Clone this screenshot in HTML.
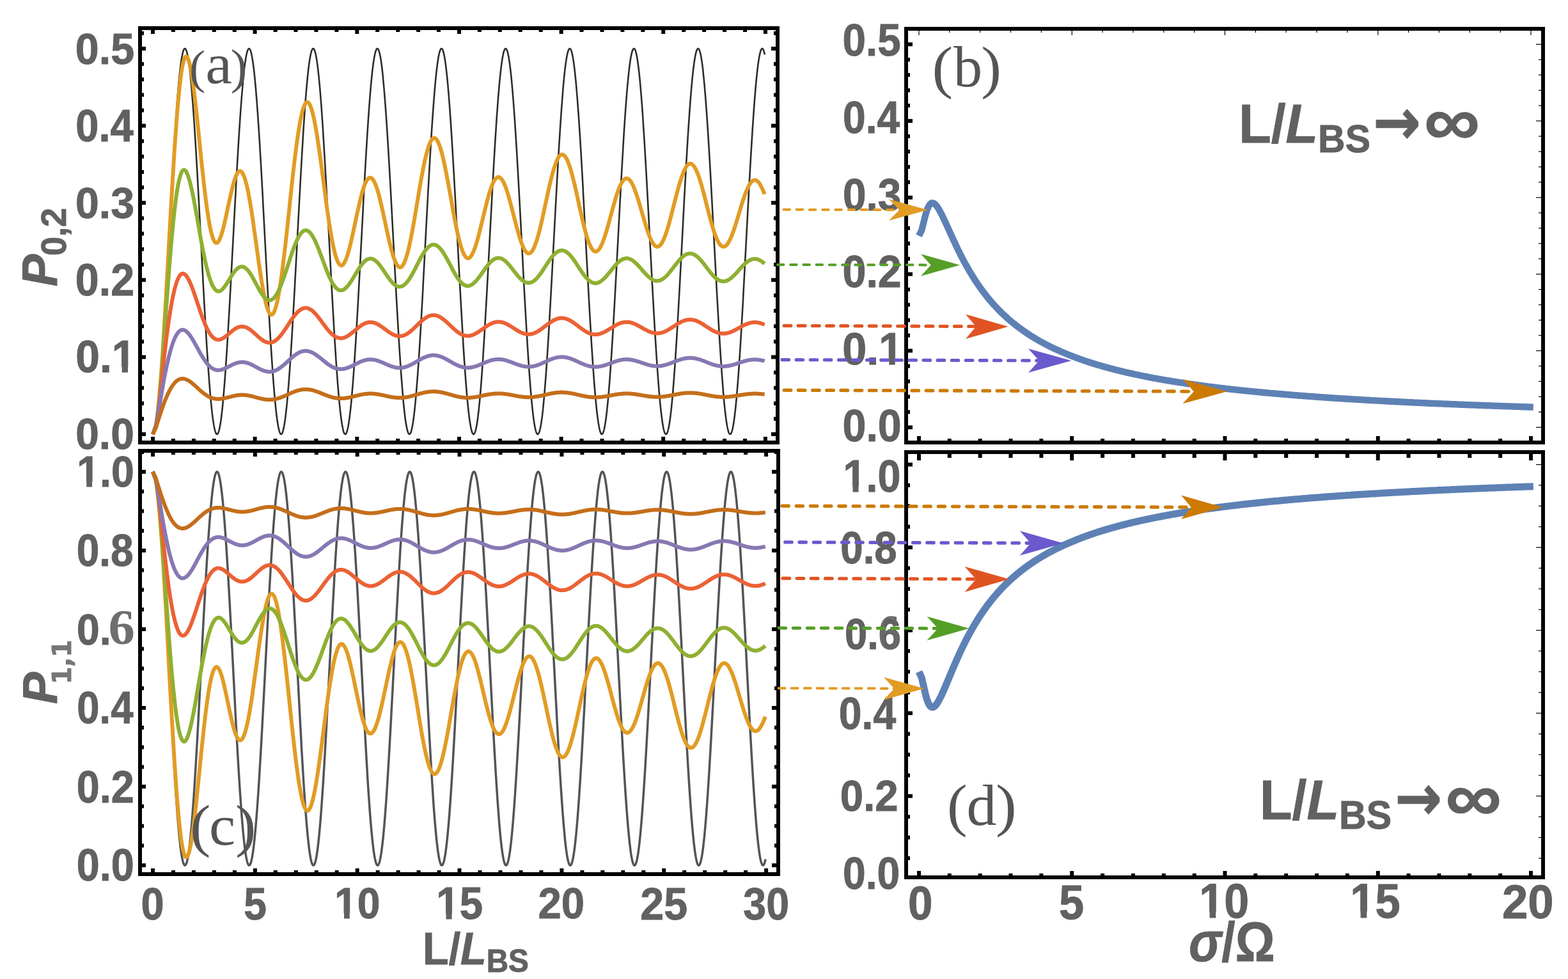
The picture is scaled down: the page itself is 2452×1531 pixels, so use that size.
<!DOCTYPE html>
<html lang="en"><head><meta charset="utf-8"><title>Figure</title>
<style>html,body{margin:0;padding:0;background:#fff;overflow:hidden}svg{display:block}</style>
</head><body>
<svg width="2452" height="1531" viewBox="0 0 2452 1531" role="img" aria-label="Two-photon probabilities versus coupler length and disorder">
<rect width="2452" height="1531" fill="#fff"/>
<g fill="none" stroke-linejoin="round">
<path d="M239.0 679.0L239.4 678.9L239.8 678.6L240.2 678.2L240.6 677.5L241.0 676.7L241.4 675.6L241.8 674.4L242.2 673.0L242.6 671.4L243.0 669.6L243.4 667.7L243.8 665.6L244.2 663.2L244.6 660.8L245.0 658.1L245.4 655.2L245.8 652.2L246.2 649.0L246.6 645.7L247.0 642.2L247.4 638.5L247.8 634.6L248.2 630.6L248.6 626.4L249.0 622.1L249.4 617.6L249.8 613.0L250.2 608.2L250.6 603.3L251.0 598.3L251.4 593.1L251.8 587.7L252.2 582.3L252.6 576.7L253.0 571.0L253.4 565.1L253.8 559.2L254.2 553.1L254.6 546.9L254.9 540.7L255.3 534.3L255.7 527.8L256.1 521.2L256.5 514.6L256.9 507.8L257.3 501.0L257.7 494.1L258.1 487.1L258.5 480.0L258.9 472.9L259.3 465.8L259.7 458.5L260.1 451.3L260.5 443.9L260.9 436.6L261.3 429.2L261.7 421.7L262.1 414.3L262.5 406.8L262.9 399.3L263.3 391.8L263.7 384.2L264.1 376.7L264.5 369.2L264.9 361.7L265.3 354.1L265.7 346.6L266.1 339.2L266.5 331.7L266.9 324.3L267.3 316.9L267.7 309.5L268.1 302.2L268.5 294.9L268.9 287.7L269.3 280.6L269.7 273.5L270.1 266.4L270.5 259.5L270.9 252.6L271.3 245.8L271.7 239.0L272.1 232.4L272.5 225.8L272.9 219.4L273.3 213.0L273.7 206.8L274.1 200.6L274.5 194.6L274.9 188.6L275.3 182.8L275.7 177.1L276.1 171.6L276.5 166.1L276.9 160.8L277.3 155.7L277.7 150.6L278.1 145.7L278.5 141.0L278.9 136.4L279.3 132.0L279.7 127.7L280.1 123.5L280.5 119.6L280.9 115.7L281.3 112.1L281.7 108.6L282.1 105.3L282.5 102.1L282.9 99.1L283.3 96.3L283.7 93.7L284.1 91.3L284.5 89.0L284.9 86.9L285.3 85.0L285.7 83.2L286.0 81.7L286.4 80.3L286.8 79.1L287.2 78.2L287.6 77.3L288.0 76.7L288.4 76.3L288.8 76.1L289.2 76.0L289.6 76.1L290.0 76.5L290.4 77.0L290.8 77.7L291.2 78.5L291.6 79.6L292.0 80.9L292.4 82.3L292.8 83.9L293.2 85.8L293.6 87.7L294.0 89.9L294.4 92.3L294.8 94.8L295.2 97.5L295.6 100.4L296.0 103.4L296.4 106.6L296.8 110.0L297.2 113.6L297.6 117.3L298.0 121.2L298.4 125.3L298.8 129.5L299.2 133.8L299.6 138.3L300.0 143.0L300.4 147.8L300.8 152.7L301.2 157.8L301.6 163.0L302.0 168.4L302.4 173.9L302.8 179.5L303.2 185.3L303.6 191.1L304.0 197.1L304.4 203.2L304.8 209.4L305.2 215.7L305.6 222.1L306.0 228.6L306.4 235.2L306.8 241.9L307.2 248.6L307.6 255.5L308.0 262.4L308.4 269.4L308.8 276.5L309.2 283.6L309.6 290.8L310.0 298.0L310.4 305.3L310.8 312.6L311.2 320.0L311.6 327.4L312.0 334.8L312.4 342.3L312.8 349.8L313.2 357.3L313.6 364.8L314.0 372.3L314.4 379.9L314.8 387.4L315.2 394.9L315.6 402.4L316.0 409.9L316.4 417.4L316.8 424.9L317.2 432.3L317.5 439.7L317.9 447.0L318.3 454.3L318.7 461.6L319.1 468.8L319.5 475.9L319.9 483.0L320.3 490.0L320.7 497.0L321.1 503.9L321.5 510.7L321.9 517.4L322.3 524.0L322.7 530.5L323.1 537.0L323.5 543.3L323.9 549.5L324.3 555.7L324.7 561.7L325.1 567.6L325.5 573.4L325.9 579.0L326.3 584.6L326.7 590.0L327.1 595.3L327.5 600.4L327.9 605.4L328.3 610.3L328.7 615.0L329.1 619.5L329.5 624.0L329.9 628.2L330.3 632.3L330.7 636.3L331.1 640.0L331.5 643.7L331.9 647.1L332.3 650.4L332.7 653.5L333.1 656.5L333.5 659.2L333.9 661.8L334.3 664.2L334.7 666.5L335.1 668.5L335.5 670.4L335.9 672.1L336.3 673.6L336.7 674.9L337.1 676.1L337.5 677.0L337.9 677.8L338.3 678.4L338.7 678.8L339.1 679.0L339.5 679.0L339.9 678.8L340.3 678.4L340.7 677.9L341.1 677.2L341.5 676.2L341.9 675.1L342.3 673.8L342.7 672.4L343.1 670.7L343.5 668.8L343.9 666.8L344.3 664.6L344.7 662.2L345.1 659.7L345.5 656.9L345.9 654.0L346.3 650.9L346.7 647.7L347.1 644.2L347.5 640.6L347.9 636.9L348.3 633.0L348.6 628.9L349.0 624.6L349.4 620.2L349.8 615.7L350.2 611.0L350.6 606.2L351.0 601.2L351.4 596.1L351.8 590.8L352.2 585.4L352.6 579.9L353.0 574.3L353.4 568.5L353.8 562.6L354.2 556.6L354.6 550.5L355.0 544.3L355.4 538.0L355.8 531.6L356.2 525.0L356.6 518.4L357.0 511.7L357.4 504.9L357.8 498.1L358.2 491.1L358.6 484.1L359.0 477.1L359.4 469.9L359.8 462.7L360.2 455.5L360.6 448.2L361.0 440.8L361.4 433.5L361.8 426.0L362.2 418.6L362.6 411.1L363.0 403.6L363.4 396.1L363.8 388.6L364.2 381.1L364.6 373.5L365.0 366.0L365.4 358.5L365.8 351.0L366.2 343.5L366.6 336.0L367.0 328.6L367.4 321.2L367.8 313.8L368.2 306.4L368.6 299.1L369.0 291.9L369.4 284.7L369.8 277.6L370.2 270.5L370.6 263.5L371.0 256.6L371.4 249.7L371.8 242.9L372.2 236.2L372.6 229.6L373.0 223.1L373.4 216.7L373.8 210.4L374.2 204.2L374.6 198.0L375.0 192.1L375.4 186.2L375.8 180.4L376.2 174.8L376.6 169.3L377.0 163.9L377.4 158.6L377.8 153.5L378.2 148.6L378.6 143.7L379.0 139.1L379.4 134.5L379.8 130.1L380.1 125.9L380.5 121.8L380.9 117.9L381.3 114.2L381.7 110.6L382.1 107.2L382.5 103.9L382.9 100.8L383.3 97.9L383.7 95.2L384.1 92.6L384.5 90.3L384.9 88.1L385.3 86.1L385.7 84.2L386.1 82.6L386.5 81.1L386.9 79.8L387.3 78.7L387.7 77.8L388.1 77.1L388.5 76.5L388.9 76.2L389.3 76.0L389.7 76.0L390.1 76.3L390.5 76.7L390.9 77.2L391.3 78.0L391.7 79.0L392.1 80.1L392.5 81.5L392.9 83.0L393.3 84.7L393.7 86.6L394.1 88.6L394.5 90.9L394.9 93.3L395.3 95.9L395.7 98.7L396.1 101.6L396.5 104.8L396.9 108.1L397.3 111.5L397.7 115.1L398.1 118.9L398.5 122.9L398.9 127.0L399.3 131.3L399.7 135.7L400.1 140.3L400.5 145.0L400.9 149.9L401.3 154.9L401.7 160.0L402.1 165.3L402.5 170.7L402.9 176.2L403.3 181.9L403.7 187.7L404.1 193.6L404.5 199.6L404.9 205.8L405.3 212.0L405.7 218.4L406.1 224.8L406.5 231.3L406.9 238.0L407.3 244.7L407.7 251.5L408.1 258.4L408.5 265.3L408.9 272.4L409.3 279.4L409.7 286.6L410.1 293.8L410.5 301.1L410.9 308.4L411.2 315.7L411.6 323.1L412.0 330.5L412.4 338.0L412.8 345.5L413.2 353.0L413.6 360.5L414.0 368.0L414.4 375.5L414.8 383.0L415.2 390.6L415.6 398.1L416.0 405.6L416.4 413.1L416.8 420.5L417.2 428.0L417.6 435.4L418.0 442.8L418.4 450.1L418.8 457.4L419.2 464.6L419.6 471.8L420.0 478.9L420.4 486.0L420.8 493.0L421.2 499.9L421.6 506.7L422.0 513.5L422.4 520.2L422.8 526.8L423.2 533.3L423.6 539.7L424.0 546.0L424.4 552.1L424.8 558.2L425.2 564.2L425.6 570.0L426.0 575.8L426.4 581.4L426.8 586.9L427.2 592.2L427.6 597.4L428.0 602.5L428.4 607.5L428.8 612.3L429.2 616.9L429.6 621.4L430.0 625.8L430.4 630.0L430.8 634.0L431.2 637.9L431.6 641.6L432.0 645.1L432.4 648.5L432.8 651.7L433.2 654.8L433.6 657.7L434.0 660.3L434.4 662.9L434.8 665.2L435.2 667.4L435.6 669.3L436.0 671.1L436.4 672.8L436.8 674.2L437.2 675.4L437.6 676.5L438.0 677.4L438.4 678.1L438.8 678.6L439.2 678.9L439.6 679.0L440.0 678.9L440.4 678.7L440.8 678.2L441.2 677.6L441.6 676.8L442.0 675.8L442.4 674.6L442.7 673.2L443.1 671.7L443.5 669.9L443.9 668.0L444.3 665.9L444.7 663.6L445.1 661.2L445.5 658.5L445.9 655.7L446.3 652.7L446.7 649.6L447.1 646.2L447.5 642.7L447.9 639.1L448.3 635.2L448.7 631.3L449.1 627.1L449.5 622.8L449.9 618.4L450.3 613.8L450.7 609.0L451.1 604.1L451.5 599.1L451.9 593.9L452.3 588.6L452.7 583.1L453.1 577.6L453.5 571.9L453.9 566.1L454.3 560.1L454.7 554.1L455.1 547.9L455.5 541.7L455.9 535.3L456.3 528.8L456.7 522.3L457.1 515.6L457.5 508.9L457.9 502.1L458.3 495.2L458.7 488.2L459.1 481.2L459.5 474.1L459.9 466.9L460.3 459.7L460.7 452.4L461.1 445.1L461.5 437.7L461.9 430.3L462.3 422.9L462.7 415.4L463.1 408.0L463.5 400.5L463.9 393.0L464.3 385.4L464.7 377.9L465.1 370.4L465.5 362.8L465.9 355.3L466.3 347.8L466.7 340.3L467.1 332.9L467.5 325.4L467.9 318.0L468.3 310.7L468.7 303.4L469.1 296.1L469.5 288.9L469.9 281.7L470.3 274.6L470.7 267.5L471.1 260.6L471.5 253.7L471.9 246.8L472.3 240.1L472.7 233.4L473.1 226.9L473.5 220.4L473.8 214.0L474.2 207.7L474.6 201.6L475.0 195.5L475.4 189.6L475.8 183.7L476.2 178.0L476.6 172.4L477.0 167.0L477.4 161.7L477.8 156.5L478.2 151.4L478.6 146.5L479.0 141.7L479.4 137.1L479.8 132.7L480.2 128.3L480.6 124.2L481.0 120.2L481.4 116.3L481.8 112.6L482.2 109.1L482.6 105.8L483.0 102.6L483.4 99.6L483.8 96.8L484.2 94.1L484.6 91.6L485.0 89.3L485.4 87.2L485.8 85.3L486.2 83.5L486.6 81.9L487.0 80.5L487.4 79.3L487.8 78.3L488.2 77.5L488.6 76.8L489.0 76.4L489.4 76.1L489.8 76.0L490.2 76.1L490.6 76.4L491.0 76.9L491.4 77.5L491.8 78.4L492.2 79.4L492.6 80.7L493.0 82.1L493.4 83.7L493.8 85.5L494.2 87.4L494.6 89.6L495.0 91.9L495.4 94.4L495.8 97.1L496.2 99.9L496.6 102.9L497.0 106.1L497.4 109.5L497.8 113.0L498.2 116.7L498.6 120.6L499.0 124.6L499.4 128.8L499.8 133.1L500.2 137.6L500.6 142.2L501.0 147.0L501.4 151.9L501.8 157.0L502.2 162.2L502.6 167.6L503.0 173.0L503.4 178.6L503.8 184.3L504.2 190.2L504.6 196.1L505.0 202.2L505.3 208.4L505.7 214.7L506.1 221.1L506.5 227.6L506.9 234.1L507.3 240.8L507.7 247.6L508.1 254.4L508.5 261.3L508.9 268.3L509.3 275.3L509.7 282.4L510.1 289.6L510.5 296.9L510.9 304.1L511.3 311.5L511.7 318.8L512.1 326.2L512.5 333.7L512.9 341.1L513.3 348.6L513.7 356.1L514.1 363.6L514.5 371.2L514.9 378.7L515.3 386.2L515.7 393.7L516.1 401.3L516.5 408.8L516.9 416.2L517.3 423.7L517.7 431.1L518.1 438.5L518.5 445.9L518.9 453.2L519.3 460.4L519.7 467.6L520.1 474.8L520.5 481.9L520.9 488.9L521.3 495.9L521.7 502.8L522.1 509.6L522.5 516.3L522.9 523.0L523.3 529.5L523.7 536.0L524.1 542.3L524.5 548.6L524.9 554.7L525.3 560.8L525.7 566.7L526.1 572.5L526.5 578.2L526.9 583.7L527.3 589.1L527.7 594.4L528.1 599.6L528.5 604.6L528.9 609.5L529.3 614.2L529.7 618.8L530.1 623.3L530.5 627.6L530.9 631.7L531.3 635.7L531.7 639.5L532.1 643.1L532.5 646.6L532.9 649.9L533.3 653.0L533.7 656.0L534.1 658.8L534.5 661.4L534.9 663.9L535.3 666.1L535.7 668.2L536.1 670.1L536.4 671.9L536.8 673.4L537.2 674.7L537.6 675.9L538.0 676.9L538.4 677.7L538.8 678.3L539.2 678.7L539.6 678.9L540.0 679.0L540.4 678.9L540.8 678.5L541.2 678.0L541.6 677.3L542.0 676.4L542.4 675.3L542.8 674.1L543.2 672.6L543.6 671.0L544.0 669.1L544.4 667.2L544.8 665.0L545.2 662.6L545.6 660.1L546.0 657.4L546.4 654.5L546.8 651.4L547.2 648.2L547.6 644.8L548.0 641.2L548.4 637.5L548.8 633.6L549.2 629.5L549.6 625.3L550.0 621.0L550.4 616.4L550.8 611.8L551.2 607.0L551.6 602.0L552.0 596.9L552.4 591.7L552.8 586.3L553.2 580.8L553.6 575.2L554.0 569.4L554.4 563.6L554.8 557.6L555.2 551.5L555.6 545.3L556.0 539.0L556.4 532.6L556.8 526.1L557.2 519.5L557.6 512.8L558.0 506.0L558.4 499.2L558.8 492.2L559.2 485.2L559.6 478.2L560.0 471.0L560.4 463.9L560.8 456.6L561.2 449.3L561.6 442.0L562.0 434.6L562.4 427.2L562.8 419.8L563.2 412.3L563.6 404.8L564.0 397.3L564.4 389.8L564.8 382.3L565.2 374.7L565.6 367.2L566.0 359.7L566.4 352.2L566.8 344.7L567.2 337.2L567.6 329.7L567.9 322.3L568.3 314.9L568.7 307.6L569.1 300.3L569.5 293.0L569.9 285.8L570.3 278.7L570.7 271.6L571.1 264.6L571.5 257.7L571.9 250.8L572.3 244.0L572.7 237.3L573.1 230.7L573.5 224.1L573.9 217.7L574.3 211.4L574.7 205.1L575.1 199.0L575.5 193.0L575.9 187.1L576.3 181.3L576.7 175.7L577.1 170.1L577.5 164.7L577.9 159.5L578.3 154.3L578.7 149.3L579.1 144.5L579.5 139.8L579.9 135.2L580.3 130.8L580.7 126.6L581.1 122.5L581.5 118.5L581.9 114.8L582.3 111.1L582.7 107.7L583.1 104.4L583.5 101.3L583.9 98.4L584.3 95.6L584.7 93.0L585.1 90.6L585.5 88.4L585.9 86.4L586.3 84.5L586.7 82.8L587.1 81.3L587.5 80.0L587.9 78.9L588.3 77.9L588.7 77.2L589.1 76.6L589.5 76.2L589.9 76.0L590.3 76.0L590.7 76.2L591.1 76.6L591.5 77.1L591.9 77.9L592.3 78.8L592.7 79.9L593.1 81.2L593.5 82.7L593.9 84.4L594.3 86.3L594.7 88.3L595.1 90.5L595.5 92.9L595.9 95.5L596.3 98.2L596.7 101.2L597.1 104.3L597.5 107.5L597.9 111.0L598.3 114.6L598.7 118.3L599.0 122.3L599.4 126.3L599.8 130.6L600.2 135.0L600.6 139.5L601.0 144.2L601.4 149.1L601.8 154.1L602.2 159.2L602.6 164.4L603.0 169.8L603.4 175.4L603.8 181.0L604.2 186.8L604.6 192.7L605.0 198.7L605.4 204.8L605.8 211.0L606.2 217.4L606.6 223.8L607.0 230.3L607.4 236.9L607.8 243.6L608.2 250.4L608.6 257.3L609.0 264.2L609.4 271.2L609.8 278.3L610.2 285.5L610.6 292.7L611.0 299.9L611.4 307.2L611.8 314.6L612.2 321.9L612.6 329.4L613.0 336.8L613.4 344.3L613.8 351.8L614.2 359.3L614.6 366.8L615.0 374.3L615.4 381.9L615.8 389.4L616.2 396.9L616.6 404.4L617.0 411.9L617.4 419.4L617.8 426.8L618.2 434.2L618.6 441.6L619.0 448.9L619.4 456.2L619.8 463.5L620.2 470.7L620.6 477.8L621.0 484.9L621.4 491.9L621.8 498.8L622.2 505.7L622.6 512.4L623.0 519.1L623.4 525.7L623.8 532.2L624.2 538.6L624.6 545.0L625.0 551.2L625.4 557.3L625.8 563.3L626.2 569.1L626.6 574.9L627.0 580.5L627.4 586.0L627.8 591.4L628.2 596.6L628.6 601.7L629.0 606.7L629.4 611.5L629.8 616.2L630.2 620.7L630.5 625.1L630.9 629.3L631.3 633.4L631.7 637.3L632.1 641.0L632.5 644.6L632.9 648.0L633.3 651.2L633.7 654.3L634.1 657.2L634.5 659.9L634.9 662.5L635.3 664.8L635.7 667.0L636.1 669.0L636.5 670.9L636.9 672.5L637.3 674.0L637.7 675.3L638.1 676.3L638.5 677.3L638.9 678.0L639.3 678.5L639.7 678.8L640.1 679.0L640.5 679.0L640.9 678.7L641.3 678.3L641.7 677.7L642.1 676.9L642.5 676.0L642.9 674.8L643.3 673.5L643.7 671.9L644.1 670.2L644.5 668.3L644.9 666.3L645.3 664.0L645.7 661.6L646.1 659.0L646.5 656.2L646.9 653.2L647.3 650.1L647.7 646.8L648.1 643.3L648.5 639.7L648.9 635.9L649.3 631.9L649.7 627.8L650.1 623.5L650.5 619.1L650.9 614.5L651.3 609.8L651.7 604.9L652.1 599.9L652.5 594.7L652.9 589.4L653.3 584.0L653.7 578.5L654.1 572.8L654.5 567.0L654.9 561.1L655.3 555.0L655.7 548.9L656.1 542.7L656.5 536.3L656.9 529.9L657.3 523.3L657.7 516.7L658.1 509.9L658.5 503.1L658.9 496.3L659.3 489.3L659.7 482.3L660.1 475.2L660.5 468.0L660.9 460.8L661.3 453.6L661.6 446.2L662.0 438.9L662.4 431.5L662.8 424.1L663.2 416.6L663.6 409.1L664.0 401.7L664.4 394.1L664.8 386.6L665.2 379.1L665.6 371.6L666.0 364.0L666.4 356.5L666.8 349.0L667.2 341.5L667.6 334.1L668.0 326.6L668.4 319.2L668.8 311.8L669.2 304.5L669.6 297.2L670.0 290.0L670.4 282.8L670.8 275.7L671.2 268.7L671.6 261.7L672.0 254.7L672.4 247.9L672.8 241.2L673.2 234.5L673.6 227.9L674.0 221.4L674.4 215.0L674.8 208.7L675.2 202.5L675.6 196.5L676.0 190.5L676.4 184.6L676.8 178.9L677.2 173.3L677.6 167.8L678.0 162.5L678.4 157.3L678.8 152.2L679.2 147.3L679.6 142.5L680.0 137.8L680.4 133.3L680.8 129.0L681.2 124.8L681.6 120.8L682.0 116.9L682.4 113.2L682.8 109.7L683.2 106.3L683.6 103.1L684.0 100.1L684.4 97.2L684.8 94.5L685.2 92.0L685.6 89.7L686.0 87.5L686.4 85.6L686.8 83.8L687.2 82.2L687.6 80.7L688.0 79.5L688.4 78.4L688.8 77.6L689.2 76.9L689.6 76.4L690.0 76.1L690.4 76.0L690.8 76.1L691.2 76.3L691.6 76.8L692.0 77.4L692.4 78.2L692.8 79.3L693.1 80.5L693.5 81.8L693.9 83.4L694.3 85.2L694.7 87.1L695.1 89.2L695.5 91.5L695.9 94.0L696.3 96.6L696.7 99.4L697.1 102.4L697.5 105.6L697.9 109.0L698.3 112.5L698.7 116.1L699.1 120.0L699.5 124.0L699.9 128.1L700.3 132.4L700.7 136.9L701.1 141.5L701.5 146.3L701.9 151.2L702.3 156.2L702.7 161.4L703.1 166.7L703.5 172.2L703.9 177.7L704.3 183.4L704.7 189.3L705.1 195.2L705.5 201.2L705.9 207.4L706.3 213.7L706.7 220.0L707.1 226.5L707.5 233.1L707.9 239.7L708.3 246.5L708.7 253.3L709.1 260.2L709.5 267.2L709.9 274.2L710.3 281.3L710.7 288.5L711.1 295.7L711.5 303.0L711.9 310.3L712.3 317.7L712.7 325.1L713.1 332.5L713.5 339.9L713.9 347.4L714.3 354.9L714.7 362.4L715.1 370.0L715.5 377.5L715.9 385.0L716.3 392.6L716.7 400.1L717.1 407.6L717.5 415.1L717.9 422.5L718.3 429.9L718.7 437.3L719.1 444.7L719.5 452.0L719.9 459.3L720.3 466.5L720.7 473.7L721.1 480.8L721.5 487.8L721.9 494.8L722.3 501.7L722.7 508.5L723.1 515.3L723.5 521.9L723.9 528.5L724.2 534.9L724.6 541.3L725.0 547.6L725.4 553.8L725.8 559.8L726.2 565.7L726.6 571.6L727.0 577.3L727.4 582.8L727.8 588.3L728.2 593.6L728.6 598.8L729.0 603.8L729.4 608.7L729.8 613.5L730.2 618.1L730.6 622.6L731.0 626.9L731.4 631.0L731.8 635.0L732.2 638.9L732.6 642.5L733.0 646.0L733.4 649.4L733.8 652.6L734.2 655.6L734.6 658.4L735.0 661.0L735.4 663.5L735.8 665.8L736.2 667.9L736.6 669.8L737.0 671.6L737.4 673.2L737.8 674.5L738.2 675.7L738.6 676.7L739.0 677.6L739.4 678.2L739.8 678.7L740.2 678.9L740.6 679.0L741.0 678.9L741.4 678.6L741.8 678.1L742.2 677.4L742.6 676.6L743.0 675.5L743.4 674.3L743.8 672.8L744.2 671.2L744.6 669.4L745.0 667.5L745.4 665.3L745.8 663.0L746.2 660.5L746.6 657.8L747.0 654.9L747.4 651.9L747.8 648.7L748.2 645.3L748.6 641.8L749.0 638.1L749.4 634.2L749.8 630.2L750.2 626.0L750.6 621.7L751.0 617.2L751.4 612.5L751.8 607.7L752.2 602.8L752.6 597.7L753.0 592.5L753.4 587.2L753.8 581.7L754.2 576.1L754.6 570.4L755.0 564.5L755.4 558.5L755.7 552.5L756.1 546.3L756.5 540.0L756.9 533.6L757.3 527.1L757.7 520.5L758.1 513.8L758.5 507.1L758.9 500.3L759.3 493.3L759.7 486.4L760.1 479.3L760.5 472.2L760.9 465.0L761.3 457.8L761.7 450.5L762.1 443.2L762.5 435.8L762.9 428.4L763.3 420.9L763.7 413.5L764.1 406.0L764.5 398.5L764.9 391.0L765.3 383.4L765.7 375.9L766.1 368.4L766.5 360.9L766.9 353.4L767.3 345.9L767.7 338.4L768.1 330.9L768.5 323.5L768.9 316.1L769.3 308.8L769.7 301.4L770.1 294.2L770.5 287.0L770.9 279.8L771.3 272.7L771.7 265.7L772.1 258.7L772.5 251.9L772.9 245.1L773.3 238.3L773.7 231.7L774.1 225.2L774.5 218.7L774.9 212.4L775.3 206.1L775.7 200.0L776.1 193.9L776.5 188.0L776.9 182.2L777.3 176.5L777.7 171.0L778.1 165.6L778.5 160.3L778.9 155.1L779.3 150.1L779.7 145.2L780.1 140.5L780.5 135.9L780.9 131.5L781.3 127.2L781.7 123.1L782.1 119.1L782.5 115.3L782.9 111.7L783.3 108.2L783.7 104.9L784.1 101.8L784.5 98.8L784.9 96.0L785.3 93.4L785.7 91.0L786.1 88.7L786.5 86.7L786.8 84.8L787.2 83.1L787.6 81.5L788.0 80.2L788.4 79.0L788.8 78.1L789.2 77.3L789.6 76.7L790.0 76.3L790.4 76.0L790.8 76.0L791.2 76.2L791.6 76.5L792.0 77.0L792.4 77.7L792.8 78.7L793.2 79.7L793.6 81.0L794.0 82.5L794.4 84.1L794.8 86.0L795.2 88.0L795.6 90.1L796.0 92.5L796.4 95.1L796.8 97.8L797.2 100.7L797.6 103.8L798.0 107.0L798.4 110.4L798.8 114.0L799.2 117.7L799.6 121.6L800.0 125.7L800.4 129.9L800.8 134.3L801.2 138.8L801.6 143.5L802.0 148.3L802.4 153.3L802.8 158.4L803.2 163.6L803.6 169.0L804.0 174.5L804.4 180.1L804.8 185.9L805.2 191.7L805.6 197.7L806.0 203.8L806.4 210.0L806.8 216.3L807.2 222.8L807.6 229.3L808.0 235.9L808.4 242.6L808.8 249.3L809.2 256.2L809.6 263.1L810.0 270.1L810.4 277.2L810.8 284.3L811.2 291.5L811.6 298.8L812.0 306.1L812.4 313.4L812.8 320.8L813.2 328.2L813.6 335.6L814.0 343.1L814.4 350.6L814.8 358.1L815.2 365.6L815.6 373.1L816.0 380.7L816.4 388.2L816.8 395.7L817.2 403.2L817.6 410.7L817.9 418.2L818.3 425.6L818.7 433.1L819.1 440.4L819.5 447.8L819.9 455.1L820.3 462.3L820.7 469.5L821.1 476.7L821.5 483.8L821.9 490.8L822.3 497.7L822.7 504.6L823.1 511.4L823.5 518.1L823.9 524.7L824.3 531.2L824.7 537.6L825.1 544.0L825.5 550.2L825.9 556.3L826.3 562.3L826.7 568.2L827.1 574.0L827.5 579.6L827.9 585.2L828.3 590.6L828.7 595.8L829.1 600.9L829.5 605.9L829.9 610.8L830.3 615.5L830.7 620.0L831.1 624.4L831.5 628.7L831.9 632.7L832.3 636.7L832.7 640.4L833.1 644.0L833.5 647.5L833.9 650.7L834.3 653.8L834.7 656.8L835.1 659.5L835.5 662.1L835.9 664.5L836.3 666.7L836.7 668.7L837.1 670.6L837.5 672.3L837.9 673.8L838.3 675.1L838.7 676.2L839.1 677.1L839.5 677.9L839.9 678.4L840.3 678.8L840.7 679.0L841.1 679.0L841.5 678.8L841.9 678.4L842.3 677.8L842.7 677.1L843.1 676.1L843.5 675.0L843.9 673.7L844.3 672.2L844.7 670.5L845.1 668.6L845.5 666.6L845.9 664.4L846.3 662.0L846.7 659.4L847.1 656.6L847.5 653.7L847.9 650.6L848.3 647.3L848.7 643.9L849.1 640.2L849.4 636.5L849.8 632.5L850.2 628.4L850.6 624.2L851.0 619.8L851.4 615.2L851.8 610.5L852.2 605.7L852.6 600.7L853.0 595.5L853.4 590.3L853.8 584.9L854.2 579.3L854.6 573.7L855.0 567.9L855.4 562.0L855.8 556.0L856.2 549.9L856.6 543.6L857.0 537.3L857.4 530.9L857.8 524.3L858.2 517.7L858.6 511.0L859.0 504.2L859.4 497.4L859.8 490.4L860.2 483.4L860.6 476.3L861.0 469.2L861.4 462.0L861.8 454.7L862.2 447.4L862.6 440.1L863.0 432.7L863.4 425.3L863.8 417.8L864.2 410.3L864.6 402.8L865.0 395.3L865.4 387.8L865.8 380.3L866.2 372.7L866.6 365.2L867.0 357.7L867.4 350.2L867.8 342.7L868.2 335.2L868.6 327.8L869.0 320.4L869.4 313.0L869.8 305.7L870.2 298.4L870.6 291.1L871.0 284.0L871.4 276.8L871.8 269.8L872.2 262.8L872.6 255.8L873.0 249.0L873.4 242.2L873.8 235.5L874.2 228.9L874.6 222.4L875.0 216.0L875.4 209.7L875.8 203.5L876.2 197.4L876.6 191.4L877.0 185.6L877.4 179.8L877.8 174.2L878.2 168.7L878.6 163.3L879.0 158.1L879.4 153.0L879.8 148.0L880.2 143.2L880.5 138.6L880.9 134.0L881.3 129.7L881.7 125.5L882.1 121.4L882.5 117.5L882.9 113.8L883.3 110.2L883.7 106.8L884.1 103.6L884.5 100.5L884.9 97.6L885.3 94.9L885.7 92.4L886.1 90.0L886.5 87.9L886.9 85.9L887.3 84.0L887.7 82.4L888.1 80.9L888.5 79.7L888.9 78.6L889.3 77.7L889.7 77.0L890.1 76.5L890.5 76.2L890.9 76.0L891.3 76.1L891.7 76.3L892.1 76.7L892.5 77.3L892.9 78.1L893.3 79.1L893.7 80.3L894.1 81.6L894.5 83.1L894.9 84.9L895.3 86.8L895.7 88.9L896.1 91.1L896.5 93.6L896.9 96.2L897.3 99.0L897.7 102.0L898.1 105.1L898.5 108.4L898.9 111.9L899.3 115.5L899.7 119.3L900.1 123.3L900.5 127.4L900.9 131.7L901.3 136.2L901.7 140.8L902.1 145.5L902.5 150.4L902.9 155.4L903.3 160.6L903.7 165.9L904.1 171.3L904.5 176.8L904.9 182.5L905.3 188.3L905.7 194.2L906.1 200.3L906.5 206.4L906.9 212.7L907.3 219.0L907.7 225.5L908.1 232.0L908.5 238.7L908.9 245.4L909.3 252.2L909.7 259.1L910.1 266.1L910.5 273.1L910.9 280.2L911.3 287.3L911.7 294.6L912.0 301.8L912.4 309.1L912.8 316.5L913.2 323.9L913.6 331.3L914.0 338.8L914.4 346.2L914.8 353.7L915.2 361.3L915.6 368.8L916.0 376.3L916.4 383.8L916.8 391.4L917.2 398.9L917.6 406.4L918.0 413.9L918.4 421.3L918.8 428.8L919.2 436.2L919.6 443.5L920.0 450.9L920.4 458.1L920.8 465.4L921.2 472.5L921.6 479.7L922.0 486.7L922.4 493.7L922.8 500.6L923.2 507.4L923.6 514.2L924.0 520.9L924.4 527.4L924.8 533.9L925.2 540.3L925.6 546.6L926.0 552.8L926.4 558.9L926.8 564.8L927.2 570.7L927.6 576.4L928.0 582.0L928.4 587.4L928.8 592.8L929.2 598.0L929.6 603.1L930.0 608.0L930.4 612.8L930.8 617.4L931.2 621.9L931.6 626.2L932.0 630.4L932.4 634.4L932.8 638.3L933.2 642.0L933.6 645.5L934.0 648.9L934.4 652.1L934.8 655.1L935.2 657.9L935.6 660.6L936.0 663.1L936.4 665.4L936.8 667.6L937.2 669.5L937.6 671.3L938.0 672.9L938.4 674.3L938.8 675.6L939.2 676.6L939.6 677.5L940.0 678.1L940.4 678.6L940.8 678.9L941.2 679.0L941.6 678.9L942.0 678.6L942.4 678.2L942.8 677.5L943.1 676.7L943.5 675.7L943.9 674.5L944.3 673.1L944.7 671.5L945.1 669.7L945.5 667.8L945.9 665.7L946.3 663.4L946.7 660.9L947.1 658.2L947.5 655.4L947.9 652.4L948.3 649.2L948.7 645.9L949.1 642.4L949.5 638.7L949.9 634.8L950.3 630.8L950.7 626.7L951.1 622.3L951.5 617.9L951.9 613.3L952.3 608.5L952.7 603.6L953.1 598.5L953.5 593.3L953.9 588.0L954.3 582.6L954.7 577.0L955.1 571.3L955.5 565.4L955.9 559.5L956.3 553.4L956.7 547.3L957.1 541.0L957.5 534.6L957.9 528.1L958.3 521.6L958.7 514.9L959.1 508.2L959.5 501.3L959.9 494.4L960.3 487.5L960.7 480.4L961.1 473.3L961.5 466.1L961.9 458.9L962.3 451.6L962.7 444.3L963.1 437.0L963.5 429.6L963.9 422.1L964.3 414.7L964.7 407.2L965.1 399.7L965.5 392.2L965.9 384.6L966.3 377.1L966.7 369.6L967.1 362.1L967.5 354.5L967.9 347.0L968.3 339.6L968.7 332.1L969.1 324.7L969.5 317.3L969.9 309.9L970.3 302.6L970.7 295.3L971.1 288.1L971.5 280.9L971.9 273.8L972.3 266.8L972.7 259.8L973.1 252.9L973.5 246.1L973.9 239.4L974.3 232.7L974.6 226.2L975.0 219.7L975.4 213.3L975.8 207.1L976.2 200.9L976.6 194.9L977.0 188.9L977.4 183.1L977.8 177.4L978.2 171.9L978.6 166.4L979.0 161.1L979.4 155.9L979.8 150.9L980.2 146.0L980.6 141.3L981.0 136.6L981.4 132.2L981.8 127.9L982.2 123.7L982.6 119.8L983.0 115.9L983.4 112.3L983.8 108.8L984.2 105.4L984.6 102.3L985.0 99.3L985.4 96.5L985.8 93.8L986.2 91.4L986.6 89.1L987.0 87.0L987.4 85.1L987.8 83.3L988.2 81.8L988.6 80.4L989.0 79.2L989.4 78.2L989.8 77.4L990.2 76.8L990.6 76.3L991.0 76.1L991.4 76.0L991.8 76.1L992.2 76.4L992.6 76.9L993.0 77.6L993.4 78.5L993.8 79.6L994.2 80.8L994.6 82.2L995.0 83.9L995.4 85.6L995.8 87.6L996.2 89.8L996.6 92.1L997.0 94.7L997.4 97.3L997.8 100.2L998.2 103.3L998.6 106.5L999.0 109.9L999.4 113.4L999.8 117.1L1000.2 121.0L1000.6 125.0L1001.0 129.2L1001.4 133.6L1001.8 138.1L1002.2 142.7L1002.6 147.5L1003.0 152.5L1003.4 157.6L1003.8 162.8L1004.2 168.1L1004.6 173.6L1005.0 179.2L1005.4 184.9L1005.7 190.8L1006.1 196.8L1006.5 202.9L1006.9 209.0L1007.3 215.3L1007.7 221.7L1008.1 228.2L1008.5 234.8L1008.9 241.5L1009.3 248.3L1009.7 255.1L1010.1 262.0L1010.5 269.0L1010.9 276.1L1011.3 283.2L1011.7 290.4L1012.1 297.6L1012.5 304.9L1012.9 312.2L1013.3 319.6L1013.7 327.0L1014.1 334.4L1014.5 341.9L1014.9 349.4L1015.3 356.9L1015.7 364.4L1016.1 371.9L1016.5 379.5L1016.9 387.0L1017.3 394.5L1017.7 402.0L1018.1 409.5L1018.5 417.0L1018.9 424.5L1019.3 431.9L1019.7 439.3L1020.1 446.6L1020.5 453.9L1020.9 461.2L1021.3 468.4L1021.7 475.6L1022.1 482.6L1022.5 489.7L1022.9 496.6L1023.3 503.5L1023.7 510.3L1024.1 517.0L1024.5 523.6L1024.9 530.2L1025.3 536.6L1025.7 543.0L1026.1 549.2L1026.5 555.4L1026.9 561.4L1027.3 567.3L1027.7 573.1L1028.1 578.7L1028.5 584.3L1028.9 589.7L1029.3 595.0L1029.7 600.1L1030.1 605.1L1030.5 610.0L1030.9 614.7L1031.3 619.3L1031.7 623.7L1032.1 628.0L1032.5 632.1L1032.9 636.1L1033.3 639.9L1033.7 643.5L1034.1 646.9L1034.5 650.2L1034.9 653.4L1035.3 656.3L1035.7 659.1L1036.1 661.7L1036.5 664.1L1036.9 666.4L1037.2 668.4L1037.6 670.3L1038.0 672.0L1038.4 673.5L1038.8 674.9L1039.2 676.0L1039.6 677.0L1040.0 677.8L1040.4 678.3L1040.8 678.7L1041.2 679.0L1041.6 679.0L1042.0 678.8L1042.4 678.5L1042.8 677.9L1043.2 677.2L1043.6 676.3L1044.0 675.2L1044.4 673.9L1044.8 672.4L1045.2 670.8L1045.6 668.9L1046.0 666.9L1046.4 664.7L1046.8 662.4L1047.2 659.8L1047.6 657.1L1048.0 654.2L1048.4 651.1L1048.8 647.8L1049.2 644.4L1049.6 640.8L1050.0 637.1L1050.4 633.2L1050.8 629.1L1051.2 624.9L1051.6 620.5L1052.0 616.0L1052.4 611.3L1052.8 606.4L1053.2 601.5L1053.6 596.4L1054.0 591.1L1054.4 585.7L1054.8 580.2L1055.2 574.6L1055.6 568.8L1056.0 563.0L1056.4 557.0L1056.8 550.9L1057.2 544.6L1057.6 538.3L1058.0 531.9L1058.4 525.4L1058.8 518.8L1059.2 512.1L1059.6 505.3L1060.0 498.4L1060.4 491.5L1060.8 484.5L1061.2 477.4L1061.6 470.3L1062.0 463.1L1062.4 455.9L1062.8 448.6L1063.2 441.2L1063.6 433.8L1064.0 426.4L1064.4 419.0L1064.8 411.5L1065.2 404.0L1065.6 396.5L1066.0 389.0L1066.4 381.5L1066.8 373.9L1067.2 366.4L1067.6 358.9L1068.0 351.4L1068.3 343.9L1068.7 336.4L1069.1 329.0L1069.5 321.6L1069.9 314.2L1070.3 306.8L1070.7 299.5L1071.1 292.3L1071.5 285.1L1071.9 278.0L1072.3 270.9L1072.7 263.9L1073.1 256.9L1073.5 250.1L1073.9 243.3L1074.3 236.6L1074.7 230.0L1075.1 223.4L1075.5 217.0L1075.9 210.7L1076.3 204.5L1076.7 198.4L1077.1 192.4L1077.5 186.5L1077.9 180.7L1078.3 175.1L1078.7 169.6L1079.1 164.2L1079.5 158.9L1079.9 153.8L1080.3 148.8L1080.7 144.0L1081.1 139.3L1081.5 134.8L1081.9 130.4L1082.3 126.1L1082.7 122.0L1083.1 118.1L1083.5 114.4L1083.9 110.8L1084.3 107.4L1084.7 104.1L1085.1 101.0L1085.5 98.1L1085.9 95.3L1086.3 92.8L1086.7 90.4L1087.1 88.2L1087.5 86.2L1087.9 84.3L1088.3 82.6L1088.7 81.2L1089.1 79.9L1089.5 78.8L1089.9 77.8L1090.3 77.1L1090.7 76.6L1091.1 76.2L1091.5 76.0L1091.9 76.0L1092.3 76.2L1092.7 76.6L1093.1 77.2L1093.5 78.0L1093.9 78.9L1094.3 80.1L1094.7 81.4L1095.1 82.9L1095.5 84.6L1095.9 86.5L1096.3 88.5L1096.7 90.8L1097.1 93.2L1097.5 95.8L1097.9 98.5L1098.3 101.5L1098.7 104.6L1099.1 107.9L1099.5 111.3L1099.8 115.0L1100.2 118.7L1100.6 122.7L1101.0 126.8L1101.4 131.0L1101.8 135.5L1102.2 140.0L1102.6 144.7L1103.0 149.6L1103.4 154.6L1103.8 159.7L1104.2 165.0L1104.6 170.4L1105.0 176.0L1105.4 181.6L1105.8 187.4L1106.2 193.3L1106.6 199.3L1107.0 205.4L1107.4 211.7L1107.8 218.0L1108.2 224.5L1108.6 231.0L1109.0 237.6L1109.4 244.3L1109.8 251.1L1110.2 258.0L1110.6 265.0L1111.0 272.0L1111.4 279.1L1111.8 286.2L1112.2 293.4L1112.6 300.7L1113.0 308.0L1113.4 315.3L1113.8 322.7L1114.2 330.1L1114.6 337.6L1115.0 345.1L1115.4 352.6L1115.8 360.1L1116.2 367.6L1116.6 375.1L1117.0 382.6L1117.4 390.2L1117.8 397.7L1118.2 405.2L1118.6 412.7L1119.0 420.2L1119.4 427.6L1119.8 435.0L1120.2 442.4L1120.6 449.7L1121.0 457.0L1121.4 464.2L1121.8 471.4L1122.2 478.5L1122.6 485.6L1123.0 492.6L1123.4 499.5L1123.8 506.4L1124.2 513.1L1124.6 519.8L1125.0 526.4L1125.4 532.9L1125.8 539.3L1126.2 545.6L1126.6 551.8L1127.0 557.9L1127.4 563.9L1127.8 569.7L1128.2 575.5L1128.6 581.1L1129.0 586.6L1129.4 591.9L1129.8 597.2L1130.2 602.3L1130.6 607.2L1130.9 612.0L1131.3 616.7L1131.7 621.2L1132.1 625.5L1132.5 629.7L1132.9 633.8L1133.3 637.7L1133.7 641.4L1134.1 645.0L1134.5 648.3L1134.9 651.6L1135.3 654.6L1135.7 657.5L1136.1 660.2L1136.5 662.7L1136.9 665.1L1137.3 667.3L1137.7 669.2L1138.1 671.1L1138.5 672.7L1138.9 674.1L1139.3 675.4L1139.7 676.5L1140.1 677.3L1140.5 678.0L1140.9 678.5L1141.3 678.9L1141.7 679.0L1142.1 678.9L1142.5 678.7L1142.9 678.3L1143.3 677.7L1143.7 676.8L1144.1 675.9L1144.5 674.7L1144.9 673.3L1145.3 671.8L1145.7 670.0L1146.1 668.1L1146.5 666.0L1146.9 663.8L1147.3 661.3L1147.7 658.7L1148.1 655.9L1148.5 652.9L1148.9 649.7L1149.3 646.4L1149.7 642.9L1150.1 639.3L1150.5 635.4L1150.9 631.5L1151.3 627.3L1151.7 623.0L1152.1 618.6L1152.5 614.0L1152.9 609.3L1153.3 604.4L1153.7 599.3L1154.1 594.2L1154.5 588.9L1154.9 583.4L1155.3 577.9L1155.7 572.2L1156.1 566.4L1156.5 560.4L1156.9 554.4L1157.3 548.2L1157.7 542.0L1158.1 535.6L1158.5 529.2L1158.9 522.6L1159.3 516.0L1159.7 509.2L1160.1 502.4L1160.5 495.5L1160.9 488.6L1161.3 481.5L1161.7 474.4L1162.1 467.3L1162.4 460.1L1162.8 452.8L1163.2 445.5L1163.6 438.1L1164.0 430.7L1164.4 423.3L1164.8 415.8L1165.2 408.4L1165.6 400.9L1166.0 393.3L1166.4 385.8L1166.8 378.3L1167.2 370.8L1167.6 363.2L1168.0 355.7L1168.4 348.2L1168.8 340.7L1169.2 333.3L1169.6 325.8L1170.0 318.4L1170.4 311.1L1170.8 303.8L1171.2 296.5L1171.6 289.2L1172.0 282.1L1172.4 275.0L1172.8 267.9L1173.2 260.9L1173.6 254.0L1174.0 247.2L1174.4 240.4L1174.8 233.8L1175.2 227.2L1175.6 220.7L1176.0 214.3L1176.4 208.1L1176.8 201.9L1177.2 195.8L1177.6 189.9L1178.0 184.0L1178.4 178.3L1178.8 172.7L1179.2 167.3L1179.6 161.9L1180.0 156.7L1180.4 151.7L1180.8 146.8L1181.2 142.0L1181.6 137.4L1182.0 132.9L1182.4 128.6L1182.8 124.4L1183.2 120.4L1183.6 116.5L1184.0 112.8L1184.4 109.3L1184.8 106.0L1185.2 102.8L1185.6 99.8L1186.0 96.9L1186.4 94.2L1186.8 91.8L1187.2 89.4L1187.6 87.3L1188.0 85.4L1188.4 83.6L1188.8 82.0L1189.2 80.6L1189.6 79.4L1190.0 78.3L1190.4 77.5L1190.8 76.8L1191.2 76.4L1191.6 76.1L1192.0 76.0L1192.4 76.1L1192.8 76.4L1193.2 76.8L1193.5 77.5L1193.9 78.3L1194.3 79.4L1194.7 80.6L1195.1 82.0L1195.5 83.6L1195.9 85.4" stroke="#2C2D27" stroke-width="2.6"/>
<path d="M239.0 679.0L243.8 665.5L244.6 660.8L245.4 655.3L246.2 649.1L247.0 642.2L247.8 634.7L248.6 626.6L249.4 617.9L250.2 608.6L251.0 598.7L251.8 588.3L252.6 577.4L253.4 566.0L254.2 554.2L255.0 542.0L255.7 529.4L256.5 516.4L257.3 503.2L258.1 489.7L258.9 475.9L259.7 461.9L260.5 447.8L261.3 433.6L262.1 419.2L262.9 404.8L263.7 390.4L264.5 376.0L265.3 361.6L266.1 347.3L266.9 333.2L267.7 319.1L268.5 305.3L269.3 291.7L270.1 278.4L270.9 265.3L271.7 252.5L272.5 240.1L273.3 228.0L274.1 216.3L274.9 205.0L275.7 194.2L276.5 183.8L277.3 173.9L278.1 164.5L278.9 155.5L279.7 147.1L280.5 139.3L281.3 131.9L282.1 125.2L282.9 119.0L283.6 113.3L284.4 108.3L285.2 103.8L286.0 99.9L286.8 96.5L287.6 93.8L288.4 91.6L289.2 90.0L290.0 88.9L290.8 88.4L291.6 88.5L292.4 89.1L293.2 90.2L294.0 91.8L294.8 93.9L295.6 96.4L296.4 99.5L297.2 103.0L298.0 106.9L298.8 111.2L299.6 115.9L300.4 121.0L301.2 126.4L302.0 132.1L302.8 138.2L303.6 144.5L304.4 151.1L305.2 157.9L306.0 164.9L306.8 172.1L307.6 179.4L308.4 186.9L309.2 194.5L310.0 202.2L310.8 210.0L311.5 217.7L312.3 225.5L313.1 233.3L313.9 241.1L314.7 248.8L315.5 256.5L316.3 264.0L317.1 271.4L317.9 278.7L318.7 285.9L319.5 292.9L320.3 299.7L321.1 306.3L321.9 312.6L322.7 318.8L323.5 324.7L324.3 330.3L325.1 335.7L325.9 340.8L326.7 345.6L327.5 350.1L328.3 354.3L329.1 358.2L329.9 361.8L330.7 365.1L331.5 368.0L332.3 370.6L333.1 372.9L333.9 374.8L334.7 376.5L335.5 377.8L336.3 378.8L337.1 379.5L337.9 379.8L338.7 379.9L339.5 379.7L340.2 379.1L341.0 378.3L341.8 377.3L342.6 375.9L343.4 374.3L344.2 372.5L345.0 370.4L345.8 368.2L346.6 365.7L347.4 363.0L348.2 360.2L349.0 357.2L349.8 354.0L350.6 350.7L351.4 347.3L352.2 343.9L353.0 340.3L353.8 336.6L354.6 333.0L355.4 329.2L356.2 325.5L357.0 321.7L357.8 318.0L358.6 314.3L359.4 310.7L360.2 307.1L361.0 303.5L361.8 300.1L362.6 296.8L363.4 293.6L364.2 290.5L365.0 287.6L365.8 284.8L366.6 282.2L367.4 279.8L368.1 277.6L368.9 275.5L369.7 273.7L370.5 272.1L371.3 270.8L372.1 269.6L372.9 268.7L373.7 268.1L374.5 267.7L375.3 267.6L376.1 267.7L376.9 268.1L377.7 268.7L378.5 269.6L379.3 270.8L380.1 272.3L380.9 274.0L381.7 276.0L382.5 278.2L383.3 280.7L384.1 283.4L384.9 286.4L385.7 289.6L386.5 293.0L387.3 296.7L388.1 300.6L388.9 304.7L389.7 309.0L390.5 313.4L391.3 318.1L392.1 322.9L392.9 327.8L393.7 332.9L394.5 338.2L395.3 343.5L396.1 348.9L396.8 354.5L397.6 360.1L398.4 365.7L399.2 371.4L400.0 377.2L400.8 382.9L401.6 388.6L402.4 394.4L403.2 400.1L404.0 405.7L404.8 411.3L405.6 416.8L406.4 422.2L407.2 427.5L408.0 432.7L408.8 437.8L409.6 442.7L410.4 447.4L411.2 452.0L412.0 456.3L412.8 460.5L413.6 464.5L414.4 468.2L415.2 471.7L416.0 475.0L416.8 478.0L417.6 480.7L418.4 483.2L419.2 485.3L420.0 487.2L420.8 488.8L421.6 490.1L422.4 491.1L423.2 491.8L424.0 492.1L424.7 492.2L425.5 491.9L426.3 491.3L427.1 490.4L427.9 489.1L428.7 487.5L429.5 485.7L430.3 483.4L431.1 480.9L431.9 478.1L432.7 475.0L433.5 471.5L434.3 467.8L435.1 463.8L435.9 459.5L436.7 454.9L437.5 450.1L438.3 445.0L439.1 439.7L439.9 434.1L440.7 428.3L441.5 422.3L442.3 416.1L443.1 409.7L443.9 403.2L444.7 396.5L445.5 389.6L446.3 382.6L447.1 375.5L447.9 368.3L448.7 361.0L449.5 353.6L450.3 346.2L451.1 338.7L451.9 331.2L452.7 323.7L453.4 316.2L454.2 308.8L455.0 301.3L455.8 293.9L456.6 286.6L457.4 279.4L458.2 272.2L459.0 265.2L459.8 258.3L460.6 251.5L461.4 244.9L462.2 238.5L463.0 232.2L463.8 226.2L464.6 220.3L465.4 214.7L466.2 209.2L467.0 204.1L467.8 199.1L468.6 194.5L469.4 190.0L470.2 185.9L471.0 182.1L471.8 178.5L472.6 175.2L473.4 172.3L474.2 169.6L475.0 167.3L475.8 165.2L476.6 163.5L477.4 162.1L478.2 161.0L479.0 160.3L479.8 159.8L480.6 159.7L481.3 159.9L482.1 160.4L482.9 161.2L483.7 162.3L484.5 163.8L485.3 165.5L486.1 167.5L486.9 169.8L487.7 172.4L488.5 175.3L489.3 178.4L490.1 181.8L490.9 185.4L491.7 189.3L492.5 193.4L493.3 197.7L494.1 202.2L494.9 206.9L495.7 211.8L496.5 216.8L497.3 222.0L498.1 227.4L498.9 232.9L499.7 238.5L500.5 244.2L501.3 250.0L502.1 255.9L502.9 261.8L503.7 267.8L504.5 273.8L505.3 279.8L506.1 285.9L506.9 291.9L507.7 298.0L508.5 303.9L509.3 309.9L510.0 315.8L510.8 321.6L511.6 327.3L512.4 332.9L513.2 338.4L514.0 343.8L514.8 349.1L515.6 354.2L516.4 359.2L517.2 364.0L518.0 368.6L518.8 373.1L519.6 377.3L520.4 381.4L521.2 385.2L522.0 388.9L522.8 392.3L523.6 395.5L524.4 398.4L525.2 401.2L526.0 403.7L526.8 405.9L527.6 407.9L528.4 409.7L529.2 411.2L530.0 412.5L530.8 413.5L531.6 414.3L532.4 414.8L533.2 415.1L534.0 415.2L534.8 415.0L535.6 414.5L536.4 413.9L537.2 413.0L537.9 411.9L538.7 410.6L539.5 409.0L540.3 407.3L541.1 405.4L541.9 403.3L542.7 401.0L543.5 398.5L544.3 395.9L545.1 393.1L545.9 390.2L546.7 387.2L547.5 384.0L548.3 380.7L549.1 377.4L549.9 373.9L550.7 370.3L551.5 366.7L552.3 363.1L553.1 359.3L553.9 355.6L554.7 351.8L555.5 348.0L556.3 344.2L557.1 340.5L557.9 336.7L558.7 333.0L559.5 329.3L560.3 325.7L561.1 322.2L561.9 318.7L562.7 315.3L563.5 312.0L564.3 308.9L565.1 305.8L565.9 302.8L566.6 300.0L567.4 297.4L568.2 294.8L569.0 292.5L569.8 290.3L570.6 288.2L571.4 286.3L572.2 284.6L573.0 283.1L573.8 281.8L574.6 280.7L575.4 279.7L576.2 279.0L577.0 278.4L577.8 278.1L578.6 277.9L579.4 277.9L580.2 278.2L581.0 278.6L581.8 279.3L582.6 280.1L583.4 281.1L584.2 282.4L585.0 283.8L585.8 285.3L586.6 287.1L587.4 289.0L588.2 291.1L589.0 293.4L589.8 295.8L590.6 298.4L591.4 301.1L592.2 303.9L593.0 306.9L593.8 310.0L594.5 313.2L595.3 316.4L596.1 319.8L596.9 323.3L597.7 326.8L598.5 330.4L599.3 334.0L600.1 337.7L600.9 341.4L601.7 345.1L602.5 348.9L603.3 352.6L604.1 356.3L604.9 360.0L605.7 363.7L606.5 367.3L607.3 370.9L608.1 374.4L608.9 377.9L609.7 381.2L610.5 384.5L611.3 387.6L612.1 390.7L612.9 393.6L613.7 396.4L614.5 399.0L615.3 401.6L616.1 403.9L616.9 406.1L617.7 408.1L618.5 410.0L619.3 411.7L620.1 413.2L620.9 414.5L621.7 415.6L622.5 416.5L623.2 417.2L624.0 417.7L624.8 418.0L625.6 418.1L626.4 418.0L627.2 417.6L628.0 417.1L628.8 416.3L629.6 415.3L630.4 414.1L631.2 412.8L632.0 411.1L632.8 409.3L633.6 407.3L634.4 405.1L635.2 402.7L636.0 400.1L636.8 397.4L637.6 394.4L638.4 391.3L639.2 388.0L640.0 384.6L640.8 381.0L641.6 377.2L642.4 373.4L643.2 369.4L644.0 365.3L644.8 361.0L645.6 356.7L646.4 352.3L647.2 347.8L648.0 343.2L648.8 338.6L649.6 333.9L650.4 329.2L651.1 324.5L651.9 319.7L652.7 314.9L653.5 310.2L654.3 305.4L655.1 300.7L655.9 296.0L656.7 291.4L657.5 286.8L658.3 282.3L659.1 277.8L659.9 273.5L660.7 269.2L661.5 265.1L662.3 261.0L663.1 257.1L663.9 253.3L664.7 249.7L665.5 246.2L666.3 242.9L667.1 239.7L667.9 236.7L668.7 233.9L669.5 231.3L670.3 228.8L671.1 226.6L671.9 224.6L672.7 222.7L673.5 221.1L674.3 219.7L675.1 218.5L675.9 217.5L676.7 216.8L677.5 216.2L678.3 215.9L679.0 215.8L679.8 215.9L680.6 216.3L681.4 216.9L682.2 217.6L683.0 218.7L683.8 219.9L684.6 221.3L685.4 222.9L686.2 224.8L687.0 226.8L687.8 229.0L688.6 231.4L689.4 234.0L690.2 236.8L691.0 239.7L691.8 242.8L692.6 246.1L693.4 249.5L694.2 253.0L695.0 256.7L695.8 260.5L696.6 264.4L697.4 268.3L698.2 272.4L699.0 276.6L699.8 280.8L700.6 285.1L701.4 289.5L702.2 293.9L703.0 298.3L703.8 302.8L704.6 307.3L705.4 311.7L706.2 316.2L707.0 320.6L707.7 325.1L708.5 329.4L709.3 333.8L710.1 338.0L710.9 342.2L711.7 346.4L712.5 350.4L713.3 354.3L714.1 358.2L714.9 361.9L715.7 365.5L716.5 369.0L717.3 372.4L718.1 375.6L718.9 378.6L719.7 381.5L720.5 384.3L721.3 386.9L722.1 389.3L722.9 391.5L723.7 393.6L724.5 395.5L725.3 397.2L726.1 398.7L726.9 400.0L727.7 401.1L728.5 402.0L729.3 402.8L730.1 403.3L730.9 403.7L731.7 403.8L732.5 403.8L733.3 403.6L734.1 403.1L734.9 402.5L735.6 401.8L736.4 400.8L737.2 399.7L738.0 398.3L738.8 396.9L739.6 395.2L740.4 393.4L741.2 391.5L742.0 389.4L742.8 387.2L743.6 384.8L744.4 382.4L745.2 379.8L746.0 377.1L746.8 374.3L747.6 371.4L748.4 368.4L749.2 365.3L750.0 362.2L750.8 359.1L751.6 355.8L752.4 352.6L753.2 349.3L754.0 346.0L754.8 342.6L755.6 339.3L756.4 336.0L757.2 332.7L758.0 329.4L758.8 326.1L759.6 322.9L760.4 319.8L761.2 316.7L762.0 313.6L762.8 310.7L763.6 307.8L764.3 305.0L765.1 302.3L765.9 299.8L766.7 297.3L767.5 294.9L768.3 292.7L769.1 290.6L769.9 288.6L770.7 286.8L771.5 285.1L772.3 283.6L773.1 282.2L773.9 281.0L774.7 279.9L775.5 279.0L776.3 278.3L777.1 277.7L777.9 277.3L778.7 277.1L779.5 277.0L780.3 277.1L781.1 277.4L781.9 277.8L782.7 278.4L783.5 279.1L784.3 280.0L785.1 281.1L785.9 282.3L786.7 283.7L787.5 285.2L788.3 286.9L789.1 288.7L789.9 290.6L790.7 292.7L791.5 294.9L792.2 297.2L793.0 299.6L793.8 302.1L794.6 304.7L795.4 307.4L796.2 310.2L797.0 313.0L797.8 315.9L798.6 318.9L799.4 321.9L800.2 325.0L801.0 328.1L801.8 331.2L802.6 334.3L803.4 337.5L804.2 340.6L805.0 343.7L805.8 346.8L806.6 349.9L807.4 353.0L808.2 356.0L809.0 358.9L809.8 361.8L810.6 364.6L811.4 367.4L812.2 370.0L813.0 372.6L813.8 375.0L814.6 377.4L815.4 379.6L816.2 381.8L817.0 383.8L817.8 385.6L818.6 387.4L819.4 389.0L820.2 390.4L820.9 391.7L821.7 392.9L822.5 393.9L823.3 394.7L824.1 395.3L824.9 395.8L825.7 396.2L826.5 396.3L827.3 396.3L828.1 396.1L828.9 395.7L829.7 395.2L830.5 394.5L831.3 393.6L832.1 392.6L832.9 391.4L833.7 390.0L834.5 388.5L835.3 386.8L836.1 384.9L836.9 382.9L837.7 380.7L838.5 378.5L839.3 376.0L840.1 373.5L840.9 370.8L841.7 368.0L842.5 365.0L843.3 362.0L844.1 358.9L844.9 355.6L845.7 352.3L846.5 348.9L847.3 345.5L848.1 342.0L848.8 338.4L849.6 334.8L850.4 331.1L851.2 327.4L852.0 323.7L852.8 320.0L853.6 316.3L854.4 312.5L855.2 308.8L856.0 305.1L856.8 301.5L857.6 297.9L858.4 294.3L859.2 290.8L860.0 287.4L860.8 284.0L861.6 280.7L862.4 277.5L863.2 274.4L864.0 271.4L864.8 268.5L865.6 265.8L866.4 263.1L867.2 260.6L868.0 258.2L868.8 256.0L869.6 253.9L870.4 251.9L871.2 250.2L872.0 248.5L872.8 247.1L873.6 245.8L874.4 244.7L875.2 243.7L876.0 242.9L876.8 242.3L877.5 241.9L878.3 241.7L879.1 241.6L879.9 241.7L880.7 242.0L881.5 242.5L882.3 243.1L883.1 243.9L883.9 244.9L884.7 246.1L885.5 247.4L886.3 248.9L887.1 250.6L887.9 252.4L888.7 254.4L889.5 256.5L890.3 258.7L891.1 261.1L891.9 263.6L892.7 266.3L893.5 269.1L894.3 271.9L895.1 274.9L895.9 278.0L896.7 281.2L897.5 284.4L898.3 287.8L899.1 291.2L899.9 294.6L900.7 298.1L901.5 301.7L902.3 305.3L903.1 308.9L903.9 312.5L904.7 316.2L905.4 319.8L906.2 323.4L907.0 327.1L907.8 330.6L908.6 334.2L909.4 337.7L910.2 341.2L911.0 344.6L911.8 348.0L912.6 351.2L913.4 354.5L914.2 357.6L915.0 360.6L915.8 363.5L916.6 366.3L917.4 369.0L918.2 371.6L919.0 374.1L919.8 376.4L920.6 378.6L921.4 380.7L922.2 382.6L923.0 384.3L923.8 386.0L924.6 387.4L925.4 388.7L926.2 389.9L927.0 390.9L927.8 391.7L928.6 392.4L929.4 392.9L930.2 393.2L931.0 393.4L931.8 393.4L932.6 393.2L933.4 392.9L934.1 392.5L934.9 391.8L935.7 391.0L936.5 390.1L937.3 389.0L938.1 387.8L938.9 386.4L939.7 384.9L940.5 383.3L941.3 381.5L942.1 379.6L942.9 377.6L943.7 375.5L944.5 373.3L945.3 371.0L946.1 368.6L946.9 366.1L947.7 363.5L948.5 360.9L949.3 358.2L950.1 355.4L950.9 352.6L951.7 349.7L952.5 346.8L953.3 343.9L954.1 341.0L954.9 338.0L955.7 335.1L956.5 332.1L957.3 329.2L958.1 326.3L958.9 323.4L959.7 320.6L960.5 317.8L961.3 315.0L962.0 312.3L962.8 309.7L963.6 307.1L964.4 304.7L965.2 302.3L966.0 299.9L966.8 297.7L967.6 295.6L968.4 293.6L969.2 291.7L970.0 290.0L970.8 288.3L971.6 286.8L972.4 285.4L973.2 284.1L974.0 283.0L974.8 282.0L975.6 281.1L976.4 280.4L977.2 279.9L978.0 279.4L978.8 279.2L979.6 279.0L980.4 279.1L981.2 279.2L982.0 279.5L982.8 280.0L983.6 280.6L984.4 281.3L985.2 282.2L986.0 283.2L986.8 284.4L987.6 285.7L988.4 287.1L989.2 288.6L990.0 290.2L990.7 292.0L991.5 293.9L992.3 295.9L993.1 297.9L993.9 300.1L994.7 302.4L995.5 304.7L996.3 307.1L997.1 309.6L997.9 312.1L998.7 314.7L999.5 317.4L1000.3 320.0L1001.1 322.8L1001.9 325.5L1002.7 328.3L1003.5 331.0L1004.3 333.8L1005.1 336.6L1005.9 339.4L1006.7 342.1L1007.5 344.8L1008.3 347.5L1009.1 350.1L1009.9 352.7L1010.7 355.3L1011.5 357.8L1012.3 360.2L1013.1 362.5L1013.9 364.8L1014.7 366.9L1015.5 369.0L1016.3 371.0L1017.1 372.9L1017.9 374.6L1018.6 376.3L1019.4 377.8L1020.2 379.2L1021.0 380.5L1021.8 381.6L1022.6 382.7L1023.4 383.5L1024.2 384.3L1025.0 384.9L1025.8 385.3L1026.6 385.6L1027.4 385.8L1028.2 385.8L1029.0 385.6L1029.8 385.3L1030.6 384.9L1031.4 384.3L1032.2 383.6L1033.0 382.7L1033.8 381.7L1034.6 380.5L1035.4 379.2L1036.2 377.7L1037.0 376.2L1037.8 374.4L1038.6 372.6L1039.4 370.7L1040.2 368.6L1041.0 366.4L1041.8 364.1L1042.6 361.7L1043.4 359.2L1044.2 356.6L1045.0 354.0L1045.8 351.2L1046.6 348.4L1047.3 345.5L1048.1 342.6L1048.9 339.6L1049.7 336.5L1050.5 333.4L1051.3 330.3L1052.1 327.2L1052.9 324.1L1053.7 320.9L1054.5 317.7L1055.3 314.6L1056.1 311.4L1056.9 308.3L1057.7 305.2L1058.5 302.2L1059.3 299.2L1060.1 296.2L1060.9 293.3L1061.7 290.5L1062.5 287.8L1063.3 285.1L1064.1 282.5L1064.9 280.0L1065.7 277.6L1066.5 275.3L1067.3 273.1L1068.1 271.0L1068.9 269.0L1069.7 267.2L1070.5 265.5L1071.3 263.9L1072.1 262.4L1072.9 261.1L1073.7 260.0L1074.5 259.0L1075.2 258.1L1076.0 257.4L1076.8 256.8L1077.6 256.4L1078.4 256.1L1079.2 256.0L1080.0 256.0L1080.8 256.2L1081.6 256.6L1082.4 257.1L1083.2 257.7L1084.0 258.5L1084.8 259.5L1085.6 260.6L1086.4 261.8L1087.2 263.2L1088.0 264.7L1088.8 266.3L1089.6 268.1L1090.4 270.0L1091.2 272.0L1092.0 274.1L1092.8 276.4L1093.6 278.7L1094.4 281.2L1095.2 283.7L1096.0 286.3L1096.8 289.0L1097.6 291.8L1098.4 294.7L1099.2 297.6L1100.0 300.5L1100.8 303.5L1101.6 306.6L1102.4 309.7L1103.1 312.8L1103.9 315.9L1104.7 319.0L1105.5 322.2L1106.3 325.3L1107.1 328.4L1107.9 331.5L1108.7 334.6L1109.5 337.6L1110.3 340.6L1111.1 343.6L1111.9 346.5L1112.7 349.3L1113.5 352.1L1114.3 354.8L1115.1 357.4L1115.9 359.9L1116.7 362.4L1117.5 364.7L1118.3 367.0L1119.1 369.1L1119.9 371.1L1120.7 373.0L1121.5 374.8L1122.3 376.5L1123.1 378.0L1123.9 379.4L1124.7 380.7L1125.5 381.8L1126.3 382.8L1127.1 383.6L1127.9 384.3L1128.7 384.9L1129.5 385.3L1130.3 385.6L1131.1 385.8L1131.8 385.8L1132.6 385.6L1133.4 385.3L1134.2 384.9L1135.0 384.3L1135.8 383.6L1136.6 382.8L1137.4 381.8L1138.2 380.7L1139.0 379.4L1139.8 378.1L1140.6 376.6L1141.4 375.0L1142.2 373.4L1143.0 371.6L1143.8 369.7L1144.6 367.7L1145.4 365.6L1146.2 363.4L1147.0 361.2L1147.8 358.9L1148.6 356.5L1149.4 354.1L1150.2 351.6L1151.0 349.1L1151.8 346.5L1152.6 343.9L1153.4 341.3L1154.2 338.6L1155.0 336.0L1155.8 333.3L1156.6 330.6L1157.4 328.0L1158.2 325.4L1159.0 322.7L1159.7 320.2L1160.5 317.6L1161.3 315.1L1162.1 312.7L1162.9 310.3L1163.7 307.9L1164.5 305.7L1165.3 303.5L1166.1 301.4L1166.9 299.3L1167.7 297.4L1168.5 295.6L1169.3 293.8L1170.1 292.2L1170.9 290.6L1171.7 289.2L1172.5 287.9L1173.3 286.7L1174.1 285.6L1174.9 284.7L1175.7 283.8L1176.5 283.1L1177.3 282.6L1178.1 282.1L1178.9 281.8L1179.7 281.7L1180.5 281.6L1181.3 281.7L1182.1 281.9L1182.9 282.3L1183.7 282.8L1184.5 283.4L1185.3 284.1L1186.1 285.0L1186.9 285.9L1187.7 287.0L1188.4 288.3L1189.2 289.6L1190.0 291.0L1190.8 292.6L1191.6 294.2L1192.4 295.9L1193.2 297.8L1194.0 299.7L1194.8 301.7L1195.6 303.8" stroke="#E19C24" stroke-width="6.0"/>
<path d="M239.0 679.0L243.8 665.6L244.6 660.9L245.4 655.6L246.2 649.6L247.0 643.0L247.8 635.8L248.6 628.1L249.4 619.9L250.2 611.2L251.0 602.1L251.8 592.6L252.6 582.8L253.4 572.7L254.2 562.3L255.0 551.7L255.7 540.9L256.5 530.0L257.3 519.0L258.1 507.9L258.9 496.8L259.7 485.7L260.5 474.6L261.3 463.7L262.1 452.8L262.9 442.0L263.7 431.5L264.5 421.1L265.3 410.9L266.1 401.0L266.9 391.4L267.7 382.0L268.5 372.9L269.3 364.1L270.1 355.7L270.9 347.6L271.7 339.9L272.5 332.5L273.3 325.5L274.1 318.9L274.9 312.7L275.7 306.8L276.5 301.4L277.3 296.3L278.1 291.7L278.9 287.4L279.7 283.5L280.5 280.1L281.3 277.0L282.1 274.3L282.9 271.9L283.6 270.0L284.4 268.4L285.2 267.2L286.0 266.3L286.8 265.8L287.6 265.6L288.4 265.7L289.2 266.1L290.0 266.9L290.8 267.9L291.6 269.2L292.4 270.8L293.2 272.7L294.0 274.8L294.8 277.2L295.6 279.7L296.4 282.5L297.2 285.5L298.0 288.7L298.8 292.1L299.6 295.6L300.4 299.2L301.2 303.1L302.0 307.0L302.8 311.0L303.6 315.2L304.4 319.4L305.2 323.7L306.0 328.1L306.8 332.6L307.6 337.0L308.4 341.5L309.2 346.0L310.0 350.6L310.8 355.1L311.5 359.6L312.3 364.1L313.1 368.5L313.9 373.0L314.7 377.3L315.5 381.6L316.3 385.8L317.1 390.0L317.9 394.0L318.7 398.0L319.5 401.9L320.3 405.7L321.1 409.3L321.9 412.8L322.7 416.3L323.5 419.6L324.3 422.7L325.1 425.7L325.9 428.6L326.7 431.4L327.5 433.9L328.3 436.4L329.1 438.7L329.9 440.8L330.7 442.9L331.5 444.7L332.3 446.4L333.1 448.0L333.9 449.4L334.7 450.6L335.5 451.7L336.3 452.7L337.1 453.5L337.9 454.2L338.7 454.7L339.5 455.1L340.2 455.4L341.0 455.5L341.8 455.6L342.6 455.5L343.4 455.3L344.2 455.0L345.0 454.5L345.8 454.0L346.6 453.4L347.4 452.7L348.2 451.9L349.0 451.1L349.8 450.1L350.6 449.2L351.4 448.1L352.2 447.0L353.0 445.8L353.8 444.7L354.6 443.4L355.4 442.2L356.2 440.9L357.0 439.6L357.8 438.3L358.6 437.0L359.4 435.7L360.2 434.4L361.0 433.1L361.8 431.8L362.6 430.6L363.4 429.4L364.2 428.2L365.0 427.1L365.8 426.0L366.6 424.9L367.4 423.9L368.1 423.0L368.9 422.1L369.7 421.3L370.5 420.5L371.3 419.8L372.1 419.2L372.9 418.7L373.7 418.2L374.5 417.8L375.3 417.5L376.1 417.3L376.9 417.1L377.7 417.0L378.5 417.0L379.3 417.1L380.1 417.3L380.9 417.6L381.7 417.9L382.5 418.4L383.3 418.9L384.1 419.4L384.9 420.1L385.7 420.8L386.5 421.6L387.3 422.5L388.1 423.4L388.9 424.4L389.7 425.5L390.5 426.6L391.3 427.8L392.1 429.0L392.9 430.3L393.7 431.6L394.5 432.9L395.3 434.3L396.1 435.7L396.8 437.2L397.6 438.6L398.4 440.1L399.2 441.6L400.0 443.1L400.8 444.6L401.6 446.1L402.4 447.6L403.2 449.1L404.0 450.5L404.8 451.9L405.6 453.4L406.4 454.7L407.2 456.1L408.0 457.4L408.8 458.6L409.6 459.8L410.4 461.0L411.2 462.1L412.0 463.1L412.8 464.1L413.6 465.0L414.4 465.8L415.2 466.6L416.0 467.2L416.8 467.8L417.6 468.3L418.4 468.8L419.2 469.1L420.0 469.3L420.8 469.5L421.6 469.5L422.4 469.5L423.2 469.4L424.0 469.1L424.7 468.8L425.5 468.3L426.3 467.8L427.1 467.2L427.9 466.5L428.7 465.6L429.5 464.7L430.3 463.7L431.1 462.6L431.9 461.4L432.7 460.1L433.5 458.7L434.3 457.2L435.1 455.6L435.9 454.0L436.7 452.3L437.5 450.5L438.3 448.6L439.1 446.7L439.9 444.7L440.7 442.6L441.5 440.5L442.3 438.3L443.1 436.1L443.9 433.8L444.7 431.5L445.5 429.2L446.3 426.8L447.1 424.4L447.9 422.0L448.7 419.6L449.5 417.1L450.3 414.7L451.1 412.2L451.9 409.8L452.7 407.3L453.4 404.9L454.2 402.5L455.0 400.1L455.8 397.8L456.6 395.5L457.4 393.2L458.2 391.0L459.0 388.8L459.8 386.6L460.6 384.6L461.4 382.5L462.2 380.6L463.0 378.7L463.8 376.9L464.6 375.2L465.4 373.5L466.2 372.0L467.0 370.5L467.8 369.1L468.6 367.8L469.4 366.6L470.2 365.5L471.0 364.5L471.8 363.6L472.6 362.8L473.4 362.1L474.2 361.5L475.0 361.0L475.8 360.6L476.6 360.4L477.4 360.2L478.2 360.2L479.0 360.2L479.8 360.4L480.6 360.6L481.3 361.0L482.1 361.5L482.9 362.1L483.7 362.8L484.5 363.5L485.3 364.4L486.1 365.4L486.9 366.4L487.7 367.6L488.5 368.8L489.3 370.2L490.1 371.6L490.9 373.1L491.7 374.6L492.5 376.2L493.3 377.9L494.1 379.7L494.9 381.5L495.7 383.4L496.5 385.3L497.3 387.2L498.1 389.2L498.9 391.3L499.7 393.4L500.5 395.5L501.3 397.6L502.1 399.7L502.9 401.9L503.7 404.0L504.5 406.2L505.3 408.3L506.1 410.5L506.9 412.6L507.7 414.8L508.5 416.9L509.3 419.0L510.0 421.0L510.8 423.1L511.6 425.1L512.4 427.0L513.2 428.9L514.0 430.8L514.8 432.6L515.6 434.3L516.4 436.0L517.2 437.7L518.0 439.2L518.8 440.7L519.6 442.1L520.4 443.5L521.2 444.8L522.0 446.0L522.8 447.1L523.6 448.2L524.4 449.1L525.2 450.0L526.0 450.8L526.8 451.5L527.6 452.1L528.4 452.7L529.2 453.1L530.0 453.5L530.8 453.8L531.6 454.0L532.4 454.1L533.2 454.1L534.0 454.0L534.8 453.9L535.6 453.7L536.4 453.4L537.2 453.0L537.9 452.5L538.7 452.0L539.5 451.4L540.3 450.7L541.1 450.0L541.9 449.2L542.7 448.4L543.5 447.5L544.3 446.5L545.1 445.5L545.9 444.4L546.7 443.3L547.5 442.2L548.3 441.0L549.1 439.8L549.9 438.5L550.7 437.3L551.5 436.0L552.3 434.7L553.1 433.4L553.9 432.0L554.7 430.7L555.5 429.4L556.3 428.0L557.1 426.7L557.9 425.4L558.7 424.1L559.5 422.8L560.3 421.5L561.1 420.3L561.9 419.0L562.7 417.9L563.5 416.7L564.3 415.6L565.1 414.5L565.9 413.5L566.6 412.5L567.4 411.6L568.2 410.7L569.0 409.8L569.8 409.0L570.6 408.3L571.4 407.7L572.2 407.1L573.0 406.5L573.8 406.0L574.6 405.6L575.4 405.3L576.2 405.0L577.0 404.8L577.8 404.6L578.6 404.5L579.4 404.5L580.2 404.6L581.0 404.7L581.8 404.9L582.6 405.1L583.4 405.4L584.2 405.8L585.0 406.2L585.8 406.7L586.6 407.3L587.4 407.9L588.2 408.6L589.0 409.3L589.8 410.1L590.6 410.9L591.4 411.7L592.2 412.7L593.0 413.6L593.8 414.6L594.5 415.6L595.3 416.7L596.1 417.8L596.9 418.9L597.7 420.0L598.5 421.1L599.3 422.3L600.1 423.5L600.9 424.7L601.7 425.9L602.5 427.1L603.3 428.3L604.1 429.4L604.9 430.6L605.7 431.8L606.5 432.9L607.3 434.1L608.1 435.2L608.9 436.3L609.7 437.3L610.5 438.4L611.3 439.3L612.1 440.3L612.9 441.2L613.7 442.1L614.5 442.9L615.3 443.7L616.1 444.4L616.9 445.0L617.7 445.7L618.5 446.2L619.3 446.7L620.1 447.1L620.9 447.5L621.7 447.8L622.5 448.1L623.2 448.2L624.0 448.3L624.8 448.4L625.6 448.3L626.4 448.2L627.2 448.1L628.0 447.8L628.8 447.5L629.6 447.1L630.4 446.7L631.2 446.2L632.0 445.6L632.8 444.9L633.6 444.2L634.4 443.5L635.2 442.6L636.0 441.7L636.8 440.8L637.6 439.8L638.4 438.7L639.2 437.6L640.0 436.4L640.8 435.2L641.6 433.9L642.4 432.6L643.2 431.3L644.0 429.9L644.8 428.5L645.6 427.0L646.4 425.6L647.2 424.1L648.0 422.6L648.8 421.0L649.6 419.5L650.4 418.0L651.1 416.4L651.9 414.8L652.7 413.3L653.5 411.7L654.3 410.2L655.1 408.6L655.9 407.1L656.7 405.6L657.5 404.1L658.3 402.7L659.1 401.3L659.9 399.9L660.7 398.5L661.5 397.2L662.3 395.9L663.1 394.7L663.9 393.5L664.7 392.3L665.5 391.3L666.3 390.2L667.1 389.3L667.9 388.3L668.7 387.5L669.5 386.7L670.3 386.0L671.1 385.3L671.9 384.7L672.7 384.2L673.5 383.8L674.3 383.4L675.1 383.1L675.9 382.8L676.7 382.7L677.5 382.6L678.3 382.6L679.0 382.6L679.8 382.8L680.6 383.0L681.4 383.3L682.2 383.6L683.0 384.1L683.8 384.6L684.6 385.1L685.4 385.8L686.2 386.5L687.0 387.2L687.8 388.0L688.6 388.9L689.4 389.9L690.2 390.9L691.0 391.9L691.8 393.0L692.6 394.2L693.4 395.4L694.2 396.6L695.0 397.9L695.8 399.3L696.6 400.6L697.4 402.0L698.2 403.4L699.0 404.9L699.8 406.3L700.6 407.8L701.4 409.3L702.2 410.8L703.0 412.3L703.8 413.9L704.6 415.4L705.4 416.9L706.2 418.4L707.0 419.9L707.7 421.4L708.5 422.9L709.3 424.4L710.1 425.8L710.9 427.2L711.7 428.6L712.5 429.9L713.3 431.2L714.1 432.5L714.9 433.8L715.7 435.0L716.5 436.1L717.3 437.2L718.1 438.3L718.9 439.3L719.7 440.2L720.5 441.1L721.3 442.0L722.1 442.7L722.9 443.5L723.7 444.1L724.5 444.7L725.3 445.3L726.1 445.7L726.9 446.1L727.7 446.5L728.5 446.7L729.3 446.9L730.1 447.1L730.9 447.2L731.7 447.2L732.5 447.1L733.3 447.0L734.1 446.8L734.9 446.6L735.6 446.3L736.4 445.9L737.2 445.5L738.0 445.0L738.8 444.5L739.6 443.9L740.4 443.2L741.2 442.5L742.0 441.8L742.8 441.0L743.6 440.2L744.4 439.3L745.2 438.4L746.0 437.5L746.8 436.5L747.6 435.5L748.4 434.5L749.2 433.4L750.0 432.4L750.8 431.3L751.6 430.2L752.4 429.0L753.2 427.9L754.0 426.8L754.8 425.6L755.6 424.5L756.4 423.4L757.2 422.2L758.0 421.1L758.8 420.0L759.6 418.9L760.4 417.9L761.2 416.8L762.0 415.8L762.8 414.8L763.6 413.8L764.3 412.9L765.1 412.0L765.9 411.1L766.7 410.2L767.5 409.5L768.3 408.7L769.1 408.0L769.9 407.3L770.7 406.7L771.5 406.2L772.3 405.6L773.1 405.2L773.9 404.8L774.7 404.4L775.5 404.1L776.3 403.9L777.1 403.7L777.9 403.5L778.7 403.5L779.5 403.4L780.3 403.5L781.1 403.6L781.9 403.7L782.7 403.9L783.5 404.1L784.3 404.5L785.1 404.8L785.9 405.2L786.7 405.7L787.5 406.2L788.3 406.7L789.1 407.3L789.9 408.0L790.7 408.7L791.5 409.4L792.2 410.2L793.0 411.0L793.8 411.8L794.6 412.7L795.4 413.5L796.2 414.5L797.0 415.4L797.8 416.4L798.6 417.4L799.4 418.3L800.2 419.4L801.0 420.4L801.8 421.4L802.6 422.4L803.4 423.5L804.2 424.5L805.0 425.5L805.8 426.5L806.6 427.5L807.4 428.5L808.2 429.5L809.0 430.5L809.8 431.4L810.6 432.3L811.4 433.2L812.2 434.1L813.0 434.9L813.8 435.7L814.6 436.5L815.4 437.2L816.2 437.9L817.0 438.5L817.8 439.1L818.6 439.7L819.4 440.2L820.2 440.6L820.9 441.0L821.7 441.4L822.5 441.7L823.3 441.9L824.1 442.1L824.9 442.3L825.7 442.3L826.5 442.4L827.3 442.3L828.1 442.3L828.9 442.1L829.7 441.9L830.5 441.6L831.3 441.3L832.1 441.0L832.9 440.5L833.7 440.1L834.5 439.5L835.3 438.9L836.1 438.3L836.9 437.6L837.7 436.9L838.5 436.1L839.3 435.3L840.1 434.4L840.9 433.5L841.7 432.6L842.5 431.6L843.3 430.6L844.1 429.5L844.9 428.4L845.7 427.3L846.5 426.2L847.3 425.0L848.1 423.9L848.8 422.7L849.6 421.5L850.4 420.3L851.2 419.0L852.0 417.8L852.8 416.6L853.6 415.4L854.4 414.1L855.2 412.9L856.0 411.7L856.8 410.5L857.6 409.3L858.4 408.2L859.2 407.0L860.0 405.9L860.8 404.8L861.6 403.7L862.4 402.7L863.2 401.7L864.0 400.7L864.8 399.8L865.6 398.9L866.4 398.1L867.2 397.3L868.0 396.5L868.8 395.8L869.6 395.2L870.4 394.6L871.2 394.0L872.0 393.5L872.8 393.1L873.6 392.7L874.4 392.3L875.2 392.1L876.0 391.9L876.8 391.7L877.5 391.6L878.3 391.6L879.1 391.6L879.9 391.7L880.7 391.8L881.5 392.0L882.3 392.3L883.1 392.6L883.9 393.0L884.7 393.4L885.5 393.9L886.3 394.4L887.1 395.0L887.9 395.7L888.7 396.4L889.5 397.1L890.3 397.9L891.1 398.7L891.9 399.6L892.7 400.5L893.5 401.5L894.3 402.5L895.1 403.5L895.9 404.5L896.7 405.6L897.5 406.7L898.3 407.9L899.1 409.0L899.9 410.2L900.7 411.4L901.5 412.6L902.3 413.8L903.1 415.0L903.9 416.3L904.7 417.5L905.4 418.7L906.2 419.9L907.0 421.1L907.8 422.3L908.6 423.5L909.4 424.7L910.2 425.9L911.0 427.0L911.8 428.1L912.6 429.2L913.4 430.3L914.2 431.3L915.0 432.3L915.8 433.3L916.6 434.2L917.4 435.1L918.2 436.0L919.0 436.8L919.8 437.5L920.6 438.2L921.4 438.9L922.2 439.5L923.0 440.1L923.8 440.6L924.6 441.1L925.4 441.5L926.2 441.9L927.0 442.2L927.8 442.4L928.6 442.6L929.4 442.8L930.2 442.9L931.0 442.9L931.8 442.9L932.6 442.8L933.4 442.7L934.1 442.5L934.9 442.2L935.7 442.0L936.5 441.6L937.3 441.2L938.1 440.8L938.9 440.3L939.7 439.8L940.5 439.2L941.3 438.6L942.1 437.9L942.9 437.3L943.7 436.5L944.5 435.8L945.3 435.0L946.1 434.1L946.9 433.3L947.7 432.4L948.5 431.5L949.3 430.6L950.1 429.6L950.9 428.7L951.7 427.7L952.5 426.7L953.3 425.8L954.1 424.8L954.9 423.8L955.7 422.8L956.5 421.8L957.3 420.8L958.1 419.8L958.9 418.8L959.7 417.9L960.5 416.9L961.3 416.0L962.0 415.1L962.8 414.2L963.6 413.4L964.4 412.5L965.2 411.7L966.0 411.0L966.8 410.2L967.6 409.5L968.4 408.9L969.2 408.2L970.0 407.6L970.8 407.1L971.6 406.6L972.4 406.1L973.2 405.7L974.0 405.3L974.8 405.0L975.6 404.7L976.4 404.5L977.2 404.3L978.0 404.2L978.8 404.1L979.6 404.1L980.4 404.1L981.2 404.1L982.0 404.2L982.8 404.4L983.6 404.6L984.4 404.9L985.2 405.1L986.0 405.5L986.8 405.9L987.6 406.3L988.4 406.8L989.2 407.3L990.0 407.9L990.7 408.4L991.5 409.1L992.3 409.7L993.1 410.4L993.9 411.2L994.7 411.9L995.5 412.7L996.3 413.5L997.1 414.3L997.9 415.2L998.7 416.0L999.5 416.9L1000.3 417.8L1001.1 418.7L1001.9 419.6L1002.7 420.5L1003.5 421.4L1004.3 422.4L1005.1 423.3L1005.9 424.2L1006.7 425.1L1007.5 426.0L1008.3 426.9L1009.1 427.8L1009.9 428.6L1010.7 429.4L1011.5 430.3L1012.3 431.1L1013.1 431.8L1013.9 432.6L1014.7 433.3L1015.5 433.9L1016.3 434.6L1017.1 435.2L1017.9 435.8L1018.6 436.3L1019.4 436.8L1020.2 437.3L1021.0 437.7L1021.8 438.0L1022.6 438.3L1023.4 438.6L1024.2 438.8L1025.0 439.0L1025.8 439.2L1026.6 439.2L1027.4 439.3L1028.2 439.3L1029.0 439.2L1029.8 439.1L1030.6 438.9L1031.4 438.7L1032.2 438.5L1033.0 438.1L1033.8 437.8L1034.6 437.4L1035.4 436.9L1036.2 436.4L1037.0 435.9L1037.8 435.3L1038.6 434.7L1039.4 434.0L1040.2 433.3L1041.0 432.6L1041.8 431.8L1042.6 431.0L1043.4 430.2L1044.2 429.3L1045.0 428.4L1045.8 427.5L1046.6 426.6L1047.3 425.6L1048.1 424.6L1048.9 423.6L1049.7 422.6L1050.5 421.6L1051.3 420.6L1052.1 419.5L1052.9 418.5L1053.7 417.4L1054.5 416.4L1055.3 415.3L1056.1 414.3L1056.9 413.3L1057.7 412.3L1058.5 411.3L1059.3 410.3L1060.1 409.3L1060.9 408.4L1061.7 407.4L1062.5 406.5L1063.3 405.6L1064.1 404.8L1064.9 404.0L1065.7 403.2L1066.5 402.5L1067.3 401.7L1068.1 401.1L1068.9 400.4L1069.7 399.9L1070.5 399.3L1071.3 398.8L1072.1 398.3L1072.9 397.9L1073.7 397.6L1074.5 397.3L1075.2 397.0L1076.0 396.8L1076.8 396.6L1077.6 396.5L1078.4 396.4L1079.2 396.4L1080.0 396.5L1080.8 396.6L1081.6 396.7L1082.4 396.9L1083.2 397.1L1084.0 397.4L1084.8 397.8L1085.6 398.2L1086.4 398.6L1087.2 399.1L1088.0 399.6L1088.8 400.2L1089.6 400.8L1090.4 401.4L1091.2 402.1L1092.0 402.9L1092.8 403.6L1093.6 404.4L1094.4 405.3L1095.2 406.1L1096.0 407.0L1096.8 407.9L1097.6 408.9L1098.4 409.9L1099.2 410.8L1100.0 411.8L1100.8 412.9L1101.6 413.9L1102.4 414.9L1103.1 416.0L1103.9 417.0L1104.7 418.1L1105.5 419.1L1106.3 420.2L1107.1 421.2L1107.9 422.2L1108.7 423.3L1109.5 424.3L1110.3 425.3L1111.1 426.3L1111.9 427.2L1112.7 428.2L1113.5 429.1L1114.3 430.0L1115.1 430.8L1115.9 431.7L1116.7 432.5L1117.5 433.3L1118.3 434.0L1119.1 434.7L1119.9 435.4L1120.7 436.0L1121.5 436.6L1122.3 437.1L1123.1 437.6L1123.9 438.1L1124.7 438.5L1125.5 438.8L1126.3 439.1L1127.1 439.4L1127.9 439.6L1128.7 439.8L1129.5 439.9L1130.3 440.0L1131.1 440.0L1131.8 440.0L1132.6 440.0L1133.4 439.8L1134.2 439.7L1135.0 439.5L1135.8 439.2L1136.6 438.9L1137.4 438.6L1138.2 438.2L1139.0 437.8L1139.8 437.3L1140.6 436.8L1141.4 436.2L1142.2 435.7L1143.0 435.0L1143.8 434.4L1144.6 433.7L1145.4 433.0L1146.2 432.3L1147.0 431.5L1147.8 430.7L1148.6 429.9L1149.4 429.1L1150.2 428.3L1151.0 427.4L1151.8 426.6L1152.6 425.7L1153.4 424.8L1154.2 423.9L1155.0 423.0L1155.8 422.1L1156.6 421.2L1157.4 420.3L1158.2 419.4L1159.0 418.6L1159.7 417.7L1160.5 416.9L1161.3 416.0L1162.1 415.2L1162.9 414.4L1163.7 413.6L1164.5 412.9L1165.3 412.1L1166.1 411.4L1166.9 410.8L1167.7 410.1L1168.5 409.5L1169.3 408.9L1170.1 408.4L1170.9 407.9L1171.7 407.4L1172.5 407.0L1173.3 406.6L1174.1 406.2L1174.9 405.9L1175.7 405.6L1176.5 405.4L1177.3 405.2L1178.1 405.1L1178.9 405.0L1179.7 404.9L1180.5 404.9L1181.3 405.0L1182.1 405.0L1182.9 405.2L1183.7 405.3L1184.5 405.5L1185.3 405.8L1186.1 406.1L1186.9 406.4L1187.7 406.8L1188.4 407.2L1189.2 407.6L1190.0 408.1L1190.8 408.6L1191.6 409.2L1192.4 409.8L1193.2 410.4L1194.0 411.0L1194.8 411.7L1195.6 412.4" stroke="#8FB032" stroke-width="6.0"/>
<path d="M239.0 679.0L243.8 666.0L244.6 661.5L245.4 656.5L246.2 651.1L247.0 645.2L247.8 639.0L248.6 632.4L249.4 625.6L250.2 618.6L251.0 611.5L251.8 604.2L252.6 596.9L253.4 589.6L254.2 582.3L255.0 575.0L255.7 567.8L256.5 560.7L257.3 553.7L258.1 546.9L258.9 540.1L259.7 533.6L260.5 527.2L261.3 520.9L262.1 514.9L262.9 509.0L263.7 503.3L264.5 497.8L265.3 492.6L266.1 487.5L266.9 482.6L267.7 477.9L268.5 473.5L269.3 469.2L270.1 465.2L270.9 461.4L271.7 457.8L272.5 454.4L273.3 451.2L274.1 448.2L274.9 445.5L275.7 442.9L276.5 440.6L277.3 438.5L278.1 436.5L278.9 434.8L279.7 433.3L280.5 432.0L281.3 430.8L282.1 429.9L282.9 429.1L283.6 428.5L284.4 428.1L285.2 427.9L286.0 427.8L286.8 428.0L287.6 428.2L288.4 428.6L289.2 429.2L290.0 429.9L290.8 430.8L291.6 431.8L292.4 432.9L293.2 434.1L294.0 435.5L294.8 436.9L295.6 438.5L296.4 440.2L297.2 441.9L298.0 443.8L298.8 445.7L299.6 447.7L300.4 449.8L301.2 451.9L302.0 454.0L302.8 456.3L303.6 458.5L304.4 460.8L305.2 463.2L306.0 465.5L306.8 467.9L307.6 470.3L308.4 472.7L309.2 475.1L310.0 477.5L310.8 479.9L311.5 482.2L312.3 484.6L313.1 486.9L313.9 489.2L314.7 491.5L315.5 493.7L316.3 495.9L317.1 498.1L317.9 500.2L318.7 502.2L319.5 504.2L320.3 506.2L321.1 508.0L321.9 509.9L322.7 511.6L323.5 513.3L324.3 514.9L325.1 516.4L325.9 517.9L326.7 519.3L327.5 520.6L328.3 521.8L329.1 523.0L329.9 524.1L330.7 525.1L331.5 526.0L332.3 526.9L333.1 527.6L333.9 528.3L334.7 528.9L335.5 529.5L336.3 530.0L337.1 530.3L337.9 530.7L338.7 530.9L339.5 531.1L340.2 531.2L341.0 531.3L341.8 531.3L342.6 531.2L343.4 531.1L344.2 530.9L345.0 530.6L345.8 530.4L346.6 530.0L347.4 529.6L348.2 529.2L349.0 528.8L349.8 528.3L350.6 527.7L351.4 527.2L352.2 526.6L353.0 526.0L353.8 525.4L354.6 524.7L355.4 524.1L356.2 523.4L357.0 522.7L357.8 522.0L358.6 521.3L359.4 520.7L360.2 520.0L361.0 519.3L361.8 518.6L362.6 518.0L363.4 517.4L364.2 516.7L365.0 516.1L365.8 515.6L366.6 515.0L367.4 514.5L368.1 514.0L368.9 513.5L369.7 513.1L370.5 512.6L371.3 512.3L372.1 511.9L372.9 511.6L373.7 511.4L374.5 511.2L375.3 511.0L376.1 510.8L376.9 510.7L377.7 510.7L378.5 510.7L379.3 510.7L380.1 510.7L380.9 510.9L381.7 511.0L382.5 511.2L383.3 511.4L384.1 511.7L384.9 512.0L385.7 512.3L386.5 512.7L387.3 513.1L388.1 513.6L388.9 514.1L389.7 514.6L390.5 515.1L391.3 515.7L392.1 516.3L392.9 516.9L393.7 517.5L394.5 518.2L395.3 518.9L396.1 519.5L396.8 520.2L397.6 521.0L398.4 521.7L399.2 522.4L400.0 523.1L400.8 523.9L401.6 524.6L402.4 525.3L403.2 526.0L404.0 526.7L404.8 527.4L405.6 528.1L406.4 528.8L407.2 529.5L408.0 530.1L408.8 530.7L409.6 531.3L410.4 531.9L411.2 532.4L412.0 532.9L412.8 533.4L413.6 533.8L414.4 534.2L415.2 534.6L416.0 534.9L416.8 535.2L417.6 535.4L418.4 535.6L419.2 535.7L420.0 535.9L420.8 535.9L421.6 535.9L422.4 535.9L423.2 535.8L424.0 535.7L424.7 535.5L425.5 535.3L426.3 535.0L427.1 534.7L427.9 534.3L428.7 533.9L429.5 533.4L430.3 532.9L431.1 532.3L431.9 531.7L432.7 531.1L433.5 530.4L434.3 529.6L435.1 528.9L435.9 528.0L436.7 527.2L437.5 526.3L438.3 525.3L439.1 524.4L439.9 523.4L440.7 522.3L441.5 521.3L442.3 520.2L443.1 519.1L443.9 517.9L444.7 516.8L445.5 515.6L446.3 514.4L447.1 513.3L447.9 512.1L448.7 510.8L449.5 509.6L450.3 508.4L451.1 507.2L451.9 506.0L452.7 504.8L453.4 503.6L454.2 502.4L455.0 501.2L455.8 500.0L456.6 498.9L457.4 497.7L458.2 496.6L459.0 495.6L459.8 494.5L460.6 493.5L461.4 492.5L462.2 491.5L463.0 490.6L463.8 489.7L464.6 488.9L465.4 488.0L466.2 487.3L467.0 486.5L467.8 485.9L468.6 485.2L469.4 484.7L470.2 484.1L471.0 483.6L471.8 483.2L472.6 482.8L473.4 482.5L474.2 482.2L475.0 482.0L475.8 481.8L476.6 481.7L477.4 481.6L478.2 481.6L479.0 481.6L479.8 481.7L480.6 481.9L481.3 482.1L482.1 482.3L482.9 482.6L483.7 483.0L484.5 483.4L485.3 483.9L486.1 484.4L486.9 484.9L487.7 485.5L488.5 486.1L489.3 486.8L490.1 487.5L490.9 488.3L491.7 489.1L492.5 489.9L493.3 490.7L494.1 491.6L494.9 492.5L495.7 493.5L496.5 494.5L497.3 495.4L498.1 496.5L498.9 497.5L499.7 498.5L500.5 499.6L501.3 500.6L502.1 501.7L502.9 502.8L503.7 503.9L504.5 505.0L505.3 506.1L506.1 507.1L506.9 508.2L507.7 509.3L508.5 510.4L509.3 511.4L510.0 512.4L510.8 513.4L511.6 514.4L512.4 515.4L513.2 516.4L514.0 517.3L514.8 518.2L515.6 519.1L516.4 519.9L517.2 520.7L518.0 521.5L518.8 522.3L519.6 523.0L520.4 523.7L521.2 524.3L522.0 524.9L522.8 525.5L523.6 526.0L524.4 526.5L525.2 526.9L526.0 527.3L526.8 527.6L527.6 527.9L528.4 528.2L529.2 528.4L530.0 528.6L530.8 528.7L531.6 528.8L532.4 528.9L533.2 528.9L534.0 528.9L534.8 528.8L535.6 528.7L536.4 528.5L537.2 528.3L537.9 528.1L538.7 527.8L539.5 527.5L540.3 527.2L541.1 526.8L541.9 526.4L542.7 526.0L543.5 525.5L544.3 525.0L545.1 524.5L545.9 524.0L546.7 523.4L547.5 522.8L548.3 522.3L549.1 521.6L549.9 521.0L550.7 520.4L551.5 519.7L552.3 519.1L553.1 518.4L553.9 517.7L554.7 517.1L555.5 516.4L556.3 515.7L557.1 515.0L557.9 514.4L558.7 513.7L559.5 513.1L560.3 512.4L561.1 511.8L561.9 511.2L562.7 510.6L563.5 510.0L564.3 509.5L565.1 508.9L565.9 508.4L566.6 507.9L567.4 507.4L568.2 507.0L569.0 506.6L569.8 506.2L570.6 505.8L571.4 505.5L572.2 505.2L573.0 504.9L573.8 504.7L574.6 504.5L575.4 504.3L576.2 504.1L577.0 504.0L577.8 503.9L578.6 503.9L579.4 503.9L580.2 503.9L581.0 504.0L581.8 504.1L582.6 504.2L583.4 504.3L584.2 504.5L585.0 504.7L585.8 505.0L586.6 505.3L587.4 505.6L588.2 505.9L589.0 506.3L589.8 506.6L590.6 507.1L591.4 507.5L592.2 507.9L593.0 508.4L593.8 508.9L594.5 509.4L595.3 509.9L596.1 510.5L596.9 511.0L597.7 511.6L598.5 512.2L599.3 512.8L600.1 513.3L600.9 513.9L601.7 514.5L602.5 515.1L603.3 515.7L604.1 516.3L604.9 516.9L605.7 517.5L606.5 518.0L607.3 518.6L608.1 519.2L608.9 519.7L609.7 520.2L610.5 520.7L611.3 521.2L612.1 521.7L612.9 522.2L613.7 522.6L614.5 523.0L615.3 523.4L616.1 523.7L616.9 524.1L617.7 524.4L618.5 524.6L619.3 524.9L620.1 525.1L620.9 525.3L621.7 525.4L622.5 525.6L623.2 525.6L624.0 525.7L624.8 525.7L625.6 525.7L626.4 525.6L627.2 525.5L628.0 525.4L628.8 525.3L629.6 525.1L630.4 524.9L631.2 524.6L632.0 524.3L632.8 524.0L633.6 523.6L634.4 523.2L635.2 522.8L636.0 522.4L636.8 521.9L637.6 521.4L638.4 520.8L639.2 520.3L640.0 519.7L640.8 519.1L641.6 518.5L642.4 517.8L643.2 517.1L644.0 516.4L644.8 515.7L645.6 515.0L646.4 514.3L647.2 513.5L648.0 512.8L648.8 512.0L649.6 511.2L650.4 510.5L651.1 509.7L651.9 508.9L652.7 508.1L653.5 507.4L654.3 506.6L655.1 505.8L655.9 505.1L656.7 504.3L657.5 503.6L658.3 502.9L659.1 502.2L659.9 501.5L660.7 500.8L661.5 500.1L662.3 499.5L663.1 498.9L663.9 498.3L664.7 497.7L665.5 497.2L666.3 496.7L667.1 496.2L667.9 495.7L668.7 495.3L669.5 494.9L670.3 494.6L671.1 494.2L671.9 493.9L672.7 493.7L673.5 493.5L674.3 493.3L675.1 493.1L675.9 493.0L676.7 493.0L677.5 492.9L678.3 492.9L679.0 492.9L679.8 493.0L680.6 493.1L681.4 493.3L682.2 493.5L683.0 493.7L683.8 493.9L684.6 494.2L685.4 494.5L686.2 494.9L687.0 495.3L687.8 495.7L688.6 496.1L689.4 496.6L690.2 497.1L691.0 497.7L691.8 498.2L692.6 498.8L693.4 499.4L694.2 500.0L695.0 500.7L695.8 501.3L696.6 502.0L697.4 502.7L698.2 503.4L699.0 504.1L699.8 504.9L700.6 505.6L701.4 506.4L702.2 507.1L703.0 507.9L703.8 508.7L704.6 509.4L705.4 510.2L706.2 510.9L707.0 511.7L707.7 512.4L708.5 513.2L709.3 513.9L710.1 514.6L710.9 515.3L711.7 516.0L712.5 516.7L713.3 517.4L714.1 518.0L714.9 518.6L715.7 519.2L716.5 519.8L717.3 520.3L718.1 520.9L718.9 521.4L719.7 521.8L720.5 522.3L721.3 522.7L722.1 523.1L722.9 523.5L723.7 523.8L724.5 524.1L725.3 524.3L726.1 524.6L726.9 524.8L727.7 524.9L728.5 525.1L729.3 525.2L730.1 525.2L730.9 525.3L731.7 525.3L732.5 525.3L733.3 525.2L734.1 525.1L734.9 525.0L735.6 524.8L736.4 524.6L737.2 524.4L738.0 524.2L738.8 523.9L739.6 523.6L740.4 523.3L741.2 522.9L742.0 522.6L742.8 522.2L743.6 521.8L744.4 521.3L745.2 520.9L746.0 520.4L746.8 519.9L747.6 519.4L748.4 518.9L749.2 518.4L750.0 517.8L750.8 517.3L751.6 516.7L752.4 516.2L753.2 515.6L754.0 515.0L754.8 514.5L755.6 513.9L756.4 513.3L757.2 512.8L758.0 512.2L758.8 511.6L759.6 511.1L760.4 510.6L761.2 510.0L762.0 509.5L762.8 509.0L763.6 508.5L764.3 508.1L765.1 507.6L765.9 507.2L766.7 506.7L767.5 506.3L768.3 506.0L769.1 505.6L769.9 505.3L770.7 505.0L771.5 504.7L772.3 504.4L773.1 504.2L773.9 504.0L774.7 503.8L775.5 503.7L776.3 503.6L777.1 503.5L777.9 503.4L778.7 503.3L779.5 503.3L780.3 503.4L781.1 503.4L781.9 503.5L782.7 503.6L783.5 503.7L784.3 503.8L785.1 504.0L785.9 504.2L786.7 504.5L787.5 504.7L788.3 505.0L789.1 505.3L789.9 505.6L790.7 506.0L791.5 506.3L792.2 506.7L793.0 507.1L793.8 507.5L794.6 507.9L795.4 508.4L796.2 508.9L797.0 509.3L797.8 509.8L798.6 510.3L799.4 510.8L800.2 511.3L801.0 511.8L801.8 512.3L802.6 512.8L803.4 513.3L804.2 513.9L805.0 514.4L805.8 514.9L806.6 515.4L807.4 515.9L808.2 516.4L809.0 516.9L809.8 517.3L810.6 517.8L811.4 518.2L812.2 518.7L813.0 519.1L813.8 519.5L814.6 519.8L815.4 520.2L816.2 520.5L817.0 520.9L817.8 521.2L818.6 521.4L819.4 521.7L820.2 521.9L820.9 522.1L821.7 522.3L822.5 522.4L823.3 522.6L824.1 522.7L824.9 522.7L825.7 522.8L826.5 522.8L827.3 522.8L828.1 522.7L828.9 522.6L829.7 522.5L830.5 522.4L831.3 522.2L832.1 522.1L832.9 521.8L833.7 521.6L834.5 521.3L835.3 521.0L836.1 520.7L836.9 520.4L837.7 520.0L838.5 519.6L839.3 519.2L840.1 518.8L840.9 518.3L841.7 517.9L842.5 517.4L843.3 516.8L844.1 516.3L844.9 515.8L845.7 515.2L846.5 514.7L847.3 514.1L848.1 513.5L848.8 512.9L849.6 512.3L850.4 511.7L851.2 511.1L852.0 510.5L852.8 509.9L853.6 509.3L854.4 508.6L855.2 508.0L856.0 507.4L856.8 506.8L857.6 506.2L858.4 505.7L859.2 505.1L860.0 504.5L860.8 504.0L861.6 503.5L862.4 502.9L863.2 502.4L864.0 502.0L864.8 501.5L865.6 501.1L866.4 500.6L867.2 500.2L868.0 499.9L868.8 499.5L869.6 499.2L870.4 498.9L871.2 498.6L872.0 498.4L872.8 498.1L873.6 498.0L874.4 497.8L875.2 497.7L876.0 497.5L876.8 497.5L877.5 497.4L878.3 497.4L879.1 497.4L879.9 497.5L880.7 497.5L881.5 497.6L882.3 497.8L883.1 497.9L883.9 498.1L884.7 498.3L885.5 498.6L886.3 498.9L887.1 499.2L887.9 499.5L888.7 499.8L889.5 500.2L890.3 500.6L891.1 501.0L891.9 501.5L892.7 501.9L893.5 502.4L894.3 502.9L895.1 503.4L895.9 503.9L896.7 504.5L897.5 505.0L898.3 505.6L899.1 506.2L899.9 506.8L900.7 507.4L901.5 508.0L902.3 508.6L903.1 509.2L903.9 509.8L904.7 510.4L905.4 511.0L906.2 511.6L907.0 512.3L907.8 512.9L908.6 513.4L909.4 514.0L910.2 514.6L911.0 515.2L911.8 515.7L912.6 516.3L913.4 516.8L914.2 517.3L915.0 517.8L915.8 518.3L916.6 518.8L917.4 519.2L918.2 519.6L919.0 520.1L919.8 520.4L920.6 520.8L921.4 521.1L922.2 521.4L923.0 521.7L923.8 522.0L924.6 522.2L925.4 522.4L926.2 522.6L927.0 522.7L927.8 522.9L928.6 523.0L929.4 523.0L930.2 523.1L931.0 523.1L931.8 523.1L932.6 523.0L933.4 523.0L934.1 522.9L934.9 522.8L935.7 522.6L936.5 522.5L937.3 522.3L938.1 522.0L938.9 521.8L939.7 521.5L940.5 521.2L941.3 520.9L942.1 520.6L942.9 520.3L943.7 519.9L944.5 519.5L945.3 519.1L946.1 518.7L946.9 518.3L947.7 517.8L948.5 517.4L949.3 516.9L950.1 516.5L950.9 516.0L951.7 515.5L952.5 515.0L953.3 514.5L954.1 514.0L954.9 513.5L955.7 513.0L956.5 512.5L957.3 512.0L958.1 511.5L958.9 511.0L959.7 510.6L960.5 510.1L961.3 509.6L962.0 509.2L962.8 508.7L963.6 508.3L964.4 507.9L965.2 507.5L966.0 507.1L966.8 506.7L967.6 506.4L968.4 506.0L969.2 505.7L970.0 505.4L970.8 505.2L971.6 504.9L972.4 504.7L973.2 504.5L974.0 504.3L974.8 504.1L975.6 504.0L976.4 503.9L977.2 503.8L978.0 503.7L978.8 503.7L979.6 503.6L980.4 503.7L981.2 503.7L982.0 503.7L982.8 503.8L983.6 503.9L984.4 504.0L985.2 504.2L986.0 504.4L986.8 504.6L987.6 504.8L988.4 505.0L989.2 505.3L990.0 505.6L990.7 505.8L991.5 506.2L992.3 506.5L993.1 506.8L993.9 507.2L994.7 507.6L995.5 508.0L996.3 508.4L997.1 508.8L997.9 509.2L998.7 509.6L999.5 510.1L1000.3 510.5L1001.1 511.0L1001.9 511.4L1002.7 511.9L1003.5 512.3L1004.3 512.8L1005.1 513.3L1005.9 513.7L1006.7 514.2L1007.5 514.6L1008.3 515.1L1009.1 515.5L1009.9 515.9L1010.7 516.3L1011.5 516.8L1012.3 517.1L1013.1 517.5L1013.9 517.9L1014.7 518.3L1015.5 518.6L1016.3 518.9L1017.1 519.2L1017.9 519.5L1018.6 519.8L1019.4 520.0L1020.2 520.2L1021.0 520.4L1021.8 520.6L1022.6 520.8L1023.4 520.9L1024.2 521.0L1025.0 521.1L1025.8 521.2L1026.6 521.2L1027.4 521.2L1028.2 521.2L1029.0 521.2L1029.8 521.2L1030.6 521.1L1031.4 521.0L1032.2 520.8L1033.0 520.7L1033.8 520.5L1034.6 520.3L1035.4 520.1L1036.2 519.8L1037.0 519.6L1037.8 519.3L1038.6 519.0L1039.4 518.6L1040.2 518.3L1041.0 517.9L1041.8 517.5L1042.6 517.1L1043.4 516.7L1044.2 516.3L1045.0 515.8L1045.8 515.4L1046.6 514.9L1047.3 514.4L1048.1 513.9L1048.9 513.4L1049.7 512.9L1050.5 512.4L1051.3 511.9L1052.1 511.4L1052.9 510.8L1053.7 510.3L1054.5 509.8L1055.3 509.3L1056.1 508.8L1056.9 508.2L1057.7 507.7L1058.5 507.2L1059.3 506.7L1060.1 506.3L1060.9 505.8L1061.7 505.3L1062.5 504.9L1063.3 504.4L1064.1 504.0L1064.9 503.6L1065.7 503.2L1066.5 502.8L1067.3 502.5L1068.1 502.2L1068.9 501.8L1069.7 501.5L1070.5 501.3L1071.3 501.0L1072.1 500.8L1072.9 500.6L1073.7 500.4L1074.5 500.3L1075.2 500.1L1076.0 500.0L1076.8 499.9L1077.6 499.9L1078.4 499.8L1079.2 499.8L1080.0 499.9L1080.8 499.9L1081.6 500.0L1082.4 500.1L1083.2 500.2L1084.0 500.4L1084.8 500.5L1085.6 500.7L1086.4 500.9L1087.2 501.2L1088.0 501.4L1088.8 501.7L1089.6 502.0L1090.4 502.4L1091.2 502.7L1092.0 503.1L1092.8 503.5L1093.6 503.9L1094.4 504.3L1095.2 504.7L1096.0 505.2L1096.8 505.6L1097.6 506.1L1098.4 506.6L1099.2 507.1L1100.0 507.6L1100.8 508.1L1101.6 508.6L1102.4 509.1L1103.1 509.6L1103.9 510.2L1104.7 510.7L1105.5 511.2L1106.3 511.7L1107.1 512.3L1107.9 512.8L1108.7 513.3L1109.5 513.8L1110.3 514.3L1111.1 514.8L1111.9 515.3L1112.7 515.7L1113.5 516.2L1114.3 516.6L1115.1 517.1L1115.9 517.5L1116.7 517.9L1117.5 518.3L1118.3 518.7L1119.1 519.0L1119.9 519.3L1120.7 519.6L1121.5 519.9L1122.3 520.2L1123.1 520.5L1123.9 520.7L1124.7 520.9L1125.5 521.1L1126.3 521.2L1127.1 521.4L1127.9 521.5L1128.7 521.6L1129.5 521.6L1130.3 521.6L1131.1 521.7L1131.8 521.7L1132.6 521.6L1133.4 521.6L1134.2 521.5L1135.0 521.4L1135.8 521.2L1136.6 521.1L1137.4 520.9L1138.2 520.7L1139.0 520.5L1139.8 520.3L1140.6 520.0L1141.4 519.8L1142.2 519.5L1143.0 519.2L1143.8 518.8L1144.6 518.5L1145.4 518.1L1146.2 517.8L1147.0 517.4L1147.8 517.0L1148.6 516.6L1149.4 516.2L1150.2 515.8L1151.0 515.3L1151.8 514.9L1152.6 514.5L1153.4 514.0L1154.2 513.6L1155.0 513.1L1155.8 512.7L1156.6 512.2L1157.4 511.8L1158.2 511.3L1159.0 510.9L1159.7 510.5L1160.5 510.0L1161.3 509.6L1162.1 509.2L1162.9 508.8L1163.7 508.4L1164.5 508.1L1165.3 507.7L1166.1 507.3L1166.9 507.0L1167.7 506.7L1168.5 506.4L1169.3 506.1L1170.1 505.8L1170.9 505.6L1171.7 505.3L1172.5 505.1L1173.3 504.9L1174.1 504.7L1174.9 504.6L1175.7 504.4L1176.5 504.3L1177.3 504.2L1178.1 504.2L1178.9 504.1L1179.7 504.1L1180.5 504.1L1181.3 504.1L1182.1 504.1L1182.9 504.2L1183.7 504.3L1184.5 504.4L1185.3 504.5L1186.1 504.7L1186.9 504.8L1187.7 505.0L1188.4 505.2L1189.2 505.4L1190.0 505.7L1190.8 505.9L1191.6 506.2L1192.4 506.5L1193.2 506.8L1194.0 507.1L1194.8 507.5L1195.6 507.8" stroke="#EB6235" stroke-width="6.0"/>
<path d="M239.0 679.0L243.8 666.7L244.6 662.7L245.4 658.5L246.2 654.0L247.0 649.3L247.8 644.6L248.6 639.7L249.4 634.9L250.2 630.0L251.0 625.2L251.8 620.4L252.6 615.7L253.4 611.1L254.2 606.5L255.0 602.0L255.7 597.6L256.5 593.3L257.3 589.1L258.1 585.0L258.9 581.0L259.7 577.1L260.5 573.3L261.3 569.7L262.1 566.1L262.9 562.6L263.7 559.3L264.5 556.1L265.3 553.0L266.1 550.0L266.9 547.2L267.7 544.5L268.5 541.9L269.3 539.4L270.1 537.0L270.9 534.8L271.7 532.7L272.5 530.8L273.3 528.9L274.1 527.2L274.9 525.6L275.7 524.2L276.5 522.8L277.3 521.6L278.1 520.5L278.9 519.5L279.7 518.7L280.5 517.9L281.3 517.3L282.1 516.8L282.9 516.4L283.6 516.1L284.4 515.9L285.2 515.8L286.0 515.8L286.8 515.9L287.6 516.1L288.4 516.4L289.2 516.8L290.0 517.3L290.8 517.8L291.6 518.5L292.4 519.2L293.2 519.9L294.0 520.8L294.8 521.7L295.6 522.7L296.4 523.7L297.2 524.8L298.0 525.9L298.8 527.1L299.6 528.3L300.4 529.6L301.2 530.9L302.0 532.2L302.8 533.6L303.6 535.0L304.4 536.4L305.2 537.8L306.0 539.2L306.8 540.7L307.6 542.1L308.4 543.6L309.2 545.0L310.0 546.5L310.8 547.9L311.5 549.4L312.3 550.8L313.1 552.2L313.9 553.6L314.7 555.0L315.5 556.3L316.3 557.6L317.1 558.9L317.9 560.2L318.7 561.4L319.5 562.6L320.3 563.8L321.1 564.9L321.9 566.0L322.7 567.1L323.5 568.1L324.3 569.1L325.1 570.0L325.9 570.9L326.7 571.7L327.5 572.5L328.3 573.2L329.1 573.9L329.9 574.6L330.7 575.2L331.5 575.7L332.3 576.2L333.1 576.7L333.9 577.1L334.7 577.5L335.5 577.8L336.3 578.1L337.1 578.3L337.9 578.5L338.7 578.7L339.5 578.8L340.2 578.8L341.0 578.9L341.8 578.9L342.6 578.8L343.4 578.7L344.2 578.6L345.0 578.5L345.8 578.3L346.6 578.1L347.4 577.9L348.2 577.6L349.0 577.3L349.8 577.0L350.6 576.7L351.4 576.4L352.2 576.0L353.0 575.6L353.8 575.3L354.6 574.9L355.4 574.5L356.2 574.1L357.0 573.6L357.8 573.2L358.6 572.8L359.4 572.4L360.2 572.0L361.0 571.6L361.8 571.2L362.6 570.8L363.4 570.4L364.2 570.0L365.0 569.7L365.8 569.3L366.6 569.0L367.4 568.6L368.1 568.3L368.9 568.1L369.7 567.8L370.5 567.5L371.3 567.3L372.1 567.1L372.9 566.9L373.7 566.8L374.5 566.6L375.3 566.5L376.1 566.4L376.9 566.4L377.7 566.3L378.5 566.3L379.3 566.3L380.1 566.4L380.9 566.4L381.7 566.5L382.5 566.6L383.3 566.8L384.1 566.9L384.9 567.1L385.7 567.3L386.5 567.5L387.3 567.8L388.1 568.0L388.9 568.3L389.7 568.6L390.5 568.9L391.3 569.3L392.1 569.6L392.9 570.0L393.7 570.4L394.5 570.8L395.3 571.2L396.1 571.6L396.8 572.0L397.6 572.4L398.4 572.9L399.2 573.3L400.0 573.7L400.8 574.2L401.6 574.6L402.4 575.0L403.2 575.5L404.0 575.9L404.8 576.3L405.6 576.7L406.4 577.1L407.2 577.5L408.0 577.9L408.8 578.2L409.6 578.6L410.4 578.9L411.2 579.2L412.0 579.5L412.8 579.8L413.6 580.1L414.4 580.3L415.2 580.5L416.0 580.7L416.8 580.9L417.6 581.0L418.4 581.2L419.2 581.3L420.0 581.3L420.8 581.4L421.6 581.4L422.4 581.3L423.2 581.3L424.0 581.2L424.7 581.1L425.5 581.0L426.3 580.8L427.1 580.6L427.9 580.4L428.7 580.1L429.5 579.8L430.3 579.5L431.1 579.2L431.9 578.8L432.7 578.4L433.5 578.0L434.3 577.6L435.1 577.1L435.9 576.6L436.7 576.1L437.5 575.5L438.3 575.0L439.1 574.4L439.9 573.8L440.7 573.2L441.5 572.5L442.3 571.9L443.1 571.2L443.9 570.6L444.7 569.9L445.5 569.2L446.3 568.5L447.1 567.7L447.9 567.0L448.7 566.3L449.5 565.6L450.3 564.8L451.1 564.1L451.9 563.4L452.7 562.6L453.4 561.9L454.2 561.2L455.0 560.5L455.8 559.8L456.6 559.1L457.4 558.4L458.2 557.8L459.0 557.1L459.8 556.5L460.6 555.9L461.4 555.3L462.2 554.7L463.0 554.2L463.8 553.6L464.6 553.1L465.4 552.6L466.2 552.2L467.0 551.7L467.8 551.3L468.6 551.0L469.4 550.6L470.2 550.3L471.0 550.0L471.8 549.7L472.6 549.5L473.4 549.3L474.2 549.2L475.0 549.0L475.8 548.9L476.6 548.8L477.4 548.8L478.2 548.8L479.0 548.8L479.8 548.9L480.6 549.0L481.3 549.1L482.1 549.3L482.9 549.4L483.7 549.7L484.5 549.9L485.3 550.2L486.1 550.5L486.9 550.8L487.7 551.2L488.5 551.5L489.3 551.9L490.1 552.4L490.9 552.8L491.7 553.3L492.5 553.8L493.3 554.3L494.1 554.9L494.9 555.4L495.7 556.0L496.5 556.6L497.3 557.2L498.1 557.8L498.9 558.4L499.7 559.0L500.5 559.6L501.3 560.3L502.1 560.9L502.9 561.6L503.7 562.2L504.5 562.9L505.3 563.5L506.1 564.2L506.9 564.8L507.7 565.5L508.5 566.1L509.3 566.7L510.0 567.4L510.8 568.0L511.6 568.6L512.4 569.2L513.2 569.7L514.0 570.3L514.8 570.8L515.6 571.3L516.4 571.9L517.2 572.3L518.0 572.8L518.8 573.3L519.6 573.7L520.4 574.1L521.2 574.5L522.0 574.8L522.8 575.2L523.6 575.5L524.4 575.8L525.2 576.0L526.0 576.3L526.8 576.5L527.6 576.7L528.4 576.8L529.2 577.0L530.0 577.1L530.8 577.1L531.6 577.2L532.4 577.2L533.2 577.2L534.0 577.2L534.8 577.2L535.6 577.1L536.4 577.0L537.2 576.9L537.9 576.7L538.7 576.6L539.5 576.4L540.3 576.2L541.1 576.0L541.9 575.7L542.7 575.5L543.5 575.2L544.3 574.9L545.1 574.6L545.9 574.3L546.7 573.9L547.5 573.6L548.3 573.2L549.1 572.9L549.9 572.5L550.7 572.1L551.5 571.7L552.3 571.3L553.1 570.9L553.9 570.5L554.7 570.1L555.5 569.7L556.3 569.3L557.1 568.9L557.9 568.5L558.7 568.1L559.5 567.7L560.3 567.3L561.1 567.0L561.9 566.6L562.7 566.2L563.5 565.9L564.3 565.5L565.1 565.2L565.9 564.9L566.6 564.6L567.4 564.3L568.2 564.1L569.0 563.8L569.8 563.6L570.6 563.3L571.4 563.1L572.2 563.0L573.0 562.8L573.8 562.7L574.6 562.5L575.4 562.4L576.2 562.3L577.0 562.3L577.8 562.2L578.6 562.2L579.4 562.2L580.2 562.2L581.0 562.2L581.8 562.3L582.6 562.4L583.4 562.5L584.2 562.6L585.0 562.7L585.8 562.8L586.6 563.0L587.4 563.2L588.2 563.4L589.0 563.6L589.8 563.8L590.6 564.1L591.4 564.3L592.2 564.6L593.0 564.9L593.8 565.2L594.5 565.5L595.3 565.8L596.1 566.1L596.9 566.5L597.7 566.8L598.5 567.2L599.3 567.5L600.1 567.9L600.9 568.2L601.7 568.6L602.5 568.9L603.3 569.3L604.1 569.6L604.9 570.0L605.7 570.3L606.5 570.7L607.3 571.0L608.1 571.3L608.9 571.7L609.7 572.0L610.5 572.3L611.3 572.6L612.1 572.9L612.9 573.1L613.7 573.4L614.5 573.6L615.3 573.9L616.1 574.1L616.9 574.3L617.7 574.5L618.5 574.6L619.3 574.8L620.1 574.9L620.9 575.0L621.7 575.1L622.5 575.2L623.2 575.2L624.0 575.3L624.8 575.3L625.6 575.3L626.4 575.2L627.2 575.2L628.0 575.1L628.8 575.0L629.6 574.9L630.4 574.8L631.2 574.6L632.0 574.4L632.8 574.2L633.6 574.0L634.4 573.8L635.2 573.5L636.0 573.3L636.8 573.0L637.6 572.7L638.4 572.3L639.2 572.0L640.0 571.7L640.8 571.3L641.6 570.9L642.4 570.5L643.2 570.1L644.0 569.7L644.8 569.3L645.6 568.9L646.4 568.4L647.2 568.0L648.0 567.5L648.8 567.1L649.6 566.6L650.4 566.1L651.1 565.7L651.9 565.2L652.7 564.7L653.5 564.3L654.3 563.8L655.1 563.3L655.9 562.9L656.7 562.4L657.5 562.0L658.3 561.6L659.1 561.1L659.9 560.7L660.7 560.3L661.5 559.9L662.3 559.5L663.1 559.2L663.9 558.8L664.7 558.5L665.5 558.2L666.3 557.9L667.1 557.6L667.9 557.3L668.7 557.0L669.5 556.8L670.3 556.6L671.1 556.4L671.9 556.2L672.7 556.1L673.5 555.9L674.3 555.8L675.1 555.7L675.9 555.7L676.7 555.6L677.5 555.6L678.3 555.6L679.0 555.6L679.8 555.7L680.6 555.7L681.4 555.8L682.2 555.9L683.0 556.1L683.8 556.2L684.6 556.4L685.4 556.6L686.2 556.8L687.0 557.0L687.8 557.3L688.6 557.6L689.4 557.8L690.2 558.1L691.0 558.5L691.8 558.8L692.6 559.1L693.4 559.5L694.2 559.9L695.0 560.3L695.8 560.7L696.6 561.1L697.4 561.5L698.2 561.9L699.0 562.4L699.8 562.8L700.6 563.2L701.4 563.7L702.2 564.2L703.0 564.6L703.8 565.1L704.6 565.5L705.4 566.0L706.2 566.4L707.0 566.9L707.7 567.3L708.5 567.8L709.3 568.2L710.1 568.6L710.9 569.1L711.7 569.5L712.5 569.9L713.3 570.3L714.1 570.7L714.9 571.0L715.7 571.4L716.5 571.7L717.3 572.1L718.1 572.4L718.9 572.7L719.7 573.0L720.5 573.2L721.3 573.5L722.1 573.7L722.9 573.9L723.7 574.1L724.5 574.3L725.3 574.5L726.1 574.6L726.9 574.7L727.7 574.8L728.5 574.9L729.3 575.0L730.1 575.0L730.9 575.0L731.7 575.0L732.5 575.0L733.3 575.0L734.1 574.9L734.9 574.9L735.6 574.8L736.4 574.6L737.2 574.5L738.0 574.4L738.8 574.2L739.6 574.0L740.4 573.8L741.2 573.6L742.0 573.4L742.8 573.2L743.6 572.9L744.4 572.7L745.2 572.4L746.0 572.1L746.8 571.8L747.6 571.5L748.4 571.2L749.2 570.9L750.0 570.6L750.8 570.2L751.6 569.9L752.4 569.6L753.2 569.2L754.0 568.9L754.8 568.5L755.6 568.2L756.4 567.8L757.2 567.5L758.0 567.2L758.8 566.8L759.6 566.5L760.4 566.2L761.2 565.9L762.0 565.6L762.8 565.3L763.6 565.0L764.3 564.7L765.1 564.4L765.9 564.2L766.7 563.9L767.5 563.7L768.3 563.4L769.1 563.2L769.9 563.0L770.7 562.8L771.5 562.7L772.3 562.5L773.1 562.4L773.9 562.3L774.7 562.2L775.5 562.1L776.3 562.0L777.1 561.9L777.9 561.9L778.7 561.9L779.5 561.9L780.3 561.9L781.1 561.9L781.9 561.9L782.7 562.0L783.5 562.1L784.3 562.2L785.1 562.3L785.9 562.4L786.7 562.5L787.5 562.7L788.3 562.9L789.1 563.0L789.9 563.2L790.7 563.4L791.5 563.7L792.2 563.9L793.0 564.1L793.8 564.4L794.6 564.6L795.4 564.9L796.2 565.2L797.0 565.5L797.8 565.7L798.6 566.0L799.4 566.3L800.2 566.6L801.0 566.9L801.8 567.2L802.6 567.6L803.4 567.9L804.2 568.2L805.0 568.5L805.8 568.8L806.6 569.1L807.4 569.4L808.2 569.7L809.0 570.0L809.8 570.2L810.6 570.5L811.4 570.8L812.2 571.0L813.0 571.3L813.8 571.5L814.6 571.8L815.4 572.0L816.2 572.2L817.0 572.4L817.8 572.6L818.6 572.7L819.4 572.9L820.2 573.0L820.9 573.1L821.7 573.2L822.5 573.3L823.3 573.4L824.1 573.4L824.9 573.5L825.7 573.5L826.5 573.5L827.3 573.5L828.1 573.5L828.9 573.4L829.7 573.4L830.5 573.3L831.3 573.2L832.1 573.1L832.9 573.0L833.7 572.8L834.5 572.7L835.3 572.5L836.1 572.3L836.9 572.1L837.7 571.9L838.5 571.6L839.3 571.4L840.1 571.1L840.9 570.8L841.7 570.6L842.5 570.3L843.3 570.0L844.1 569.6L844.9 569.3L845.7 569.0L846.5 568.7L847.3 568.3L848.1 568.0L848.8 567.6L849.6 567.2L850.4 566.9L851.2 566.5L852.0 566.1L852.8 565.8L853.6 565.4L854.4 565.0L855.2 564.7L856.0 564.3L856.8 564.0L857.6 563.6L858.4 563.3L859.2 562.9L860.0 562.6L860.8 562.2L861.6 561.9L862.4 561.6L863.2 561.3L864.0 561.0L864.8 560.8L865.6 560.5L866.4 560.2L867.2 560.0L868.0 559.8L868.8 559.6L869.6 559.4L870.4 559.2L871.2 559.0L872.0 558.9L872.8 558.7L873.6 558.6L874.4 558.5L875.2 558.5L876.0 558.4L876.8 558.3L877.5 558.3L878.3 558.3L879.1 558.3L879.9 558.3L880.7 558.4L881.5 558.4L882.3 558.5L883.1 558.6L883.9 558.7L884.7 558.9L885.5 559.0L886.3 559.2L887.1 559.4L887.9 559.6L888.7 559.8L889.5 560.0L890.3 560.2L891.1 560.5L891.9 560.7L892.7 561.0L893.5 561.3L894.3 561.6L895.1 561.9L895.9 562.2L896.7 562.6L897.5 562.9L898.3 563.2L899.1 563.6L899.9 563.9L900.7 564.3L901.5 564.7L902.3 565.0L903.1 565.4L903.9 565.7L904.7 566.1L905.4 566.5L906.2 566.9L907.0 567.2L907.8 567.6L908.6 567.9L909.4 568.3L910.2 568.6L911.0 569.0L911.8 569.3L912.6 569.6L913.4 570.0L914.2 570.3L915.0 570.6L915.8 570.9L916.6 571.1L917.4 571.4L918.2 571.7L919.0 571.9L919.8 572.1L920.6 572.3L921.4 572.5L922.2 572.7L923.0 572.9L923.8 573.1L924.6 573.2L925.4 573.3L926.2 573.4L927.0 573.5L927.8 573.6L928.6 573.6L929.4 573.7L930.2 573.7L931.0 573.7L931.8 573.7L932.6 573.7L933.4 573.7L934.1 573.6L934.9 573.5L935.7 573.4L936.5 573.3L937.3 573.2L938.1 573.1L938.9 572.9L939.7 572.8L940.5 572.6L941.3 572.4L942.1 572.2L942.9 572.0L943.7 571.8L944.5 571.6L945.3 571.3L946.1 571.1L946.9 570.8L947.7 570.6L948.5 570.3L949.3 570.0L950.1 569.7L950.9 569.4L951.7 569.2L952.5 568.9L953.3 568.6L954.1 568.3L954.9 568.0L955.7 567.7L956.5 567.4L957.3 567.1L958.1 566.8L958.9 566.5L959.7 566.2L960.5 565.9L961.3 565.6L962.0 565.4L962.8 565.1L963.6 564.8L964.4 564.6L965.2 564.4L966.0 564.1L966.8 563.9L967.6 563.7L968.4 563.5L969.2 563.3L970.0 563.1L970.8 563.0L971.6 562.8L972.4 562.7L973.2 562.5L974.0 562.4L974.8 562.3L975.6 562.2L976.4 562.2L977.2 562.1L978.0 562.1L978.8 562.1L979.6 562.0L980.4 562.1L981.2 562.1L982.0 562.1L982.8 562.2L983.6 562.2L984.4 562.3L985.2 562.4L986.0 562.5L986.8 562.6L987.6 562.7L988.4 562.9L989.2 563.0L990.0 563.2L990.7 563.4L991.5 563.6L992.3 563.8L993.1 564.0L993.9 564.2L994.7 564.4L995.5 564.6L996.3 564.9L997.1 565.1L997.9 565.4L998.7 565.6L999.5 565.9L1000.3 566.2L1001.1 566.4L1001.9 566.7L1002.7 567.0L1003.5 567.3L1004.3 567.5L1005.1 567.8L1005.9 568.1L1006.7 568.4L1007.5 568.6L1008.3 568.9L1009.1 569.2L1009.9 569.4L1010.7 569.7L1011.5 569.9L1012.3 570.1L1013.1 570.4L1013.9 570.6L1014.7 570.8L1015.5 571.0L1016.3 571.2L1017.1 571.4L1017.9 571.6L1018.6 571.7L1019.4 571.9L1020.2 572.0L1021.0 572.1L1021.8 572.2L1022.6 572.3L1023.4 572.4L1024.2 572.5L1025.0 572.5L1025.8 572.6L1026.6 572.6L1027.4 572.6L1028.2 572.6L1029.0 572.6L1029.8 572.5L1030.6 572.5L1031.4 572.4L1032.2 572.4L1033.0 572.3L1033.8 572.2L1034.6 572.0L1035.4 571.9L1036.2 571.7L1037.0 571.6L1037.8 571.4L1038.6 571.2L1039.4 571.0L1040.2 570.8L1041.0 570.6L1041.8 570.4L1042.6 570.1L1043.4 569.9L1044.2 569.6L1045.0 569.3L1045.8 569.1L1046.6 568.8L1047.3 568.5L1048.1 568.2L1048.9 567.9L1049.7 567.6L1050.5 567.3L1051.3 567.0L1052.1 566.7L1052.9 566.4L1053.7 566.0L1054.5 565.7L1055.3 565.4L1056.1 565.1L1056.9 564.8L1057.7 564.5L1058.5 564.2L1059.3 563.9L1060.1 563.6L1060.9 563.3L1061.7 563.0L1062.5 562.8L1063.3 562.5L1064.1 562.3L1064.9 562.0L1065.7 561.8L1066.5 561.6L1067.3 561.3L1068.1 561.1L1068.9 561.0L1069.7 560.8L1070.5 560.6L1071.3 560.5L1072.1 560.3L1072.9 560.2L1073.7 560.1L1074.5 560.0L1075.2 559.9L1076.0 559.9L1076.8 559.8L1077.6 559.8L1078.4 559.8L1079.2 559.8L1080.0 559.8L1080.8 559.8L1081.6 559.9L1082.4 559.9L1083.2 560.0L1084.0 560.1L1084.8 560.2L1085.6 560.3L1086.4 560.4L1087.2 560.6L1088.0 560.7L1088.8 560.9L1089.6 561.1L1090.4 561.3L1091.2 561.5L1092.0 561.7L1092.8 561.9L1093.6 562.2L1094.4 562.4L1095.2 562.7L1096.0 563.0L1096.8 563.2L1097.6 563.5L1098.4 563.8L1099.2 564.1L1100.0 564.4L1100.8 564.7L1101.6 565.0L1102.4 565.3L1103.1 565.6L1103.9 566.0L1104.7 566.3L1105.5 566.6L1106.3 566.9L1107.1 567.2L1107.9 567.5L1108.7 567.8L1109.5 568.1L1110.3 568.4L1111.1 568.7L1111.9 569.0L1112.7 569.3L1113.5 569.6L1114.3 569.9L1115.1 570.1L1115.9 570.4L1116.7 570.6L1117.5 570.8L1118.3 571.1L1119.1 571.3L1119.9 571.5L1120.7 571.6L1121.5 571.8L1122.3 572.0L1123.1 572.1L1123.9 572.3L1124.7 572.4L1125.5 572.5L1126.3 572.6L1127.1 572.7L1127.9 572.7L1128.7 572.8L1129.5 572.8L1130.3 572.9L1131.1 572.9L1131.8 572.9L1132.6 572.8L1133.4 572.8L1134.2 572.7L1135.0 572.7L1135.8 572.6L1136.6 572.5L1137.4 572.4L1138.2 572.3L1139.0 572.2L1139.8 572.0L1140.6 571.9L1141.4 571.7L1142.2 571.5L1143.0 571.4L1143.8 571.2L1144.6 571.0L1145.4 570.7L1146.2 570.5L1147.0 570.3L1147.8 570.1L1148.6 569.8L1149.4 569.6L1150.2 569.3L1151.0 569.1L1151.8 568.8L1152.6 568.5L1153.4 568.3L1154.2 568.0L1155.0 567.7L1155.8 567.5L1156.6 567.2L1157.4 566.9L1158.2 566.7L1159.0 566.4L1159.7 566.1L1160.5 565.9L1161.3 565.6L1162.1 565.4L1162.9 565.2L1163.7 564.9L1164.5 564.7L1165.3 564.5L1166.1 564.3L1166.9 564.1L1167.7 563.9L1168.5 563.7L1169.3 563.5L1170.1 563.3L1170.9 563.2L1171.7 563.0L1172.5 562.9L1173.3 562.8L1174.1 562.7L1174.9 562.6L1175.7 562.5L1176.5 562.5L1177.3 562.4L1178.1 562.4L1178.9 562.3L1179.7 562.3L1180.5 562.3L1181.3 562.3L1182.1 562.3L1182.9 562.4L1183.7 562.4L1184.5 562.5L1185.3 562.6L1186.1 562.7L1186.9 562.8L1187.7 562.9L1188.4 563.0L1189.2 563.1L1190.0 563.3L1190.8 563.4L1191.6 563.6L1192.4 563.8L1193.2 564.0L1194.0 564.1L1194.8 564.3L1195.6 564.6" stroke="#8778B3" stroke-width="6.0"/>
<path d="M239.0 679.0L243.8 669.0L244.6 666.4L245.4 663.8L246.2 661.2L247.0 658.7L247.8 656.1L248.6 653.6L249.4 651.2L250.2 648.7L251.0 646.3L251.8 643.9L252.6 641.6L253.4 639.2L254.2 637.0L255.0 634.8L255.7 632.6L256.5 630.4L257.3 628.4L258.1 626.3L258.9 624.3L259.7 622.4L260.5 620.5L261.3 618.7L262.1 616.9L262.9 615.2L263.7 613.6L264.5 612.0L265.3 610.5L266.1 609.0L266.9 607.6L267.7 606.2L268.5 605.0L269.3 603.7L270.1 602.6L270.9 601.5L271.7 600.5L272.5 599.5L273.3 598.6L274.1 597.7L274.9 597.0L275.7 596.2L276.5 595.6L277.3 595.0L278.1 594.4L278.9 594.0L279.7 593.5L280.5 593.2L281.3 592.9L282.1 592.6L282.9 592.5L283.6 592.3L284.4 592.2L285.2 592.2L286.0 592.2L286.8 592.3L287.6 592.4L288.4 592.5L289.2 592.7L290.0 593.0L290.8 593.3L291.6 593.6L292.4 594.0L293.2 594.4L294.0 594.8L294.8 595.3L295.6 595.7L296.4 596.3L297.2 596.8L298.0 597.4L298.8 598.0L299.6 598.6L300.4 599.2L301.2 599.9L302.0 600.6L302.8 601.2L303.6 601.9L304.4 602.6L305.2 603.4L306.0 604.1L306.8 604.8L307.6 605.5L308.4 606.3L309.2 607.0L310.0 607.7L310.8 608.5L311.5 609.2L312.3 609.9L313.1 610.6L313.9 611.3L314.7 612.0L315.5 612.7L316.3 613.3L317.1 614.0L317.9 614.6L318.7 615.2L319.5 615.8L320.3 616.4L321.1 617.0L321.9 617.5L322.7 618.1L323.5 618.6L324.3 619.0L325.1 619.5L325.9 620.0L326.7 620.4L327.5 620.8L328.3 621.1L329.1 621.5L329.9 621.8L330.7 622.1L331.5 622.4L332.3 622.6L333.1 622.9L333.9 623.1L334.7 623.3L335.5 623.4L336.3 623.6L337.1 623.7L337.9 623.8L338.7 623.8L339.5 623.9L340.2 623.9L341.0 623.9L341.8 623.9L342.6 623.9L343.4 623.9L344.2 623.8L345.0 623.7L345.8 623.7L346.6 623.6L347.4 623.4L348.2 623.3L349.0 623.2L349.8 623.0L350.6 622.9L351.4 622.7L352.2 622.5L353.0 622.3L353.8 622.1L354.6 621.9L355.4 621.7L356.2 621.5L357.0 621.3L357.8 621.1L358.6 620.9L359.4 620.7L360.2 620.5L361.0 620.3L361.8 620.1L362.6 619.9L363.4 619.7L364.2 619.5L365.0 619.3L365.8 619.1L366.6 619.0L367.4 618.8L368.1 618.7L368.9 618.5L369.7 618.4L370.5 618.2L371.3 618.1L372.1 618.0L372.9 617.9L373.7 617.9L374.5 617.8L375.3 617.7L376.1 617.7L376.9 617.7L377.7 617.6L378.5 617.6L379.3 617.6L380.1 617.7L380.9 617.7L381.7 617.7L382.5 617.8L383.3 617.8L384.1 617.9L384.9 618.0L385.7 618.1L386.5 618.2L387.3 618.3L388.1 618.5L388.9 618.6L389.7 618.8L390.5 618.9L391.3 619.1L392.1 619.3L392.9 619.5L393.7 619.6L394.5 619.8L395.3 620.0L396.1 620.2L396.8 620.5L397.6 620.7L398.4 620.9L399.2 621.1L400.0 621.3L400.8 621.5L401.6 621.8L402.4 622.0L403.2 622.2L404.0 622.4L404.8 622.6L405.6 622.8L406.4 623.0L407.2 623.2L408.0 623.4L408.8 623.6L409.6 623.7L410.4 623.9L411.2 624.1L412.0 624.2L412.8 624.4L413.6 624.5L414.4 624.6L415.2 624.7L416.0 624.8L416.8 624.9L417.6 625.0L418.4 625.0L419.2 625.1L420.0 625.1L420.8 625.1L421.6 625.1L422.4 625.1L423.2 625.1L424.0 625.1L424.7 625.0L425.5 624.9L426.3 624.8L427.1 624.7L427.9 624.6L428.7 624.5L429.5 624.4L430.3 624.2L431.1 624.0L431.9 623.9L432.7 623.7L433.5 623.4L434.3 623.2L435.1 623.0L435.9 622.7L436.7 622.5L437.5 622.2L438.3 621.9L439.1 621.6L439.9 621.3L440.7 621.0L441.5 620.7L442.3 620.4L443.1 620.1L443.9 619.7L444.7 619.4L445.5 619.0L446.3 618.7L447.1 618.3L447.9 618.0L448.7 617.6L449.5 617.2L450.3 616.9L451.1 616.5L451.9 616.1L452.7 615.8L453.4 615.4L454.2 615.1L455.0 614.7L455.8 614.3L456.6 614.0L457.4 613.7L458.2 613.3L459.0 613.0L459.8 612.7L460.6 612.4L461.4 612.1L462.2 611.8L463.0 611.5L463.8 611.3L464.6 611.0L465.4 610.8L466.2 610.5L467.0 610.3L467.8 610.1L468.6 609.9L469.4 609.8L470.2 609.6L471.0 609.5L471.8 609.3L472.6 609.2L473.4 609.1L474.2 609.0L475.0 609.0L475.8 608.9L476.6 608.9L477.4 608.9L478.2 608.9L479.0 608.9L479.8 608.9L480.6 608.9L481.3 609.0L482.1 609.1L482.9 609.2L483.7 609.3L484.5 609.4L485.3 609.5L486.1 609.7L486.9 609.9L487.7 610.0L488.5 610.2L489.3 610.4L490.1 610.7L490.9 610.9L491.7 611.1L492.5 611.4L493.3 611.6L494.1 611.9L494.9 612.2L495.7 612.5L496.5 612.7L497.3 613.0L498.1 613.3L498.9 613.7L499.7 614.0L500.5 614.3L501.3 614.6L502.1 614.9L502.9 615.3L503.7 615.6L504.5 615.9L505.3 616.2L506.1 616.6L506.9 616.9L507.7 617.2L508.5 617.5L509.3 617.8L510.0 618.1L510.8 618.4L511.6 618.7L512.4 619.0L513.2 619.3L514.0 619.6L514.8 619.9L515.6 620.1L516.4 620.4L517.2 620.6L518.0 620.9L518.8 621.1L519.6 621.3L520.4 621.5L521.2 621.7L522.0 621.9L522.8 622.1L523.6 622.2L524.4 622.4L525.2 622.5L526.0 622.6L526.8 622.7L527.6 622.8L528.4 622.9L529.2 622.9L530.0 623.0L530.8 623.0L531.6 623.1L532.4 623.1L533.2 623.1L534.0 623.1L534.8 623.0L535.6 623.0L536.4 623.0L537.2 622.9L537.9 622.8L538.7 622.8L539.5 622.7L540.3 622.6L541.1 622.4L541.9 622.3L542.7 622.2L543.5 622.1L544.3 621.9L545.1 621.8L545.9 621.6L546.7 621.4L547.5 621.3L548.3 621.1L549.1 620.9L549.9 620.7L550.7 620.5L551.5 620.3L552.3 620.1L553.1 619.9L553.9 619.7L554.7 619.5L555.5 619.3L556.3 619.1L557.1 618.9L557.9 618.7L558.7 618.5L559.5 618.3L560.3 618.1L561.1 617.9L561.9 617.8L562.7 617.6L563.5 617.4L564.3 617.2L565.1 617.1L565.9 616.9L566.6 616.8L567.4 616.6L568.2 616.5L569.0 616.4L569.8 616.2L570.6 616.1L571.4 616.0L572.2 615.9L573.0 615.9L573.8 615.8L574.6 615.7L575.4 615.7L576.2 615.6L577.0 615.6L577.8 615.6L578.6 615.6L579.4 615.6L580.2 615.6L581.0 615.6L581.8 615.6L582.6 615.6L583.4 615.7L584.2 615.7L585.0 615.8L585.8 615.9L586.6 616.0L587.4 616.1L588.2 616.2L589.0 616.3L589.8 616.4L590.6 616.5L591.4 616.6L592.2 616.8L593.0 616.9L593.8 617.1L594.5 617.2L595.3 617.4L596.1 617.5L596.9 617.7L597.7 617.9L598.5 618.0L599.3 618.2L600.1 618.4L600.9 618.6L601.7 618.7L602.5 618.9L603.3 619.1L604.1 619.3L604.9 619.5L605.7 619.6L606.5 619.8L607.3 620.0L608.1 620.1L608.9 620.3L609.7 620.5L610.5 620.6L611.3 620.8L612.1 620.9L612.9 621.0L613.7 621.2L614.5 621.3L615.3 621.4L616.1 621.5L616.9 621.6L617.7 621.7L618.5 621.8L619.3 621.8L620.1 621.9L620.9 622.0L621.7 622.0L622.5 622.0L623.2 622.1L624.0 622.1L624.8 622.1L625.6 622.1L626.4 622.1L627.2 622.0L628.0 622.0L628.8 622.0L629.6 621.9L630.4 621.8L631.2 621.8L632.0 621.7L632.8 621.6L633.6 621.5L634.4 621.3L635.2 621.2L636.0 621.1L636.8 620.9L637.6 620.8L638.4 620.6L639.2 620.5L640.0 620.3L640.8 620.1L641.6 619.9L642.4 619.7L643.2 619.5L644.0 619.3L644.8 619.1L645.6 618.9L646.4 618.7L647.2 618.4L648.0 618.2L648.8 618.0L649.6 617.8L650.4 617.5L651.1 617.3L651.9 617.1L652.7 616.8L653.5 616.6L654.3 616.4L655.1 616.1L655.9 615.9L656.7 615.7L657.5 615.5L658.3 615.2L659.1 615.0L659.9 614.8L660.7 614.6L661.5 614.4L662.3 614.2L663.1 614.0L663.9 613.9L664.7 613.7L665.5 613.5L666.3 613.4L667.1 613.2L667.9 613.1L668.7 613.0L669.5 612.9L670.3 612.8L671.1 612.7L671.9 612.6L672.7 612.5L673.5 612.4L674.3 612.4L675.1 612.3L675.9 612.3L676.7 612.3L677.5 612.3L678.3 612.3L679.0 612.3L679.8 612.3L680.6 612.3L681.4 612.4L682.2 612.4L683.0 612.5L683.8 612.6L684.6 612.7L685.4 612.8L686.2 612.9L687.0 613.0L687.8 613.1L688.6 613.2L689.4 613.4L690.2 613.5L691.0 613.7L691.8 613.9L692.6 614.0L693.4 614.2L694.2 614.4L695.0 614.6L695.8 614.8L696.6 615.0L697.4 615.2L698.2 615.4L699.0 615.6L699.8 615.9L700.6 616.1L701.4 616.3L702.2 616.5L703.0 616.8L703.8 617.0L704.6 617.2L705.4 617.5L706.2 617.7L707.0 617.9L707.7 618.1L708.5 618.4L709.3 618.6L710.1 618.8L710.9 619.0L711.7 619.2L712.5 619.4L713.3 619.6L714.1 619.8L714.9 620.0L715.7 620.2L716.5 620.3L717.3 620.5L718.1 620.7L718.9 620.8L719.7 620.9L720.5 621.1L721.3 621.2L722.1 621.3L722.9 621.4L723.7 621.5L724.5 621.6L725.3 621.7L726.1 621.8L726.9 621.8L727.7 621.9L728.5 621.9L729.3 621.9L730.1 622.0L730.9 622.0L731.7 622.0L732.5 622.0L733.3 622.0L734.1 621.9L734.9 621.9L735.6 621.8L736.4 621.8L737.2 621.7L738.0 621.6L738.8 621.6L739.6 621.5L740.4 621.4L741.2 621.3L742.0 621.2L742.8 621.0L743.6 620.9L744.4 620.8L745.2 620.7L746.0 620.5L746.8 620.4L747.6 620.2L748.4 620.1L749.2 619.9L750.0 619.7L750.8 619.6L751.6 619.4L752.4 619.2L753.2 619.1L754.0 618.9L754.8 618.7L755.6 618.6L756.4 618.4L757.2 618.2L758.0 618.0L758.8 617.9L759.6 617.7L760.4 617.6L761.2 617.4L762.0 617.2L762.8 617.1L763.6 616.9L764.3 616.8L765.1 616.7L765.9 616.5L766.7 616.4L767.5 616.3L768.3 616.2L769.1 616.1L769.9 616.0L770.7 615.9L771.5 615.8L772.3 615.7L773.1 615.7L773.9 615.6L774.7 615.5L775.5 615.5L776.3 615.5L777.1 615.4L777.9 615.4L778.7 615.4L779.5 615.4L780.3 615.4L781.1 615.4L781.9 615.4L782.7 615.5L783.5 615.5L784.3 615.5L785.1 615.6L785.9 615.7L786.7 615.7L787.5 615.8L788.3 615.9L789.1 616.0L789.9 616.1L790.7 616.2L791.5 616.3L792.2 616.4L793.0 616.5L793.8 616.6L794.6 616.8L795.4 616.9L796.2 617.0L797.0 617.2L797.8 617.3L798.6 617.5L799.4 617.6L800.2 617.8L801.0 617.9L801.8 618.1L802.6 618.2L803.4 618.4L804.2 618.5L805.0 618.7L805.8 618.9L806.6 619.0L807.4 619.2L808.2 619.3L809.0 619.4L809.8 619.6L810.6 619.7L811.4 619.9L812.2 620.0L813.0 620.1L813.8 620.2L814.6 620.3L815.4 620.4L816.2 620.5L817.0 620.6L817.8 620.7L818.6 620.8L819.4 620.9L820.2 621.0L820.9 621.0L821.7 621.1L822.5 621.1L823.3 621.2L824.1 621.2L824.9 621.2L825.7 621.2L826.5 621.2L827.3 621.2L828.1 621.2L828.9 621.2L829.7 621.1L830.5 621.1L831.3 621.1L832.1 621.0L832.9 620.9L833.7 620.9L834.5 620.8L835.3 620.7L836.1 620.6L836.9 620.5L837.7 620.4L838.5 620.3L839.3 620.1L840.1 620.0L840.9 619.9L841.7 619.7L842.5 619.6L843.3 619.4L844.1 619.3L844.9 619.1L845.7 619.0L846.5 618.8L847.3 618.6L848.1 618.4L848.8 618.3L849.6 618.1L850.4 617.9L851.2 617.7L852.0 617.5L852.8 617.3L853.6 617.2L854.4 617.0L855.2 616.8L856.0 616.6L856.8 616.4L857.6 616.3L858.4 616.1L859.2 615.9L860.0 615.7L860.8 615.6L861.6 615.4L862.4 615.3L863.2 615.1L864.0 615.0L864.8 614.8L865.6 614.7L866.4 614.6L867.2 614.5L868.0 614.3L868.8 614.2L869.6 614.1L870.4 614.1L871.2 614.0L872.0 613.9L872.8 613.8L873.6 613.8L874.4 613.7L875.2 613.7L876.0 613.7L876.8 613.6L877.5 613.6L878.3 613.6L879.1 613.6L879.9 613.6L880.7 613.7L881.5 613.7L882.3 613.7L883.1 613.8L883.9 613.8L884.7 613.9L885.5 614.0L886.3 614.0L887.1 614.1L887.9 614.2L888.7 614.3L889.5 614.5L890.3 614.6L891.1 614.7L891.9 614.8L892.7 615.0L893.5 615.1L894.3 615.3L895.1 615.4L895.9 615.6L896.7 615.7L897.5 615.9L898.3 616.1L899.1 616.2L899.9 616.4L900.7 616.6L901.5 616.8L902.3 617.0L903.1 617.2L903.9 617.3L904.7 617.5L905.4 617.7L906.2 617.9L907.0 618.1L907.8 618.2L908.6 618.4L909.4 618.6L910.2 618.8L911.0 618.9L911.8 619.1L912.6 619.3L913.4 619.4L914.2 619.6L915.0 619.7L915.8 619.9L916.6 620.0L917.4 620.2L918.2 620.3L919.0 620.4L919.8 620.5L920.6 620.6L921.4 620.7L922.2 620.8L923.0 620.9L923.8 621.0L924.6 621.1L925.4 621.1L926.2 621.2L927.0 621.2L927.8 621.3L928.6 621.3L929.4 621.3L930.2 621.3L931.0 621.3L931.8 621.3L932.6 621.3L933.4 621.3L934.1 621.3L934.9 621.2L935.7 621.2L936.5 621.1L937.3 621.1L938.1 621.0L938.9 620.9L939.7 620.9L940.5 620.8L941.3 620.7L942.1 620.6L942.9 620.5L943.7 620.4L944.5 620.2L945.3 620.1L946.1 620.0L946.9 619.9L947.7 619.7L948.5 619.6L949.3 619.5L950.1 619.3L950.9 619.2L951.7 619.0L952.5 618.9L953.3 618.7L954.1 618.6L954.9 618.4L955.7 618.3L956.5 618.1L957.3 618.0L958.1 617.8L958.9 617.7L959.7 617.6L960.5 617.4L961.3 617.3L962.0 617.1L962.8 617.0L963.6 616.9L964.4 616.8L965.2 616.6L966.0 616.5L966.8 616.4L967.6 616.3L968.4 616.2L969.2 616.1L970.0 616.0L970.8 615.9L971.6 615.9L972.4 615.8L973.2 615.7L974.0 615.7L974.8 615.6L975.6 615.6L976.4 615.5L977.2 615.5L978.0 615.5L978.8 615.5L979.6 615.5L980.4 615.5L981.2 615.5L982.0 615.5L982.8 615.5L983.6 615.6L984.4 615.6L985.2 615.6L986.0 615.7L986.8 615.8L987.6 615.8L988.4 615.9L989.2 616.0L990.0 616.1L990.7 616.1L991.5 616.2L992.3 616.3L993.1 616.4L993.9 616.5L994.7 616.7L995.5 616.8L996.3 616.9L997.1 617.0L997.9 617.2L998.7 617.3L999.5 617.4L1000.3 617.5L1001.1 617.7L1001.9 617.8L1002.7 618.0L1003.5 618.1L1004.3 618.2L1005.1 618.4L1005.9 618.5L1006.7 618.6L1007.5 618.8L1008.3 618.9L1009.1 619.0L1009.9 619.2L1010.7 619.3L1011.5 619.4L1012.3 619.5L1013.1 619.6L1013.9 619.8L1014.7 619.9L1015.5 620.0L1016.3 620.1L1017.1 620.2L1017.9 620.2L1018.6 620.3L1019.4 620.4L1020.2 620.5L1021.0 620.5L1021.8 620.6L1022.6 620.6L1023.4 620.7L1024.2 620.7L1025.0 620.7L1025.8 620.7L1026.6 620.8L1027.4 620.8L1028.2 620.8L1029.0 620.7L1029.8 620.7L1030.6 620.7L1031.4 620.7L1032.2 620.6L1033.0 620.6L1033.8 620.5L1034.6 620.5L1035.4 620.4L1036.2 620.3L1037.0 620.3L1037.8 620.2L1038.6 620.1L1039.4 620.0L1040.2 619.9L1041.0 619.8L1041.8 619.6L1042.6 619.5L1043.4 619.4L1044.2 619.3L1045.0 619.1L1045.8 619.0L1046.6 618.9L1047.3 618.7L1048.1 618.6L1048.9 618.4L1049.7 618.3L1050.5 618.1L1051.3 617.9L1052.1 617.8L1052.9 617.6L1053.7 617.5L1054.5 617.3L1055.3 617.2L1056.1 617.0L1056.9 616.9L1057.7 616.7L1058.5 616.6L1059.3 616.4L1060.1 616.3L1060.9 616.1L1061.7 616.0L1062.5 615.8L1063.3 615.7L1064.1 615.6L1064.9 615.5L1065.7 615.4L1066.5 615.2L1067.3 615.1L1068.1 615.0L1068.9 614.9L1069.7 614.9L1070.5 614.8L1071.3 614.7L1072.1 614.6L1072.9 614.6L1073.7 614.5L1074.5 614.5L1075.2 614.4L1076.0 614.4L1076.8 614.4L1077.6 614.4L1078.4 614.3L1079.2 614.3L1080.0 614.3L1080.8 614.4L1081.6 614.4L1082.4 614.4L1083.2 614.5L1084.0 614.5L1084.8 614.5L1085.6 614.6L1086.4 614.7L1087.2 614.7L1088.0 614.8L1088.8 614.9L1089.6 615.0L1090.4 615.1L1091.2 615.2L1092.0 615.3L1092.8 615.4L1093.6 615.6L1094.4 615.7L1095.2 615.8L1096.0 615.9L1096.8 616.1L1097.6 616.2L1098.4 616.4L1099.2 616.5L1100.0 616.7L1100.8 616.8L1101.6 617.0L1102.4 617.1L1103.1 617.3L1103.9 617.4L1104.7 617.6L1105.5 617.8L1106.3 617.9L1107.1 618.1L1107.9 618.2L1108.7 618.4L1109.5 618.5L1110.3 618.7L1111.1 618.8L1111.9 619.0L1112.7 619.1L1113.5 619.3L1114.3 619.4L1115.1 619.5L1115.9 619.6L1116.7 619.8L1117.5 619.9L1118.3 620.0L1119.1 620.1L1119.9 620.2L1120.7 620.3L1121.5 620.4L1122.3 620.5L1123.1 620.5L1123.9 620.6L1124.7 620.7L1125.5 620.7L1126.3 620.8L1127.1 620.8L1127.9 620.8L1128.7 620.9L1129.5 620.9L1130.3 620.9L1131.1 620.9L1131.8 620.9L1132.6 620.9L1133.4 620.9L1134.2 620.8L1135.0 620.8L1135.8 620.8L1136.6 620.7L1137.4 620.7L1138.2 620.6L1139.0 620.5L1139.8 620.5L1140.6 620.4L1141.4 620.3L1142.2 620.2L1143.0 620.1L1143.8 620.0L1144.6 619.9L1145.4 619.8L1146.2 619.7L1147.0 619.6L1147.8 619.5L1148.6 619.4L1149.4 619.2L1150.2 619.1L1151.0 619.0L1151.8 618.9L1152.6 618.7L1153.4 618.6L1154.2 618.5L1155.0 618.3L1155.8 618.2L1156.6 618.1L1157.4 617.9L1158.2 617.8L1159.0 617.7L1159.7 617.5L1160.5 617.4L1161.3 617.3L1162.1 617.2L1162.9 617.0L1163.7 616.9L1164.5 616.8L1165.3 616.7L1166.1 616.6L1166.9 616.5L1167.7 616.4L1168.5 616.3L1169.3 616.2L1170.1 616.1L1170.9 616.1L1171.7 616.0L1172.5 615.9L1173.3 615.9L1174.1 615.8L1174.9 615.8L1175.7 615.7L1176.5 615.7L1177.3 615.7L1178.1 615.6L1178.9 615.6L1179.7 615.6L1180.5 615.6L1181.3 615.6L1182.1 615.6L1182.9 615.6L1183.7 615.7L1184.5 615.7L1185.3 615.7L1186.1 615.8L1186.9 615.8L1187.7 615.9L1188.4 616.0L1189.2 616.0L1190.0 616.1L1190.8 616.2L1191.6 616.3L1192.4 616.3L1193.2 616.4L1194.0 616.5L1194.8 616.6L1195.6 616.7" stroke="#C56E1A" stroke-width="6.0"/>
</g>
<g fill="none" stroke-linejoin="round">
<path d="M239.0 737.8L239.4 737.9L239.8 738.2L240.2 738.7L240.6 739.3L241.0 740.2L241.4 741.2L241.8 742.5L242.2 743.9L242.6 745.5L243.0 747.3L243.4 749.3L243.8 751.5L244.2 753.9L244.6 756.4L245.0 759.1L245.4 762.0L245.8 765.1L246.2 768.4L246.6 771.8L247.0 775.4L247.4 779.2L247.8 783.1L248.2 787.2L248.6 791.4L249.0 795.9L249.4 800.4L249.8 805.1L250.2 810.0L250.6 815.0L251.0 820.2L251.4 825.5L251.8 830.9L252.2 836.5L252.6 842.2L253.0 848.1L253.4 854.0L253.8 860.1L254.2 866.3L254.6 872.6L255.0 879.0L255.4 885.5L255.8 892.1L256.2 898.8L256.6 905.6L257.0 912.5L257.4 919.5L257.8 926.5L258.2 933.7L258.6 940.9L259.0 948.1L259.4 955.4L259.8 962.8L260.2 970.2L260.6 977.7L261.0 985.2L261.4 992.8L261.8 1000.4L262.2 1008.0L262.6 1015.6L263.0 1023.3L263.4 1030.9L263.8 1038.6L264.2 1046.3L264.6 1054.0L264.9 1061.7L265.3 1069.3L265.7 1077.0L266.1 1084.6L266.5 1092.2L266.9 1099.8L267.3 1107.4L267.7 1114.9L268.1 1122.3L268.5 1129.8L268.9 1137.1L269.3 1144.4L269.7 1151.7L270.1 1158.8L270.5 1166.0L270.9 1173.0L271.3 1179.9L271.7 1186.8L272.1 1193.6L272.5 1200.3L272.9 1206.9L273.3 1213.4L273.7 1219.8L274.1 1226.0L274.5 1232.2L274.9 1238.2L275.3 1244.2L275.7 1250.0L276.1 1255.7L276.5 1261.2L276.9 1266.6L277.3 1271.9L277.7 1277.0L278.1 1282.0L278.5 1286.9L278.9 1291.6L279.3 1296.1L279.7 1300.5L280.1 1304.7L280.5 1308.8L280.9 1312.6L281.3 1316.4L281.7 1319.9L282.1 1323.3L282.5 1326.5L282.9 1329.6L283.3 1332.4L283.7 1335.1L284.1 1337.6L284.5 1340.0L284.9 1342.1L285.3 1344.0L285.7 1345.8L286.1 1347.4L286.5 1348.8L286.9 1350.0L287.3 1351.0L287.7 1351.8L288.1 1352.5L288.5 1352.9L288.9 1353.1L289.3 1353.2L289.7 1353.1L290.1 1352.7L290.5 1352.2L290.9 1351.5L291.3 1350.6L291.7 1349.5L292.1 1348.2L292.5 1346.8L292.9 1345.1L293.3 1343.2L293.7 1341.2L294.1 1339.0L294.5 1336.6L294.9 1334.0L295.3 1331.3L295.7 1328.3L296.1 1325.2L296.5 1321.9L296.9 1318.5L297.3 1314.8L297.7 1311.0L298.1 1307.1L298.5 1302.9L298.9 1298.6L299.3 1294.2L299.7 1289.6L300.1 1284.8L300.5 1279.9L300.9 1274.9L301.3 1269.7L301.7 1264.4L302.1 1258.9L302.5 1253.3L302.9 1247.6L303.3 1241.7L303.7 1235.7L304.1 1229.6L304.5 1223.4L304.9 1217.1L305.3 1210.6L305.7 1204.1L306.1 1197.5L306.5 1190.7L306.9 1183.9L307.3 1177.0L307.7 1170.0L308.1 1163.0L308.5 1155.8L308.9 1148.6L309.3 1141.4L309.7 1134.0L310.1 1126.6L310.5 1119.2L310.9 1111.7L311.3 1104.2L311.7 1096.6L312.1 1089.0L312.5 1081.4L312.9 1073.8L313.3 1066.1L313.7 1058.4L314.1 1050.8L314.5 1043.1L314.9 1035.4L315.3 1027.7L315.7 1020.0L316.1 1012.4L316.4 1004.8L316.8 997.2L317.2 989.6L317.6 982.1L318.0 974.6L318.4 967.1L318.8 959.7L319.2 952.3L319.6 945.0L320.0 937.8L320.4 930.7L320.8 923.6L321.2 916.5L321.6 909.6L322.0 902.8L322.4 896.0L322.8 889.3L323.2 882.7L323.6 876.3L324.0 869.9L324.4 863.7L324.8 857.5L325.2 851.5L325.6 845.6L326.0 839.8L326.4 834.2L326.8 828.6L327.2 823.3L327.6 818.0L328.0 812.9L328.4 807.9L328.8 803.1L329.2 798.5L329.6 794.0L330.0 789.6L330.4 785.4L330.8 781.4L331.2 777.6L331.6 773.9L332.0 770.3L332.4 767.0L332.8 763.8L333.2 760.8L333.6 758.0L334.0 755.3L334.4 752.9L334.8 750.6L335.2 748.5L335.6 746.6L336.0 744.8L336.4 743.3L336.8 741.9L337.2 740.8L337.6 739.8L338.0 739.0L338.4 738.4L338.8 738.0L339.2 737.8L339.6 737.8L340.0 738.0L340.4 738.4L340.8 738.9L341.2 739.7L341.6 740.6L342.0 741.7L342.4 743.1L342.8 744.6L343.2 746.3L343.6 748.2L344.0 750.2L344.4 752.5L344.8 754.9L345.2 757.5L345.6 760.3L346.0 763.3L346.4 766.5L346.8 769.8L347.2 773.3L347.6 777.0L348.0 780.8L348.4 784.8L348.8 789.0L349.2 793.3L349.6 797.8L350.0 802.4L350.4 807.2L350.8 812.1L351.2 817.2L351.6 822.4L352.0 827.8L352.4 833.3L352.8 838.9L353.2 844.7L353.6 850.6L354.0 856.6L354.4 862.7L354.8 868.9L355.2 875.3L355.6 881.7L356.0 888.3L356.4 894.9L356.8 901.7L357.2 908.5L357.6 915.4L358.0 922.4L358.4 929.5L358.8 936.7L359.2 943.9L359.6 951.2L360.0 958.5L360.4 965.9L360.8 973.4L361.2 980.9L361.6 988.4L362.0 996.0L362.4 1003.6L362.8 1011.2L363.2 1018.8L363.6 1026.5L364.0 1034.2L364.4 1041.9L364.8 1049.5L365.2 1057.2L365.6 1064.9L366.0 1072.6L366.4 1080.2L366.8 1087.8L367.2 1095.4L367.6 1103.0L367.9 1110.5L368.3 1118.0L368.7 1125.5L369.1 1132.9L369.5 1140.2L369.9 1147.5L370.3 1154.7L370.7 1161.8L371.1 1168.9L371.5 1175.9L371.9 1182.8L372.3 1189.7L372.7 1196.4L373.1 1203.1L373.5 1209.6L373.9 1216.1L374.3 1222.4L374.7 1228.6L375.1 1234.8L375.5 1240.8L375.9 1246.6L376.3 1252.4L376.7 1258.0L377.1 1263.5L377.5 1268.9L377.9 1274.1L378.3 1279.1L378.7 1284.1L379.1 1288.9L379.5 1293.5L379.9 1298.0L380.3 1302.3L380.7 1306.4L381.1 1310.4L381.5 1314.2L381.9 1317.9L382.3 1321.4L382.7 1324.7L383.1 1327.8L383.5 1330.8L383.9 1333.6L384.3 1336.2L384.7 1338.6L385.1 1340.9L385.5 1342.9L385.9 1344.8L386.3 1346.5L386.7 1348.0L387.1 1349.3L387.5 1350.4L387.9 1351.4L388.3 1352.1L388.7 1352.7L389.1 1353.0L389.5 1353.2L389.9 1353.2L390.3 1352.9L390.7 1352.5L391.1 1351.9L391.5 1351.1L391.9 1350.2L392.3 1349.0L392.7 1347.6L393.1 1346.1L393.5 1344.3L393.9 1342.4L394.3 1340.3L394.7 1338.0L395.1 1335.5L395.5 1332.9L395.9 1330.0L396.3 1327.0L396.7 1323.8L397.1 1320.5L397.5 1317.0L397.9 1313.2L398.3 1309.4L398.7 1305.3L399.1 1301.1L399.5 1296.8L399.9 1292.3L400.3 1287.6L400.7 1282.8L401.1 1277.8L401.5 1272.7L401.9 1267.5L402.3 1262.1L402.7 1256.5L403.1 1250.9L403.5 1245.1L403.9 1239.2L404.3 1233.2L404.7 1227.0L405.1 1220.8L405.5 1214.4L405.9 1207.9L406.3 1201.3L406.7 1194.7L407.1 1187.9L407.5 1181.0L407.9 1174.1L408.3 1167.1L408.7 1160.0L409.1 1152.8L409.5 1145.6L409.9 1138.3L410.3 1130.9L410.7 1123.5L411.1 1116.1L411.5 1108.6L411.9 1101.0L412.3 1093.4L412.7 1085.8L413.1 1078.2L413.5 1070.5L413.9 1062.9L414.3 1055.2L414.7 1047.5L415.1 1039.8L415.5 1032.2L415.9 1024.5L416.3 1016.8L416.7 1009.2L417.1 1001.6L417.5 994.0L417.9 986.4L418.3 978.9L418.7 971.4L419.1 964.0L419.4 956.6L419.8 949.3L420.2 942.0L420.6 934.8L421.0 927.7L421.4 920.6L421.8 913.6L422.2 906.7L422.6 899.9L423.0 893.2L423.4 886.5L423.8 880.0L424.2 873.6L424.6 867.3L425.0 861.1L425.4 855.0L425.8 849.0L426.2 843.1L426.6 837.4L427.0 831.8L427.4 826.4L427.8 821.0L428.2 815.8L428.6 810.8L429.0 805.9L429.4 801.2L429.8 796.6L430.2 792.1L430.6 787.8L431.0 783.7L431.4 779.8L431.8 776.0L432.2 772.4L432.6 768.9L433.0 765.6L433.4 762.5L433.8 759.6L434.2 756.8L434.6 754.3L435.0 751.9L435.4 749.7L435.8 747.6L436.2 745.8L436.6 744.2L437.0 742.7L437.4 741.4L437.8 740.3L438.2 739.5L438.6 738.8L439.0 738.2L439.4 737.9L439.8 737.8L440.2 737.9L440.6 738.1L441.0 738.6L441.4 739.2L441.8 740.0L442.2 741.1L442.6 742.3L443.0 743.7L443.4 745.3L443.8 747.0L444.2 749.0L444.6 751.2L445.0 753.5L445.4 756.0L445.8 758.7L446.2 761.6L446.6 764.6L447.0 767.8L447.4 771.2L447.8 774.8L448.2 778.6L448.6 782.5L449.0 786.5L449.4 790.8L449.8 795.1L450.2 799.7L450.6 804.4L451.0 809.2L451.4 814.2L451.8 819.4L452.2 824.7L452.6 830.1L453.0 835.6L453.4 841.3L453.8 847.1L454.2 853.1L454.6 859.1L455.0 865.3L455.4 871.6L455.8 878.0L456.2 884.5L456.6 891.1L457.0 897.8L457.4 904.5L457.8 911.4L458.2 918.4L458.6 925.4L459.0 932.5L459.4 939.7L459.8 947.0L460.2 954.3L460.6 961.6L461.0 969.1L461.4 976.5L461.8 984.0L462.2 991.6L462.6 999.2L463.0 1006.8L463.4 1014.4L463.8 1022.1L464.2 1029.7L464.6 1037.4L465.0 1045.1L465.4 1052.8L465.8 1060.5L466.2 1068.1L466.6 1075.8L467.0 1083.4L467.4 1091.0L467.8 1098.6L468.2 1106.2L468.6 1113.7L469.0 1121.2L469.4 1128.6L469.8 1136.0L470.2 1143.3L470.6 1150.5L470.9 1157.7L471.3 1164.8L471.7 1171.9L472.1 1178.8L472.5 1185.7L472.9 1192.5L473.3 1199.2L473.7 1205.8L474.1 1212.3L474.5 1218.8L474.9 1225.0L475.3 1231.2L475.7 1237.3L476.1 1243.3L476.5 1249.1L476.9 1254.8L477.3 1260.3L477.7 1265.8L478.1 1271.1L478.5 1276.2L478.9 1281.2L479.3 1286.1L479.7 1290.8L480.1 1295.4L480.5 1299.8L480.9 1304.0L481.3 1308.1L481.7 1312.0L482.1 1315.8L482.5 1319.4L482.9 1322.8L483.3 1326.0L483.7 1329.1L484.1 1332.0L484.5 1334.7L484.9 1337.3L485.3 1339.6L485.7 1341.8L486.1 1343.8L486.5 1345.5L486.9 1347.2L487.3 1348.6L487.7 1349.8L488.1 1350.9L488.5 1351.7L488.9 1352.4L489.3 1352.8L489.7 1353.1L490.1 1353.2L490.5 1353.1L490.9 1352.8L491.3 1352.3L491.7 1351.6L492.1 1350.8L492.5 1349.7L492.9 1348.4L493.3 1347.0L493.7 1345.4L494.1 1343.6L494.5 1341.6L494.9 1339.4L495.3 1337.0L495.7 1334.4L496.1 1331.7L496.5 1328.8L496.9 1325.7L497.3 1322.5L497.7 1319.0L498.1 1315.4L498.5 1311.6L498.9 1307.7L499.3 1303.6L499.7 1299.3L500.1 1294.9L500.5 1290.3L500.9 1285.6L501.3 1280.7L501.7 1275.7L502.1 1270.5L502.5 1265.2L502.9 1259.8L503.3 1254.2L503.7 1248.5L504.1 1242.6L504.5 1236.7L504.9 1230.6L505.3 1224.4L505.7 1218.1L506.1 1211.7L506.5 1205.2L506.9 1198.5L507.3 1191.8L507.7 1185.0L508.1 1178.1L508.5 1171.1L508.9 1164.1L509.3 1157.0L509.7 1149.8L510.1 1142.5L510.5 1135.2L510.9 1127.8L511.3 1120.4L511.7 1112.9L512.1 1105.4L512.5 1097.8L512.9 1090.2L513.3 1082.6L513.7 1075.0L514.1 1067.3L514.5 1059.7L514.9 1052.0L515.3 1044.3L515.7 1036.6L516.1 1028.9L516.5 1021.3L516.9 1013.6L517.3 1006.0L517.7 998.4L518.1 990.8L518.5 983.2L518.9 975.7L519.3 968.3L519.7 960.9L520.1 953.5L520.5 946.2L520.9 939.0L521.3 931.8L521.7 924.7L522.1 917.6L522.5 910.7L522.8 903.8L523.2 897.1L523.6 890.4L524.0 883.8L524.4 877.3L524.8 870.9L525.2 864.6L525.6 858.5L526.0 852.4L526.4 846.5L526.8 840.7L527.2 835.0L527.6 829.5L528.0 824.1L528.4 818.8L528.8 813.7L529.2 808.7L529.6 803.9L530.0 799.2L530.4 794.7L530.8 790.3L531.2 786.1L531.6 782.0L532.0 778.2L532.4 774.4L532.8 770.9L533.2 767.5L533.6 764.3L534.0 761.3L534.4 758.4L534.8 755.7L535.2 753.2L535.6 750.9L536.0 748.8L536.4 746.9L536.8 745.1L537.2 743.5L537.6 742.1L538.0 741.0L538.4 740.0L538.8 739.1L539.2 738.5L539.6 738.1L540.0 737.9L540.4 737.8L540.8 738.0L541.2 738.3L541.6 738.8L542.0 739.5L542.4 740.5L542.8 741.6L543.2 742.8L543.6 744.3L544.0 746.0L544.4 747.9L544.8 749.9L545.2 752.1L545.6 754.5L546.0 757.1L546.4 759.9L546.8 762.8L547.2 766.0L547.6 769.3L548.0 772.7L548.4 776.4L548.8 780.2L549.2 784.2L549.6 788.3L550.0 792.6L550.4 797.0L550.8 801.7L551.2 806.4L551.6 811.3L552.0 816.4L552.4 821.6L552.8 826.9L553.2 832.4L553.6 838.0L554.0 843.7L554.4 849.6L554.8 855.6L555.2 861.7L555.6 867.9L556.0 874.3L556.4 880.7L556.8 887.2L557.2 893.9L557.6 900.6L558.0 907.4L558.4 914.3L558.8 921.3L559.2 928.4L559.6 935.5L560.0 942.8L560.4 950.0L560.8 957.4L561.2 964.8L561.6 972.2L562.0 979.7L562.4 987.2L562.8 994.8L563.2 1002.4L563.6 1010.0L564.0 1017.6L564.4 1025.3L564.8 1033.0L565.2 1040.6L565.6 1048.3L566.0 1056.0L566.4 1063.7L566.8 1071.4L567.2 1079.0L567.6 1086.6L568.0 1094.2L568.4 1101.8L568.8 1109.3L569.2 1116.8L569.6 1124.3L570.0 1131.7L570.4 1139.0L570.8 1146.3L571.2 1153.6L571.6 1160.7L572.0 1167.8L572.4 1174.8L572.8 1181.8L573.2 1188.6L573.6 1195.4L574.0 1202.0L574.3 1208.6L574.7 1215.1L575.1 1221.4L575.5 1227.7L575.9 1233.8L576.3 1239.8L576.7 1245.7L577.1 1251.5L577.5 1257.1L577.9 1262.6L578.3 1268.0L578.7 1273.3L579.1 1278.4L579.5 1283.3L579.9 1288.1L580.3 1292.8L580.7 1297.3L581.1 1301.6L581.5 1305.8L581.9 1309.8L582.3 1313.6L582.7 1317.3L583.1 1320.8L583.5 1324.2L583.9 1327.4L584.3 1330.4L584.7 1333.2L585.1 1335.8L585.5 1338.3L585.9 1340.5L586.3 1342.6L586.7 1344.5L587.1 1346.2L587.5 1347.8L587.9 1349.1L588.3 1350.3L588.7 1351.2L589.1 1352.0L589.5 1352.6L589.9 1353.0L590.3 1353.2L590.7 1353.2L591.1 1353.0L591.5 1352.6L591.9 1352.0L592.3 1351.3L592.7 1350.3L593.1 1349.2L593.5 1347.9L593.9 1346.3L594.3 1344.6L594.7 1342.7L595.1 1340.7L595.5 1338.4L595.9 1335.9L596.3 1333.3L596.7 1330.5L597.1 1327.5L597.5 1324.4L597.9 1321.0L598.3 1317.5L598.7 1313.8L599.1 1310.0L599.5 1306.0L599.9 1301.8L600.3 1297.5L600.7 1293.0L601.1 1288.4L601.5 1283.6L601.9 1278.6L602.3 1273.5L602.7 1268.3L603.1 1262.9L603.5 1257.4L603.9 1251.8L604.3 1246.0L604.7 1240.1L605.1 1234.1L605.5 1228.0L605.9 1221.8L606.3 1215.4L606.7 1208.9L607.1 1202.4L607.5 1195.7L607.9 1189.0L608.3 1182.1L608.7 1175.2L609.1 1168.2L609.5 1161.1L609.9 1153.9L610.3 1146.7L610.7 1139.4L611.1 1132.1L611.5 1124.7L611.9 1117.2L612.3 1109.7L612.7 1102.2L613.1 1094.6L613.5 1087.0L613.9 1079.4L614.3 1071.8L614.7 1064.1L615.1 1056.4L615.5 1048.7L615.9 1041.1L616.3 1033.4L616.7 1025.7L617.1 1018.0L617.5 1010.4L617.9 1002.8L618.3 995.2L618.7 987.6L619.1 980.1L619.5 972.6L619.9 965.1L620.3 957.8L620.7 950.4L621.1 943.1L621.5 935.9L621.9 928.8L622.3 921.7L622.7 914.7L623.1 907.8L623.5 901.0L623.9 894.2L624.3 887.6L624.7 881.0L625.1 874.6L625.5 868.3L625.8 862.0L626.2 855.9L626.6 849.9L627.0 844.1L627.4 838.3L627.8 832.7L628.2 827.2L628.6 821.9L629.0 816.7L629.4 811.6L629.8 806.7L630.2 801.9L630.6 797.3L631.0 792.8L631.4 788.5L631.8 784.4L632.2 780.4L632.6 776.6L633.0 772.9L633.4 769.4L633.8 766.1L634.2 763.0L634.6 760.0L635.0 757.3L635.4 754.7L635.8 752.2L636.2 750.0L636.6 748.0L637.0 746.1L637.4 744.4L637.8 742.9L638.2 741.6L638.6 740.5L639.0 739.6L639.4 738.9L639.8 738.3L640.2 738.0L640.6 737.8L641.0 737.8L641.4 738.1L641.8 738.5L642.2 739.1L642.6 739.9L643.0 740.9L643.4 742.1L643.8 743.4L644.2 745.0L644.6 746.8L645.0 748.7L645.4 750.8L645.8 753.1L646.2 755.6L646.6 758.3L647.0 761.1L647.4 764.1L647.8 767.3L648.2 770.7L648.6 774.2L649.0 778.0L649.4 781.8L649.8 785.9L650.2 790.1L650.6 794.4L651.0 799.0L651.4 803.6L651.8 808.5L652.2 813.4L652.6 818.6L653.0 823.8L653.4 829.2L653.8 834.7L654.2 840.4L654.6 846.2L655.0 852.1L655.4 858.2L655.8 864.3L656.2 870.6L656.6 877.0L657.0 883.4L657.4 890.0L657.8 896.7L658.2 903.5L658.6 910.3L659.0 917.3L659.4 924.3L659.8 931.4L660.2 938.6L660.6 945.8L661.0 953.1L661.4 960.5L661.8 967.9L662.2 975.3L662.6 982.8L663.0 990.4L663.4 998.0L663.8 1005.6L664.2 1013.2L664.6 1020.9L665.0 1028.5L665.4 1036.2L665.8 1043.9L666.2 1051.6L666.6 1059.2L667.0 1066.9L667.4 1074.6L667.8 1082.2L668.2 1089.8L668.6 1097.4L669.0 1105.0L669.4 1112.5L669.8 1120.0L670.2 1127.4L670.6 1134.8L671.0 1142.1L671.4 1149.4L671.8 1156.6L672.2 1163.7L672.6 1170.8L673.0 1177.8L673.4 1184.7L673.8 1191.5L674.2 1198.2L674.6 1204.8L675.0 1211.3L675.4 1217.7L675.8 1224.1L676.2 1230.3L676.6 1236.4L677.0 1242.3L677.3 1248.2L677.7 1253.9L678.1 1259.5L678.5 1264.9L678.9 1270.2L679.3 1275.4L679.7 1280.5L680.1 1285.3L680.5 1290.1L680.9 1294.7L681.3 1299.1L681.7 1303.4L682.1 1307.5L682.5 1311.4L682.9 1315.2L683.3 1318.8L683.7 1322.3L684.1 1325.5L684.5 1328.6L684.9 1331.6L685.3 1334.3L685.7 1336.9L686.1 1339.2L686.5 1341.4L686.9 1343.5L687.3 1345.3L687.7 1346.9L688.1 1348.4L688.5 1349.6L688.9 1350.7L689.3 1351.6L689.7 1352.3L690.1 1352.8L690.5 1353.1L690.9 1353.2L691.3 1353.1L691.7 1352.9L692.1 1352.4L692.5 1351.7L692.9 1350.9L693.3 1349.9L693.7 1348.6L694.1 1347.2L694.5 1345.6L694.9 1343.9L695.3 1341.9L695.7 1339.7L696.1 1337.4L696.5 1334.9L696.9 1332.2L697.3 1329.3L697.7 1326.2L698.1 1323.0L698.5 1319.6L698.9 1316.0L699.3 1312.2L699.7 1308.3L700.1 1304.3L700.5 1300.0L700.9 1295.6L701.3 1291.1L701.7 1286.4L702.1 1281.5L702.5 1276.5L702.9 1271.3L703.3 1266.1L703.7 1260.6L704.1 1255.1L704.5 1249.4L704.9 1243.6L705.3 1237.6L705.7 1231.6L706.1 1225.4L706.5 1219.1L706.9 1212.7L707.3 1206.2L707.7 1199.6L708.1 1192.9L708.5 1186.1L708.9 1179.2L709.3 1172.3L709.7 1165.2L710.1 1158.1L710.5 1150.9L710.9 1143.7L711.3 1136.3L711.7 1129.0L712.1 1121.6L712.5 1114.1L712.9 1106.6L713.3 1099.0L713.7 1091.4L714.1 1083.8L714.5 1076.2L714.9 1068.5L715.3 1060.9L715.7 1053.2L716.1 1045.5L716.5 1037.8L716.9 1030.1L717.3 1022.5L717.7 1014.8L718.1 1007.2L718.5 999.6L718.9 992.0L719.3 984.4L719.7 976.9L720.1 969.4L720.5 962.0L720.9 954.7L721.3 947.3L721.7 940.1L722.1 932.9L722.5 925.8L722.9 918.7L723.3 911.8L723.7 904.9L724.1 898.1L724.5 891.4L724.9 884.8L725.3 878.3L725.7 871.9L726.1 865.6L726.5 859.4L726.9 853.4L727.3 847.4L727.7 841.6L728.1 835.9L728.5 830.4L728.8 824.9L729.2 819.7L729.6 814.5L730.0 809.5L730.4 804.6L730.8 799.9L731.2 795.4L731.6 791.0L732.0 786.7L732.4 782.7L732.8 778.8L733.2 775.0L733.6 771.4L734.0 768.0L734.4 764.8L734.8 761.7L735.2 758.8L735.6 756.1L736.0 753.6L736.4 751.3L736.8 749.1L737.2 747.1L737.6 745.4L738.0 743.8L738.4 742.4L738.8 741.1L739.2 740.1L739.6 739.3L740.0 738.6L740.4 738.1L740.8 737.9L741.2 737.8L741.6 737.9L742.0 738.2L742.4 738.7L742.8 739.4L743.2 740.3L743.6 741.4L744.0 742.6L744.4 744.1L744.8 745.7L745.2 747.5L745.6 749.6L746.0 751.8L746.4 754.1L746.8 756.7L747.2 759.4L747.6 762.4L748.0 765.5L748.4 768.7L748.8 772.2L749.2 775.8L749.6 779.6L750.0 783.5L750.4 787.6L750.8 791.9L751.2 796.3L751.6 800.9L752.0 805.7L752.4 810.5L752.8 815.6L753.2 820.8L753.6 826.1L754.0 831.5L754.4 837.1L754.8 842.8L755.2 848.7L755.6 854.6L756.0 860.7L756.4 866.9L756.8 873.2L757.2 879.7L757.6 886.2L758.0 892.8L758.4 899.5L758.8 906.3L759.2 913.2L759.6 920.2L760.0 927.3L760.4 934.4L760.8 941.6L761.2 948.9L761.6 956.2L762.0 963.6L762.4 971.0L762.8 978.5L763.2 986.0L763.6 993.6L764.0 1001.2L764.4 1008.8L764.8 1016.4L765.2 1024.1L765.6 1031.8L766.0 1039.4L766.4 1047.1L766.8 1054.8L767.2 1062.5L767.6 1070.1L768.0 1077.8L768.4 1085.4L768.8 1093.0L769.2 1100.6L769.6 1108.2L770.0 1115.7L770.4 1123.1L770.8 1130.5L771.2 1137.9L771.6 1145.2L772.0 1152.4L772.4 1159.6L772.8 1166.7L773.2 1173.7L773.6 1180.7L774.0 1187.5L774.4 1194.3L774.8 1201.0L775.2 1207.6L775.6 1214.0L776.0 1220.4L776.4 1226.7L776.8 1232.8L777.2 1238.9L777.6 1244.8L778.0 1250.6L778.4 1256.3L778.8 1261.8L779.2 1267.2L779.6 1272.4L780.0 1277.6L780.3 1282.5L780.7 1287.4L781.1 1292.0L781.5 1296.6L781.9 1300.9L782.3 1305.1L782.7 1309.2L783.1 1313.0L783.5 1316.8L783.9 1320.3L784.3 1323.7L784.7 1326.9L785.1 1329.9L785.5 1332.7L785.9 1335.4L786.3 1337.9L786.7 1340.2L787.1 1342.3L787.5 1344.2L787.9 1346.0L788.3 1347.6L788.7 1348.9L789.1 1350.1L789.5 1351.1L789.9 1351.9L790.3 1352.5L790.7 1352.9L791.1 1353.2L791.5 1353.2L791.9 1353.0L792.3 1352.7L792.7 1352.1L793.1 1351.4L793.5 1350.5L793.9 1349.4L794.3 1348.1L794.7 1346.6L795.1 1344.9L795.5 1343.0L795.9 1341.0L796.3 1338.8L796.7 1336.3L797.1 1333.7L797.5 1331.0L797.9 1328.0L798.3 1324.9L798.7 1321.6L799.1 1318.1L799.5 1314.4L799.9 1310.6L800.3 1306.6L800.7 1302.5L801.1 1298.2L801.5 1293.7L801.9 1289.1L802.3 1284.3L802.7 1279.4L803.1 1274.3L803.5 1269.1L803.9 1263.8L804.3 1258.3L804.7 1252.7L805.1 1246.9L805.5 1241.1L805.9 1235.1L806.3 1229.0L806.7 1222.7L807.1 1216.4L807.5 1210.0L807.9 1203.4L808.3 1196.8L808.7 1190.0L809.1 1183.2L809.5 1176.3L809.9 1169.3L810.3 1162.2L810.7 1155.1L811.1 1147.9L811.5 1140.6L811.9 1133.2L812.3 1125.9L812.7 1118.4L813.1 1110.9L813.5 1103.4L813.9 1095.8L814.3 1088.2L814.7 1080.6L815.1 1073.0L815.5 1065.3L815.9 1057.6L816.3 1050.0L816.7 1042.3L817.1 1034.6L817.5 1026.9L817.9 1019.2L818.3 1011.6L818.7 1004.0L819.1 996.4L819.5 988.8L819.9 981.3L820.3 973.8L820.7 966.3L821.1 958.9L821.5 951.6L821.9 944.3L822.3 937.1L822.7 929.9L823.1 922.8L823.5 915.8L823.9 908.9L824.3 902.0L824.7 895.3L825.1 888.6L825.5 882.1L825.9 875.6L826.3 869.3L826.7 863.0L827.1 856.9L827.5 850.9L827.9 845.0L828.3 839.2L828.7 833.6L829.1 828.1L829.5 822.7L829.9 817.5L830.3 812.4L830.7 807.4L831.1 802.6L831.5 798.0L831.8 793.5L832.2 789.2L832.6 785.0L833.0 781.0L833.4 777.2L833.8 773.5L834.2 770.0L834.6 766.6L835.0 763.5L835.4 760.5L835.8 757.7L836.2 755.1L836.6 752.6L837.0 750.3L837.4 748.3L837.8 746.4L838.2 744.7L838.6 743.1L839.0 741.8L839.4 740.7L839.8 739.7L840.2 739.0L840.6 738.4L841.0 738.0L841.4 737.8L841.8 737.8L842.2 738.0L842.6 738.4L843.0 739.0L843.4 739.8L843.8 740.7L844.2 741.9L844.6 743.2L845.0 744.7L845.4 746.5L845.8 748.4L846.2 750.5L846.6 752.7L847.0 755.2L847.4 757.8L847.8 760.6L848.2 763.6L848.6 766.8L849.0 770.2L849.4 773.7L849.8 777.4L850.2 781.2L850.6 785.2L851.0 789.4L851.4 793.7L851.8 798.2L852.2 802.9L852.6 807.7L853.0 812.6L853.4 817.7L853.8 823.0L854.2 828.4L854.6 833.9L855.0 839.5L855.4 845.3L855.8 851.2L856.2 857.2L856.6 863.3L857.0 869.6L857.4 875.9L857.8 882.4L858.2 889.0L858.6 895.6L859.0 902.4L859.4 909.2L859.8 916.2L860.2 923.2L860.6 930.3L861.0 937.4L861.4 944.7L861.8 952.0L862.2 959.3L862.6 966.7L863.0 974.2L863.4 981.7L863.8 989.2L864.2 996.8L864.6 1004.4L865.0 1012.0L865.4 1019.6L865.8 1027.3L866.2 1035.0L866.6 1042.7L867.0 1050.4L867.4 1058.0L867.8 1065.7L868.2 1073.4L868.6 1081.0L869.0 1088.6L869.4 1096.2L869.8 1103.8L870.2 1111.3L870.6 1118.8L871.0 1126.2L871.4 1133.6L871.8 1141.0L872.2 1148.2L872.6 1155.5L873.0 1162.6L873.4 1169.7L873.8 1176.7L874.2 1183.6L874.6 1190.4L875.0 1197.1L875.4 1203.8L875.8 1210.3L876.2 1216.7L876.6 1223.1L877.0 1229.3L877.4 1235.4L877.8 1241.4L878.2 1247.2L878.6 1253.0L879.0 1258.6L879.4 1264.1L879.8 1269.4L880.2 1274.6L880.6 1279.7L881.0 1284.6L881.4 1289.3L881.8 1294.0L882.2 1298.4L882.6 1302.7L883.0 1306.8L883.3 1310.8L883.7 1314.6L884.1 1318.3L884.5 1321.7L884.9 1325.0L885.3 1328.2L885.7 1331.1L886.1 1333.9L886.5 1336.5L886.9 1338.9L887.3 1341.1L887.7 1343.1L888.1 1345.0L888.5 1346.7L888.9 1348.2L889.3 1349.4L889.7 1350.5L890.1 1351.5L890.5 1352.2L890.9 1352.7L891.3 1353.0L891.7 1353.2L892.1 1353.1L892.5 1352.9L892.9 1352.5L893.3 1351.9L893.7 1351.0L894.1 1350.0L894.5 1348.9L894.9 1347.5L895.3 1345.9L895.7 1344.1L896.1 1342.2L896.5 1340.1L896.9 1337.8L897.3 1335.3L897.7 1332.6L898.1 1329.7L898.5 1326.7L898.9 1323.5L899.3 1320.1L899.7 1316.6L900.1 1312.8L900.5 1309.0L900.9 1304.9L901.3 1300.7L901.7 1296.3L902.1 1291.8L902.5 1287.1L902.9 1282.3L903.3 1277.3L903.7 1272.2L904.1 1266.9L904.5 1261.5L904.9 1256.0L905.3 1250.3L905.7 1244.5L906.1 1238.6L906.5 1232.5L906.9 1226.4L907.3 1220.1L907.7 1213.7L908.1 1207.2L908.5 1200.6L908.9 1194.0L909.3 1187.2L909.7 1180.3L910.1 1173.4L910.5 1166.3L910.9 1159.2L911.3 1152.0L911.7 1144.8L912.1 1137.5L912.5 1130.1L912.9 1122.7L913.3 1115.3L913.7 1107.8L914.1 1100.2L914.5 1092.6L914.9 1085.0L915.3 1077.4L915.7 1069.7L916.1 1062.1L916.5 1054.4L916.9 1046.7L917.3 1039.0L917.7 1031.4L918.1 1023.7L918.5 1016.0L918.9 1008.4L919.3 1000.8L919.7 993.2L920.1 985.6L920.5 978.1L920.9 970.6L921.3 963.2L921.7 955.8L922.1 948.5L922.5 941.2L922.9 934.0L923.3 926.9L923.7 919.9L924.1 912.9L924.5 906.0L924.9 899.2L925.3 892.5L925.7 885.9L926.1 879.3L926.5 872.9L926.9 866.6L927.3 860.4L927.7 854.3L928.1 848.4L928.5 842.5L928.9 836.8L929.3 831.2L929.7 825.8L930.1 820.5L930.5 815.3L930.9 810.3L931.3 805.4L931.7 800.7L932.1 796.1L932.5 791.7L932.9 787.4L933.3 783.3L933.7 779.4L934.1 775.6L934.5 772.0L934.8 768.5L935.2 765.3L935.6 762.2L936.0 759.3L936.4 756.6L936.8 754.0L937.2 751.6L937.6 749.4L938.0 747.4L938.4 745.6L938.8 744.0L939.2 742.6L939.6 741.3L940.0 740.2L940.4 739.4L940.8 738.7L941.2 738.2L941.6 737.9L942.0 737.8L942.4 737.9L942.8 738.2L943.2 738.6L943.6 739.3L944.0 740.1L944.4 741.2L944.8 742.4L945.2 743.8L945.6 745.5L946.0 747.2L946.4 749.2L946.8 751.4L947.2 753.7L947.6 756.3L948.0 759.0L948.4 761.9L948.8 765.0L949.2 768.2L949.6 771.6L950.0 775.2L950.4 779.0L950.8 782.9L951.2 787.0L951.6 791.2L952.0 795.6L952.4 800.2L952.8 804.9L953.2 809.8L953.6 814.8L954.0 819.9L954.4 825.2L954.8 830.7L955.2 836.2L955.6 841.9L956.0 847.7L956.4 853.7L956.8 859.8L957.2 865.9L957.6 872.2L958.0 878.6L958.4 885.2L958.8 891.8L959.2 898.5L959.6 905.3L960.0 912.1L960.4 919.1L960.8 926.2L961.2 933.3L961.6 940.5L962.0 947.7L962.4 955.0L962.8 962.4L963.2 969.8L963.6 977.3L964.0 984.8L964.4 992.4L964.8 1000.0L965.2 1007.6L965.6 1015.2L966.0 1022.9L966.4 1030.5L966.8 1038.2L967.2 1045.9L967.6 1053.6L968.0 1061.3L968.4 1068.9L968.8 1076.6L969.2 1084.2L969.6 1091.8L970.0 1099.4L970.4 1107.0L970.8 1114.5L971.2 1121.9L971.6 1129.4L972.0 1136.7L972.4 1144.0L972.8 1151.3L973.2 1158.5L973.6 1165.6L974.0 1172.6L974.4 1179.6L974.8 1186.5L975.2 1193.2L975.6 1199.9L976.0 1206.5L976.4 1213.0L976.8 1219.4L977.2 1225.7L977.6 1231.9L978.0 1237.9L978.4 1243.9L978.8 1249.7L979.2 1255.4L979.6 1260.9L980.0 1266.3L980.4 1271.6L980.8 1276.8L981.2 1281.8L981.6 1286.6L982.0 1291.3L982.4 1295.9L982.8 1300.2L983.2 1304.5L983.6 1308.5L984.0 1312.4L984.4 1316.2L984.8 1319.8L985.2 1323.2L985.6 1326.4L986.0 1329.4L986.3 1332.3L986.7 1335.0L987.1 1337.5L987.5 1339.8L987.9 1342.0L988.3 1344.0L988.7 1345.7L989.1 1347.3L989.5 1348.7L989.9 1349.9L990.3 1351.0L990.7 1351.8L991.1 1352.4L991.5 1352.9L991.9 1353.1L992.3 1353.2L992.7 1353.1L993.1 1352.8L993.5 1352.2L993.9 1351.5L994.3 1350.7L994.7 1349.6L995.1 1348.3L995.5 1346.8L995.9 1345.2L996.3 1343.4L996.7 1341.3L997.1 1339.1L997.5 1336.7L997.9 1334.2L998.3 1331.4L998.7 1328.5L999.1 1325.4L999.5 1322.1L999.9 1318.6L1000.3 1315.0L1000.7 1311.2L1001.1 1307.3L1001.5 1303.2L1001.9 1298.9L1002.3 1294.4L1002.7 1289.8L1003.1 1285.1L1003.5 1280.2L1003.9 1275.2L1004.3 1270.0L1004.7 1264.6L1005.1 1259.2L1005.5 1253.6L1005.9 1247.9L1006.3 1242.0L1006.7 1236.0L1007.1 1229.9L1007.5 1223.7L1007.9 1217.4L1008.3 1211.0L1008.7 1204.5L1009.1 1197.8L1009.5 1191.1L1009.9 1184.3L1010.3 1177.4L1010.7 1170.4L1011.1 1163.3L1011.5 1156.2L1011.9 1149.0L1012.3 1141.7L1012.7 1134.4L1013.1 1127.0L1013.5 1119.6L1013.9 1112.1L1014.3 1104.6L1014.7 1097.0L1015.1 1089.4L1015.5 1081.8L1015.9 1074.2L1016.3 1066.5L1016.7 1058.8L1017.1 1051.2L1017.5 1043.5L1017.9 1035.8L1018.3 1028.1L1018.7 1020.5L1019.1 1012.8L1019.5 1005.2L1019.9 997.6L1020.3 990.0L1020.7 982.5L1021.1 975.0L1021.5 967.5L1021.9 960.1L1022.3 952.7L1022.7 945.4L1023.1 938.2L1023.5 931.0L1023.9 923.9L1024.3 916.9L1024.7 910.0L1025.1 903.1L1025.5 896.3L1025.9 889.7L1026.3 883.1L1026.7 876.6L1027.1 870.2L1027.5 864.0L1027.9 857.8L1028.3 851.8L1028.7 845.9L1029.1 840.1L1029.5 834.5L1029.9 828.9L1030.3 823.5L1030.7 818.3L1031.1 813.2L1031.5 808.2L1031.9 803.4L1032.3 798.7L1032.7 794.2L1033.1 789.9L1033.5 785.7L1033.9 781.6L1034.3 777.8L1034.7 774.1L1035.1 770.5L1035.5 767.2L1035.9 764.0L1036.3 761.0L1036.7 758.1L1037.1 755.5L1037.5 753.0L1037.8 750.7L1038.2 748.6L1038.6 746.7L1039.0 744.9L1039.4 743.4L1039.8 742.0L1040.2 740.8L1040.6 739.9L1041.0 739.1L1041.4 738.5L1041.8 738.1L1042.2 737.8L1042.6 737.8L1043.0 738.0L1043.4 738.3L1043.8 738.9L1044.2 739.6L1044.6 740.6L1045.0 741.7L1045.4 743.0L1045.8 744.5L1046.2 746.2L1046.6 748.1L1047.0 750.1L1047.4 752.4L1047.8 754.8L1048.2 757.4L1048.6 760.2L1049.0 763.2L1049.4 766.3L1049.8 769.6L1050.2 773.1L1050.6 776.8L1051.0 780.6L1051.4 784.6L1051.8 788.7L1052.2 793.0L1052.6 797.5L1053.0 802.1L1053.4 806.9L1053.8 811.8L1054.2 816.9L1054.6 822.1L1055.0 827.5L1055.4 833.0L1055.8 838.6L1056.2 844.4L1056.6 850.2L1057.0 856.2L1057.4 862.4L1057.8 868.6L1058.2 874.9L1058.6 881.4L1059.0 887.9L1059.4 894.6L1059.8 901.3L1060.2 908.2L1060.6 915.1L1061.0 922.1L1061.4 929.1L1061.8 936.3L1062.2 943.5L1062.6 950.8L1063.0 958.1L1063.4 965.5L1063.8 973.0L1064.2 980.5L1064.6 988.0L1065.0 995.6L1065.4 1003.2L1065.8 1010.8L1066.2 1018.4L1066.6 1026.1L1067.0 1033.8L1067.4 1041.5L1067.8 1049.1L1068.2 1056.8L1068.6 1064.5L1069.0 1072.2L1069.4 1079.8L1069.8 1087.4L1070.2 1095.0L1070.6 1102.6L1071.0 1110.1L1071.4 1117.6L1071.8 1125.1L1072.2 1132.5L1072.6 1139.8L1073.0 1147.1L1073.4 1154.3L1073.8 1161.5L1074.2 1168.6L1074.6 1175.6L1075.0 1182.5L1075.4 1189.3L1075.8 1196.1L1076.2 1202.7L1076.6 1209.3L1077.0 1215.7L1077.4 1222.1L1077.8 1228.3L1078.2 1234.4L1078.6 1240.4L1079.0 1246.3L1079.4 1252.1L1079.8 1257.7L1080.2 1263.2L1080.6 1268.6L1081.0 1273.8L1081.4 1278.9L1081.8 1283.8L1082.2 1288.6L1082.6 1293.2L1083.0 1297.7L1083.4 1302.0L1083.8 1306.2L1084.2 1310.2L1084.6 1314.0L1085.0 1317.7L1085.4 1321.2L1085.8 1324.5L1086.2 1327.7L1086.6 1330.7L1087.0 1333.5L1087.4 1336.1L1087.8 1338.5L1088.2 1340.8L1088.6 1342.8L1089.0 1344.7L1089.4 1346.4L1089.7 1347.9L1090.1 1349.3L1090.5 1350.4L1090.9 1351.3L1091.3 1352.1L1091.7 1352.6L1092.1 1353.0L1092.5 1353.2L1092.9 1353.2L1093.3 1353.0L1093.7 1352.6L1094.1 1352.0L1094.5 1351.2L1094.9 1350.2L1095.3 1349.1L1095.7 1347.7L1096.1 1346.2L1096.5 1344.4L1096.9 1342.5L1097.3 1340.4L1097.7 1338.1L1098.1 1335.7L1098.5 1333.0L1098.9 1330.2L1099.3 1327.2L1099.7 1324.0L1100.1 1320.7L1100.5 1317.1L1100.9 1313.4L1101.3 1309.6L1101.7 1305.6L1102.1 1301.4L1102.5 1297.0L1102.9 1292.5L1103.3 1287.9L1103.7 1283.1L1104.1 1278.1L1104.5 1273.0L1104.9 1267.7L1105.3 1262.4L1105.7 1256.8L1106.1 1251.2L1106.5 1245.4L1106.9 1239.5L1107.3 1233.5L1107.7 1227.3L1108.1 1221.1L1108.5 1214.7L1108.9 1208.3L1109.3 1201.7L1109.7 1195.0L1110.1 1188.2L1110.5 1181.4L1110.9 1174.5L1111.3 1167.4L1111.7 1160.4L1112.1 1153.2L1112.5 1146.0L1112.9 1138.7L1113.3 1131.3L1113.7 1123.9L1114.1 1116.4L1114.5 1108.9L1114.9 1101.4L1115.3 1093.8L1115.7 1086.2L1116.1 1078.6L1116.5 1071.0L1116.9 1063.3L1117.3 1055.6L1117.7 1047.9L1118.1 1040.2L1118.5 1032.6L1118.9 1024.9L1119.3 1017.2L1119.7 1009.6L1120.1 1002.0L1120.5 994.4L1120.9 986.8L1121.3 979.3L1121.7 971.8L1122.1 964.4L1122.5 957.0L1122.9 949.6L1123.3 942.4L1123.7 935.2L1124.1 928.0L1124.5 921.0L1124.9 914.0L1125.3 907.1L1125.7 900.3L1126.1 893.5L1126.5 886.9L1126.9 880.4L1127.3 873.9L1127.7 867.6L1128.1 861.4L1128.5 855.3L1128.9 849.3L1129.3 843.4L1129.7 837.7L1130.1 832.1L1130.5 826.6L1130.9 821.3L1131.3 816.1L1131.7 811.1L1132.1 806.2L1132.5 801.4L1132.9 796.8L1133.3 792.4L1133.7 788.1L1134.1 783.9L1134.5 780.0L1134.9 776.2L1135.3 772.5L1135.7 769.1L1136.1 765.8L1136.5 762.7L1136.9 759.7L1137.3 757.0L1137.7 754.4L1138.1 752.0L1138.5 749.8L1138.9 747.8L1139.3 745.9L1139.7 744.2L1140.1 742.8L1140.5 741.5L1140.9 740.4L1141.2 739.5L1141.6 738.8L1142.0 738.3L1142.4 737.9L1142.8 737.8L1143.2 737.9L1143.6 738.1L1144.0 738.5L1144.4 739.2L1144.8 740.0L1145.2 741.0L1145.6 742.2L1146.0 743.6L1146.4 745.2L1146.8 747.0L1147.2 748.9L1147.6 751.0L1148.0 753.4L1148.4 755.9L1148.8 758.6L1149.2 761.4L1149.6 764.5L1150.0 767.7L1150.4 771.1L1150.8 774.6L1151.2 778.4L1151.6 782.2L1152.0 786.3L1152.4 790.5L1152.8 794.9L1153.2 799.4L1153.6 804.1L1154.0 809.0L1154.4 814.0L1154.8 819.1L1155.2 824.4L1155.6 829.8L1156.0 835.3L1156.4 841.0L1156.8 846.8L1157.2 852.7L1157.6 858.8L1158.0 865.0L1158.4 871.2L1158.8 877.6L1159.2 884.1L1159.6 890.7L1160.0 897.4L1160.4 904.2L1160.8 911.1L1161.2 918.0L1161.6 925.0L1162.0 932.1L1162.4 939.3L1162.8 946.6L1163.2 953.9L1163.6 961.2L1164.0 968.7L1164.4 976.1L1164.8 983.6L1165.2 991.2L1165.6 998.8L1166.0 1006.4L1166.4 1014.0L1166.8 1021.7L1167.2 1029.3L1167.6 1037.0L1168.0 1044.7L1168.4 1052.4L1168.8 1060.1L1169.2 1067.7L1169.6 1075.4L1170.0 1083.0L1170.4 1090.6L1170.8 1098.2L1171.2 1105.8L1171.6 1113.3L1172.0 1120.8L1172.4 1128.2L1172.8 1135.6L1173.2 1142.9L1173.6 1150.1L1174.0 1157.3L1174.4 1164.5L1174.8 1171.5L1175.2 1178.5L1175.6 1185.4L1176.0 1192.2L1176.4 1198.9L1176.8 1205.5L1177.2 1212.0L1177.6 1218.4L1178.0 1224.7L1178.4 1230.9L1178.8 1237.0L1179.2 1242.9L1179.6 1248.8L1180.0 1254.5L1180.4 1260.1L1180.8 1265.5L1181.2 1270.8L1181.6 1276.0L1182.0 1281.0L1182.4 1285.9L1182.8 1290.6L1183.2 1295.1L1183.6 1299.6L1184.0 1303.8L1184.4 1307.9L1184.8 1311.8L1185.2 1315.6L1185.6 1319.2L1186.0 1322.6L1186.4 1325.9L1186.8 1329.0L1187.2 1331.9L1187.6 1334.6L1188.0 1337.1L1188.4 1339.5L1188.8 1341.7L1189.2 1343.7L1189.6 1345.5L1190.0 1347.1L1190.4 1348.5L1190.8 1349.8L1191.2 1350.8L1191.6 1351.7L1192.0 1352.3L1192.4 1352.8L1192.7 1353.1L1193.1 1353.2L1193.5 1353.1L1193.9 1352.8L1194.3 1352.3L1194.7 1351.7L1195.1 1350.8L1195.5 1349.8L1195.9 1348.5L1196.3 1347.1L1196.7 1345.5L1197.1 1343.7" stroke="#525457" stroke-width="3.5"/>
<path d="M239.0 737.8L243.8 751.5L244.6 756.4L245.4 762.0L246.2 768.3L247.0 775.3L247.8 783.0L248.6 791.3L249.4 800.2L250.2 809.7L251.0 819.8L251.8 830.4L252.6 841.5L253.4 853.1L254.2 865.2L255.0 877.6L255.8 890.5L256.6 903.7L257.4 917.2L258.2 931.0L259.0 945.1L259.8 959.3L260.6 973.7L261.4 988.3L262.2 1002.9L263.0 1017.6L263.7 1032.4L264.5 1047.1L265.3 1061.7L266.1 1076.3L266.9 1090.8L267.7 1105.1L268.5 1119.2L269.3 1133.0L270.1 1146.7L270.9 1160.0L271.7 1173.1L272.5 1185.7L273.3 1198.1L274.1 1210.0L274.9 1221.5L275.7 1232.6L276.5 1243.2L277.3 1253.3L278.1 1262.9L278.9 1272.0L279.7 1280.6L280.5 1288.6L281.3 1296.1L282.1 1303.0L282.9 1309.4L283.7 1315.1L284.5 1320.3L285.3 1324.8L286.1 1328.8L286.9 1332.2L287.7 1335.0L288.5 1337.3L289.3 1338.9L290.1 1340.0L290.9 1340.5L291.7 1340.5L292.5 1339.9L293.3 1338.8L294.1 1337.1L294.9 1335.0L295.7 1332.3L296.5 1329.2L297.3 1325.7L298.1 1321.7L298.9 1317.3L299.7 1312.5L300.5 1307.3L301.3 1301.8L302.1 1295.9L302.9 1289.7L303.7 1283.3L304.5 1276.6L305.3 1269.6L306.1 1262.5L306.9 1255.1L307.6 1247.6L308.4 1240.0L309.2 1232.2L310.0 1224.4L310.8 1216.5L311.6 1208.5L312.4 1200.6L313.2 1192.6L314.0 1184.7L314.8 1176.8L315.6 1169.0L316.4 1161.3L317.2 1153.7L318.0 1146.3L318.8 1139.0L319.6 1131.9L320.4 1124.9L321.2 1118.2L322.0 1111.7L322.8 1105.4L323.6 1099.4L324.4 1093.6L325.2 1088.2L326.0 1083.0L326.8 1078.0L327.6 1073.4L328.4 1069.2L329.2 1065.2L330.0 1061.5L330.8 1058.2L331.6 1055.2L332.4 1052.5L333.2 1050.2L334.0 1048.2L334.8 1046.5L335.6 1045.2L336.4 1044.2L337.2 1043.5L338.0 1043.1L338.8 1043.1L339.6 1043.3L340.4 1043.8L341.2 1044.7L342.0 1045.8L342.8 1047.1L343.6 1048.7L344.4 1050.6L345.2 1052.7L346.0 1055.0L346.8 1057.6L347.6 1060.3L348.4 1063.2L349.2 1066.3L350.0 1069.5L350.8 1072.8L351.5 1076.3L352.3 1079.8L353.1 1083.5L353.9 1087.2L354.7 1091.0L355.5 1094.8L356.3 1098.6L357.1 1102.4L357.9 1106.2L358.7 1110.0L359.5 1113.7L360.3 1117.4L361.1 1121.0L361.9 1124.5L362.7 1127.9L363.5 1131.1L364.3 1134.3L365.1 1137.3L365.9 1140.1L366.7 1142.7L367.5 1145.2L368.3 1147.5L369.1 1149.6L369.9 1151.4L370.7 1153.0L371.5 1154.4L372.3 1155.6L373.1 1156.5L373.9 1157.2L374.7 1157.6L375.5 1157.7L376.3 1157.6L377.1 1157.2L377.9 1156.5L378.7 1155.6L379.5 1154.4L380.3 1152.9L381.1 1151.1L381.9 1149.1L382.7 1146.9L383.5 1144.3L384.3 1141.5L385.1 1138.5L385.9 1135.2L386.7 1131.7L387.5 1128.0L388.3 1124.0L389.1 1119.8L389.9 1115.5L390.7 1110.9L391.5 1106.2L392.3 1101.3L393.1 1096.2L393.9 1091.0L394.7 1085.7L395.4 1080.2L396.2 1074.6L397.0 1069.0L397.8 1063.3L398.6 1057.5L399.4 1051.7L400.2 1045.9L401.0 1040.0L401.8 1034.1L402.6 1028.3L403.4 1022.5L404.2 1016.7L405.0 1011.0L405.8 1005.4L406.6 999.9L407.4 994.4L408.2 989.2L409.0 984.0L409.8 979.0L410.6 974.2L411.4 969.5L412.2 965.0L413.0 960.8L413.8 956.7L414.6 952.9L415.4 949.3L416.2 946.0L417.0 943.0L417.8 940.2L418.6 937.7L419.4 935.4L420.2 933.5L421.0 931.9L421.8 930.6L422.6 929.6L423.4 928.9L424.2 928.5L425.0 928.5L425.8 928.8L426.6 929.4L427.4 930.3L428.2 931.6L429.0 933.2L429.8 935.1L430.6 937.4L431.4 939.9L432.2 942.8L433.0 946.0L433.8 949.5L434.6 953.4L435.4 957.5L436.2 961.8L437.0 966.5L437.8 971.4L438.6 976.6L439.3 982.1L440.1 987.7L440.9 993.7L441.7 999.8L442.5 1006.1L443.3 1012.6L444.1 1019.3L444.9 1026.1L445.7 1033.1L446.5 1040.3L447.3 1047.5L448.1 1054.9L448.9 1062.3L449.7 1069.9L450.5 1077.4L451.3 1085.1L452.1 1092.7L452.9 1100.4L453.7 1108.0L454.5 1115.6L455.3 1123.2L456.1 1130.8L456.9 1138.2L457.7 1145.6L458.5 1152.9L459.3 1160.1L460.1 1167.1L460.9 1174.0L461.7 1180.8L462.5 1187.4L463.3 1193.8L464.1 1199.9L464.9 1205.9L465.7 1211.7L466.5 1217.2L467.3 1222.5L468.1 1227.5L468.9 1232.3L469.7 1236.8L470.5 1241.0L471.3 1245.0L472.1 1248.6L472.9 1251.9L473.7 1255.0L474.5 1257.7L475.3 1260.1L476.1 1262.1L476.9 1263.9L477.7 1265.3L478.5 1266.4L479.3 1267.2L480.1 1267.7L480.9 1267.8L481.7 1267.6L482.5 1267.1L483.2 1266.2L484.0 1265.1L484.8 1263.6L485.6 1261.9L486.4 1259.8L487.2 1257.4L488.0 1254.8L488.8 1251.9L489.6 1248.7L490.4 1245.2L491.2 1241.5L492.0 1237.6L492.8 1233.4L493.6 1229.0L494.4 1224.4L495.2 1219.6L496.0 1214.6L496.8 1209.5L497.6 1204.1L498.4 1198.7L499.2 1193.1L500.0 1187.4L500.8 1181.5L501.6 1175.6L502.4 1169.6L503.2 1163.6L504.0 1157.5L504.8 1151.3L505.6 1145.2L506.4 1139.0L507.2 1132.8L508.0 1126.7L508.8 1120.6L509.6 1114.5L510.4 1108.5L511.2 1102.6L512.0 1096.7L512.8 1091.0L513.6 1085.4L514.4 1079.9L515.2 1074.5L516.0 1069.3L516.8 1064.2L517.6 1059.3L518.4 1054.6L519.2 1050.0L520.0 1045.7L520.8 1041.6L521.6 1037.6L522.4 1033.9L523.2 1030.4L524.0 1027.2L524.8 1024.1L525.6 1021.3L526.4 1018.8L527.1 1016.5L527.9 1014.4L528.7 1012.6L529.5 1011.1L530.3 1009.8L531.1 1008.7L531.9 1008.0L532.7 1007.4L533.5 1007.1L534.3 1007.1L535.1 1007.3L535.9 1007.7L536.7 1008.4L537.5 1009.3L538.3 1010.4L539.1 1011.8L539.9 1013.3L540.7 1015.1L541.5 1017.0L542.3 1019.2L543.1 1021.5L543.9 1024.0L544.7 1026.7L545.5 1029.5L546.3 1032.5L547.1 1035.6L547.9 1038.8L548.7 1042.2L549.5 1045.6L550.3 1049.2L551.1 1052.8L551.9 1056.5L552.7 1060.2L553.5 1064.0L554.3 1067.9L555.1 1071.7L555.9 1075.6L556.7 1079.4L557.5 1083.3L558.3 1087.1L559.1 1090.9L559.9 1094.6L560.7 1098.3L561.5 1102.0L562.3 1105.5L563.1 1108.9L563.9 1112.3L564.7 1115.6L565.5 1118.7L566.3 1121.7L567.1 1124.6L567.9 1127.3L568.7 1129.9L569.5 1132.3L570.3 1134.5L571.0 1136.6L571.8 1138.5L572.6 1140.3L573.4 1141.8L574.2 1143.2L575.0 1144.3L575.8 1145.3L576.6 1146.1L577.4 1146.6L578.2 1147.0L579.0 1147.1L579.8 1147.1L580.6 1146.9L581.4 1146.4L582.2 1145.7L583.0 1144.9L583.8 1143.8L584.6 1142.6L585.4 1141.2L586.2 1139.6L587.0 1137.8L587.8 1135.8L588.6 1133.6L589.4 1131.3L590.2 1128.9L591.0 1126.2L591.8 1123.5L592.6 1120.6L593.4 1117.6L594.2 1114.4L595.0 1111.2L595.8 1107.8L596.6 1104.4L597.4 1100.8L598.2 1097.2L599.0 1093.6L599.8 1089.9L600.6 1086.1L601.4 1082.3L602.2 1078.5L603.0 1074.7L603.8 1070.9L604.6 1067.1L605.4 1063.3L606.2 1059.6L607.0 1055.9L607.8 1052.2L608.6 1048.6L609.4 1045.1L610.2 1041.7L611.0 1038.4L611.8 1035.2L612.6 1032.1L613.4 1029.1L614.2 1026.2L614.9 1023.5L615.7 1021.0L616.5 1018.5L617.3 1016.3L618.1 1014.2L618.9 1012.3L619.7 1010.6L620.5 1009.1L621.3 1007.8L622.1 1006.6L622.9 1005.7L623.7 1005.0L624.5 1004.5L625.3 1004.2L626.1 1004.1L626.9 1004.2L627.7 1004.6L628.5 1005.1L629.3 1005.9L630.1 1006.9L630.9 1008.1L631.7 1009.5L632.5 1011.2L633.3 1013.0L634.1 1015.1L634.9 1017.3L635.7 1019.8L636.5 1022.4L637.3 1025.2L638.1 1028.2L638.9 1031.4L639.7 1034.8L640.5 1038.3L641.3 1041.9L642.1 1045.8L642.9 1049.7L643.7 1053.8L644.5 1058.0L645.3 1062.3L646.1 1066.7L646.9 1071.2L647.7 1075.8L648.5 1080.5L649.3 1085.2L650.1 1090.0L650.9 1094.8L651.7 1099.6L652.5 1104.5L653.3 1109.3L654.1 1114.2L654.9 1119.0L655.7 1123.9L656.5 1128.7L657.3 1133.4L658.1 1138.1L658.8 1142.7L659.6 1147.2L660.4 1151.7L661.2 1156.0L662.0 1160.3L662.8 1164.4L663.6 1168.4L664.4 1172.2L665.2 1175.9L666.0 1179.5L666.8 1182.9L667.6 1186.1L668.4 1189.2L669.2 1192.1L670.0 1194.7L670.8 1197.2L671.6 1199.5L672.4 1201.6L673.2 1203.5L674.0 1205.1L674.8 1206.6L675.6 1207.8L676.4 1208.8L677.2 1209.5L678.0 1210.1L678.8 1210.4L679.6 1210.5L680.4 1210.4L681.2 1210.0L682.0 1209.4L682.8 1208.6L683.6 1207.6L684.4 1206.4L685.2 1204.9L686.0 1203.2L686.8 1201.4L687.6 1199.3L688.4 1197.0L689.2 1194.6L690.0 1191.9L690.8 1189.1L691.6 1186.1L692.4 1182.9L693.2 1179.6L694.0 1176.1L694.8 1172.5L695.6 1168.8L696.4 1164.9L697.2 1161.0L698.0 1156.9L698.8 1152.7L699.6 1148.5L700.4 1144.1L701.2 1139.8L702.0 1135.3L702.7 1130.8L703.5 1126.3L704.3 1121.7L705.1 1117.2L705.9 1112.6L706.7 1108.1L707.5 1103.5L708.3 1099.0L709.1 1094.6L709.9 1090.1L710.7 1085.8L711.5 1081.5L712.3 1077.3L713.1 1073.2L713.9 1069.1L714.7 1065.2L715.5 1061.4L716.3 1057.7L717.1 1054.2L717.9 1050.7L718.7 1047.5L719.5 1044.3L720.3 1041.4L721.1 1038.6L721.9 1035.9L722.7 1033.5L723.5 1031.2L724.3 1029.1L725.1 1027.2L725.9 1025.4L726.7 1023.9L727.5 1022.6L728.3 1021.4L729.1 1020.5L729.9 1019.7L730.7 1019.2L731.5 1018.8L732.3 1018.6L733.1 1018.7L733.9 1018.9L734.7 1019.3L735.5 1019.9L736.3 1020.7L737.1 1021.7L737.9 1022.9L738.7 1024.2L739.5 1025.7L740.3 1027.4L741.1 1029.2L741.9 1031.2L742.7 1033.3L743.5 1035.6L744.3 1038.0L745.1 1040.5L745.9 1043.2L746.6 1045.9L747.4 1048.8L748.2 1051.8L749.0 1054.8L749.8 1057.9L750.6 1061.1L751.4 1064.3L752.2 1067.6L753.0 1070.9L753.8 1074.3L754.6 1077.7L755.4 1081.1L756.2 1084.5L757.0 1087.9L757.8 1091.2L758.6 1094.6L759.4 1097.9L760.2 1101.2L761.0 1104.4L761.8 1107.6L762.6 1110.7L763.4 1113.7L764.2 1116.6L765.0 1119.5L765.8 1122.2L766.6 1124.8L767.4 1127.4L768.2 1129.8L769.0 1132.0L769.8 1134.2L770.6 1136.2L771.4 1138.1L772.2 1139.8L773.0 1141.3L773.8 1142.7L774.6 1144.0L775.4 1145.1L776.2 1146.0L777.0 1146.7L777.8 1147.3L778.6 1147.7L779.4 1148.0L780.2 1148.1L781.0 1148.0L781.8 1147.7L782.6 1147.3L783.4 1146.7L784.2 1145.9L785.0 1145.0L785.8 1143.9L786.6 1142.6L787.4 1141.2L788.2 1139.7L789.0 1138.0L789.7 1136.1L790.5 1134.1L791.3 1132.0L792.1 1129.8L792.9 1127.5L793.7 1125.0L794.5 1122.4L795.3 1119.8L796.1 1117.0L796.9 1114.2L797.7 1111.3L798.5 1108.3L799.3 1105.3L800.1 1102.2L800.9 1099.1L801.7 1095.9L802.5 1092.7L803.3 1089.6L804.1 1086.3L804.9 1083.1L805.7 1080.0L806.5 1076.8L807.3 1073.6L808.1 1070.5L808.9 1067.5L809.7 1064.5L810.5 1061.5L811.3 1058.6L812.1 1055.9L812.9 1053.1L813.7 1050.5L814.5 1048.0L815.3 1045.6L816.1 1043.3L816.9 1041.1L817.7 1039.1L818.5 1037.2L819.3 1035.4L820.1 1033.8L820.9 1032.3L821.7 1031.0L822.5 1029.8L823.3 1028.8L824.1 1028.0L824.9 1027.3L825.7 1026.8L826.5 1026.5L827.3 1026.3L828.1 1026.3L828.9 1026.5L829.7 1026.9L830.5 1027.4L831.3 1028.1L832.1 1029.0L832.9 1030.1L833.6 1031.3L834.4 1032.7L835.2 1034.3L836.0 1036.1L836.8 1037.9L837.6 1040.0L838.4 1042.2L839.2 1044.5L840.0 1047.0L840.8 1049.6L841.6 1052.4L842.4 1055.2L843.2 1058.2L844.0 1061.3L844.8 1064.5L845.6 1067.8L846.4 1071.2L847.2 1074.6L848.0 1078.2L848.8 1081.8L849.6 1085.4L850.4 1089.1L851.2 1092.9L852.0 1096.6L852.8 1100.4L853.6 1104.2L854.4 1108.0L855.2 1111.8L856.0 1115.6L856.8 1119.3L857.6 1123.1L858.4 1126.8L859.2 1130.4L860.0 1134.0L860.8 1137.5L861.6 1140.9L862.4 1144.3L863.2 1147.5L864.0 1150.7L864.8 1153.8L865.6 1156.7L866.4 1159.5L867.2 1162.2L868.0 1164.8L868.8 1167.2L869.6 1169.5L870.4 1171.7L871.2 1173.6L872.0 1175.5L872.8 1177.1L873.6 1178.6L874.4 1179.9L875.2 1181.1L876.0 1182.1L876.8 1182.8L877.5 1183.5L878.3 1183.9L879.1 1184.1L879.9 1184.2L880.7 1184.1L881.5 1183.8L882.3 1183.3L883.1 1182.6L883.9 1181.8L884.7 1180.8L885.5 1179.6L886.3 1178.2L887.1 1176.7L887.9 1175.0L888.7 1173.2L889.5 1171.2L890.3 1169.0L891.1 1166.7L891.9 1164.3L892.7 1161.7L893.5 1159.0L894.3 1156.2L895.1 1153.2L895.9 1150.2L896.7 1147.0L897.5 1143.8L898.3 1140.5L899.1 1137.1L899.9 1133.6L900.7 1130.1L901.5 1126.5L902.3 1122.9L903.1 1119.2L903.9 1115.5L904.7 1111.8L905.5 1108.1L906.3 1104.4L907.1 1100.7L907.9 1097.0L908.7 1093.3L909.5 1089.7L910.3 1086.1L911.1 1082.5L911.9 1079.1L912.7 1075.6L913.5 1072.3L914.3 1069.0L915.1 1065.8L915.9 1062.8L916.7 1059.8L917.5 1056.9L918.3 1054.2L919.1 1051.5L919.9 1049.0L920.7 1046.6L921.4 1044.4L922.2 1042.3L923.0 1040.3L923.8 1038.5L924.6 1036.9L925.4 1035.4L926.2 1034.0L927.0 1032.9L927.8 1031.9L928.6 1031.0L929.4 1030.3L930.2 1029.8L931.0 1029.5L931.8 1029.3L932.6 1029.3L933.4 1029.4L934.2 1029.8L935.0 1030.2L935.8 1030.9L936.6 1031.7L937.4 1032.6L938.2 1033.7L939.0 1035.0L939.8 1036.4L940.6 1037.9L941.4 1039.6L942.2 1041.4L943.0 1043.3L943.8 1045.4L944.6 1047.5L945.4 1049.8L946.2 1052.1L947.0 1054.6L947.8 1057.2L948.6 1059.8L949.4 1062.5L950.2 1065.2L951.0 1068.1L951.8 1070.9L952.6 1073.9L953.4 1076.8L954.2 1079.8L955.0 1082.8L955.8 1085.8L956.6 1088.8L957.4 1091.8L958.2 1094.8L959.0 1097.8L959.8 1100.7L960.6 1103.6L961.4 1106.5L962.2 1109.3L963.0 1112.0L963.8 1114.7L964.6 1117.3L965.3 1119.8L966.1 1122.3L966.9 1124.7L967.7 1126.9L968.5 1129.1L969.3 1131.1L970.1 1133.0L970.9 1134.8L971.7 1136.5L972.5 1138.1L973.3 1139.5L974.1 1140.8L974.9 1142.0L975.7 1143.0L976.5 1143.8L977.3 1144.6L978.1 1145.1L978.9 1145.6L979.7 1145.9L980.5 1146.0L981.3 1146.0L982.1 1145.8L982.9 1145.5L983.7 1145.0L984.5 1144.4L985.3 1143.6L986.1 1142.7L986.9 1141.7L987.7 1140.5L988.5 1139.2L989.3 1137.8L990.1 1136.2L990.9 1134.5L991.7 1132.7L992.5 1130.8L993.3 1128.8L994.1 1126.7L994.9 1124.5L995.7 1122.2L996.5 1119.8L997.3 1117.3L998.1 1114.8L998.9 1112.2L999.7 1109.6L1000.5 1106.9L1001.3 1104.1L1002.1 1101.4L1002.9 1098.6L1003.7 1095.7L1004.5 1092.9L1005.3 1090.1L1006.1 1087.2L1006.9 1084.4L1007.7 1081.6L1008.5 1078.9L1009.2 1076.1L1010.0 1073.4L1010.8 1070.8L1011.6 1068.2L1012.4 1065.6L1013.2 1063.2L1014.0 1060.8L1014.8 1058.5L1015.6 1056.3L1016.4 1054.2L1017.2 1052.1L1018.0 1050.2L1018.8 1048.4L1019.6 1046.7L1020.4 1045.2L1021.2 1043.7L1022.0 1042.4L1022.8 1041.3L1023.6 1040.2L1024.4 1039.3L1025.2 1038.6L1026.0 1038.0L1026.8 1037.5L1027.6 1037.2L1028.4 1037.1L1029.2 1037.1L1030.0 1037.2L1030.8 1037.5L1031.6 1038.0L1032.4 1038.6L1033.2 1039.3L1034.0 1040.2L1034.8 1041.3L1035.6 1042.5L1036.4 1043.8L1037.2 1045.3L1038.0 1046.9L1038.8 1048.6L1039.6 1050.5L1040.4 1052.5L1041.2 1054.6L1042.0 1056.8L1042.8 1059.2L1043.6 1061.6L1044.4 1064.2L1045.2 1066.8L1046.0 1069.5L1046.8 1072.3L1047.6 1075.2L1048.4 1078.1L1049.2 1081.2L1050.0 1084.2L1050.8 1087.3L1051.6 1090.5L1052.4 1093.6L1053.1 1096.8L1053.9 1100.0L1054.7 1103.3L1055.5 1106.5L1056.3 1109.7L1057.1 1112.9L1057.9 1116.1L1058.7 1119.2L1059.5 1122.3L1060.3 1125.4L1061.1 1128.4L1061.9 1131.4L1062.7 1134.3L1063.5 1137.1L1064.3 1139.8L1065.1 1142.5L1065.9 1145.0L1066.7 1147.5L1067.5 1149.8L1068.3 1152.1L1069.1 1154.2L1069.9 1156.2L1070.7 1158.1L1071.5 1159.8L1072.3 1161.4L1073.1 1162.9L1073.9 1164.3L1074.7 1165.4L1075.5 1166.5L1076.3 1167.4L1077.1 1168.1L1077.9 1168.7L1078.7 1169.1L1079.5 1169.4L1080.3 1169.5L1081.1 1169.5L1081.9 1169.3L1082.7 1168.9L1083.5 1168.4L1084.3 1167.8L1085.1 1166.9L1085.9 1166.0L1086.7 1164.9L1087.5 1163.6L1088.3 1162.2L1089.1 1160.6L1089.9 1159.0L1090.7 1157.2L1091.5 1155.2L1092.3 1153.2L1093.1 1151.0L1093.9 1148.7L1094.7 1146.3L1095.5 1143.8L1096.3 1141.2L1097.0 1138.5L1097.8 1135.8L1098.6 1132.9L1099.4 1130.0L1100.2 1127.1L1101.0 1124.1L1101.8 1121.0L1102.6 1117.9L1103.4 1114.7L1104.2 1111.6L1105.0 1108.4L1105.8 1105.2L1106.6 1102.0L1107.4 1098.8L1108.2 1095.6L1109.0 1092.4L1109.8 1089.3L1110.6 1086.2L1111.4 1083.1L1112.2 1080.1L1113.0 1077.2L1113.8 1074.3L1114.6 1071.4L1115.4 1068.7L1116.2 1066.0L1117.0 1063.4L1117.8 1060.9L1118.6 1058.6L1119.4 1056.3L1120.2 1054.1L1121.0 1052.0L1121.8 1050.1L1122.6 1048.3L1123.4 1046.6L1124.2 1045.0L1125.0 1043.6L1125.8 1042.3L1126.6 1041.1L1127.4 1040.1L1128.2 1039.2L1129.0 1038.5L1129.8 1037.9L1130.6 1037.5L1131.4 1037.2L1132.2 1037.1L1133.0 1037.1L1133.8 1037.2L1134.6 1037.5L1135.4 1038.0L1136.2 1038.6L1137.0 1039.3L1137.8 1040.1L1138.6 1041.1L1139.4 1042.3L1140.2 1043.5L1140.9 1044.9L1141.7 1046.4L1142.5 1048.0L1143.3 1049.7L1144.1 1051.6L1144.9 1053.5L1145.7 1055.5L1146.5 1057.7L1147.3 1059.9L1148.1 1062.1L1148.9 1064.5L1149.7 1066.9L1150.5 1069.4L1151.3 1071.9L1152.1 1074.5L1152.9 1077.1L1153.7 1079.8L1154.5 1082.5L1155.3 1085.2L1156.1 1087.9L1156.9 1090.6L1157.7 1093.3L1158.5 1096.0L1159.3 1098.7L1160.1 1101.4L1160.9 1104.0L1161.7 1106.6L1162.5 1109.2L1163.3 1111.7L1164.1 1114.1L1164.9 1116.5L1165.7 1118.8L1166.5 1121.0L1167.3 1123.2L1168.1 1125.3L1168.9 1127.2L1169.7 1129.1L1170.5 1130.9L1171.3 1132.6L1172.1 1134.2L1172.9 1135.6L1173.7 1137.0L1174.5 1138.2L1175.3 1139.3L1176.1 1140.2L1176.9 1141.1L1177.7 1141.8L1178.5 1142.4L1179.3 1142.8L1180.1 1143.1L1180.9 1143.3L1181.7 1143.4L1182.5 1143.3L1183.3 1143.0L1184.1 1142.7L1184.8 1142.2L1185.6 1141.6L1186.4 1140.8L1187.2 1139.9L1188.0 1138.9L1188.8 1137.8L1189.6 1136.6L1190.4 1135.2L1191.2 1133.8L1192.0 1132.2L1192.8 1130.5L1193.6 1128.7L1194.4 1126.9L1195.2 1124.9L1196.0 1122.9L1196.8 1120.7" stroke="#E19C24" stroke-width="6.0"/>
<path d="M239.0 737.8L243.8 751.4L244.6 756.2L245.4 761.7L246.2 767.8L247.0 774.6L247.8 781.9L248.6 789.8L249.4 798.1L250.2 807.0L251.0 816.3L251.8 825.9L252.6 836.0L253.4 846.3L254.2 856.9L255.0 867.7L255.8 878.7L256.6 889.8L257.4 901.1L258.2 912.4L259.0 923.7L259.8 935.1L260.6 946.4L261.4 957.6L262.2 968.7L263.0 979.6L263.7 990.4L264.5 1001.0L265.3 1011.4L266.1 1021.5L266.9 1031.4L267.7 1040.9L268.5 1050.2L269.3 1059.1L270.1 1067.7L270.9 1076.0L271.7 1083.9L272.5 1091.4L273.3 1098.5L274.1 1105.3L274.9 1111.7L275.7 1117.6L276.5 1123.2L277.3 1128.3L278.1 1133.1L278.9 1137.4L279.7 1141.4L280.5 1144.9L281.3 1148.1L282.1 1150.9L282.9 1153.2L283.7 1155.2L284.5 1156.8L285.3 1158.1L286.1 1159.0L286.9 1159.5L287.7 1159.7L288.5 1159.6L289.3 1159.2L290.1 1158.4L290.9 1157.3L291.7 1156.0L292.5 1154.4L293.3 1152.5L294.1 1150.3L294.9 1147.9L295.7 1145.3L296.5 1142.4L297.3 1139.4L298.1 1136.1L298.9 1132.7L299.7 1129.1L300.5 1125.4L301.3 1121.5L302.1 1117.5L302.9 1113.3L303.7 1109.1L304.5 1104.8L305.3 1100.4L306.1 1095.9L306.9 1091.4L307.6 1086.8L308.4 1082.2L309.2 1077.6L310.0 1073.0L310.8 1068.4L311.6 1063.8L312.4 1059.2L313.2 1054.6L314.0 1050.1L314.8 1045.7L315.6 1041.3L316.4 1037.0L317.2 1032.8L318.0 1028.6L318.8 1024.6L319.6 1020.6L320.4 1016.8L321.2 1013.0L322.0 1009.4L322.8 1005.9L323.6 1002.6L324.4 999.4L325.2 996.3L326.0 993.3L326.8 990.5L327.6 987.9L328.4 985.4L329.2 983.0L330.0 980.8L330.8 978.8L331.6 976.9L332.4 975.2L333.2 973.6L334.0 972.2L334.8 970.9L335.6 969.8L336.4 968.8L337.2 967.9L338.0 967.3L338.8 966.7L339.6 966.3L340.4 966.0L341.2 965.9L342.0 965.8L342.8 965.9L343.6 966.1L344.4 966.4L345.2 966.9L346.0 967.4L346.8 968.0L347.6 968.7L348.4 969.5L349.2 970.4L350.0 971.4L350.8 972.4L351.5 973.4L352.3 974.6L353.1 975.7L353.9 977.0L354.7 978.2L355.5 979.5L356.3 980.8L357.1 982.1L357.9 983.4L358.7 984.8L359.5 986.1L360.3 987.4L361.1 988.7L361.9 990.0L362.7 991.3L363.5 992.5L364.3 993.7L365.1 994.9L365.9 996.0L366.7 997.1L367.5 998.1L368.3 999.1L369.1 1000.0L369.9 1000.8L370.7 1001.6L371.5 1002.3L372.3 1002.9L373.1 1003.5L373.9 1004.0L374.7 1004.4L375.5 1004.7L376.3 1004.9L377.1 1005.1L377.9 1005.2L378.7 1005.1L379.5 1005.0L380.3 1004.9L381.1 1004.6L381.9 1004.2L382.7 1003.8L383.5 1003.3L384.3 1002.7L385.1 1002.0L385.9 1001.3L386.7 1000.5L387.5 999.6L388.3 998.6L389.1 997.6L389.9 996.5L390.7 995.4L391.5 994.2L392.3 992.9L393.1 991.6L393.9 990.3L394.7 988.9L395.4 987.5L396.2 986.1L397.0 984.6L397.8 983.1L398.6 981.6L399.4 980.1L400.2 978.5L401.0 977.0L401.8 975.5L402.6 974.0L403.4 972.5L404.2 971.0L405.0 969.5L405.8 968.1L406.6 966.7L407.4 965.3L408.2 964.0L409.0 962.7L409.8 961.5L410.6 960.3L411.4 959.2L412.2 958.1L413.0 957.1L413.8 956.2L414.6 955.4L415.4 954.6L416.2 953.9L417.0 953.3L417.8 952.8L418.6 952.4L419.4 952.0L420.2 951.8L421.0 951.6L421.8 951.6L422.6 951.6L423.4 951.8L424.2 952.0L425.0 952.3L425.8 952.8L426.6 953.3L427.4 954.0L428.2 954.7L429.0 955.6L429.8 956.5L430.6 957.6L431.4 958.7L432.2 959.9L433.0 961.2L433.8 962.7L434.6 964.2L435.4 965.8L436.2 967.4L437.0 969.2L437.8 971.0L438.6 972.9L439.3 974.9L440.1 976.9L440.9 979.1L441.7 981.2L442.5 983.4L443.3 985.7L444.1 988.0L444.9 990.4L445.7 992.8L446.5 995.2L447.3 997.6L448.1 1000.1L448.9 1002.6L449.7 1005.1L450.5 1007.6L451.3 1010.1L452.1 1012.6L452.9 1015.0L453.7 1017.5L454.5 1020.0L455.3 1022.4L456.1 1024.8L456.9 1027.2L457.7 1029.5L458.5 1031.8L459.3 1034.0L460.1 1036.2L460.9 1038.3L461.7 1040.3L462.5 1042.3L463.3 1044.3L464.1 1046.1L464.9 1047.9L465.7 1049.5L466.5 1051.1L467.3 1052.7L468.1 1054.1L468.9 1055.4L469.7 1056.6L470.5 1057.7L471.3 1058.8L472.1 1059.7L472.9 1060.5L473.7 1061.2L474.5 1061.8L475.3 1062.3L476.1 1062.7L476.9 1063.0L477.7 1063.1L478.5 1063.2L479.3 1063.1L480.1 1063.0L480.9 1062.7L481.7 1062.3L482.5 1061.8L483.2 1061.2L484.0 1060.5L484.8 1059.8L485.6 1058.9L486.4 1057.9L487.2 1056.8L488.0 1055.6L488.8 1054.3L489.6 1053.0L490.4 1051.6L491.2 1050.0L492.0 1048.4L492.8 1046.8L493.6 1045.1L494.4 1043.3L495.2 1041.4L496.0 1039.5L496.8 1037.6L497.6 1035.6L498.4 1033.5L499.2 1031.4L500.0 1029.3L500.8 1027.2L501.6 1025.0L502.4 1022.8L503.2 1020.6L504.0 1018.4L504.8 1016.2L505.6 1014.0L506.4 1011.8L507.2 1009.6L508.0 1007.5L508.8 1005.3L509.6 1003.2L510.4 1001.1L511.2 999.0L512.0 997.0L512.8 995.0L513.6 993.0L514.4 991.1L515.2 989.3L516.0 987.5L516.8 985.8L517.6 984.1L518.4 982.5L519.2 981.0L520.0 979.5L520.8 978.1L521.6 976.8L522.4 975.6L523.2 974.5L524.0 973.4L524.8 972.4L525.6 971.5L526.4 970.7L527.1 970.0L527.9 969.3L528.7 968.8L529.5 968.3L530.3 968.0L531.1 967.7L531.9 967.5L532.7 967.4L533.5 967.3L534.3 967.4L535.1 967.5L535.9 967.8L536.7 968.1L537.5 968.5L538.3 968.9L539.1 969.5L539.9 970.1L540.7 970.7L541.5 971.5L542.3 972.3L543.1 973.2L543.9 974.1L544.7 975.1L545.5 976.1L546.3 977.2L547.1 978.3L547.9 979.5L548.7 980.7L549.5 981.9L550.3 983.2L551.1 984.5L551.9 985.8L552.7 987.1L553.5 988.5L554.3 989.8L555.1 991.2L555.9 992.6L556.7 993.9L557.5 995.3L558.3 996.6L559.1 998.0L559.9 999.3L560.7 1000.6L561.5 1001.9L562.3 1003.1L563.1 1004.3L563.9 1005.5L564.7 1006.6L565.5 1007.7L566.3 1008.8L567.1 1009.8L567.9 1010.7L568.7 1011.7L569.5 1012.5L570.3 1013.3L571.0 1014.0L571.8 1014.7L572.6 1015.3L573.4 1015.9L574.2 1016.4L575.0 1016.8L575.8 1017.2L576.6 1017.5L577.4 1017.7L578.2 1017.8L579.0 1017.9L579.8 1017.9L580.6 1017.9L581.4 1017.8L582.2 1017.6L583.0 1017.3L583.8 1017.0L584.6 1016.6L585.4 1016.2L586.2 1015.7L587.0 1015.1L587.8 1014.5L588.6 1013.8L589.4 1013.1L590.2 1012.3L591.0 1011.4L591.8 1010.6L592.6 1009.6L593.4 1008.7L594.2 1007.6L595.0 1006.6L595.8 1005.5L596.6 1004.4L597.4 1003.3L598.2 1002.1L599.0 1001.0L599.8 999.8L600.6 998.6L601.4 997.4L602.2 996.1L603.0 994.9L603.8 993.7L604.6 992.5L605.4 991.3L606.2 990.1L607.0 988.9L607.8 987.8L608.6 986.6L609.4 985.5L610.2 984.4L611.0 983.4L611.8 982.4L612.6 981.4L613.4 980.5L614.2 979.6L614.9 978.8L615.7 978.0L616.5 977.2L617.3 976.6L618.1 975.9L618.9 975.4L619.7 974.9L620.5 974.4L621.3 974.1L622.1 973.7L622.9 973.5L623.7 973.3L624.5 973.2L625.3 973.2L626.1 973.2L626.9 973.3L627.7 973.5L628.5 973.7L629.3 974.0L630.1 974.4L630.9 974.9L631.7 975.4L632.5 976.0L633.3 976.7L634.1 977.4L634.9 978.2L635.7 979.0L636.5 980.0L637.3 980.9L638.1 982.0L638.9 983.1L639.7 984.2L640.5 985.4L641.3 986.6L642.1 987.9L642.9 989.3L643.7 990.6L644.5 992.0L645.3 993.5L646.1 994.9L646.9 996.4L647.7 998.0L648.5 999.5L649.3 1001.1L650.1 1002.6L650.9 1004.2L651.7 1005.8L652.5 1007.4L653.3 1009.0L654.1 1010.6L654.9 1012.2L655.7 1013.7L656.5 1015.3L657.3 1016.8L658.1 1018.3L658.8 1019.8L659.6 1021.3L660.4 1022.7L661.2 1024.1L662.0 1025.4L662.8 1026.7L663.6 1028.0L664.4 1029.2L665.2 1030.4L666.0 1031.5L666.8 1032.5L667.6 1033.5L668.4 1034.4L669.2 1035.3L670.0 1036.1L670.8 1036.9L671.6 1037.5L672.4 1038.1L673.2 1038.7L674.0 1039.1L674.8 1039.5L675.6 1039.8L676.4 1040.1L677.2 1040.2L678.0 1040.3L678.8 1040.3L679.6 1040.3L680.4 1040.1L681.2 1039.9L682.0 1039.6L682.8 1039.2L683.6 1038.8L684.4 1038.3L685.2 1037.7L686.0 1037.1L686.8 1036.4L687.6 1035.6L688.4 1034.7L689.2 1033.8L690.0 1032.9L690.8 1031.8L691.6 1030.8L692.4 1029.6L693.2 1028.5L694.0 1027.2L694.8 1026.0L695.6 1024.6L696.4 1023.3L697.2 1021.9L698.0 1020.5L698.8 1019.0L699.6 1017.6L700.4 1016.1L701.2 1014.6L702.0 1013.0L702.7 1011.5L703.5 1009.9L704.3 1008.4L705.1 1006.8L705.9 1005.3L706.7 1003.7L707.5 1002.2L708.3 1000.7L709.1 999.2L709.9 997.7L710.7 996.2L711.5 994.8L712.3 993.4L713.1 992.0L713.9 990.6L714.7 989.3L715.5 988.1L716.3 986.9L717.1 985.7L717.9 984.5L718.7 983.5L719.5 982.4L720.3 981.5L721.1 980.6L721.9 979.7L722.7 978.9L723.5 978.2L724.3 977.5L725.1 976.9L725.9 976.4L726.7 975.9L727.5 975.5L728.3 975.1L729.1 974.8L729.9 974.6L730.7 974.5L731.5 974.4L732.3 974.4L733.1 974.4L733.9 974.6L734.7 974.8L735.5 975.0L736.3 975.3L737.1 975.7L737.9 976.1L738.7 976.6L739.5 977.2L740.3 977.8L741.1 978.4L741.9 979.1L742.7 979.9L743.5 980.7L744.3 981.5L745.1 982.4L745.9 983.3L746.6 984.3L747.4 985.3L748.2 986.3L749.0 987.3L749.8 988.4L750.6 989.5L751.4 990.6L752.2 991.8L753.0 992.9L753.8 994.1L754.6 995.2L755.4 996.4L756.2 997.5L757.0 998.7L757.8 999.8L758.6 1001.0L759.4 1002.1L760.2 1003.2L761.0 1004.3L761.8 1005.4L762.6 1006.4L763.4 1007.5L764.2 1008.5L765.0 1009.4L765.8 1010.3L766.6 1011.2L767.4 1012.1L768.2 1012.9L769.0 1013.7L769.8 1014.4L770.6 1015.1L771.4 1015.7L772.2 1016.3L773.0 1016.8L773.8 1017.3L774.6 1017.7L775.4 1018.0L776.2 1018.3L777.0 1018.6L777.8 1018.8L778.6 1018.9L779.4 1019.0L780.2 1019.0L781.0 1019.0L781.8 1018.9L782.6 1018.8L783.4 1018.6L784.2 1018.3L785.0 1018.0L785.8 1017.6L786.6 1017.2L787.4 1016.7L788.2 1016.2L789.0 1015.7L789.7 1015.0L790.5 1014.4L791.3 1013.7L792.1 1012.9L792.9 1012.2L793.7 1011.4L794.5 1010.5L795.3 1009.6L796.1 1008.7L796.9 1007.8L797.7 1006.8L798.5 1005.8L799.3 1004.8L800.1 1003.8L800.9 1002.8L801.7 1001.7L802.5 1000.7L803.3 999.6L804.1 998.6L804.9 997.5L805.7 996.5L806.5 995.5L807.3 994.4L808.1 993.4L808.9 992.4L809.7 991.4L810.5 990.5L811.3 989.5L812.1 988.6L812.9 987.7L813.7 986.9L814.5 986.1L815.3 985.3L816.1 984.6L816.9 983.9L817.7 983.2L818.5 982.6L819.3 982.0L820.1 981.5L820.9 981.1L821.7 980.7L822.5 980.3L823.3 980.0L824.1 979.7L824.9 979.5L825.7 979.4L826.5 979.3L827.3 979.3L828.1 979.3L828.9 979.4L829.7 979.6L830.5 979.8L831.3 980.0L832.1 980.4L832.9 980.7L833.6 981.2L834.4 981.7L835.2 982.2L836.0 982.8L836.8 983.5L837.6 984.2L838.4 984.9L839.2 985.7L840.0 986.5L840.8 987.4L841.6 988.3L842.4 989.3L843.2 990.3L844.0 991.4L844.8 992.4L845.6 993.5L846.4 994.7L847.2 995.8L848.0 997.0L848.8 998.2L849.6 999.4L850.4 1000.6L851.2 1001.9L852.0 1003.1L852.8 1004.4L853.6 1005.6L854.4 1006.9L855.2 1008.1L856.0 1009.4L856.8 1010.6L857.6 1011.8L858.4 1013.0L859.2 1014.2L860.0 1015.4L860.8 1016.5L861.6 1017.6L862.4 1018.7L863.2 1019.8L864.0 1020.8L864.8 1021.8L865.6 1022.7L866.4 1023.6L867.2 1024.5L868.0 1025.3L868.8 1026.1L869.6 1026.8L870.4 1027.5L871.2 1028.1L872.0 1028.7L872.8 1029.2L873.6 1029.6L874.4 1030.0L875.2 1030.4L876.0 1030.6L876.8 1030.9L877.5 1031.0L878.3 1031.1L879.1 1031.1L879.9 1031.1L880.7 1031.0L881.5 1030.9L882.3 1030.7L883.1 1030.4L883.9 1030.1L884.7 1029.7L885.5 1029.3L886.3 1028.8L887.1 1028.2L887.9 1027.6L888.7 1027.0L889.5 1026.3L890.3 1025.5L891.1 1024.7L891.9 1023.8L892.7 1022.9L893.5 1022.0L894.3 1021.0L895.1 1020.0L895.9 1019.0L896.7 1017.9L897.5 1016.8L898.3 1015.7L899.1 1014.5L899.9 1013.3L900.7 1012.1L901.5 1010.9L902.3 1009.7L903.1 1008.4L903.9 1007.2L904.7 1005.9L905.5 1004.7L906.3 1003.4L907.1 1002.2L907.9 1001.0L908.7 999.7L909.5 998.5L910.3 997.3L911.1 996.1L911.9 995.0L912.7 993.8L913.5 992.7L914.3 991.6L915.1 990.6L915.9 989.6L916.7 988.6L917.5 987.6L918.3 986.7L919.1 985.8L919.9 985.0L920.7 984.2L921.4 983.5L922.2 982.8L923.0 982.2L923.8 981.6L924.6 981.1L925.4 980.6L926.2 980.2L927.0 979.8L927.8 979.5L928.6 979.2L929.4 979.0L930.2 978.9L931.0 978.8L931.8 978.8L932.6 978.8L933.4 978.9L934.2 979.0L935.0 979.2L935.8 979.4L936.6 979.7L937.4 980.1L938.2 980.5L939.0 980.9L939.8 981.4L940.6 981.9L941.4 982.5L942.2 983.1L943.0 983.8L943.8 984.5L944.6 985.3L945.4 986.0L946.2 986.9L947.0 987.7L947.8 988.6L948.6 989.5L949.4 990.4L950.2 991.3L951.0 992.3L951.8 993.3L952.6 994.2L953.4 995.2L954.2 996.3L955.0 997.3L955.8 998.3L956.6 999.3L957.4 1000.3L958.2 1001.3L959.0 1002.3L959.8 1003.3L960.6 1004.3L961.4 1005.2L962.2 1006.2L963.0 1007.1L963.8 1008.0L964.6 1008.9L965.3 1009.7L966.1 1010.6L966.9 1011.3L967.7 1012.1L968.5 1012.8L969.3 1013.5L970.1 1014.1L970.9 1014.7L971.7 1015.3L972.5 1015.8L973.3 1016.3L974.1 1016.7L974.9 1017.1L975.7 1017.4L976.5 1017.7L977.3 1018.0L978.1 1018.1L978.9 1018.3L979.7 1018.4L980.5 1018.4L981.3 1018.4L982.1 1018.3L982.9 1018.2L983.7 1018.1L984.5 1017.8L985.3 1017.6L986.1 1017.3L986.9 1016.9L987.7 1016.5L988.5 1016.1L989.3 1015.6L990.1 1015.1L990.9 1014.5L991.7 1013.9L992.5 1013.3L993.3 1012.6L994.1 1011.9L994.9 1011.2L995.7 1010.4L996.5 1009.6L997.3 1008.8L998.1 1007.9L998.9 1007.1L999.7 1006.2L1000.5 1005.3L1001.3 1004.4L1002.1 1003.5L1002.9 1002.5L1003.7 1001.6L1004.5 1000.7L1005.3 999.7L1006.1 998.8L1006.9 997.8L1007.7 996.9L1008.5 996.0L1009.2 995.1L1010.0 994.2L1010.8 993.3L1011.6 992.5L1012.4 991.7L1013.2 990.8L1014.0 990.1L1014.8 989.3L1015.6 988.6L1016.4 987.9L1017.2 987.2L1018.0 986.6L1018.8 986.0L1019.6 985.5L1020.4 985.0L1021.2 984.5L1022.0 984.1L1022.8 983.7L1023.6 983.4L1024.4 983.1L1025.2 982.9L1026.0 982.7L1026.8 982.6L1027.6 982.5L1028.4 982.4L1029.2 982.5L1030.0 982.5L1030.8 982.6L1031.6 982.8L1032.4 983.0L1033.2 983.3L1034.0 983.6L1034.8 984.0L1035.6 984.4L1036.4 984.8L1037.2 985.3L1038.0 985.9L1038.8 986.5L1039.6 987.1L1040.4 987.8L1041.2 988.5L1042.0 989.3L1042.8 990.0L1043.6 990.9L1044.4 991.7L1045.2 992.6L1046.0 993.5L1046.8 994.5L1047.6 995.4L1048.4 996.4L1049.2 997.4L1050.0 998.4L1050.8 999.5L1051.6 1000.5L1052.4 1001.6L1053.1 1002.6L1053.9 1003.7L1054.7 1004.7L1055.5 1005.8L1056.3 1006.9L1057.1 1007.9L1057.9 1009.0L1058.7 1010.0L1059.5 1011.0L1060.3 1012.1L1061.1 1013.0L1061.9 1014.0L1062.7 1015.0L1063.5 1015.9L1064.3 1016.8L1065.1 1017.6L1065.9 1018.5L1066.7 1019.3L1067.5 1020.0L1068.3 1020.8L1069.1 1021.4L1069.9 1022.1L1070.7 1022.7L1071.5 1023.2L1072.3 1023.8L1073.1 1024.2L1073.9 1024.6L1074.7 1025.0L1075.5 1025.3L1076.3 1025.6L1077.1 1025.8L1077.9 1026.0L1078.7 1026.1L1079.5 1026.2L1080.3 1026.2L1081.1 1026.1L1081.9 1026.0L1082.7 1025.9L1083.5 1025.7L1084.3 1025.5L1085.1 1025.2L1085.9 1024.8L1086.7 1024.4L1087.5 1024.0L1088.3 1023.5L1089.1 1022.9L1089.9 1022.4L1090.7 1021.7L1091.5 1021.1L1092.3 1020.4L1093.1 1019.6L1093.9 1018.8L1094.7 1018.0L1095.5 1017.2L1096.3 1016.3L1097.0 1015.4L1097.8 1014.4L1098.6 1013.5L1099.4 1012.5L1100.2 1011.5L1101.0 1010.5L1101.8 1009.4L1102.6 1008.4L1103.4 1007.3L1104.2 1006.3L1105.0 1005.2L1105.8 1004.1L1106.6 1003.0L1107.4 1002.0L1108.2 1000.9L1109.0 999.8L1109.8 998.8L1110.6 997.8L1111.4 996.7L1112.2 995.7L1113.0 994.8L1113.8 993.8L1114.6 992.9L1115.4 991.9L1116.2 991.1L1117.0 990.2L1117.8 989.4L1118.6 988.6L1119.4 987.8L1120.2 987.1L1121.0 986.4L1121.8 985.8L1122.6 985.2L1123.4 984.7L1124.2 984.2L1125.0 983.7L1125.8 983.3L1126.6 982.9L1127.4 982.6L1128.2 982.3L1129.0 982.1L1129.8 981.9L1130.6 981.8L1131.4 981.7L1132.2 981.7L1133.0 981.7L1133.8 981.8L1134.6 981.9L1135.4 982.0L1136.2 982.3L1137.0 982.5L1137.8 982.8L1138.6 983.2L1139.4 983.6L1140.2 984.0L1140.9 984.5L1141.7 985.0L1142.5 985.5L1143.3 986.1L1144.1 986.8L1144.9 987.4L1145.7 988.1L1146.5 988.8L1147.3 989.6L1148.1 990.4L1148.9 991.2L1149.7 992.0L1150.5 992.8L1151.3 993.7L1152.1 994.6L1152.9 995.4L1153.7 996.3L1154.5 997.2L1155.3 998.1L1156.1 999.1L1156.9 1000.0L1157.7 1000.9L1158.5 1001.8L1159.3 1002.7L1160.1 1003.6L1160.9 1004.5L1161.7 1005.3L1162.5 1006.2L1163.3 1007.0L1164.1 1007.8L1164.9 1008.6L1165.7 1009.4L1166.5 1010.2L1167.3 1010.9L1168.1 1011.6L1168.9 1012.2L1169.7 1012.8L1170.5 1013.4L1171.3 1014.0L1172.1 1014.5L1172.9 1015.0L1173.7 1015.4L1174.5 1015.8L1175.3 1016.2L1176.1 1016.5L1176.9 1016.8L1177.7 1017.0L1178.5 1017.2L1179.3 1017.4L1180.1 1017.5L1180.9 1017.5L1181.7 1017.5L1182.5 1017.5L1183.3 1017.4L1184.1 1017.3L1184.8 1017.1L1185.6 1016.9L1186.4 1016.6L1187.2 1016.3L1188.0 1016.0L1188.8 1015.6L1189.6 1015.2L1190.4 1014.7L1191.2 1014.2L1192.0 1013.7L1192.8 1013.2L1193.6 1012.6L1194.4 1011.9L1195.2 1011.3L1196.0 1010.6L1196.8 1009.9" stroke="#8FB032" stroke-width="6.0"/>
<path d="M239.0 737.8L243.8 751.1L244.6 755.6L245.4 760.7L246.2 766.3L247.0 772.3L247.8 778.7L248.6 785.4L249.4 792.3L250.2 799.4L251.0 806.7L251.8 814.1L252.6 821.6L253.4 829.0L254.2 836.5L255.0 843.9L255.8 851.2L256.6 858.5L257.4 865.6L258.2 872.7L259.0 879.5L259.8 886.2L260.6 892.8L261.4 899.1L262.2 905.3L263.0 911.3L263.7 917.1L264.5 922.7L265.3 928.1L266.1 933.3L266.9 938.2L267.7 943.0L268.5 947.5L269.3 951.9L270.1 956.0L270.9 959.9L271.7 963.6L272.5 967.0L273.3 970.3L274.1 973.3L274.9 976.1L275.7 978.7L276.5 981.1L277.3 983.3L278.1 985.2L278.9 987.0L279.7 988.6L280.5 989.9L281.3 991.1L282.1 992.1L282.9 992.8L283.7 993.4L284.5 993.8L285.3 994.1L286.1 994.1L286.9 994.0L287.7 993.7L288.5 993.3L289.3 992.7L290.1 992.0L290.9 991.1L291.7 990.1L292.5 989.0L293.3 987.7L294.1 986.3L294.9 984.8L295.7 983.2L296.5 981.5L297.3 979.7L298.1 977.9L298.9 975.9L299.7 973.9L300.5 971.8L301.3 969.6L302.1 967.4L302.9 965.1L303.7 962.8L304.5 960.4L305.3 958.1L306.1 955.7L306.9 953.2L307.6 950.8L308.4 948.3L309.2 945.9L310.0 943.5L310.8 941.0L311.6 938.6L312.4 936.2L313.2 933.8L314.0 931.5L314.8 929.1L315.6 926.9L316.4 924.6L317.2 922.4L318.0 920.3L318.8 918.2L319.6 916.2L320.4 914.2L321.2 912.3L322.0 910.4L322.8 908.6L323.6 906.9L324.4 905.3L325.2 903.7L326.0 902.2L326.8 900.8L327.6 899.5L328.4 898.2L329.2 897.0L330.0 895.9L330.8 894.9L331.6 893.9L332.4 893.1L333.2 892.3L334.0 891.6L334.8 890.9L335.6 890.4L336.4 889.9L337.2 889.5L338.0 889.2L338.8 888.9L339.6 888.7L340.4 888.6L341.2 888.6L342.0 888.6L342.8 888.6L343.6 888.8L344.4 889.0L345.2 889.2L346.0 889.5L346.8 889.8L347.6 890.2L348.4 890.7L349.2 891.1L350.0 891.6L350.8 892.2L351.5 892.7L352.3 893.3L353.1 894.0L353.9 894.6L354.7 895.3L355.5 895.9L356.3 896.6L357.1 897.3L357.9 898.0L358.7 898.7L359.5 899.4L360.3 900.1L361.1 900.8L361.9 901.5L362.7 902.1L363.5 902.8L364.3 903.4L365.1 904.0L365.9 904.6L366.7 905.2L367.5 905.7L368.3 906.2L369.1 906.7L369.9 907.2L370.7 907.6L371.5 908.0L372.3 908.3L373.1 908.6L373.9 908.9L374.7 909.1L375.5 909.3L376.3 909.4L377.1 909.5L377.9 909.6L378.7 909.6L379.5 909.6L380.3 909.5L381.1 909.4L381.9 909.2L382.7 909.1L383.5 908.8L384.3 908.5L385.1 908.2L385.9 907.9L386.7 907.5L387.5 907.1L388.3 906.6L389.1 906.1L389.9 905.6L390.7 905.1L391.5 904.5L392.3 903.9L393.1 903.2L393.9 902.6L394.7 901.9L395.4 901.2L396.2 900.5L397.0 899.8L397.8 899.1L398.6 898.4L399.4 897.6L400.2 896.9L401.0 896.1L401.8 895.4L402.6 894.6L403.4 893.9L404.2 893.2L405.0 892.5L405.8 891.8L406.6 891.1L407.4 890.4L408.2 889.8L409.0 889.1L409.8 888.5L410.6 888.0L411.4 887.4L412.2 886.9L413.0 886.4L413.8 886.0L414.6 885.6L415.4 885.2L416.2 884.9L417.0 884.6L417.8 884.4L418.6 884.2L419.4 884.0L420.2 883.9L421.0 883.8L421.8 883.8L422.6 883.8L423.4 883.9L424.2 884.1L425.0 884.2L425.8 884.5L426.6 884.7L427.4 885.1L428.2 885.5L429.0 885.9L429.8 886.4L430.6 886.9L431.4 887.5L432.2 888.1L433.0 888.8L433.8 889.5L434.6 890.2L435.4 891.0L436.2 891.9L437.0 892.8L437.8 893.7L438.6 894.6L439.3 895.6L440.1 896.6L440.9 897.7L441.7 898.8L442.5 899.9L443.3 901.0L444.1 902.2L444.9 903.3L445.7 904.5L446.5 905.7L447.3 907.0L448.1 908.2L448.9 909.4L449.7 910.7L450.5 911.9L451.3 913.1L452.1 914.4L452.9 915.6L453.7 916.9L454.5 918.1L455.3 919.3L456.1 920.5L456.9 921.6L457.7 922.8L458.5 923.9L459.3 925.0L460.1 926.1L460.9 927.1L461.7 928.2L462.5 929.1L463.3 930.1L464.1 931.0L464.9 931.9L465.7 932.7L466.5 933.5L467.3 934.2L468.1 934.9L468.9 935.5L469.7 936.1L470.5 936.7L471.3 937.2L472.1 937.6L472.9 938.0L473.7 938.4L474.5 938.7L475.3 938.9L476.1 939.1L476.9 939.2L477.7 939.3L478.5 939.3L479.3 939.2L480.1 939.1L480.9 939.0L481.7 938.8L482.5 938.5L483.2 938.2L484.0 937.8L484.8 937.4L485.6 937.0L486.4 936.4L487.2 935.9L488.0 935.3L488.8 934.6L489.6 934.0L490.4 933.2L491.2 932.5L492.0 931.7L492.8 930.8L493.6 929.9L494.4 929.0L495.2 928.1L496.0 927.1L496.8 926.1L497.6 925.1L498.4 924.1L499.2 923.1L500.0 922.0L500.8 920.9L501.6 919.8L502.4 918.7L503.2 917.6L504.0 916.5L504.8 915.4L505.6 914.3L506.4 913.2L507.2 912.1L508.0 911.0L508.8 909.9L509.6 908.8L510.4 907.8L511.2 906.8L512.0 905.7L512.8 904.7L513.6 903.8L514.4 902.8L515.2 901.9L516.0 901.0L516.8 900.1L517.6 899.3L518.4 898.5L519.2 897.7L520.0 897.0L520.8 896.3L521.6 895.7L522.4 895.1L523.2 894.5L524.0 894.0L524.8 893.5L525.6 893.0L526.4 892.6L527.1 892.3L527.9 892.0L528.7 891.7L529.5 891.5L530.3 891.3L531.1 891.1L531.9 891.0L532.7 891.0L533.5 891.0L534.3 891.0L535.1 891.1L535.9 891.2L536.7 891.4L537.5 891.6L538.3 891.8L539.1 892.1L539.9 892.4L540.7 892.7L541.5 893.1L542.3 893.5L543.1 894.0L543.9 894.4L544.7 894.9L545.5 895.5L546.3 896.0L547.1 896.6L547.9 897.2L548.7 897.8L549.5 898.4L550.3 899.0L551.1 899.7L551.9 900.4L552.7 901.0L553.5 901.7L554.3 902.4L555.1 903.1L555.9 903.8L556.7 904.4L557.5 905.1L558.3 905.8L559.1 906.5L559.9 907.1L560.7 907.8L561.5 908.4L562.3 909.0L563.1 909.7L563.9 910.2L564.7 910.8L565.5 911.4L566.3 911.9L567.1 912.4L567.9 912.9L568.7 913.3L569.5 913.8L570.3 914.2L571.0 914.5L571.8 914.9L572.6 915.2L573.4 915.5L574.2 915.7L575.0 915.9L575.8 916.1L576.6 916.3L577.4 916.4L578.2 916.5L579.0 916.5L579.8 916.5L580.6 916.5L581.4 916.4L582.2 916.3L583.0 916.2L583.8 916.1L584.6 915.9L585.4 915.6L586.2 915.4L587.0 915.1L587.8 914.8L588.6 914.5L589.4 914.1L590.2 913.7L591.0 913.3L591.8 912.8L592.6 912.4L593.4 911.9L594.2 911.4L595.0 910.9L595.8 910.3L596.6 909.8L597.4 909.2L598.2 908.6L599.0 908.1L599.8 907.5L600.6 906.9L601.4 906.3L602.2 905.7L603.0 905.1L603.8 904.4L604.6 903.8L605.4 903.2L606.2 902.6L607.0 902.1L607.8 901.5L608.6 900.9L609.4 900.4L610.2 899.8L611.0 899.3L611.8 898.8L612.6 898.3L613.4 897.9L614.2 897.4L614.9 897.0L615.7 896.6L616.5 896.3L617.3 895.9L618.1 895.6L618.9 895.3L619.7 895.1L620.5 894.9L621.3 894.7L622.1 894.5L622.9 894.4L623.7 894.3L624.5 894.3L625.3 894.2L626.1 894.3L626.9 894.3L627.7 894.4L628.5 894.5L629.3 894.7L630.1 894.9L630.9 895.1L631.7 895.4L632.5 895.7L633.3 896.0L634.1 896.4L634.9 896.8L635.7 897.2L636.5 897.7L637.3 898.2L638.1 898.7L638.9 899.2L639.7 899.8L640.5 900.4L641.3 901.0L642.1 901.6L642.9 902.3L643.7 903.0L644.5 903.7L645.3 904.4L646.1 905.2L646.9 905.9L647.7 906.7L648.5 907.4L649.3 908.2L650.1 909.0L650.9 909.8L651.7 910.6L652.5 911.4L653.3 912.2L654.1 913.0L654.9 913.7L655.7 914.5L656.5 915.3L657.3 916.1L658.1 916.8L658.8 917.6L659.6 918.3L660.4 919.0L661.2 919.7L662.0 920.3L662.8 921.0L663.6 921.6L664.4 922.2L665.2 922.8L666.0 923.4L666.8 923.9L667.6 924.4L668.4 924.8L669.2 925.3L670.0 925.7L670.8 926.0L671.6 926.4L672.4 926.7L673.2 926.9L674.0 927.1L674.8 927.3L675.6 927.5L676.4 927.6L677.2 927.7L678.0 927.7L678.8 927.7L679.6 927.7L680.4 927.6L681.2 927.5L682.0 927.3L682.8 927.2L683.6 926.9L684.4 926.7L685.2 926.4L686.0 926.1L686.8 925.7L687.6 925.3L688.4 924.9L689.2 924.4L690.0 923.9L690.8 923.4L691.6 922.9L692.4 922.3L693.2 921.7L694.0 921.1L694.8 920.5L695.6 919.8L696.4 919.1L697.2 918.4L698.0 917.7L698.8 917.0L699.6 916.2L700.4 915.5L701.2 914.7L702.0 914.0L702.7 913.2L703.5 912.4L704.3 911.6L705.1 910.9L705.9 910.1L706.7 909.3L707.5 908.6L708.3 907.8L709.1 907.0L709.9 906.3L710.7 905.6L711.5 904.8L712.3 904.1L713.1 903.4L713.9 902.8L714.7 902.1L715.5 901.5L716.3 900.9L717.1 900.3L717.9 899.7L718.7 899.2L719.5 898.7L720.3 898.2L721.1 897.7L721.9 897.3L722.7 896.9L723.5 896.5L724.3 896.2L725.1 895.9L725.9 895.6L726.7 895.4L727.5 895.2L728.3 895.0L729.1 894.9L729.9 894.8L730.7 894.7L731.5 894.7L732.3 894.7L733.1 894.7L733.9 894.8L734.7 894.9L735.5 895.0L736.3 895.2L737.1 895.3L737.9 895.6L738.7 895.8L739.5 896.1L740.3 896.4L741.1 896.7L741.9 897.1L742.7 897.4L743.5 897.9L744.3 898.3L745.1 898.7L745.9 899.2L746.6 899.7L747.4 900.2L748.2 900.7L749.0 901.2L749.8 901.7L750.6 902.3L751.4 902.9L752.2 903.4L753.0 904.0L753.8 904.6L754.6 905.1L755.4 905.7L756.2 906.3L757.0 906.9L757.8 907.5L758.6 908.0L759.4 908.6L760.2 909.2L761.0 909.7L761.8 910.2L762.6 910.8L763.4 911.3L764.2 911.8L765.0 912.3L765.8 912.7L766.6 913.2L767.4 913.6L768.2 914.0L769.0 914.4L769.8 914.7L770.6 915.1L771.4 915.4L772.2 915.7L773.0 915.9L773.8 916.2L774.6 916.4L775.4 916.6L776.2 916.7L777.0 916.9L777.8 917.0L778.6 917.0L779.4 917.1L780.2 917.1L781.0 917.1L781.8 917.0L782.6 916.9L783.4 916.8L784.2 916.7L785.0 916.6L785.8 916.4L786.6 916.2L787.4 915.9L788.2 915.7L789.0 915.4L789.7 915.1L790.5 914.8L791.3 914.4L792.1 914.0L792.9 913.6L793.7 913.2L794.5 912.8L795.3 912.4L796.1 911.9L796.9 911.4L797.7 911.0L798.5 910.5L799.3 910.0L800.1 909.5L800.9 909.0L801.7 908.4L802.5 907.9L803.3 907.4L804.1 906.9L804.9 906.3L805.7 905.8L806.5 905.3L807.3 904.8L808.1 904.3L808.9 903.8L809.7 903.3L810.5 902.8L811.3 902.3L812.1 901.9L812.9 901.4L813.7 901.0L814.5 900.6L815.3 900.2L816.1 899.9L816.9 899.5L817.7 899.2L818.5 898.9L819.3 898.6L820.1 898.3L820.9 898.1L821.7 897.9L822.5 897.7L823.3 897.6L824.1 897.5L824.9 897.4L825.7 897.3L826.5 897.2L827.3 897.2L828.1 897.3L828.9 897.3L829.7 897.4L830.5 897.5L831.3 897.6L832.1 897.8L832.9 898.0L833.6 898.2L834.4 898.4L835.2 898.7L836.0 899.0L836.8 899.3L837.6 899.7L838.4 900.1L839.2 900.5L840.0 900.9L840.8 901.3L841.6 901.8L842.4 902.3L843.2 902.8L844.0 903.3L844.8 903.8L845.6 904.4L846.4 904.9L847.2 905.5L848.0 906.1L848.8 906.7L849.6 907.3L850.4 907.9L851.2 908.5L852.0 909.2L852.8 909.8L853.6 910.4L854.4 911.0L855.2 911.7L856.0 912.3L856.8 912.9L857.6 913.5L858.4 914.1L859.2 914.7L860.0 915.3L860.8 915.8L861.6 916.4L862.4 916.9L863.2 917.5L864.0 918.0L864.8 918.5L865.6 918.9L866.4 919.4L867.2 919.8L868.0 920.2L868.8 920.6L869.6 921.0L870.4 921.3L871.2 921.6L872.0 921.9L872.8 922.2L873.6 922.4L874.4 922.6L875.2 922.7L876.0 922.9L876.8 923.0L877.5 923.1L878.3 923.1L879.1 923.1L879.9 923.1L880.7 923.1L881.5 923.0L882.3 922.9L883.1 922.8L883.9 922.6L884.7 922.4L885.5 922.2L886.3 921.9L887.1 921.6L887.9 921.3L888.7 921.0L889.5 920.7L890.3 920.3L891.1 919.9L891.9 919.4L892.7 919.0L893.5 918.5L894.3 918.0L895.1 917.5L895.9 917.0L896.7 916.5L897.5 915.9L898.3 915.3L899.1 914.8L899.9 914.2L900.7 913.6L901.5 913.0L902.3 912.3L903.1 911.7L903.9 911.1L904.7 910.5L905.5 909.8L906.3 909.2L907.1 908.6L907.9 908.0L908.7 907.4L909.5 906.8L910.3 906.2L911.1 905.6L911.9 905.0L912.7 904.4L913.5 903.9L914.3 903.3L915.1 902.8L915.9 902.3L916.7 901.8L917.5 901.3L918.3 900.9L919.1 900.4L919.9 900.0L920.7 899.6L921.4 899.3L922.2 898.9L923.0 898.6L923.8 898.3L924.6 898.1L925.4 897.8L926.2 897.6L927.0 897.4L927.8 897.3L928.6 897.1L929.4 897.0L930.2 897.0L931.0 896.9L931.8 896.9L932.6 896.9L933.4 897.0L934.2 897.0L935.0 897.1L935.8 897.2L936.6 897.4L937.4 897.6L938.2 897.8L939.0 898.0L939.8 898.2L940.6 898.5L941.4 898.8L942.2 899.1L943.0 899.4L943.8 899.8L944.6 900.2L945.4 900.6L946.2 901.0L947.0 901.4L947.8 901.8L948.6 902.3L949.4 902.7L950.2 903.2L951.0 903.7L951.8 904.2L952.6 904.7L953.4 905.2L954.2 905.7L955.0 906.2L955.8 906.7L956.6 907.2L957.4 907.7L958.2 908.2L959.0 908.7L959.8 909.2L960.6 909.7L961.4 910.2L962.2 910.7L963.0 911.1L963.8 911.6L964.6 912.0L965.3 912.4L966.1 912.8L966.9 913.2L967.7 913.6L968.5 914.0L969.3 914.3L970.1 914.6L970.9 914.9L971.7 915.2L972.5 915.5L973.3 915.7L974.1 915.9L974.9 916.1L975.7 916.3L976.5 916.4L977.3 916.5L978.1 916.6L978.9 916.7L979.7 916.7L980.5 916.8L981.3 916.8L982.1 916.7L982.9 916.7L983.7 916.6L984.5 916.5L985.3 916.3L986.1 916.2L986.9 916.0L987.7 915.8L988.5 915.6L989.3 915.4L990.1 915.1L990.9 914.8L991.7 914.5L992.5 914.2L993.3 913.9L994.1 913.5L994.9 913.1L995.7 912.7L996.5 912.3L997.3 911.9L998.1 911.5L998.9 911.1L999.7 910.6L1000.5 910.2L1001.3 909.7L1002.1 909.3L1002.9 908.8L1003.7 908.3L1004.5 907.9L1005.3 907.4L1006.1 906.9L1006.9 906.5L1007.7 906.0L1008.5 905.6L1009.2 905.1L1010.0 904.7L1010.8 904.2L1011.6 903.8L1012.4 903.4L1013.2 903.0L1014.0 902.6L1014.8 902.2L1015.6 901.9L1016.4 901.5L1017.2 901.2L1018.0 900.9L1018.8 900.6L1019.6 900.3L1020.4 900.1L1021.2 899.8L1022.0 899.6L1022.8 899.4L1023.6 899.3L1024.4 899.1L1025.2 899.0L1026.0 898.9L1026.8 898.9L1027.6 898.8L1028.4 898.8L1029.2 898.8L1030.0 898.8L1030.8 898.9L1031.6 899.0L1032.4 899.1L1033.2 899.2L1034.0 899.4L1034.8 899.6L1035.6 899.8L1036.4 900.0L1037.2 900.2L1038.0 900.5L1038.8 900.8L1039.6 901.1L1040.4 901.5L1041.2 901.8L1042.0 902.2L1042.8 902.6L1043.6 903.0L1044.4 903.4L1045.2 903.9L1046.0 904.3L1046.8 904.8L1047.6 905.3L1048.4 905.8L1049.2 906.3L1050.0 906.8L1050.8 907.3L1051.6 907.8L1052.4 908.4L1053.1 908.9L1053.9 909.4L1054.7 910.0L1055.5 910.5L1056.3 911.0L1057.1 911.5L1057.9 912.1L1058.7 912.6L1059.5 913.1L1060.3 913.6L1061.1 914.1L1061.9 914.6L1062.7 915.1L1063.5 915.5L1064.3 916.0L1065.1 916.4L1065.9 916.8L1066.7 917.2L1067.5 917.6L1068.3 917.9L1069.1 918.3L1069.9 918.6L1070.7 918.9L1071.5 919.2L1072.3 919.4L1073.1 919.7L1073.9 919.9L1074.7 920.1L1075.5 920.2L1076.3 920.4L1077.1 920.5L1077.9 920.5L1078.7 920.6L1079.5 920.6L1080.3 920.6L1081.1 920.6L1081.9 920.6L1082.7 920.5L1083.5 920.4L1084.3 920.3L1085.1 920.1L1085.9 919.9L1086.7 919.7L1087.5 919.5L1088.3 919.3L1089.1 919.0L1089.9 918.7L1090.7 918.4L1091.5 918.1L1092.3 917.7L1093.1 917.3L1093.9 916.9L1094.7 916.5L1095.5 916.1L1096.3 915.7L1097.0 915.2L1097.8 914.7L1098.6 914.3L1099.4 913.8L1100.2 913.3L1101.0 912.8L1101.8 912.2L1102.6 911.7L1103.4 911.2L1104.2 910.6L1105.0 910.1L1105.8 909.6L1106.6 909.0L1107.4 908.5L1108.2 908.0L1109.0 907.4L1109.8 906.9L1110.6 906.4L1111.4 905.9L1112.2 905.4L1113.0 904.9L1113.8 904.4L1114.6 903.9L1115.4 903.5L1116.2 903.1L1117.0 902.6L1117.8 902.2L1118.6 901.8L1119.4 901.4L1120.2 901.1L1121.0 900.7L1121.8 900.4L1122.6 900.1L1123.4 899.9L1124.2 899.6L1125.0 899.4L1125.8 899.2L1126.6 899.0L1127.4 898.8L1128.2 898.7L1129.0 898.6L1129.8 898.5L1130.6 898.4L1131.4 898.4L1132.2 898.4L1133.0 898.4L1133.8 898.4L1134.6 898.5L1135.4 898.6L1136.2 898.7L1137.0 898.8L1137.8 899.0L1138.6 899.1L1139.4 899.3L1140.2 899.5L1140.9 899.8L1141.7 900.0L1142.5 900.3L1143.3 900.6L1144.1 900.9L1144.9 901.3L1145.7 901.6L1146.5 902.0L1147.3 902.3L1148.1 902.7L1148.9 903.1L1149.7 903.5L1150.5 904.0L1151.3 904.4L1152.1 904.8L1152.9 905.3L1153.7 905.7L1154.5 906.2L1155.3 906.6L1156.1 907.1L1156.9 907.5L1157.7 908.0L1158.5 908.5L1159.3 908.9L1160.1 909.3L1160.9 909.8L1161.7 910.2L1162.5 910.7L1163.3 911.1L1164.1 911.5L1164.9 911.9L1165.7 912.3L1166.5 912.6L1167.3 913.0L1168.1 913.3L1168.9 913.7L1169.7 914.0L1170.5 914.3L1171.3 914.6L1172.1 914.8L1172.9 915.1L1173.7 915.3L1174.5 915.5L1175.3 915.7L1176.1 915.8L1176.9 916.0L1177.7 916.1L1178.5 916.2L1179.3 916.2L1180.1 916.3L1180.9 916.3L1181.7 916.3L1182.5 916.3L1183.3 916.3L1184.1 916.2L1184.8 916.1L1185.6 916.0L1186.4 915.9L1187.2 915.7L1188.0 915.6L1188.8 915.4L1189.6 915.2L1190.4 914.9L1191.2 914.7L1192.0 914.4L1192.8 914.1L1193.6 913.8L1194.4 913.5L1195.2 913.2L1196.0 912.8L1196.8 912.5" stroke="#EB6235" stroke-width="6.0"/>
<path d="M239.0 737.8L243.8 750.4L244.6 754.4L245.4 758.7L246.2 763.3L247.0 768.1L247.8 772.9L248.6 777.9L249.4 782.8L250.2 787.8L251.0 792.7L251.8 797.6L252.6 802.4L253.4 807.1L254.2 811.8L255.0 816.4L255.8 820.8L256.6 825.2L257.4 829.5L258.2 833.7L259.0 837.8L259.8 841.8L260.6 845.6L261.4 849.4L262.2 853.0L263.0 856.5L263.7 859.9L264.5 863.2L265.3 866.4L266.1 869.4L266.9 872.3L267.7 875.1L268.5 877.8L269.3 880.3L270.1 882.7L270.9 884.9L271.7 887.1L272.5 889.1L273.3 891.0L274.1 892.7L274.9 894.3L275.7 895.8L276.5 897.2L277.3 898.4L278.1 899.6L278.9 900.6L279.7 901.4L280.5 902.2L281.3 902.8L282.1 903.4L282.9 903.8L283.7 904.1L284.5 904.3L285.3 904.4L286.1 904.3L286.9 904.2L287.7 904.0L288.5 903.7L289.3 903.3L290.1 902.8L290.9 902.3L291.7 901.6L292.5 900.9L293.3 900.1L294.1 899.3L294.9 898.3L295.7 897.3L296.5 896.3L297.3 895.2L298.1 894.0L298.9 892.8L299.7 891.6L300.5 890.3L301.3 888.9L302.1 887.6L302.9 886.2L303.7 884.8L304.5 883.4L305.3 881.9L306.1 880.4L306.9 879.0L307.6 877.5L308.4 876.0L309.2 874.5L310.0 873.0L310.8 871.6L311.6 870.1L312.4 868.6L313.2 867.2L314.0 865.8L314.8 864.4L315.6 863.0L316.4 861.7L317.2 860.3L318.0 859.0L318.8 857.8L319.6 856.6L320.4 855.4L321.2 854.2L322.0 853.1L322.8 852.0L323.6 851.0L324.4 850.0L325.2 849.1L326.0 848.2L326.8 847.3L327.6 846.5L328.4 845.7L329.2 845.0L330.0 844.4L330.8 843.7L331.6 843.2L332.4 842.7L333.2 842.2L334.0 841.8L334.8 841.4L335.6 841.1L336.4 840.8L337.2 840.5L338.0 840.3L338.8 840.2L339.6 840.1L340.4 840.0L341.2 840.0L342.0 840.0L342.8 840.0L343.6 840.1L344.4 840.2L345.2 840.4L346.0 840.6L346.8 840.8L347.6 841.0L348.4 841.3L349.2 841.6L350.0 841.9L350.8 842.2L351.5 842.5L352.3 842.9L353.1 843.3L353.9 843.7L354.7 844.1L355.5 844.5L356.3 844.9L357.1 845.3L357.9 845.7L358.7 846.2L359.5 846.6L360.3 847.0L361.1 847.4L361.9 847.8L362.7 848.2L363.5 848.6L364.3 849.0L365.1 849.4L365.9 849.8L366.7 850.1L367.5 850.4L368.3 850.7L369.1 851.0L369.9 851.3L370.7 851.6L371.5 851.8L372.3 852.0L373.1 852.2L373.9 852.3L374.7 852.5L375.5 852.6L376.3 852.7L377.1 852.8L377.9 852.8L378.7 852.8L379.5 852.8L380.3 852.8L381.1 852.7L381.9 852.6L382.7 852.5L383.5 852.4L384.3 852.2L385.1 852.0L385.9 851.8L386.7 851.6L387.5 851.3L388.3 851.0L389.1 850.8L389.9 850.4L390.7 850.1L391.5 849.8L392.3 849.4L393.1 849.0L393.9 848.7L394.7 848.3L395.4 847.8L396.2 847.4L397.0 847.0L397.8 846.6L398.6 846.1L399.4 845.7L400.2 845.2L401.0 844.8L401.8 844.4L402.6 843.9L403.4 843.5L404.2 843.0L405.0 842.6L405.8 842.2L406.6 841.8L407.4 841.4L408.2 841.0L409.0 840.6L409.8 840.3L410.6 839.9L411.4 839.6L412.2 839.3L413.0 839.0L413.8 838.7L414.6 838.5L415.4 838.3L416.2 838.1L417.0 837.9L417.8 837.8L418.6 837.7L419.4 837.6L420.2 837.5L421.0 837.5L421.8 837.4L422.6 837.5L423.4 837.5L424.2 837.6L425.0 837.7L425.8 837.9L426.6 838.0L427.4 838.2L428.2 838.5L429.0 838.7L429.8 839.0L430.6 839.3L431.4 839.7L432.2 840.0L433.0 840.4L433.8 840.9L434.6 841.3L435.4 841.8L436.2 842.3L437.0 842.8L437.8 843.4L438.6 844.0L439.3 844.6L440.1 845.2L440.9 845.8L441.7 846.4L442.5 847.1L443.3 847.8L444.1 848.5L444.9 849.2L445.7 849.9L446.5 850.6L447.3 851.3L448.1 852.1L448.9 852.8L449.7 853.6L450.5 854.3L451.3 855.1L452.1 855.8L452.9 856.5L453.7 857.3L454.5 858.0L455.3 858.7L456.1 859.4L456.9 860.1L457.7 860.8L458.5 861.5L459.3 862.2L460.1 862.8L460.9 863.4L461.7 864.0L462.5 864.6L463.3 865.2L464.1 865.7L464.9 866.3L465.7 866.8L466.5 867.2L467.3 867.7L468.1 868.1L468.9 868.5L469.7 868.8L470.5 869.2L471.3 869.4L472.1 869.7L472.9 869.9L473.7 870.1L474.5 870.3L475.3 870.5L476.1 870.6L476.9 870.6L477.7 870.7L478.5 870.7L479.3 870.6L480.1 870.6L480.9 870.5L481.7 870.4L482.5 870.2L483.2 870.0L484.0 869.8L484.8 869.6L485.6 869.3L486.4 869.0L487.2 868.6L488.0 868.3L488.8 867.9L489.6 867.5L490.4 867.0L491.2 866.6L492.0 866.1L492.8 865.6L493.6 865.0L494.4 864.5L495.2 863.9L496.0 863.4L496.8 862.8L497.6 862.2L498.4 861.5L499.2 860.9L500.0 860.3L500.8 859.6L501.6 859.0L502.4 858.3L503.2 857.6L504.0 857.0L504.8 856.3L505.6 855.6L506.4 855.0L507.2 854.3L508.0 853.7L508.8 853.0L509.6 852.4L510.4 851.7L511.2 851.1L512.0 850.5L512.8 849.9L513.6 849.3L514.4 848.8L515.2 848.2L516.0 847.7L516.8 847.1L517.6 846.6L518.4 846.2L519.2 845.7L520.0 845.3L520.8 844.9L521.6 844.5L522.4 844.1L523.2 843.8L524.0 843.4L524.8 843.2L525.6 842.9L526.4 842.6L527.1 842.4L527.9 842.2L528.7 842.1L529.5 841.9L530.3 841.8L531.1 841.8L531.9 841.7L532.7 841.7L533.5 841.7L534.3 841.7L535.1 841.7L535.9 841.8L536.7 841.9L537.5 842.0L538.3 842.2L539.1 842.3L539.9 842.5L540.7 842.7L541.5 843.0L542.3 843.2L543.1 843.5L543.9 843.7L544.7 844.0L545.5 844.4L546.3 844.7L547.1 845.0L547.9 845.4L548.7 845.8L549.5 846.1L550.3 846.5L551.1 846.9L551.9 847.3L552.7 847.7L553.5 848.1L554.3 848.5L555.1 848.9L555.9 849.3L556.7 849.8L557.5 850.2L558.3 850.6L559.1 851.0L559.9 851.4L560.7 851.8L561.5 852.1L562.3 852.5L563.1 852.9L563.9 853.2L564.7 853.6L565.5 853.9L566.3 854.2L567.1 854.5L567.9 854.8L568.7 855.1L569.5 855.4L570.3 855.6L571.0 855.8L571.8 856.0L572.6 856.2L573.4 856.4L574.2 856.5L575.0 856.7L575.8 856.8L576.6 856.9L577.4 856.9L578.2 857.0L579.0 857.0L579.8 857.0L580.6 857.0L581.4 857.0L582.2 856.9L583.0 856.8L583.8 856.7L584.6 856.6L585.4 856.5L586.2 856.3L587.0 856.2L587.8 856.0L588.6 855.8L589.4 855.6L590.2 855.3L591.0 855.1L591.8 854.8L592.6 854.5L593.4 854.2L594.2 853.9L595.0 853.6L595.8 853.3L596.6 853.0L597.4 852.6L598.2 852.3L599.0 851.9L599.8 851.6L600.6 851.2L601.4 850.9L602.2 850.5L603.0 850.1L603.8 849.8L604.6 849.4L605.4 849.1L606.2 848.7L607.0 848.3L607.8 848.0L608.6 847.7L609.4 847.3L610.2 847.0L611.0 846.7L611.8 846.4L612.6 846.1L613.4 845.8L614.2 845.6L614.9 845.3L615.7 845.1L616.5 844.9L617.3 844.7L618.1 844.5L618.9 844.3L619.7 844.2L620.5 844.0L621.3 843.9L622.1 843.8L622.9 843.8L623.7 843.7L624.5 843.7L625.3 843.7L626.1 843.7L626.9 843.7L627.7 843.8L628.5 843.8L629.3 843.9L630.1 844.1L630.9 844.2L631.7 844.3L632.5 844.5L633.3 844.7L634.1 844.9L634.9 845.2L635.7 845.4L636.5 845.7L637.3 846.0L638.1 846.3L638.9 846.6L639.7 847.0L640.5 847.4L641.3 847.7L642.1 848.1L642.9 848.5L643.7 848.9L644.5 849.3L645.3 849.8L646.1 850.2L646.9 850.7L647.7 851.1L648.5 851.6L649.3 852.0L650.1 852.5L650.9 853.0L651.7 853.5L652.5 853.9L653.3 854.4L654.1 854.9L654.9 855.4L655.7 855.8L656.5 856.3L657.3 856.8L658.1 857.2L658.8 857.7L659.6 858.1L660.4 858.5L661.2 858.9L662.0 859.3L662.8 859.7L663.6 860.1L664.4 860.4L665.2 860.8L666.0 861.1L666.8 861.4L667.6 861.7L668.4 862.0L669.2 862.3L670.0 862.5L670.8 862.7L671.6 862.9L672.4 863.1L673.2 863.3L674.0 863.4L674.8 863.5L675.6 863.6L676.4 863.7L677.2 863.7L678.0 863.7L678.8 863.7L679.6 863.7L680.4 863.7L681.2 863.6L682.0 863.5L682.8 863.4L683.6 863.3L684.4 863.1L685.2 862.9L686.0 862.7L686.8 862.5L687.6 862.3L688.4 862.0L689.2 861.7L690.0 861.5L690.8 861.1L691.6 860.8L692.4 860.5L693.2 860.1L694.0 859.8L694.8 859.4L695.6 859.0L696.4 858.6L697.2 858.1L698.0 857.7L698.8 857.3L699.6 856.8L700.4 856.4L701.2 855.9L702.0 855.5L702.7 855.0L703.5 854.5L704.3 854.1L705.1 853.6L705.9 853.1L706.7 852.7L707.5 852.2L708.3 851.8L709.1 851.3L709.9 850.9L710.7 850.4L711.5 850.0L712.3 849.6L713.1 849.2L713.9 848.8L714.7 848.4L715.5 848.0L716.3 847.6L717.1 847.3L717.9 846.9L718.7 846.6L719.5 846.3L720.3 846.0L721.1 845.7L721.9 845.5L722.7 845.2L723.5 845.0L724.3 844.8L725.1 844.6L725.9 844.5L726.7 844.3L727.5 844.2L728.3 844.1L729.1 844.0L729.9 844.0L730.7 843.9L731.5 843.9L732.3 843.9L733.1 843.9L733.9 844.0L734.7 844.0L735.5 844.1L736.3 844.2L737.1 844.3L737.9 844.4L738.7 844.6L739.5 844.7L740.3 844.9L741.1 845.1L741.9 845.3L742.7 845.6L743.5 845.8L744.3 846.1L745.1 846.3L745.9 846.6L746.6 846.9L747.4 847.2L748.2 847.5L749.0 847.8L749.8 848.1L750.6 848.5L751.4 848.8L752.2 849.2L753.0 849.5L753.8 849.8L754.6 850.2L755.4 850.5L756.2 850.9L757.0 851.2L757.8 851.6L758.6 851.9L759.4 852.3L760.2 852.6L761.0 852.9L761.8 853.3L762.6 853.6L763.4 853.9L764.2 854.2L765.0 854.5L765.8 854.7L766.6 855.0L767.4 855.3L768.2 855.5L769.0 855.7L769.8 856.0L770.6 856.2L771.4 856.3L772.2 856.5L773.0 856.7L773.8 856.8L774.6 856.9L775.4 857.0L776.2 857.1L777.0 857.2L777.8 857.3L778.6 857.3L779.4 857.3L780.2 857.3L781.0 857.3L781.8 857.3L782.6 857.3L783.4 857.2L784.2 857.1L785.0 857.0L785.8 856.9L786.6 856.8L787.4 856.7L788.2 856.5L789.0 856.3L789.7 856.2L790.5 856.0L791.3 855.7L792.1 855.5L792.9 855.3L793.7 855.0L794.5 854.8L795.3 854.5L796.1 854.3L796.9 854.0L797.7 853.7L798.5 853.4L799.3 853.1L800.1 852.8L800.9 852.5L801.7 852.2L802.5 851.8L803.3 851.5L804.1 851.2L804.9 850.9L805.7 850.6L806.5 850.3L807.3 850.0L808.1 849.7L808.9 849.4L809.7 849.1L810.5 848.8L811.3 848.5L812.1 848.2L812.9 848.0L813.7 847.7L814.5 847.5L815.3 847.2L816.1 847.0L816.9 846.8L817.7 846.6L818.5 846.4L819.3 846.3L820.1 846.1L820.9 846.0L821.7 845.9L822.5 845.7L823.3 845.7L824.1 845.6L824.9 845.5L825.7 845.5L826.5 845.5L827.3 845.5L828.1 845.5L828.9 845.5L829.7 845.5L830.5 845.6L831.3 845.7L832.1 845.8L832.9 845.9L833.6 846.0L834.4 846.2L835.2 846.3L836.0 846.5L836.8 846.7L837.6 846.9L838.4 847.1L839.2 847.4L840.0 847.6L840.8 847.9L841.6 848.2L842.4 848.5L843.2 848.8L844.0 849.1L844.8 849.4L845.6 849.7L846.4 850.1L847.2 850.4L848.0 850.8L848.8 851.1L849.6 851.5L850.4 851.9L851.2 852.2L852.0 852.6L852.8 853.0L853.6 853.4L854.4 853.7L855.2 854.1L856.0 854.5L856.8 854.8L857.6 855.2L858.4 855.6L859.2 855.9L860.0 856.3L860.8 856.6L861.6 857.0L862.4 857.3L863.2 857.6L864.0 857.9L864.8 858.2L865.6 858.5L866.4 858.7L867.2 859.0L868.0 859.2L868.8 859.5L869.6 859.7L870.4 859.9L871.2 860.1L872.0 860.2L872.8 860.4L873.6 860.5L874.4 860.6L875.2 860.7L876.0 860.8L876.8 860.9L877.5 860.9L878.3 861.0L879.1 861.0L879.9 861.0L880.7 860.9L881.5 860.9L882.3 860.8L883.1 860.8L883.9 860.7L884.7 860.5L885.5 860.4L886.3 860.3L887.1 860.1L887.9 859.9L888.7 859.7L889.5 859.5L890.3 859.3L891.1 859.0L891.9 858.8L892.7 858.5L893.5 858.2L894.3 857.9L895.1 857.6L895.9 857.3L896.7 857.0L897.5 856.6L898.3 856.3L899.1 855.9L899.9 855.6L900.7 855.2L901.5 854.9L902.3 854.5L903.1 854.1L903.9 853.8L904.7 853.4L905.5 853.0L906.3 852.6L907.1 852.3L907.9 851.9L908.7 851.5L909.5 851.1L910.3 850.8L911.1 850.4L911.9 850.1L912.7 849.7L913.5 849.4L914.3 849.1L915.1 848.8L915.9 848.5L916.7 848.2L917.5 847.9L918.3 847.6L919.1 847.4L919.9 847.1L920.7 846.9L921.4 846.7L922.2 846.5L923.0 846.3L923.8 846.1L924.6 845.9L925.4 845.8L926.2 845.7L927.0 845.6L927.8 845.5L928.6 845.4L929.4 845.3L930.2 845.3L931.0 845.3L931.8 845.2L932.6 845.2L933.4 845.3L934.2 845.3L935.0 845.4L935.8 845.4L936.6 845.5L937.4 845.6L938.2 845.8L939.0 845.9L939.8 846.0L940.6 846.2L941.4 846.4L942.2 846.6L943.0 846.8L943.8 847.0L944.6 847.2L945.4 847.4L946.2 847.7L947.0 847.9L947.8 848.2L948.6 848.5L949.4 848.7L950.2 849.0L951.0 849.3L951.8 849.6L952.6 849.9L953.4 850.2L954.2 850.5L955.0 850.8L955.8 851.1L956.6 851.4L957.4 851.7L958.2 852.0L959.0 852.3L959.8 852.6L960.6 852.9L961.4 853.2L962.2 853.5L963.0 853.8L963.8 854.0L964.6 854.3L965.3 854.6L966.1 854.8L966.9 855.0L967.7 855.3L968.5 855.5L969.3 855.7L970.1 855.9L970.9 856.1L971.7 856.2L972.5 856.4L973.3 856.5L974.1 856.7L974.9 856.8L975.7 856.9L976.5 857.0L977.3 857.0L978.1 857.1L978.9 857.1L979.7 857.1L980.5 857.2L981.3 857.2L982.1 857.1L982.9 857.1L983.7 857.1L984.5 857.0L985.3 856.9L986.1 856.8L986.9 856.7L987.7 856.6L988.5 856.5L989.3 856.3L990.1 856.2L990.9 856.0L991.7 855.8L992.5 855.6L993.3 855.4L994.1 855.2L994.9 855.0L995.7 854.7L996.5 854.5L997.3 854.3L998.1 854.0L998.9 853.8L999.7 853.5L1000.5 853.2L1001.3 852.9L1002.1 852.7L1002.9 852.4L1003.7 852.1L1004.5 851.8L1005.3 851.5L1006.1 851.3L1006.9 851.0L1007.7 850.7L1008.5 850.4L1009.2 850.2L1010.0 849.9L1010.8 849.6L1011.6 849.4L1012.4 849.1L1013.2 848.9L1014.0 848.7L1014.8 848.4L1015.6 848.2L1016.4 848.0L1017.2 847.8L1018.0 847.6L1018.8 847.5L1019.6 847.3L1020.4 847.1L1021.2 847.0L1022.0 846.9L1022.8 846.8L1023.6 846.7L1024.4 846.6L1025.2 846.5L1026.0 846.5L1026.8 846.4L1027.6 846.4L1028.4 846.4L1029.2 846.4L1030.0 846.4L1030.8 846.4L1031.6 846.5L1032.4 846.6L1033.2 846.6L1034.0 846.7L1034.8 846.8L1035.6 847.0L1036.4 847.1L1037.2 847.3L1038.0 847.4L1038.8 847.6L1039.6 847.8L1040.4 848.0L1041.2 848.2L1042.0 848.4L1042.8 848.7L1043.6 848.9L1044.4 849.2L1045.2 849.4L1046.0 849.7L1046.8 850.0L1047.6 850.3L1048.4 850.6L1049.2 850.9L1050.0 851.2L1050.8 851.5L1051.6 851.8L1052.4 852.1L1053.1 852.4L1053.9 852.8L1054.7 853.1L1055.5 853.4L1056.3 853.7L1057.1 854.0L1057.9 854.3L1058.7 854.7L1059.5 855.0L1060.3 855.3L1061.1 855.6L1061.9 855.9L1062.7 856.1L1063.5 856.4L1064.3 856.7L1065.1 856.9L1065.9 857.2L1066.7 857.4L1067.5 857.7L1068.3 857.9L1069.1 858.1L1069.9 858.3L1070.7 858.4L1071.5 858.6L1072.3 858.8L1073.1 858.9L1073.9 859.0L1074.7 859.1L1075.5 859.2L1076.3 859.3L1077.1 859.4L1077.9 859.4L1078.7 859.5L1079.5 859.5L1080.3 859.5L1081.1 859.5L1081.9 859.4L1082.7 859.4L1083.5 859.3L1084.3 859.3L1085.1 859.2L1085.9 859.1L1086.7 858.9L1087.5 858.8L1088.3 858.7L1089.1 858.5L1089.9 858.3L1090.7 858.1L1091.5 857.9L1092.3 857.7L1093.1 857.5L1093.9 857.3L1094.7 857.0L1095.5 856.8L1096.3 856.5L1097.0 856.2L1097.8 855.9L1098.6 855.7L1099.4 855.4L1100.2 855.1L1101.0 854.7L1101.8 854.4L1102.6 854.1L1103.4 853.8L1104.2 853.5L1105.0 853.2L1105.8 852.8L1106.6 852.5L1107.4 852.2L1108.2 851.9L1109.0 851.6L1109.8 851.2L1110.6 850.9L1111.4 850.6L1112.2 850.3L1113.0 850.0L1113.8 849.7L1114.6 849.5L1115.4 849.2L1116.2 848.9L1117.0 848.7L1117.8 848.4L1118.6 848.2L1119.4 848.0L1120.2 847.8L1121.0 847.5L1121.8 847.4L1122.6 847.2L1123.4 847.0L1124.2 846.9L1125.0 846.7L1125.8 846.6L1126.6 846.5L1127.4 846.4L1128.2 846.3L1129.0 846.2L1129.8 846.2L1130.6 846.2L1131.4 846.1L1132.2 846.1L1133.0 846.1L1133.8 846.2L1134.6 846.2L1135.4 846.2L1136.2 846.3L1137.0 846.4L1137.8 846.5L1138.6 846.6L1139.4 846.7L1140.2 846.8L1140.9 847.0L1141.7 847.1L1142.5 847.3L1143.3 847.5L1144.1 847.7L1144.9 847.9L1145.7 848.1L1146.5 848.3L1147.3 848.5L1148.1 848.7L1148.9 849.0L1149.7 849.2L1150.5 849.5L1151.3 849.7L1152.1 850.0L1152.9 850.3L1153.7 850.5L1154.5 850.8L1155.3 851.1L1156.1 851.4L1156.9 851.6L1157.7 851.9L1158.5 852.2L1159.3 852.4L1160.1 852.7L1160.9 853.0L1161.7 853.2L1162.5 853.5L1163.3 853.7L1164.1 854.0L1164.9 854.2L1165.7 854.5L1166.5 854.7L1167.3 854.9L1168.1 855.1L1168.9 855.3L1169.7 855.5L1170.5 855.7L1171.3 855.8L1172.1 856.0L1172.9 856.1L1173.7 856.3L1174.5 856.4L1175.3 856.5L1176.1 856.6L1176.9 856.7L1177.7 856.7L1178.5 856.8L1179.3 856.8L1180.1 856.9L1180.9 856.9L1181.7 856.9L1182.5 856.9L1183.3 856.9L1184.1 856.8L1184.8 856.8L1185.6 856.7L1186.4 856.6L1187.2 856.5L1188.0 856.4L1188.8 856.3L1189.6 856.2L1190.4 856.1L1191.2 855.9L1192.0 855.7L1192.8 855.6L1193.6 855.4L1194.4 855.2L1195.2 855.0L1196.0 854.8L1196.8 854.6" stroke="#8778B3" stroke-width="6.0"/>
<path d="M239.0 737.8L243.8 748.0L244.6 750.6L245.4 753.3L246.2 755.9L247.0 758.5L247.8 761.1L248.6 763.7L249.4 766.2L250.2 768.7L251.0 771.2L251.8 773.6L252.6 776.0L253.4 778.4L254.2 780.7L255.0 783.0L255.8 785.2L256.6 787.4L257.4 789.5L258.2 791.6L259.0 793.6L259.8 795.6L260.6 797.5L261.4 799.3L262.2 801.1L263.0 802.9L263.7 804.6L264.5 806.2L265.3 807.7L266.1 809.2L266.9 810.7L267.7 812.1L268.5 813.4L269.3 814.6L270.1 815.8L270.9 816.9L271.7 818.0L272.5 819.0L273.3 819.9L274.1 820.7L274.9 821.5L275.7 822.3L276.5 822.9L277.3 823.5L278.1 824.1L278.9 824.6L279.7 825.0L280.5 825.4L281.3 825.7L282.1 825.9L282.9 826.1L283.7 826.3L284.5 826.4L285.3 826.4L286.1 826.4L286.9 826.3L287.7 826.2L288.5 826.0L289.3 825.8L290.1 825.6L290.9 825.3L291.7 825.0L292.5 824.6L293.3 824.2L294.1 823.7L294.9 823.3L295.7 822.8L296.5 822.2L297.3 821.7L298.1 821.1L298.9 820.5L299.7 819.8L300.5 819.2L301.3 818.5L302.1 817.8L302.9 817.2L303.7 816.4L304.5 815.7L305.3 815.0L306.1 814.3L306.9 813.5L307.6 812.8L308.4 812.0L309.2 811.3L310.0 810.5L310.8 809.8L311.6 809.1L312.4 808.3L313.2 807.6L314.0 806.9L314.8 806.2L315.6 805.5L316.4 804.8L317.2 804.2L318.0 803.5L318.8 802.9L319.6 802.3L320.4 801.7L321.2 801.1L322.0 800.5L322.8 800.0L323.6 799.5L324.4 799.0L325.2 798.5L326.0 798.1L326.8 797.6L327.6 797.2L328.4 796.9L329.2 796.5L330.0 796.2L330.8 795.9L331.6 795.6L332.4 795.3L333.2 795.1L334.0 794.9L334.8 794.7L335.6 794.5L336.4 794.4L337.2 794.3L338.0 794.2L338.8 794.1L339.6 794.0L340.4 794.0L341.2 794.0L342.0 794.0L342.8 794.0L343.6 794.1L344.4 794.1L345.2 794.2L346.0 794.3L346.8 794.4L347.6 794.5L348.4 794.6L349.2 794.8L350.0 794.9L350.8 795.1L351.5 795.3L352.3 795.5L353.1 795.6L353.9 795.8L354.7 796.0L355.5 796.3L356.3 796.5L357.1 796.7L357.9 796.9L358.7 797.1L359.5 797.3L360.3 797.5L361.1 797.7L361.9 797.9L362.7 798.1L363.5 798.3L364.3 798.5L365.1 798.7L365.9 798.9L366.7 799.1L367.5 799.2L368.3 799.4L369.1 799.5L369.9 799.7L370.7 799.8L371.5 799.9L372.3 800.0L373.1 800.1L373.9 800.2L374.7 800.3L375.5 800.3L376.3 800.4L377.1 800.4L377.9 800.4L378.7 800.4L379.5 800.4L380.3 800.4L381.1 800.4L381.9 800.3L382.7 800.3L383.5 800.2L384.3 800.1L385.1 800.0L385.9 799.9L386.7 799.8L387.5 799.7L388.3 799.6L389.1 799.4L389.9 799.3L390.7 799.1L391.5 798.9L392.3 798.8L393.1 798.6L393.9 798.4L394.7 798.2L395.4 798.0L396.2 797.8L397.0 797.5L397.8 797.3L398.6 797.1L399.4 796.9L400.2 796.7L401.0 796.4L401.8 796.2L402.6 796.0L403.4 795.8L404.2 795.6L405.0 795.4L405.8 795.1L406.6 794.9L407.4 794.7L408.2 794.6L409.0 794.4L409.8 794.2L410.6 794.0L411.4 793.9L412.2 793.7L413.0 793.6L413.8 793.4L414.6 793.3L415.4 793.2L416.2 793.1L417.0 793.0L417.8 792.9L418.6 792.9L419.4 792.8L420.2 792.8L421.0 792.8L421.8 792.8L422.6 792.8L423.4 792.8L424.2 792.9L425.0 792.9L425.8 793.0L426.6 793.1L427.4 793.2L428.2 793.3L429.0 793.4L429.8 793.6L430.6 793.7L431.4 793.9L432.2 794.1L433.0 794.3L433.8 794.5L434.6 794.7L435.4 795.0L436.2 795.2L437.0 795.5L437.8 795.8L438.6 796.0L439.3 796.3L440.1 796.6L440.9 797.0L441.7 797.3L442.5 797.6L443.3 798.0L444.1 798.3L444.9 798.7L445.7 799.0L446.5 799.4L447.3 799.7L448.1 800.1L448.9 800.5L449.7 800.8L450.5 801.2L451.3 801.6L452.1 802.0L452.9 802.3L453.7 802.7L454.5 803.1L455.3 803.4L456.1 803.8L456.9 804.1L457.7 804.5L458.5 804.8L459.3 805.1L460.1 805.5L460.9 805.8L461.7 806.1L462.5 806.4L463.3 806.7L464.1 806.9L464.9 807.2L465.7 807.4L466.5 807.7L467.3 807.9L468.1 808.1L468.9 808.3L469.7 808.5L470.5 808.6L471.3 808.8L472.1 808.9L472.9 809.0L473.7 809.1L474.5 809.2L475.3 809.3L476.1 809.3L476.9 809.4L477.7 809.4L478.5 809.4L479.3 809.4L480.1 809.3L480.9 809.3L481.7 809.2L482.5 809.1L483.2 809.1L484.0 808.9L484.8 808.8L485.6 808.7L486.4 808.5L487.2 808.4L488.0 808.2L488.8 808.0L489.6 807.8L490.4 807.6L491.2 807.3L492.0 807.1L492.8 806.8L493.6 806.6L494.4 806.3L495.2 806.0L496.0 805.7L496.8 805.4L497.6 805.1L498.4 804.8L499.2 804.5L500.0 804.2L500.8 803.8L501.6 803.5L502.4 803.2L503.2 802.9L504.0 802.5L504.8 802.2L505.6 801.9L506.4 801.5L507.2 801.2L508.0 800.9L508.8 800.5L509.6 800.2L510.4 799.9L511.2 799.6L512.0 799.3L512.8 799.0L513.6 798.7L514.4 798.4L515.2 798.1L516.0 797.9L516.8 797.6L517.6 797.4L518.4 797.1L519.2 796.9L520.0 796.7L520.8 796.5L521.6 796.3L522.4 796.1L523.2 795.9L524.0 795.8L524.8 795.6L525.6 795.5L526.4 795.4L527.1 795.3L527.9 795.2L528.7 795.1L529.5 795.0L530.3 795.0L531.1 794.9L531.9 794.9L532.7 794.9L533.5 794.9L534.3 794.9L535.1 794.9L535.9 794.9L536.7 795.0L537.5 795.1L538.3 795.1L539.1 795.2L539.9 795.3L540.7 795.4L541.5 795.5L542.3 795.6L543.1 795.8L543.9 795.9L544.7 796.1L545.5 796.2L546.3 796.4L547.1 796.6L547.9 796.7L548.7 796.9L549.5 797.1L550.3 797.3L551.1 797.5L551.9 797.7L552.7 797.9L553.5 798.1L554.3 798.3L555.1 798.5L555.9 798.7L556.7 798.9L557.5 799.1L558.3 799.3L559.1 799.5L559.9 799.7L560.7 799.9L561.5 800.1L562.3 800.3L563.1 800.5L563.9 800.7L564.7 800.8L565.5 801.0L566.3 801.2L567.1 801.3L567.9 801.5L568.7 801.6L569.5 801.7L570.3 801.8L571.0 802.0L571.8 802.1L572.6 802.2L573.4 802.2L574.2 802.3L575.0 802.4L575.8 802.4L576.6 802.5L577.4 802.5L578.2 802.5L579.0 802.5L579.8 802.5L580.6 802.5L581.4 802.5L582.2 802.5L583.0 802.5L583.8 802.4L584.6 802.4L585.4 802.3L586.2 802.2L587.0 802.1L587.8 802.0L588.6 801.9L589.4 801.8L590.2 801.7L591.0 801.6L591.8 801.5L592.6 801.3L593.4 801.2L594.2 801.0L595.0 800.9L595.8 800.7L596.6 800.5L597.4 800.4L598.2 800.2L599.0 800.0L599.8 799.8L600.6 799.7L601.4 799.5L602.2 799.3L603.0 799.1L603.8 798.9L604.6 798.8L605.4 798.6L606.2 798.4L607.0 798.2L607.8 798.0L608.6 797.9L609.4 797.7L610.2 797.6L611.0 797.4L611.8 797.2L612.6 797.1L613.4 797.0L614.2 796.8L614.9 796.7L615.7 796.6L616.5 796.5L617.3 796.4L618.1 796.3L618.9 796.2L619.7 796.1L620.5 796.1L621.3 796.0L622.1 796.0L622.9 795.9L623.7 795.9L624.5 795.9L625.3 795.9L626.1 795.9L626.9 795.9L627.7 795.9L628.5 796.0L629.3 796.0L630.1 796.1L630.9 796.1L631.7 796.2L632.5 796.3L633.3 796.4L634.1 796.5L634.9 796.6L635.7 796.8L636.5 796.9L637.3 797.1L638.1 797.2L638.9 797.4L639.7 797.5L640.5 797.7L641.3 797.9L642.1 798.1L642.9 798.3L643.7 798.5L644.5 798.7L645.3 798.9L646.1 799.2L646.9 799.4L647.7 799.6L648.5 799.8L649.3 800.1L650.1 800.3L650.9 800.5L651.7 800.8L652.5 801.0L653.3 801.3L654.1 801.5L654.9 801.7L655.7 802.0L656.5 802.2L657.3 802.4L658.1 802.7L658.8 802.9L659.6 803.1L660.4 803.3L661.2 803.5L662.0 803.7L662.8 803.9L663.6 804.1L664.4 804.3L665.2 804.4L666.0 804.6L666.8 804.8L667.6 804.9L668.4 805.1L669.2 805.2L670.0 805.3L670.8 805.4L671.6 805.5L672.4 805.6L673.2 805.7L674.0 805.7L674.8 805.8L675.6 805.8L676.4 805.9L677.2 805.9L678.0 805.9L678.8 805.9L679.6 805.9L680.4 805.9L681.2 805.8L682.0 805.8L682.8 805.7L683.6 805.7L684.4 805.6L685.2 805.5L686.0 805.4L686.8 805.3L687.6 805.2L688.4 805.1L689.2 804.9L690.0 804.8L690.8 804.6L691.6 804.5L692.4 804.3L693.2 804.1L694.0 803.9L694.8 803.7L695.6 803.5L696.4 803.3L697.2 803.1L698.0 802.9L698.8 802.7L699.6 802.5L700.4 802.2L701.2 802.0L702.0 801.8L702.7 801.5L703.5 801.3L704.3 801.1L705.1 800.8L705.9 800.6L706.7 800.4L707.5 800.2L708.3 799.9L709.1 799.7L709.9 799.5L710.7 799.3L711.5 799.0L712.3 798.8L713.1 798.6L713.9 798.4L714.7 798.2L715.5 798.0L716.3 797.8L717.1 797.7L717.9 797.5L718.7 797.3L719.5 797.2L720.3 797.0L721.1 796.9L721.9 796.8L722.7 796.7L723.5 796.6L724.3 796.5L725.1 796.4L725.9 796.3L726.7 796.2L727.5 796.1L728.3 796.1L729.1 796.1L729.9 796.0L730.7 796.0L731.5 796.0L732.3 796.0L733.1 796.0L733.9 796.0L734.7 796.1L735.5 796.1L736.3 796.1L737.1 796.2L737.9 796.3L738.7 796.3L739.5 796.4L740.3 796.5L741.1 796.6L741.9 796.7L742.7 796.8L743.5 796.9L744.3 797.1L745.1 797.2L745.9 797.3L746.6 797.5L747.4 797.6L748.2 797.8L749.0 798.0L749.8 798.1L750.6 798.3L751.4 798.4L752.2 798.6L753.0 798.8L753.8 799.0L754.6 799.1L755.4 799.3L756.2 799.5L757.0 799.7L757.8 799.8L758.6 800.0L759.4 800.2L760.2 800.3L761.0 800.5L761.8 800.7L762.6 800.8L763.4 801.0L764.2 801.1L765.0 801.3L765.8 801.4L766.6 801.5L767.4 801.7L768.2 801.8L769.0 801.9L769.8 802.0L770.6 802.1L771.4 802.2L772.2 802.3L773.0 802.4L773.8 802.5L774.6 802.5L775.4 802.6L776.2 802.6L777.0 802.7L777.8 802.7L778.6 802.7L779.4 802.7L780.2 802.7L781.0 802.7L781.8 802.7L782.6 802.7L783.4 802.6L784.2 802.6L785.0 802.6L785.8 802.5L786.6 802.4L787.4 802.4L788.2 802.3L789.0 802.2L789.7 802.1L790.5 802.0L791.3 801.9L792.1 801.8L792.9 801.7L793.7 801.6L794.5 801.4L795.3 801.3L796.1 801.2L796.9 801.0L797.7 800.9L798.5 800.7L799.3 800.6L800.1 800.4L800.9 800.3L801.7 800.1L802.5 800.0L803.3 799.8L804.1 799.7L804.9 799.5L805.7 799.3L806.5 799.2L807.3 799.0L808.1 798.9L808.9 798.7L809.7 798.6L810.5 798.4L811.3 798.3L812.1 798.2L812.9 798.0L813.7 797.9L814.5 797.8L815.3 797.7L816.1 797.6L816.9 797.5L817.7 797.4L818.5 797.3L819.3 797.2L820.1 797.1L820.9 797.0L821.7 797.0L822.5 796.9L823.3 796.9L824.1 796.8L824.9 796.8L825.7 796.8L826.5 796.8L827.3 796.8L828.1 796.8L828.9 796.8L829.7 796.8L830.5 796.8L831.3 796.9L832.1 796.9L832.9 797.0L833.6 797.1L834.4 797.1L835.2 797.2L836.0 797.3L836.8 797.4L837.6 797.5L838.4 797.6L839.2 797.7L840.0 797.9L840.8 798.0L841.6 798.1L842.4 798.3L843.2 798.4L844.0 798.6L844.8 798.7L845.6 798.9L846.4 799.1L847.2 799.3L848.0 799.4L848.8 799.6L849.6 799.8L850.4 800.0L851.2 800.2L852.0 800.3L852.8 800.5L853.6 800.7L854.4 800.9L855.2 801.1L856.0 801.3L856.8 801.5L857.6 801.7L858.4 801.8L859.2 802.0L860.0 802.2L860.8 802.4L861.6 802.5L862.4 802.7L863.2 802.8L864.0 803.0L864.8 803.1L865.6 803.3L866.4 803.4L867.2 803.5L868.0 803.7L868.8 803.8L869.6 803.9L870.4 804.0L871.2 804.1L872.0 804.2L872.8 804.2L873.6 804.3L874.4 804.4L875.2 804.4L876.0 804.5L876.8 804.5L877.5 804.5L878.3 804.5L879.1 804.5L879.9 804.5L880.7 804.5L881.5 804.5L882.3 804.5L883.1 804.4L883.9 804.4L884.7 804.3L885.5 804.2L886.3 804.2L887.1 804.1L887.9 804.0L888.7 803.9L889.5 803.8L890.3 803.7L891.1 803.6L891.9 803.4L892.7 803.3L893.5 803.1L894.3 803.0L895.1 802.8L895.9 802.7L896.7 802.5L897.5 802.4L898.3 802.2L899.1 802.0L899.9 801.8L900.7 801.7L901.5 801.5L902.3 801.3L903.1 801.1L903.9 800.9L904.7 800.7L905.5 800.5L906.3 800.4L907.1 800.2L907.9 800.0L908.7 799.8L909.5 799.6L910.3 799.4L911.1 799.3L911.9 799.1L912.7 798.9L913.5 798.7L914.3 798.6L915.1 798.4L915.9 798.3L916.7 798.1L917.5 798.0L918.3 797.8L919.1 797.7L919.9 797.6L920.7 797.5L921.4 797.4L922.2 797.3L923.0 797.2L923.8 797.1L924.6 797.0L925.4 796.9L926.2 796.9L927.0 796.8L927.8 796.8L928.6 796.7L929.4 796.7L930.2 796.7L931.0 796.7L931.8 796.7L932.6 796.7L933.4 796.7L934.2 796.7L935.0 796.7L935.8 796.8L936.6 796.8L937.4 796.9L938.2 796.9L939.0 797.0L939.8 797.1L940.6 797.1L941.4 797.2L942.2 797.3L943.0 797.4L943.8 797.5L944.6 797.6L945.4 797.8L946.2 797.9L947.0 798.0L947.8 798.1L948.6 798.3L949.4 798.4L950.2 798.6L951.0 798.7L951.8 798.8L952.6 799.0L953.4 799.1L954.2 799.3L955.0 799.5L955.8 799.6L956.6 799.8L957.4 799.9L958.2 800.1L959.0 800.2L959.8 800.4L960.6 800.5L961.4 800.7L962.2 800.8L963.0 800.9L963.8 801.1L964.6 801.2L965.3 801.3L966.1 801.4L966.9 801.6L967.7 801.7L968.5 801.8L969.3 801.9L970.1 802.0L970.9 802.1L971.7 802.2L972.5 802.2L973.3 802.3L974.1 802.4L974.9 802.4L975.7 802.5L976.5 802.5L977.3 802.6L978.1 802.6L978.9 802.6L979.7 802.6L980.5 802.6L981.3 802.6L982.1 802.6L982.9 802.6L983.7 802.6L984.5 802.5L985.3 802.5L986.1 802.5L986.9 802.4L987.7 802.3L988.5 802.3L989.3 802.2L990.1 802.1L990.9 802.0L991.7 801.9L992.5 801.9L993.3 801.8L994.1 801.6L994.9 801.5L995.7 801.4L996.5 801.3L997.3 801.2L998.1 801.1L998.9 800.9L999.7 800.8L1000.5 800.7L1001.3 800.5L1002.1 800.4L1002.9 800.2L1003.7 800.1L1004.5 800.0L1005.3 799.8L1006.1 799.7L1006.9 799.5L1007.7 799.4L1008.5 799.3L1009.2 799.1L1010.0 799.0L1010.8 798.9L1011.6 798.7L1012.4 798.6L1013.2 798.5L1014.0 798.4L1014.8 798.3L1015.6 798.2L1016.4 798.0L1017.2 798.0L1018.0 797.9L1018.8 797.8L1019.6 797.7L1020.4 797.6L1021.2 797.5L1022.0 797.5L1022.8 797.4L1023.6 797.4L1024.4 797.3L1025.2 797.3L1026.0 797.3L1026.8 797.3L1027.6 797.2L1028.4 797.2L1029.2 797.2L1030.0 797.2L1030.8 797.3L1031.6 797.3L1032.4 797.3L1033.2 797.4L1034.0 797.4L1034.8 797.5L1035.6 797.5L1036.4 797.6L1037.2 797.7L1038.0 797.8L1038.8 797.8L1039.6 797.9L1040.4 798.0L1041.2 798.1L1042.0 798.3L1042.8 798.4L1043.6 798.5L1044.4 798.6L1045.2 798.8L1046.0 798.9L1046.8 799.0L1047.6 799.2L1048.4 799.3L1049.2 799.5L1050.0 799.6L1050.8 799.8L1051.6 799.9L1052.4 800.1L1053.1 800.3L1053.9 800.4L1054.7 800.6L1055.5 800.7L1056.3 800.9L1057.1 801.1L1057.9 801.2L1058.7 801.4L1059.5 801.5L1060.3 801.7L1061.1 801.8L1061.9 802.0L1062.7 802.1L1063.5 802.3L1064.3 802.4L1065.1 802.5L1065.9 802.6L1066.7 802.8L1067.5 802.9L1068.3 803.0L1069.1 803.1L1069.9 803.2L1070.7 803.3L1071.5 803.4L1072.3 803.4L1073.1 803.5L1073.9 803.6L1074.7 803.6L1075.5 803.7L1076.3 803.7L1077.1 803.7L1077.9 803.8L1078.7 803.8L1079.5 803.8L1080.3 803.8L1081.1 803.8L1081.9 803.8L1082.7 803.7L1083.5 803.7L1084.3 803.7L1085.1 803.6L1085.9 803.6L1086.7 803.5L1087.5 803.5L1088.3 803.4L1089.1 803.3L1089.9 803.2L1090.7 803.1L1091.5 803.0L1092.3 802.9L1093.1 802.8L1093.9 802.7L1094.7 802.6L1095.5 802.4L1096.3 802.3L1097.0 802.2L1097.8 802.0L1098.6 801.9L1099.4 801.7L1100.2 801.6L1101.0 801.4L1101.8 801.3L1102.6 801.1L1103.4 800.9L1104.2 800.8L1105.0 800.6L1105.8 800.5L1106.6 800.3L1107.4 800.1L1108.2 800.0L1109.0 799.8L1109.8 799.7L1110.6 799.5L1111.4 799.4L1112.2 799.2L1113.0 799.1L1113.8 798.9L1114.6 798.8L1115.4 798.6L1116.2 798.5L1117.0 798.4L1117.8 798.3L1118.6 798.1L1119.4 798.0L1120.2 797.9L1121.0 797.8L1121.8 797.7L1122.6 797.6L1123.4 797.6L1124.2 797.5L1125.0 797.4L1125.8 797.3L1126.6 797.3L1127.4 797.2L1128.2 797.2L1129.0 797.2L1129.8 797.1L1130.6 797.1L1131.4 797.1L1132.2 797.1L1133.0 797.1L1133.8 797.1L1134.6 797.1L1135.4 797.2L1136.2 797.2L1137.0 797.2L1137.8 797.3L1138.6 797.3L1139.4 797.4L1140.2 797.5L1140.9 797.5L1141.7 797.6L1142.5 797.7L1143.3 797.8L1144.1 797.9L1144.9 798.0L1145.7 798.1L1146.5 798.2L1147.3 798.3L1148.1 798.4L1148.9 798.5L1149.7 798.7L1150.5 798.8L1151.3 798.9L1152.1 799.0L1152.9 799.2L1153.7 799.3L1154.5 799.4L1155.3 799.6L1156.1 799.7L1156.9 799.9L1157.7 800.0L1158.5 800.1L1159.3 800.3L1160.1 800.4L1160.9 800.5L1161.7 800.7L1162.5 800.8L1163.3 800.9L1164.1 801.0L1164.9 801.2L1165.7 801.3L1166.5 801.4L1167.3 801.5L1168.1 801.6L1168.9 801.7L1169.7 801.8L1170.5 801.9L1171.3 802.0L1172.1 802.0L1172.9 802.1L1173.7 802.2L1174.5 802.2L1175.3 802.3L1176.1 802.3L1176.9 802.4L1177.7 802.4L1178.5 802.4L1179.3 802.5L1180.1 802.5L1180.9 802.5L1181.7 802.5L1182.5 802.5L1183.3 802.5L1184.1 802.5L1184.8 802.4L1185.6 802.4L1186.4 802.4L1187.2 802.3L1188.0 802.3L1188.8 802.2L1189.6 802.1L1190.4 802.1L1191.2 802.0L1192.0 801.9L1192.8 801.8L1193.6 801.7L1194.4 801.7L1195.2 801.6L1196.0 801.4L1196.8 801.3" stroke="#C56E1A" stroke-width="6.0"/>
</g>
<path d="M1437.0 368.8L1441.3 360.1L1444.7 346.6L1446.6 338.9L1447.5 335.3L1448.5 332.1L1449.4 329.1L1450.4 326.5L1451.4 324.3L1452.3 322.4L1453.3 320.8L1454.2 319.5L1455.2 318.6L1456.1 317.9L1457.1 317.5L1458.1 317.4L1459.0 317.5L1460.0 317.9L1460.9 318.4L1461.9 319.1L1462.8 320.0L1463.8 321.0L1464.8 322.2L1465.7 323.5L1466.7 324.9L1467.6 326.4L1468.6 328.0L1469.5 329.7L1470.5 331.4L1471.5 333.2L1472.4 335.1L1473.4 337.0L1474.3 338.9L1475.3 340.9L1476.2 343.0L1477.2 345.0L1478.2 347.1L1479.1 349.1L1480.1 351.2L1481.0 353.3L1482.0 355.5L1482.9 357.6L1483.9 359.7L1484.8 361.8L1485.8 363.9L1486.8 366.0L1487.7 368.1L1488.7 370.2L1489.6 372.3L1490.6 374.4L1491.5 376.5L1492.5 378.5L1493.5 380.6L1494.4 382.6L1495.4 384.6L1496.3 386.6L1497.3 388.6L1498.2 390.6L1499.2 392.5L1500.2 394.4L1501.1 396.4L1502.1 398.3L1503.0 400.1L1504.0 402.0L1504.9 403.8L1505.9 405.7L1506.9 407.5L1507.8 409.3L1508.8 411.0L1509.7 412.8L1510.7 414.5L1511.6 416.2L1512.6 417.9L1513.6 419.6L1514.5 421.3L1515.5 422.9L1516.4 424.6L1517.4 426.2L1518.3 427.8L1519.3 429.3L1520.3 430.9L1521.2 432.5L1522.2 434.0L1523.1 435.5L1524.1 437.0L1525.0 438.5L1526.0 439.9L1527.0 441.4L1527.9 442.8L1528.9 444.2L1529.8 445.6L1530.8 447.0L1531.7 448.3L1532.7 449.7L1535.1 453.0L1537.5 456.3L1539.9 459.4L1542.3 462.5L1544.7 465.5L1547.1 468.4L1549.5 471.2L1551.9 474.0L1554.3 476.7L1556.7 479.3L1559.1 481.9L1561.5 484.4L1563.9 486.8L1566.3 489.2L1568.7 491.5L1571.1 493.7L1573.5 495.9L1575.9 498.1L1578.3 500.2L1580.8 502.2L1583.2 504.2L1585.6 506.2L1588.0 508.1L1590.4 510.0L1592.8 511.8L1595.2 513.6L1597.6 515.3L1600.0 517.0L1602.4 518.7L1604.8 520.3L1607.2 522.0L1609.6 523.5L1612.0 525.1L1614.4 526.6L1616.8 528.0L1619.2 529.5L1621.6 530.9L1624.0 532.3L1626.4 533.7L1628.8 535.0L1631.2 536.3L1633.6 537.6L1636.0 538.8L1638.4 540.1L1640.8 541.3L1643.2 542.5L1645.6 543.7L1648.0 544.8L1650.4 545.9L1652.8 547.0L1655.3 548.1L1657.7 549.2L1660.1 550.3L1662.5 551.3L1664.9 552.3L1667.3 553.3L1669.7 554.3L1672.1 555.2L1674.5 556.2L1676.9 557.1L1679.3 558.0L1681.7 559.0L1684.1 559.8L1686.5 560.7L1688.9 561.6L1691.3 562.4L1693.7 563.3L1696.1 564.1L1698.5 564.9L1700.9 565.7L1703.3 566.5L1705.7 567.2L1708.1 568.0L1710.5 568.7L1712.9 569.5L1715.3 570.2L1717.7 570.9L1720.1 571.6L1722.5 572.3L1724.9 573.0L1727.3 573.7L1729.7 574.4L1732.2 575.0L1734.6 575.7L1737.0 576.3L1739.4 576.9L1741.8 577.6L1744.2 578.2L1746.6 578.8L1749.0 579.4L1751.4 580.0L1753.8 580.6L1756.2 581.1L1758.6 581.7L1761.0 582.3L1763.4 582.8L1765.8 583.4L1768.2 583.9L1770.6 584.4L1773.0 585.0L1775.4 585.5L1777.8 586.0L1780.2 586.5L1782.6 587.0L1785.0 587.5L1787.4 588.0L1789.8 588.5L1792.2 588.9L1794.6 589.4L1797.0 589.9L1799.4 590.3L1801.8 590.8L1804.2 591.3L1806.6 591.7L1809.1 592.1L1811.5 592.6L1813.9 593.0L1816.3 593.4L1818.7 593.8L1821.1 594.3L1823.5 594.7L1825.9 595.1L1828.3 595.5L1830.7 595.9L1833.1 596.3L1835.5 596.7L1837.9 597.0L1840.3 597.4L1842.7 597.8L1845.1 598.2L1847.5 598.5L1849.9 598.9L1852.3 599.3L1854.7 599.6L1857.1 600.0L1859.5 600.3L1861.9 600.7L1864.3 601.0L1866.7 601.4L1869.1 601.7L1871.5 602.0L1873.9 602.4L1876.3 602.7L1878.7 603.0L1881.1 603.3L1883.6 603.6L1886.0 604.0L1888.4 604.3L1890.8 604.6L1893.2 604.9L1895.6 605.2L1898.0 605.5L1900.4 605.8L1902.8 606.1L1905.2 606.4L1907.6 606.7L1910.0 606.9L1912.4 607.2L1914.8 607.5L1917.2 607.8L1919.6 608.1L1922.0 608.3L1924.4 608.6L1926.8 608.9L1929.2 609.1L1931.6 609.4L1934.0 609.7L1936.4 609.9L1938.8 610.2L1941.2 610.4L1943.6 610.7L1946.0 610.9L1948.4 611.2L1950.8 611.4L1953.2 611.7L1955.6 611.9L1958.0 612.1L1960.5 612.4L1962.9 612.6L1965.3 612.8L1967.7 613.1L1970.1 613.3L1972.5 613.5L1974.9 613.8L1977.3 614.0L1979.7 614.2L1982.1 614.4L1984.5 614.6L1986.9 614.9L1989.3 615.1L1991.7 615.3L1994.1 615.5L1996.5 615.7L1998.9 615.9L2001.3 616.1L2003.7 616.3L2006.1 616.5L2008.5 616.7L2010.9 616.9L2013.3 617.1L2015.7 617.3L2018.1 617.5L2020.5 617.7L2022.9 617.9L2025.3 618.1L2027.7 618.3L2030.1 618.5L2032.5 618.7L2035.0 618.9L2037.4 619.0L2039.8 619.2L2042.2 619.4L2044.6 619.6L2047.0 619.8L2049.4 619.9L2051.8 620.1L2054.2 620.3L2056.6 620.5L2059.0 620.6L2061.4 620.8L2063.8 621.0L2066.2 621.1L2068.6 621.3L2071.0 621.5L2073.4 621.6L2075.8 621.8L2078.2 622.0L2080.6 622.1L2083.0 622.3L2085.4 622.5L2087.8 622.6L2090.2 622.8L2092.6 622.9L2095.0 623.1L2097.4 623.2L2099.8 623.4L2102.2 623.5L2104.6 623.7L2107.0 623.8L2109.4 624.0L2111.9 624.1L2114.3 624.3L2116.7 624.4L2119.1 624.6L2121.5 624.7L2123.9 624.9L2126.3 625.0L2128.7 625.1L2131.1 625.3L2133.5 625.4L2135.9 625.6L2138.3 625.7L2140.7 625.8L2143.1 626.0L2145.5 626.1L2147.9 626.2L2150.3 626.4L2152.7 626.5L2155.1 626.6L2157.5 626.8L2159.9 626.9L2162.3 627.0L2164.7 627.2L2167.1 627.3L2169.5 627.4L2171.9 627.5L2174.3 627.7L2176.7 627.8L2179.1 627.9L2181.5 628.0L2183.9 628.2L2186.3 628.3L2188.8 628.4L2191.2 628.5L2193.6 628.6L2196.0 628.8L2198.4 628.9L2200.8 629.0L2203.2 629.1L2205.6 629.2L2208.0 629.3L2210.4 629.5L2212.8 629.6L2215.2 629.7L2217.6 629.8L2220.0 629.9L2222.4 630.0L2224.8 630.1L2227.2 630.2L2229.6 630.3L2232.0 630.5L2234.4 630.6L2236.8 630.7L2239.2 630.8L2241.6 630.9L2244.0 631.0L2246.4 631.1L2248.8 631.2L2251.2 631.3L2253.6 631.4L2256.0 631.5L2258.4 631.6L2260.8 631.7L2263.3 631.8L2265.7 631.9L2268.1 632.0L2270.5 632.1L2272.9 632.2L2275.3 632.3L2277.7 632.4L2280.1 632.5L2282.5 632.6L2284.9 632.7L2287.3 632.8L2289.7 632.9L2292.1 633.0L2294.5 633.1L2296.9 633.2L2299.3 633.3L2301.7 633.4L2304.1 633.4L2306.5 633.5L2308.9 633.6L2311.3 633.7L2313.7 633.8L2316.1 633.9L2318.5 634.0L2320.9 634.1L2323.3 634.2L2325.7 634.3L2328.1 634.3L2330.5 634.4L2332.9 634.5L2335.3 634.6L2337.7 634.7L2340.2 634.8L2342.6 634.9L2345.0 634.9L2347.4 635.0L2349.8 635.1L2352.2 635.2L2354.6 635.3L2357.0 635.4L2359.4 635.4L2361.8 635.5L2364.2 635.6L2366.6 635.7L2369.0 635.8L2371.4 635.8L2373.8 635.9L2376.2 636.0L2378.6 636.1L2381.0 636.2L2383.4 636.2L2385.8 636.3L2388.2 636.4L2390.6 636.5L2393.0 636.5L2395.4 636.6L2397.8 636.7" fill="none" stroke="#5E81B5" stroke-width="10.4" stroke-linejoin="round"/>
<path d="M1437.0 1050.5L1441.3 1059.9L1444.7 1074.5L1446.6 1082.9L1447.5 1086.7L1448.5 1090.2L1449.4 1093.4L1450.4 1096.2L1451.4 1098.7L1452.3 1100.7L1453.3 1102.4L1454.2 1103.8L1455.2 1104.8L1456.1 1105.5L1457.1 1105.9L1458.1 1106.1L1459.0 1106.0L1460.0 1105.6L1460.9 1105.0L1461.9 1104.3L1462.8 1103.3L1463.8 1102.2L1464.8 1100.9L1465.7 1099.5L1466.7 1098.0L1467.6 1096.4L1468.6 1094.6L1469.5 1092.8L1470.5 1090.9L1471.5 1089.0L1472.4 1087.0L1473.4 1084.9L1474.3 1082.8L1475.3 1080.6L1476.2 1078.5L1477.2 1076.3L1478.2 1074.0L1479.1 1071.8L1480.1 1069.5L1481.0 1067.2L1482.0 1064.9L1482.9 1062.6L1483.9 1060.4L1484.8 1058.1L1485.8 1055.8L1486.8 1053.5L1487.7 1051.2L1488.7 1048.9L1489.6 1046.7L1490.6 1044.4L1491.5 1042.2L1492.5 1040.0L1493.5 1037.8L1494.4 1035.6L1495.4 1033.4L1496.3 1031.2L1497.3 1029.1L1498.2 1027.0L1499.2 1024.9L1500.2 1022.8L1501.1 1020.7L1502.1 1018.6L1503.0 1016.6L1504.0 1014.6L1504.9 1012.6L1505.9 1010.6L1506.9 1008.7L1507.8 1006.7L1508.8 1004.8L1509.7 1002.9L1510.7 1001.0L1511.6 999.2L1512.6 997.3L1513.6 995.5L1514.5 993.7L1515.5 991.9L1516.4 990.2L1517.4 988.4L1518.3 986.7L1519.3 985.0L1520.3 983.3L1521.2 981.6L1522.2 980.0L1523.1 978.4L1524.1 976.7L1525.0 975.1L1526.0 973.6L1527.0 972.0L1527.9 970.5L1528.9 968.9L1529.8 967.4L1530.8 965.9L1531.7 964.4L1532.7 963.0L1535.1 959.4L1537.5 955.9L1539.9 952.5L1542.3 949.1L1544.7 945.9L1547.1 942.8L1549.5 939.7L1551.9 936.7L1554.3 933.8L1556.7 931.0L1559.1 928.2L1561.5 925.5L1563.9 922.9L1566.3 920.3L1568.7 917.8L1571.1 915.4L1573.5 913.0L1575.9 910.7L1578.3 908.4L1580.8 906.2L1583.2 904.0L1585.6 901.9L1588.0 899.8L1590.4 897.8L1592.8 895.8L1595.2 893.9L1597.6 892.0L1600.0 890.1L1602.4 888.3L1604.8 886.6L1607.2 884.8L1609.6 883.1L1612.0 881.5L1614.4 879.8L1616.8 878.2L1619.2 876.7L1621.6 875.1L1624.0 873.6L1626.4 872.2L1628.8 870.7L1631.2 869.3L1633.6 867.9L1636.0 866.5L1638.4 865.2L1640.8 863.9L1643.2 862.6L1645.6 861.3L1648.0 860.1L1650.4 858.9L1652.8 857.7L1655.3 856.5L1657.7 855.3L1660.1 854.2L1662.5 853.1L1664.9 852.0L1667.3 850.9L1669.7 849.8L1672.1 848.8L1674.5 847.8L1676.9 846.8L1679.3 845.8L1681.7 844.8L1684.1 843.8L1686.5 842.9L1688.9 842.0L1691.3 841.0L1693.7 840.1L1696.1 839.2L1698.5 838.4L1700.9 837.5L1703.3 836.7L1705.7 835.8L1708.1 835.0L1710.5 834.2L1712.9 833.4L1715.3 832.6L1717.7 831.8L1720.1 831.1L1722.5 830.3L1724.9 829.6L1727.3 828.8L1729.7 828.1L1732.2 827.4L1734.6 826.7L1737.0 826.0L1739.4 825.3L1741.8 824.7L1744.2 824.0L1746.6 823.3L1749.0 822.7L1751.4 822.0L1753.8 821.4L1756.2 820.8L1758.6 820.2L1761.0 819.6L1763.4 819.0L1765.8 818.4L1768.2 817.8L1770.6 817.2L1773.0 816.7L1775.4 816.1L1777.8 815.5L1780.2 815.0L1782.6 814.4L1785.0 813.9L1787.4 813.4L1789.8 812.9L1792.2 812.3L1794.6 811.8L1797.0 811.3L1799.4 810.8L1801.8 810.3L1804.2 809.9L1806.6 809.4L1809.1 808.9L1811.5 808.4L1813.9 808.0L1816.3 807.5L1818.7 807.0L1821.1 806.6L1823.5 806.2L1825.9 805.7L1828.3 805.3L1830.7 804.8L1833.1 804.4L1835.5 804.0L1837.9 803.6L1840.3 803.2L1842.7 802.8L1845.1 802.4L1847.5 802.0L1849.9 801.6L1852.3 801.2L1854.7 800.8L1857.1 800.4L1859.5 800.0L1861.9 799.7L1864.3 799.3L1866.7 798.9L1869.1 798.6L1871.5 798.2L1873.9 797.8L1876.3 797.5L1878.7 797.1L1881.1 796.8L1883.6 796.4L1886.0 796.1L1888.4 795.8L1890.8 795.4L1893.2 795.1L1895.6 794.8L1898.0 794.5L1900.4 794.1L1902.8 793.8L1905.2 793.5L1907.6 793.2L1910.0 792.9L1912.4 792.6L1914.8 792.3L1917.2 792.0L1919.6 791.7L1922.0 791.4L1924.4 791.1L1926.8 790.8L1929.2 790.5L1931.6 790.2L1934.0 789.9L1936.4 789.7L1938.8 789.4L1941.2 789.1L1943.6 788.8L1946.0 788.6L1948.4 788.3L1950.8 788.0L1953.2 787.8L1955.6 787.5L1958.0 787.3L1960.5 787.0L1962.9 786.7L1965.3 786.5L1967.7 786.2L1970.1 786.0L1972.5 785.7L1974.9 785.5L1977.3 785.3L1979.7 785.0L1982.1 784.8L1984.5 784.5L1986.9 784.3L1989.3 784.1L1991.7 783.8L1994.1 783.6L1996.5 783.4L1998.9 783.2L2001.3 782.9L2003.7 782.7L2006.1 782.5L2008.5 782.3L2010.9 782.1L2013.3 781.9L2015.7 781.6L2018.1 781.4L2020.5 781.2L2022.9 781.0L2025.3 780.8L2027.7 780.6L2030.1 780.4L2032.5 780.2L2035.0 780.0L2037.4 779.8L2039.8 779.6L2042.2 779.4L2044.6 779.2L2047.0 779.0L2049.4 778.8L2051.8 778.6L2054.2 778.4L2056.6 778.2L2059.0 778.1L2061.4 777.9L2063.8 777.7L2066.2 777.5L2068.6 777.3L2071.0 777.2L2073.4 777.0L2075.8 776.8L2078.2 776.6L2080.6 776.4L2083.0 776.3L2085.4 776.1L2087.8 775.9L2090.2 775.8L2092.6 775.6L2095.0 775.4L2097.4 775.3L2099.8 775.1L2102.2 774.9L2104.6 774.8L2107.0 774.6L2109.4 774.4L2111.9 774.3L2114.3 774.1L2116.7 774.0L2119.1 773.8L2121.5 773.6L2123.9 773.5L2126.3 773.3L2128.7 773.2L2131.1 773.0L2133.5 772.9L2135.9 772.7L2138.3 772.6L2140.7 772.4L2143.1 772.3L2145.5 772.1L2147.9 772.0L2150.3 771.9L2152.7 771.7L2155.1 771.6L2157.5 771.4L2159.9 771.3L2162.3 771.1L2164.7 771.0L2167.1 770.9L2169.5 770.7L2171.9 770.6L2174.3 770.5L2176.7 770.3L2179.1 770.2L2181.5 770.1L2183.9 769.9L2186.3 769.8L2188.8 769.7L2191.2 769.5L2193.6 769.4L2196.0 769.3L2198.4 769.2L2200.8 769.0L2203.2 768.9L2205.6 768.8L2208.0 768.6L2210.4 768.5L2212.8 768.4L2215.2 768.3L2217.6 768.2L2220.0 768.0L2222.4 767.9L2224.8 767.8L2227.2 767.7L2229.6 767.6L2232.0 767.4L2234.4 767.3L2236.8 767.2L2239.2 767.1L2241.6 767.0L2244.0 766.9L2246.4 766.8L2248.8 766.6L2251.2 766.5L2253.6 766.4L2256.0 766.3L2258.4 766.2L2260.8 766.1L2263.3 766.0L2265.7 765.9L2268.1 765.8L2270.5 765.6L2272.9 765.5L2275.3 765.4L2277.7 765.3L2280.1 765.2L2282.5 765.1L2284.9 765.0L2287.3 764.9L2289.7 764.8L2292.1 764.7L2294.5 764.6L2296.9 764.5L2299.3 764.4L2301.7 764.3L2304.1 764.2L2306.5 764.1L2308.9 764.0L2311.3 763.9L2313.7 763.8L2316.1 763.7L2318.5 763.6L2320.9 763.5L2323.3 763.4L2325.7 763.3L2328.1 763.2L2330.5 763.1L2332.9 763.0L2335.3 763.0L2337.7 762.9L2340.2 762.8L2342.6 762.7L2345.0 762.6L2347.4 762.5L2349.8 762.4L2352.2 762.3L2354.6 762.2L2357.0 762.1L2359.4 762.0L2361.8 762.0L2364.2 761.9L2366.6 761.8L2369.0 761.7L2371.4 761.6L2373.8 761.5L2376.2 761.4L2378.6 761.4L2381.0 761.3L2383.4 761.2L2385.8 761.1L2388.2 761.0L2390.6 760.9L2393.0 760.9L2395.4 760.8L2397.8 760.7" fill="none" stroke="#5E81B5" stroke-width="11" stroke-linejoin="round"/>
<rect x="219.0" y="44.0" width="997" height="648" fill="none" stroke="#000" stroke-width="6"/>
<g fill="#000"><rect x="236.0" y="46" width="6" height="7"/><rect x="236.0" y="683" width="6" height="7"/><rect x="267.9" y="46" width="6" height="4"/><rect x="267.9" y="686" width="6" height="4"/><rect x="299.9" y="46" width="6" height="4"/><rect x="299.9" y="686" width="6" height="4"/><rect x="331.8" y="46" width="6" height="4"/><rect x="331.8" y="686" width="6" height="4"/><rect x="363.7" y="46" width="6" height="4"/><rect x="363.7" y="686" width="6" height="4"/><rect x="395.6" y="46" width="6" height="7"/><rect x="395.6" y="683" width="6" height="7"/><rect x="427.6" y="46" width="6" height="4"/><rect x="427.6" y="686" width="6" height="4"/><rect x="459.5" y="46" width="6" height="4"/><rect x="459.5" y="686" width="6" height="4"/><rect x="491.4" y="46" width="6" height="4"/><rect x="491.4" y="686" width="6" height="4"/><rect x="523.4" y="46" width="6" height="4"/><rect x="523.4" y="686" width="6" height="4"/><rect x="555.3" y="46" width="6" height="7"/><rect x="555.3" y="683" width="6" height="7"/><rect x="587.2" y="46" width="6" height="4"/><rect x="587.2" y="686" width="6" height="4"/><rect x="619.2" y="46" width="6" height="4"/><rect x="619.2" y="686" width="6" height="4"/><rect x="651.1" y="46" width="6" height="4"/><rect x="651.1" y="686" width="6" height="4"/><rect x="683.0" y="46" width="6" height="4"/><rect x="683.0" y="686" width="6" height="4"/><rect x="715.0" y="46" width="6" height="7"/><rect x="715.0" y="683" width="6" height="7"/><rect x="746.9" y="46" width="6" height="4"/><rect x="746.9" y="686" width="6" height="4"/><rect x="778.8" y="46" width="6" height="4"/><rect x="778.8" y="686" width="6" height="4"/><rect x="810.7" y="46" width="6" height="4"/><rect x="810.7" y="686" width="6" height="4"/><rect x="842.7" y="46" width="6" height="4"/><rect x="842.7" y="686" width="6" height="4"/><rect x="874.6" y="46" width="6" height="7"/><rect x="874.6" y="683" width="6" height="7"/><rect x="906.5" y="46" width="6" height="4"/><rect x="906.5" y="686" width="6" height="4"/><rect x="938.5" y="46" width="6" height="4"/><rect x="938.5" y="686" width="6" height="4"/><rect x="970.4" y="46" width="6" height="4"/><rect x="970.4" y="686" width="6" height="4"/><rect x="1002.3" y="46" width="6" height="4"/><rect x="1002.3" y="686" width="6" height="4"/><rect x="1034.2" y="46" width="6" height="7"/><rect x="1034.2" y="683" width="6" height="7"/><rect x="1066.2" y="46" width="6" height="4"/><rect x="1066.2" y="686" width="6" height="4"/><rect x="1098.1" y="46" width="6" height="4"/><rect x="1098.1" y="686" width="6" height="4"/><rect x="1130.0" y="46" width="6" height="4"/><rect x="1130.0" y="686" width="6" height="4"/><rect x="1162.0" y="46" width="6" height="4"/><rect x="1162.0" y="686" width="6" height="4"/><rect x="1193.9" y="46" width="6" height="7"/><rect x="1193.9" y="683" width="6" height="7"/><rect x="221" y="676.0" width="7" height="6"/><rect x="1206" y="676.0" width="8" height="6"/><rect x="221" y="651.9" width="4" height="6"/><rect x="1210" y="651.9" width="4" height="6"/><rect x="221" y="627.8" width="4" height="6"/><rect x="1210" y="627.8" width="4" height="6"/><rect x="221" y="603.6" width="4" height="6"/><rect x="1210" y="603.6" width="4" height="6"/><rect x="221" y="579.5" width="4" height="6"/><rect x="1210" y="579.5" width="4" height="6"/><rect x="221" y="555.4" width="7" height="6"/><rect x="1206" y="555.4" width="8" height="6"/><rect x="221" y="531.3" width="4" height="6"/><rect x="1210" y="531.3" width="4" height="6"/><rect x="221" y="507.2" width="4" height="6"/><rect x="1210" y="507.2" width="4" height="6"/><rect x="221" y="483.0" width="4" height="6"/><rect x="1210" y="483.0" width="4" height="6"/><rect x="221" y="458.9" width="4" height="6"/><rect x="1210" y="458.9" width="4" height="6"/><rect x="221" y="434.8" width="7" height="6"/><rect x="1206" y="434.8" width="8" height="6"/><rect x="221" y="410.7" width="4" height="6"/><rect x="1210" y="410.7" width="4" height="6"/><rect x="221" y="386.6" width="4" height="6"/><rect x="1210" y="386.6" width="4" height="6"/><rect x="221" y="362.4" width="4" height="6"/><rect x="1210" y="362.4" width="4" height="6"/><rect x="221" y="338.3" width="4" height="6"/><rect x="1210" y="338.3" width="4" height="6"/><rect x="221" y="314.2" width="7" height="6"/><rect x="1206" y="314.2" width="8" height="6"/><rect x="221" y="290.1" width="4" height="6"/><rect x="1210" y="290.1" width="4" height="6"/><rect x="221" y="266.0" width="4" height="6"/><rect x="1210" y="266.0" width="4" height="6"/><rect x="221" y="241.8" width="4" height="6"/><rect x="1210" y="241.8" width="4" height="6"/><rect x="221" y="217.7" width="4" height="6"/><rect x="1210" y="217.7" width="4" height="6"/><rect x="221" y="193.6" width="7" height="6"/><rect x="1206" y="193.6" width="8" height="6"/><rect x="221" y="169.5" width="4" height="6"/><rect x="1210" y="169.5" width="4" height="6"/><rect x="221" y="145.4" width="4" height="6"/><rect x="1210" y="145.4" width="4" height="6"/><rect x="221" y="121.2" width="4" height="6"/><rect x="1210" y="121.2" width="4" height="6"/><rect x="221" y="97.1" width="4" height="6"/><rect x="1210" y="97.1" width="4" height="6"/><rect x="221" y="73.0" width="7" height="6"/><rect x="1206" y="73.0" width="8" height="6"/><rect x="221" y="48.9" width="4" height="6"/><rect x="1210" y="48.9" width="4" height="6"/></g>
<rect x="1417.0" y="45.0" width="996" height="647" fill="none" stroke="#000" stroke-width="6"/>
<g fill="#000"><rect x="1436.4" y="47" width="1.2" height="8"/><rect x="1434.0" y="682" width="6" height="8"/><rect x="1484.2" y="47" width="1.2" height="4"/><rect x="1481.8" y="686" width="6" height="4"/><rect x="1532.1" y="47" width="1.2" height="4"/><rect x="1529.7" y="686" width="6" height="4"/><rect x="1580.0" y="47" width="1.2" height="4"/><rect x="1577.5" y="686" width="6" height="4"/><rect x="1627.8" y="47" width="1.2" height="4"/><rect x="1625.4" y="686" width="6" height="4"/><rect x="1675.7" y="47" width="1.2" height="8"/><rect x="1673.2" y="682" width="6" height="8"/><rect x="1723.5" y="47" width="1.2" height="4"/><rect x="1721.1" y="686" width="6" height="4"/><rect x="1771.4" y="47" width="1.2" height="4"/><rect x="1769.0" y="686" width="6" height="4"/><rect x="1819.2" y="47" width="1.2" height="4"/><rect x="1816.8" y="686" width="6" height="4"/><rect x="1867.1" y="47" width="1.2" height="4"/><rect x="1864.7" y="686" width="6" height="4"/><rect x="1914.9" y="47" width="1.2" height="8"/><rect x="1912.5" y="682" width="6" height="8"/><rect x="1962.8" y="47" width="1.2" height="4"/><rect x="1960.3" y="686" width="6" height="4"/><rect x="2010.6" y="47" width="1.2" height="4"/><rect x="2008.2" y="686" width="6" height="4"/><rect x="2058.5" y="47" width="1.2" height="4"/><rect x="2056.1" y="686" width="6" height="4"/><rect x="2106.3" y="47" width="1.2" height="4"/><rect x="2103.9" y="686" width="6" height="4"/><rect x="2154.2" y="47" width="1.2" height="8"/><rect x="2151.8" y="682" width="6" height="8"/><rect x="2202.0" y="47" width="1.2" height="4"/><rect x="2199.6" y="686" width="6" height="4"/><rect x="2249.8" y="47" width="1.2" height="4"/><rect x="2247.4" y="686" width="6" height="4"/><rect x="2297.7" y="47" width="1.2" height="4"/><rect x="2295.3" y="686" width="6" height="4"/><rect x="2345.6" y="47" width="1.2" height="4"/><rect x="2343.2" y="686" width="6" height="4"/><rect x="2393.4" y="47" width="1.2" height="8"/><rect x="2391.0" y="682" width="6" height="8"/><rect x="1419" y="665.3" width="8" height="6"/><rect x="2402" y="667.7" width="9" height="1.2"/><rect x="1419" y="641.3" width="4" height="6"/><rect x="2406" y="643.7" width="5" height="1.2"/><rect x="1419" y="617.4" width="4" height="6"/><rect x="2406" y="619.8" width="5" height="1.2"/><rect x="1419" y="593.4" width="4" height="6"/><rect x="2406" y="595.8" width="5" height="1.2"/><rect x="1419" y="569.5" width="4" height="6"/><rect x="2406" y="571.9" width="5" height="1.2"/><rect x="1419" y="545.5" width="8" height="6"/><rect x="2402" y="547.9" width="9" height="1.2"/><rect x="1419" y="521.5" width="4" height="6"/><rect x="2406" y="523.9" width="5" height="1.2"/><rect x="1419" y="497.6" width="4" height="6"/><rect x="2406" y="500.0" width="5" height="1.2"/><rect x="1419" y="473.6" width="4" height="6"/><rect x="2406" y="476.0" width="5" height="1.2"/><rect x="1419" y="449.7" width="4" height="6"/><rect x="2406" y="452.1" width="5" height="1.2"/><rect x="1419" y="425.7" width="8" height="6"/><rect x="2402" y="428.1" width="9" height="1.2"/><rect x="1419" y="401.7" width="4" height="6"/><rect x="2406" y="404.1" width="5" height="1.2"/><rect x="1419" y="377.8" width="4" height="6"/><rect x="2406" y="380.2" width="5" height="1.2"/><rect x="1419" y="353.8" width="4" height="6"/><rect x="2406" y="356.2" width="5" height="1.2"/><rect x="1419" y="329.9" width="4" height="6"/><rect x="2406" y="332.3" width="5" height="1.2"/><rect x="1419" y="305.9" width="8" height="6"/><rect x="2402" y="308.3" width="9" height="1.2"/><rect x="1419" y="281.9" width="4" height="6"/><rect x="2406" y="284.3" width="5" height="1.2"/><rect x="1419" y="258.0" width="4" height="6"/><rect x="2406" y="260.4" width="5" height="1.2"/><rect x="1419" y="234.0" width="4" height="6"/><rect x="2406" y="236.4" width="5" height="1.2"/><rect x="1419" y="210.1" width="4" height="6"/><rect x="2406" y="212.5" width="5" height="1.2"/><rect x="1419" y="186.1" width="8" height="6"/><rect x="2402" y="188.5" width="9" height="1.2"/><rect x="1419" y="162.1" width="4" height="6"/><rect x="2406" y="164.5" width="5" height="1.2"/><rect x="1419" y="138.2" width="4" height="6"/><rect x="2406" y="140.6" width="5" height="1.2"/><rect x="1419" y="114.2" width="4" height="6"/><rect x="2406" y="116.6" width="5" height="1.2"/><rect x="1419" y="90.3" width="4" height="6"/><rect x="2406" y="92.7" width="5" height="1.2"/><rect x="1419" y="66.3" width="8" height="6"/><rect x="2402" y="68.7" width="9" height="1.2"/></g>
<rect x="219.0" y="705.0" width="998" height="662" fill="none" stroke="#000" stroke-width="6"/>
<g fill="#000"><rect x="236.0" y="707" width="6" height="7"/><rect x="236.0" y="1358" width="6" height="7"/><rect x="268.0" y="707" width="6" height="4"/><rect x="268.0" y="1361" width="6" height="4"/><rect x="299.9" y="707" width="6" height="4"/><rect x="299.9" y="1361" width="6" height="4"/><rect x="331.9" y="707" width="6" height="4"/><rect x="331.9" y="1361" width="6" height="4"/><rect x="363.9" y="707" width="6" height="4"/><rect x="363.9" y="1361" width="6" height="4"/><rect x="395.9" y="707" width="6" height="7"/><rect x="395.9" y="1358" width="6" height="7"/><rect x="427.8" y="707" width="6" height="4"/><rect x="427.8" y="1361" width="6" height="4"/><rect x="459.8" y="707" width="6" height="4"/><rect x="459.8" y="1361" width="6" height="4"/><rect x="491.8" y="707" width="6" height="4"/><rect x="491.8" y="1361" width="6" height="4"/><rect x="523.7" y="707" width="6" height="4"/><rect x="523.7" y="1361" width="6" height="4"/><rect x="555.7" y="707" width="6" height="7"/><rect x="555.7" y="1358" width="6" height="7"/><rect x="587.7" y="707" width="6" height="4"/><rect x="587.7" y="1361" width="6" height="4"/><rect x="619.6" y="707" width="6" height="4"/><rect x="619.6" y="1361" width="6" height="4"/><rect x="651.6" y="707" width="6" height="4"/><rect x="651.6" y="1361" width="6" height="4"/><rect x="683.6" y="707" width="6" height="4"/><rect x="683.6" y="1361" width="6" height="4"/><rect x="715.5" y="707" width="6" height="7"/><rect x="715.5" y="1358" width="6" height="7"/><rect x="747.5" y="707" width="6" height="4"/><rect x="747.5" y="1361" width="6" height="4"/><rect x="779.5" y="707" width="6" height="4"/><rect x="779.5" y="1361" width="6" height="4"/><rect x="811.5" y="707" width="6" height="4"/><rect x="811.5" y="1361" width="6" height="4"/><rect x="843.4" y="707" width="6" height="4"/><rect x="843.4" y="1361" width="6" height="4"/><rect x="875.4" y="707" width="6" height="7"/><rect x="875.4" y="1358" width="6" height="7"/><rect x="907.4" y="707" width="6" height="4"/><rect x="907.4" y="1361" width="6" height="4"/><rect x="939.3" y="707" width="6" height="4"/><rect x="939.3" y="1361" width="6" height="4"/><rect x="971.3" y="707" width="6" height="4"/><rect x="971.3" y="1361" width="6" height="4"/><rect x="1003.3" y="707" width="6" height="4"/><rect x="1003.3" y="1361" width="6" height="4"/><rect x="1035.2" y="707" width="6" height="7"/><rect x="1035.2" y="1358" width="6" height="7"/><rect x="1067.2" y="707" width="6" height="4"/><rect x="1067.2" y="1361" width="6" height="4"/><rect x="1099.2" y="707" width="6" height="4"/><rect x="1099.2" y="1361" width="6" height="4"/><rect x="1131.2" y="707" width="6" height="4"/><rect x="1131.2" y="1361" width="6" height="4"/><rect x="1163.1" y="707" width="6" height="4"/><rect x="1163.1" y="1361" width="6" height="4"/><rect x="1195.1" y="707" width="6" height="7"/><rect x="1195.1" y="1358" width="6" height="7"/><rect x="221" y="1350.2" width="7" height="6"/><rect x="1207" y="1350.2" width="8" height="6"/><rect x="221" y="1319.4" width="4" height="6"/><rect x="1211" y="1319.4" width="4" height="6"/><rect x="221" y="1288.7" width="4" height="6"/><rect x="1211" y="1288.7" width="4" height="6"/><rect x="221" y="1257.9" width="4" height="6"/><rect x="1211" y="1257.9" width="4" height="6"/><rect x="221" y="1227.1" width="7" height="6"/><rect x="1207" y="1227.1" width="8" height="6"/><rect x="221" y="1196.4" width="4" height="6"/><rect x="1211" y="1196.4" width="4" height="6"/><rect x="221" y="1165.6" width="4" height="6"/><rect x="1211" y="1165.6" width="4" height="6"/><rect x="221" y="1134.8" width="4" height="6"/><rect x="1211" y="1134.8" width="4" height="6"/><rect x="221" y="1104.0" width="7" height="6"/><rect x="1207" y="1104.0" width="8" height="6"/><rect x="221" y="1073.3" width="4" height="6"/><rect x="1211" y="1073.3" width="4" height="6"/><rect x="221" y="1042.5" width="4" height="6"/><rect x="1211" y="1042.5" width="4" height="6"/><rect x="221" y="1011.7" width="4" height="6"/><rect x="1211" y="1011.7" width="4" height="6"/><rect x="221" y="981.0" width="7" height="6"/><rect x="1207" y="981.0" width="8" height="6"/><rect x="221" y="950.2" width="4" height="6"/><rect x="1211" y="950.2" width="4" height="6"/><rect x="221" y="919.4" width="4" height="6"/><rect x="1211" y="919.4" width="4" height="6"/><rect x="221" y="888.7" width="4" height="6"/><rect x="1211" y="888.7" width="4" height="6"/><rect x="221" y="857.9" width="7" height="6"/><rect x="1207" y="857.9" width="8" height="6"/><rect x="221" y="827.1" width="4" height="6"/><rect x="1211" y="827.1" width="4" height="6"/><rect x="221" y="796.3" width="4" height="6"/><rect x="1211" y="796.3" width="4" height="6"/><rect x="221" y="765.6" width="4" height="6"/><rect x="1211" y="765.6" width="4" height="6"/><rect x="221" y="734.8" width="7" height="6"/><rect x="1207" y="734.8" width="8" height="6"/><rect x="221" y="704.0" width="4" height="6"/><rect x="1211" y="704.0" width="4" height="6"/></g>
<rect x="1417.0" y="707.0" width="996" height="665" fill="none" stroke="#000" stroke-width="6"/>
<g fill="#000"><rect x="1434.0" y="709" width="6" height="11"/><rect x="1434.0" y="1362" width="6" height="8"/><rect x="1481.8" y="709" width="6" height="7"/><rect x="1481.8" y="1366" width="6" height="4"/><rect x="1529.7" y="709" width="6" height="7"/><rect x="1529.7" y="1366" width="6" height="4"/><rect x="1577.5" y="709" width="6" height="7"/><rect x="1577.5" y="1366" width="6" height="4"/><rect x="1625.4" y="709" width="6" height="7"/><rect x="1625.4" y="1366" width="6" height="4"/><rect x="1673.2" y="709" width="6" height="11"/><rect x="1673.2" y="1362" width="6" height="8"/><rect x="1721.1" y="709" width="6" height="7"/><rect x="1721.1" y="1366" width="6" height="4"/><rect x="1769.0" y="709" width="6" height="7"/><rect x="1769.0" y="1366" width="6" height="4"/><rect x="1816.8" y="709" width="6" height="7"/><rect x="1816.8" y="1366" width="6" height="4"/><rect x="1864.7" y="709" width="6" height="7"/><rect x="1864.7" y="1366" width="6" height="4"/><rect x="1912.5" y="709" width="6" height="11"/><rect x="1912.5" y="1362" width="6" height="8"/><rect x="1960.3" y="709" width="6" height="7"/><rect x="1960.3" y="1366" width="6" height="4"/><rect x="2008.2" y="709" width="6" height="7"/><rect x="2008.2" y="1366" width="6" height="4"/><rect x="2056.1" y="709" width="6" height="7"/><rect x="2056.1" y="1366" width="6" height="4"/><rect x="2103.9" y="709" width="6" height="7"/><rect x="2103.9" y="1366" width="6" height="4"/><rect x="2151.8" y="709" width="6" height="11"/><rect x="2151.8" y="1362" width="6" height="8"/><rect x="2199.6" y="709" width="6" height="7"/><rect x="2199.6" y="1366" width="6" height="4"/><rect x="2247.4" y="709" width="6" height="7"/><rect x="2247.4" y="1366" width="6" height="4"/><rect x="2295.3" y="709" width="6" height="7"/><rect x="2295.3" y="1366" width="6" height="4"/><rect x="2343.2" y="709" width="6" height="7"/><rect x="2343.2" y="1366" width="6" height="4"/><rect x="2391.0" y="709" width="6" height="11"/><rect x="2391.0" y="1362" width="6" height="8"/><rect x="1419" y="1339.1" width="4" height="6"/><rect x="2406" y="1341.5" width="5" height="1.2"/><rect x="1419" y="1306.7" width="4" height="6"/><rect x="2406" y="1309.1" width="5" height="1.2"/><rect x="1419" y="1274.3" width="4" height="6"/><rect x="2406" y="1276.7" width="5" height="1.2"/><rect x="1419" y="1241.9" width="8" height="6"/><rect x="2402" y="1244.3" width="9" height="1.2"/><rect x="1419" y="1209.5" width="4" height="6"/><rect x="2406" y="1211.9" width="5" height="1.2"/><rect x="1419" y="1177.1" width="4" height="6"/><rect x="2406" y="1179.5" width="5" height="1.2"/><rect x="1419" y="1144.7" width="4" height="6"/><rect x="2406" y="1147.1" width="5" height="1.2"/><rect x="1419" y="1112.3" width="8" height="6"/><rect x="2402" y="1114.7" width="9" height="1.2"/><rect x="1419" y="1079.9" width="4" height="6"/><rect x="2406" y="1082.3" width="5" height="1.2"/><rect x="1419" y="1047.5" width="4" height="6"/><rect x="2406" y="1049.9" width="5" height="1.2"/><rect x="1419" y="1015.1" width="4" height="6"/><rect x="2406" y="1017.5" width="5" height="1.2"/><rect x="1419" y="982.7" width="8" height="6"/><rect x="2402" y="985.1" width="9" height="1.2"/><rect x="1419" y="950.3" width="4" height="6"/><rect x="2406" y="952.7" width="5" height="1.2"/><rect x="1419" y="917.9" width="4" height="6"/><rect x="2406" y="920.3" width="5" height="1.2"/><rect x="1419" y="885.5" width="4" height="6"/><rect x="2406" y="887.9" width="5" height="1.2"/><rect x="1419" y="853.1" width="8" height="6"/><rect x="2402" y="855.5" width="9" height="1.2"/><rect x="1419" y="820.7" width="4" height="6"/><rect x="2406" y="823.1" width="5" height="1.2"/><rect x="1419" y="788.3" width="4" height="6"/><rect x="2406" y="790.7" width="5" height="1.2"/><rect x="1419" y="755.9" width="4" height="6"/><rect x="2406" y="758.3" width="5" height="1.2"/><rect x="1419" y="723.5" width="8" height="6"/><rect x="2402" y="725.9" width="9" height="1.2"/></g>
<g transform="translate(117.80,99.60) scale(0.9912,1.0131)" fill="#616161" stroke="#616161" stroke-width="0.9" stroke-linejoin="miter"><text font-family="'Liberation Sans', Arial, Helvetica, sans-serif" font-weight="bold" font-style="normal" font-size="67">0.5</text></g>
<g transform="translate(118.30,221.20) scale(0.9693,1.0376)" fill="#616161" stroke="#616161" stroke-width="0.9" stroke-linejoin="miter"><text font-family="'Liberation Sans', Arial, Helvetica, sans-serif" font-weight="bold" font-style="normal" font-size="67">0.4</text></g>
<g transform="translate(118.00,340.80) scale(0.9888,1.0131)" fill="#616161" stroke="#616161" stroke-width="0.9" stroke-linejoin="miter"><text font-family="'Liberation Sans', Arial, Helvetica, sans-serif" font-weight="bold" font-style="normal" font-size="67">0.3</text></g>
<g transform="translate(117.80,462.15) scale(0.9911,1.0502)" fill="#616161" stroke="#616161" stroke-width="0.9" stroke-linejoin="miter"><text font-family="'Liberation Sans', Arial, Helvetica, sans-serif" font-weight="bold" font-style="normal" font-size="67">0.2</text></g>
<g transform="translate(118.25,582.35) scale(1.0127,1.0418)" fill="#616161" stroke="#616161" stroke-width="0.9" stroke-linejoin="miter"><clipPath id="k1"><rect x="-67" y="-134" width="335" height="125.62"/><rect x="-67.00" y="-8.58" width="124.22" height="20.10"/><rect x="71.52" y="-8.58" width="9.19" height="20.10"/><rect x="92.39" y="-8.58" width="67.74" height="20.10"/></clipPath><text clip-path="url(#k1)" font-family="'Liberation Sans', Arial, Helvetica, sans-serif" font-weight="bold" font-style="normal" font-size="67">0.1</text></g>
<g transform="translate(118.15,702.30) scale(0.9843,1.0131)" fill="#616161" stroke="#616161" stroke-width="0.9" stroke-linejoin="miter"><text font-family="'Liberation Sans', Arial, Helvetica, sans-serif" font-weight="bold" font-style="normal" font-size="67">0.0</text></g>
<g transform="translate(120.25,761.20) scale(0.9609,1.0167)" fill="#616161" stroke="#616161" stroke-width="0.9" stroke-linejoin="miter"><clipPath id="k2"><rect x="-67" y="-134" width="335" height="125.62"/><rect x="-67.00" y="-8.58" width="68.34" height="20.10"/><rect x="15.64" y="-8.58" width="9.19" height="20.10"/><rect x="36.52" y="-8.58" width="123.61" height="20.10"/></clipPath><text clip-path="url(#k2)" font-family="'Liberation Sans', Arial, Helvetica, sans-serif" font-weight="bold" font-style="normal" font-size="67">1.0</text></g>
<g transform="translate(119.65,885.35) scale(0.9556,1.0418)" fill="#616161" stroke="#616161" stroke-width="0.9" stroke-linejoin="miter"><text font-family="'Liberation Sans', Arial, Helvetica, sans-serif" font-weight="bold" font-style="normal" font-size="67">0.8</text></g>
<g transform="translate(120.00,1007.55) scale(0.9600,1.0172)" fill="#616161" stroke="#616161" stroke-width="0.9" stroke-linejoin="miter"><text font-family="'Liberation Sans', Arial, Helvetica, sans-serif" font-weight="bold" font-style="normal" font-size="67">0.</text></g>
<g transform="translate(120.20,1130.85) scale(0.9473,1.0418)" fill="#616161" stroke="#616161" stroke-width="0.9" stroke-linejoin="miter"><text font-family="'Liberation Sans', Arial, Helvetica, sans-serif" font-weight="bold" font-style="normal" font-size="67">0.4</text></g>
<g transform="translate(119.65,1254.60) scale(0.9663,1.0376)" fill="#616161" stroke="#616161" stroke-width="0.9" stroke-linejoin="miter"><text font-family="'Liberation Sans', Arial, Helvetica, sans-serif" font-weight="bold" font-style="normal" font-size="67">0.2</text></g>
<g transform="translate(119.65,1377.25) scale(0.9663,1.0418)" fill="#616161" stroke="#616161" stroke-width="0.9" stroke-linejoin="miter"><text font-family="'Liberation Sans', Arial, Helvetica, sans-serif" font-weight="bold" font-style="normal" font-size="67">0.0</text></g>
<g transform="translate(169.45,1006.95) scale(1.1822,1.1130)" fill="#6E6E6E"><text font-family="'Liberation Serif', 'Times New Roman', Times, serif" font-weight="bold" font-style="normal" font-size="70">6</text></g>
<g transform="translate(1317.50,690.40) scale(0.9911,1.0460)" fill="#616161" stroke="#616161" stroke-width="0.9" stroke-linejoin="miter"><text font-family="'Liberation Sans', Arial, Helvetica, sans-serif" font-weight="bold" font-style="normal" font-size="67">0.0</text></g>
<g transform="translate(1317.35,569.80) scale(1.0203,1.0460)" fill="#616161" stroke="#616161" stroke-width="0.9" stroke-linejoin="miter"><clipPath id="k3"><rect x="-67" y="-134" width="335" height="125.62"/><rect x="-67.00" y="-8.58" width="124.22" height="20.10"/><rect x="71.52" y="-8.58" width="9.19" height="20.10"/><rect x="92.39" y="-8.58" width="67.74" height="20.10"/></clipPath><text clip-path="url(#k3)" font-family="'Liberation Sans', Arial, Helvetica, sans-serif" font-weight="bold" font-style="normal" font-size="67">0.1</text></g>
<g transform="translate(1317.50,449.20) scale(0.9911,1.0460)" fill="#616161" stroke="#616161" stroke-width="0.9" stroke-linejoin="miter"><text font-family="'Liberation Sans', Arial, Helvetica, sans-serif" font-weight="bold" font-style="normal" font-size="67">0.2</text></g>
<g transform="translate(1318.00,328.60) scale(0.9798,1.0460)" fill="#616161" stroke="#616161" stroke-width="0.9" stroke-linejoin="miter"><text font-family="'Liberation Sans', Arial, Helvetica, sans-serif" font-weight="bold" font-style="normal" font-size="67">0.3</text></g>
<g transform="translate(1318.00,208.00) scale(0.9583,1.0460)" fill="#616161" stroke="#616161" stroke-width="0.9" stroke-linejoin="miter"><text font-family="'Liberation Sans', Arial, Helvetica, sans-serif" font-weight="bold" font-style="normal" font-size="67">0.4</text></g>
<g transform="translate(1317.50,87.40) scale(0.9800,1.0460)" fill="#616161" stroke="#616161" stroke-width="0.9" stroke-linejoin="miter"><text font-family="'Liberation Sans', Arial, Helvetica, sans-serif" font-weight="bold" font-style="normal" font-size="67">0.5</text></g>
<g transform="translate(1318.50,769.10) scale(0.9655,1.0460)" fill="#616161" stroke="#616161" stroke-width="0.9" stroke-linejoin="miter"><clipPath id="k4"><rect x="-67" y="-134" width="335" height="125.62"/><rect x="-67.00" y="-8.58" width="68.34" height="20.10"/><rect x="15.64" y="-8.58" width="9.19" height="20.10"/><rect x="36.52" y="-8.58" width="123.61" height="20.10"/></clipPath><text clip-path="url(#k4)" font-family="'Liberation Sans', Arial, Helvetica, sans-serif" font-weight="bold" font-style="normal" font-size="67">1.0</text></g>
<g transform="translate(1314.35,881.05) scale(0.9490,1.0418)" fill="#616161" stroke="#616161" stroke-width="0.9" stroke-linejoin="miter"><text font-family="'Liberation Sans', Arial, Helvetica, sans-serif" font-weight="bold" font-style="normal" font-size="67">0.8</text></g>
<g transform="translate(1321.10,1015.05) scale(0.9438,1.0167)" fill="#616161" stroke="#616161" stroke-width="0.9" stroke-linejoin="miter"><text font-family="'Liberation Sans', Arial, Helvetica, sans-serif" font-weight="bold" font-style="normal" font-size="67">0.6</text></g>
<g transform="translate(1311.75,1140.40) scale(0.9605,1.0376)" fill="#616161" stroke="#616161" stroke-width="0.9" stroke-linejoin="miter"><text font-family="'Liberation Sans', Arial, Helvetica, sans-serif" font-weight="bold" font-style="normal" font-size="67">0.4</text></g>
<g transform="translate(1313.80,1268.00) scale(0.9753,1.0292)" fill="#616161" stroke="#616161" stroke-width="0.9" stroke-linejoin="miter"><text font-family="'Liberation Sans', Arial, Helvetica, sans-serif" font-weight="bold" font-style="normal" font-size="67">0.2</text></g>
<g transform="translate(1318.05,1390.35) scale(0.9573,1.0502)" fill="#616161" stroke="#616161" stroke-width="0.9" stroke-linejoin="miter"><text font-family="'Liberation Sans', Arial, Helvetica, sans-serif" font-weight="bold" font-style="normal" font-size="67">0.0</text></g>
<g transform="translate(1373.00,1015.25) scale(0.9667,1.1088)" fill="#686868"><text font-family="'Liberation Serif', 'Times New Roman', Times, serif" font-weight="normal" font-style="normal" font-size="70">6</text></g>
<g transform="translate(220.45,1437.60) scale(0.9699,1.0459)" fill="#616161" stroke="#616161" stroke-width="0.9" stroke-linejoin="miter"><text font-family="'Liberation Sans', Arial, Helvetica, sans-serif" font-weight="bold" font-style="normal" font-size="67">0</text></g>
<g transform="translate(381.15,1437.65) scale(0.9589,1.0427)" fill="#616161" stroke="#616161" stroke-width="0.9" stroke-linejoin="miter"><text font-family="'Liberation Sans', Arial, Helvetica, sans-serif" font-weight="bold" font-style="normal" font-size="67">5</text></g>
<g transform="translate(523.00,1436.45) scale(0.9589,1.0335)" fill="#616161" stroke="#616161" stroke-width="0.9" stroke-linejoin="miter"><clipPath id="k5"><rect x="-67" y="-134" width="268" height="125.62"/><rect x="-67.00" y="-8.58" width="68.34" height="20.10"/><rect x="15.64" y="-8.58" width="9.19" height="20.10"/><rect x="36.52" y="-8.58" width="104.99" height="20.10"/></clipPath><text clip-path="url(#k5)" font-family="'Liberation Sans', Arial, Helvetica, sans-serif" font-weight="bold" font-style="normal" font-size="67">10</text></g>
<g transform="translate(682.30,1436.95) scale(0.9768,1.0555)" fill="#616161" stroke="#616161" stroke-width="0.9" stroke-linejoin="miter"><clipPath id="k6"><rect x="-67" y="-134" width="268" height="125.62"/><rect x="-67.00" y="-8.58" width="68.34" height="20.10"/><rect x="15.64" y="-8.58" width="9.19" height="20.10"/><rect x="36.52" y="-8.58" width="104.99" height="20.10"/></clipPath><text clip-path="url(#k6)" font-family="'Liberation Sans', Arial, Helvetica, sans-serif" font-weight="bold" font-style="normal" font-size="67">15</text></g>
<g transform="translate(841.45,1436.45) scale(0.9743,1.0335)" fill="#616161" stroke="#616161" stroke-width="0.9" stroke-linejoin="miter"><text font-family="'Liberation Sans', Arial, Helvetica, sans-serif" font-weight="bold" font-style="normal" font-size="67">20</text></g>
<g transform="translate(1001.30,1437.60) scale(0.9916,1.0459)" fill="#616161" stroke="#616161" stroke-width="0.9" stroke-linejoin="miter"><text font-family="'Liberation Sans', Arial, Helvetica, sans-serif" font-weight="bold" font-style="normal" font-size="67">25</text></g>
<g transform="translate(1162.35,1437.60) scale(0.9634,1.0459)" fill="#616161" stroke="#616161" stroke-width="0.9" stroke-linejoin="miter"><text font-family="'Liberation Sans', Arial, Helvetica, sans-serif" font-weight="bold" font-style="normal" font-size="67">30</text></g>
<g transform="translate(1419.95,1437.90) scale(0.9612,1.0269)" fill="#616161" stroke="#616161" stroke-width="0.9" stroke-linejoin="miter"><text font-family="'Liberation Sans', Arial, Helvetica, sans-serif" font-weight="bold" font-style="normal" font-size="72">0</text></g>
<g transform="translate(1655.95,1436.90) scale(0.9784,1.0471)" fill="#616161" stroke="#616161" stroke-width="0.9" stroke-linejoin="miter"><text font-family="'Liberation Sans', Arial, Helvetica, sans-serif" font-weight="bold" font-style="normal" font-size="72">5</text></g>
<g transform="translate(1875.30,1434.90) scale(0.9730,1.0462)" fill="#616161" stroke="#616161" stroke-width="0.9" stroke-linejoin="miter"><clipPath id="k7"><rect x="-72" y="-144" width="288" height="135.00"/><rect x="-72.00" y="-9.22" width="73.44" height="21.60"/><rect x="16.80" y="-9.22" width="9.88" height="21.60"/><rect x="39.24" y="-9.22" width="112.82" height="21.60"/></clipPath><text clip-path="url(#k7)" font-family="'Liberation Sans', Arial, Helvetica, sans-serif" font-weight="bold" font-style="normal" font-size="72">10</text></g>
<g transform="translate(2111.15,1434.80) scale(0.9812,1.0432)" fill="#616161" stroke="#616161" stroke-width="0.9" stroke-linejoin="miter"><clipPath id="k8"><rect x="-72" y="-144" width="288" height="135.00"/><rect x="-72.00" y="-9.22" width="73.44" height="21.60"/><rect x="16.80" y="-9.22" width="9.88" height="21.60"/><rect x="39.24" y="-9.22" width="112.82" height="21.60"/></clipPath><text clip-path="url(#k8)" font-family="'Liberation Sans', Arial, Helvetica, sans-serif" font-weight="bold" font-style="normal" font-size="72">15</text></g>
<g transform="translate(2348.95,1435.80) scale(1.0053,1.0192)" fill="#616161" stroke="#616161" stroke-width="0.9" stroke-linejoin="miter"><text font-family="'Liberation Sans', Arial, Helvetica, sans-serif" font-weight="bold" font-style="normal" font-size="72">20</text></g>
<g transform="translate(661.00,1507.95) scale(0.9926,1.0483)" fill="#616161" stroke="#616161" stroke-width="0.9" stroke-linejoin="miter"><text font-family="'Liberation Sans', Arial, Helvetica, sans-serif" font-weight="bold" font-size="67">L<tspan>/</tspan><tspan font-style="italic">L</tspan><tspan font-size="48" dy="11.7">BS</tspan></text></g>
<g transform="translate(1859.05,1502.95) scale(0.8979,1.0197)" fill="#616161" stroke="#616161" stroke-width="0.9" stroke-linejoin="miter"><text font-family="'Liberation Sans', Arial, Helvetica, sans-serif" font-weight="bold" font-size="86"><tspan font-style="italic">σ</tspan><tspan>/</tspan>Ω</text></g>
<g transform="translate(89.40,447.95) rotate(-90) scale(0.9922,1.0192)" fill="#616161" stroke="#616161" stroke-width="0.9" stroke-linejoin="miter"><text font-family="'Liberation Sans', Arial, Helvetica, sans-serif" font-weight="bold" font-style="italic" font-size="76">P</text></g>
<g transform="translate(103.10,400.00) rotate(-90) scale(0.9649,1.0000)" fill="#616161" stroke="#616161" stroke-width="0.9" stroke-linejoin="miter"><text font-family="'Liberation Sans', Arial, Helvetica, sans-serif" font-weight="bold" font-style="normal" font-size="56">0,2</text></g>
<g transform="translate(88.55,1100.95) rotate(-90) scale(0.9840,0.9965)" fill="#616161" stroke="#616161" stroke-width="0.9" stroke-linejoin="miter"><text font-family="'Liberation Sans', Arial, Helvetica, sans-serif" font-weight="bold" font-style="italic" font-size="76">P</text></g>
<g transform="translate(111.00,1069.90) rotate(-90) scale(0.9786,1.0000)" fill="#767676" stroke="#767676" stroke-width="0.9" stroke-linejoin="miter"><text font-family="'DejaVu Sans', 'Liberation Sans', sans-serif" font-weight="bold" font-style="normal" font-size="40">1,1</text></g>
<g transform="translate(296.10,129.95) scale(0.7923,0.7815)" fill="#555555"><text font-family="'Liberation Serif', 'Times New Roman', Times, serif" font-weight="normal" font-style="normal" font-size="95">(</text></g>
<g transform="translate(321.15,130.05) scale(0.9895,0.9295)" fill="#555555"><text font-family="'Liberation Serif', 'Times New Roman', Times, serif" font-weight="normal" font-style="normal" font-size="95">a</text></g>
<g transform="translate(360.85,129.95) scale(0.8085,0.7930)" fill="#555555"><text font-family="'Liberation Serif', 'Times New Roman', Times, serif" font-weight="normal" font-style="normal" font-size="95">)</text></g>
<g transform="translate(1457.55,135.50) scale(1.0334,0.9657)" fill="#555555"><text font-family="'Liberation Serif', 'Times New Roman', Times, serif" font-weight="normal" font-style="normal" font-size="95">(</text></g>
<g transform="translate(1490.95,134.95) scale(0.9500,0.9642)" fill="#555555"><text font-family="'Liberation Serif', 'Times New Roman', Times, serif" font-weight="normal" font-style="normal" font-size="95">b</text></g>
<g transform="translate(1534.30,135.50) scale(1.0016,0.9536)" fill="#555555"><text font-family="'Liberation Serif', 'Times New Roman', Times, serif" font-weight="normal" font-style="normal" font-size="95">)</text></g>
<g transform="translate(297.15,1321.50) scale(1.0168,0.9536)" fill="#555555"><text font-family="'Liberation Serif', 'Times New Roman', Times, serif" font-weight="normal" font-style="normal" font-size="95">(</text></g>
<g transform="translate(327.05,1321.00) scale(0.9772,0.9435)" fill="#555555"><text font-family="'Liberation Serif', 'Times New Roman', Times, serif" font-weight="normal" font-style="normal" font-size="95">c</text></g>
<g transform="translate(367.90,1321.50) scale(1.0251,0.9536)" fill="#555555"><text font-family="'Liberation Serif', 'Times New Roman', Times, serif" font-weight="normal" font-style="normal" font-size="95">)</text></g>
<g transform="translate(1481.00,1290.40) scale(1.0000,0.9657)" fill="#555555"><text font-family="'Liberation Serif', 'Times New Roman', Times, serif" font-weight="normal" font-style="normal" font-size="95">(</text></g>
<g transform="translate(1511.40,1289.95) scale(0.9861,0.9522)" fill="#555555"><text font-family="'Liberation Serif', 'Times New Roman', Times, serif" font-weight="normal" font-style="normal" font-size="95">d</text></g>
<g transform="translate(1557.00,1290.40) scale(1.0339,0.9536)" fill="#555555"><text font-family="'Liberation Serif', 'Times New Roman', Times, serif" font-weight="normal" font-style="normal" font-size="95">)</text></g>
<g transform="translate(1937.20,223.05) scale(0.9832,1.0108)" fill="#616161" stroke="#616161" stroke-width="0.9" stroke-linejoin="miter"><text font-family="'Liberation Sans', Arial, Helvetica, sans-serif" font-weight="bold" font-size="84">L<tspan>/</tspan><tspan font-style="italic">L</tspan><tspan font-size="60" dy="14.6">BS</tspan></text></g>
<g transform="translate(2146.90,225.00) scale(1.1169,1.2541)" fill="#616161" stroke="#616161" stroke-width="0.9" stroke-linejoin="miter"><text font-family="'DejaVu Sans', 'Liberation Sans', sans-serif" font-weight="bold" font-style="normal" font-size="80">→</text></g>
<g transform="translate(2226.85,226.55) scale(1.2277,1.0976)" fill="#616161" stroke="#616161" stroke-width="0.9" stroke-linejoin="miter"><text font-family="'Liberation Sans', Arial, Helvetica, sans-serif" font-weight="bold" font-style="normal" font-size="100">∞</text></g>
<g transform="translate(1969.90,1280.95) scale(0.9861,1.0380)" fill="#616161" stroke="#616161" stroke-width="0.9" stroke-linejoin="miter"><text font-family="'Liberation Sans', Arial, Helvetica, sans-serif" font-weight="bold" font-size="84">L<tspan>/</tspan><tspan font-style="italic">L</tspan><tspan font-size="60" dy="14.6">BS</tspan></text></g>
<g transform="translate(2181.00,1282.20) scale(1.1034,1.2432)" fill="#616161" stroke="#616161" stroke-width="0.9" stroke-linejoin="miter"><text font-family="'DejaVu Sans', 'Liberation Sans', sans-serif" font-weight="bold" font-style="normal" font-size="80">→</text></g>
<g transform="translate(2260.15,1283.75) scale(1.2338,1.0920)" fill="#616161" stroke="#616161" stroke-width="0.9" stroke-linejoin="miter"><text font-family="'Liberation Sans', Arial, Helvetica, sans-serif" font-weight="bold" font-style="normal" font-size="100">∞</text></g>
<line x1="1225.5" y1="327.8" x2="1409.5" y2="328.2" stroke="#E19C24" stroke-width="4.0" stroke-dasharray="9.7 10.5" stroke-linecap="round"/><path d="M1451 328.3L1389.8 311.5L1406.5 328.3L1389.8 345.1Z" fill="#E19C24"/>
<line x1="1216.0" y1="414" x2="1458.7" y2="414.4" stroke="#559F27" stroke-width="4.0" stroke-dasharray="9.5 10.7" stroke-linecap="round"/><path d="M1501.2 414.5L1440 397.3L1455.7 414.5L1440 431.7Z" fill="#559F27"/>
<line x1="1226.1" y1="509.3" x2="1529.3" y2="510.5" stroke="#E05424" stroke-width="5.2" stroke-dasharray="10.7 11.5" stroke-linecap="round"/><path d="M1576.5 510.7L1510 491.4L1526.3 510.7L1510 530.0Z" fill="#E05424"/>
<line x1="1223.0" y1="562.6" x2="1628.0" y2="563.9" stroke="#6A5ACD" stroke-width="5.1" stroke-dasharray="10.6 11.5" stroke-linecap="round"/><path d="M1675.4 564L1608 545.2L1625 564L1608 582.8Z" fill="#6A5ACD"/>
<line x1="1226.2" y1="610.2" x2="1869.8" y2="612.1" stroke="#CC7A00" stroke-width="5.3" stroke-dasharray="10.6 11.6" stroke-linecap="round"/><path d="M1918.6 612.2L1849.6 593.1L1866.8 612.2L1849.6 631.3000000000001Z" fill="#CC7A00"/>
<line x1="1223.1" y1="791.2" x2="1865.7" y2="793.2" stroke="#CC7A00" stroke-width="5.3" stroke-dasharray="10.2 12.0" stroke-linecap="round"/><path d="M1912.3 793.3L1847 774.5L1862.7 793.3L1847 812.0999999999999Z" fill="#CC7A00"/>
<line x1="1227.8" y1="847.9" x2="1614.7" y2="849.3" stroke="#6A5ACD" stroke-width="5.3" stroke-dasharray="10.4 11.8" stroke-linecap="round"/><path d="M1662.8 849.5L1594.8 830.2L1611.7 849.5L1594.8 868.8Z" fill="#6A5ACD"/>
<line x1="1223.9" y1="904.4" x2="1529.3" y2="905.6" stroke="#E05424" stroke-width="5.2" stroke-dasharray="10.7 11.5" stroke-linecap="round"/><path d="M1578.1 905.8L1508.5 885.9L1526.3 905.8L1508.5 925.6999999999999Z" fill="#E05424"/>
<line x1="1218.2" y1="982.1" x2="1469.7" y2="982.7" stroke="#559F27" stroke-width="5.0" stroke-dasharray="10.7 11.3" stroke-linecap="round"/><path d="M1515.4 982.8L1449.5 964.0999999999999L1466.7 982.8L1449.5 1001.5Z" fill="#559F27"/>
<line x1="1217.7" y1="1076.2" x2="1401.3" y2="1076.7" stroke="#E19C24" stroke-width="4.0" stroke-dasharray="9.9 10.1" stroke-linecap="round"/><path d="M1445.4 1076.8L1382 1059.1L1398.3 1076.8L1382 1094.5Z" fill="#E19C24"/>
</svg>
</body></html>
